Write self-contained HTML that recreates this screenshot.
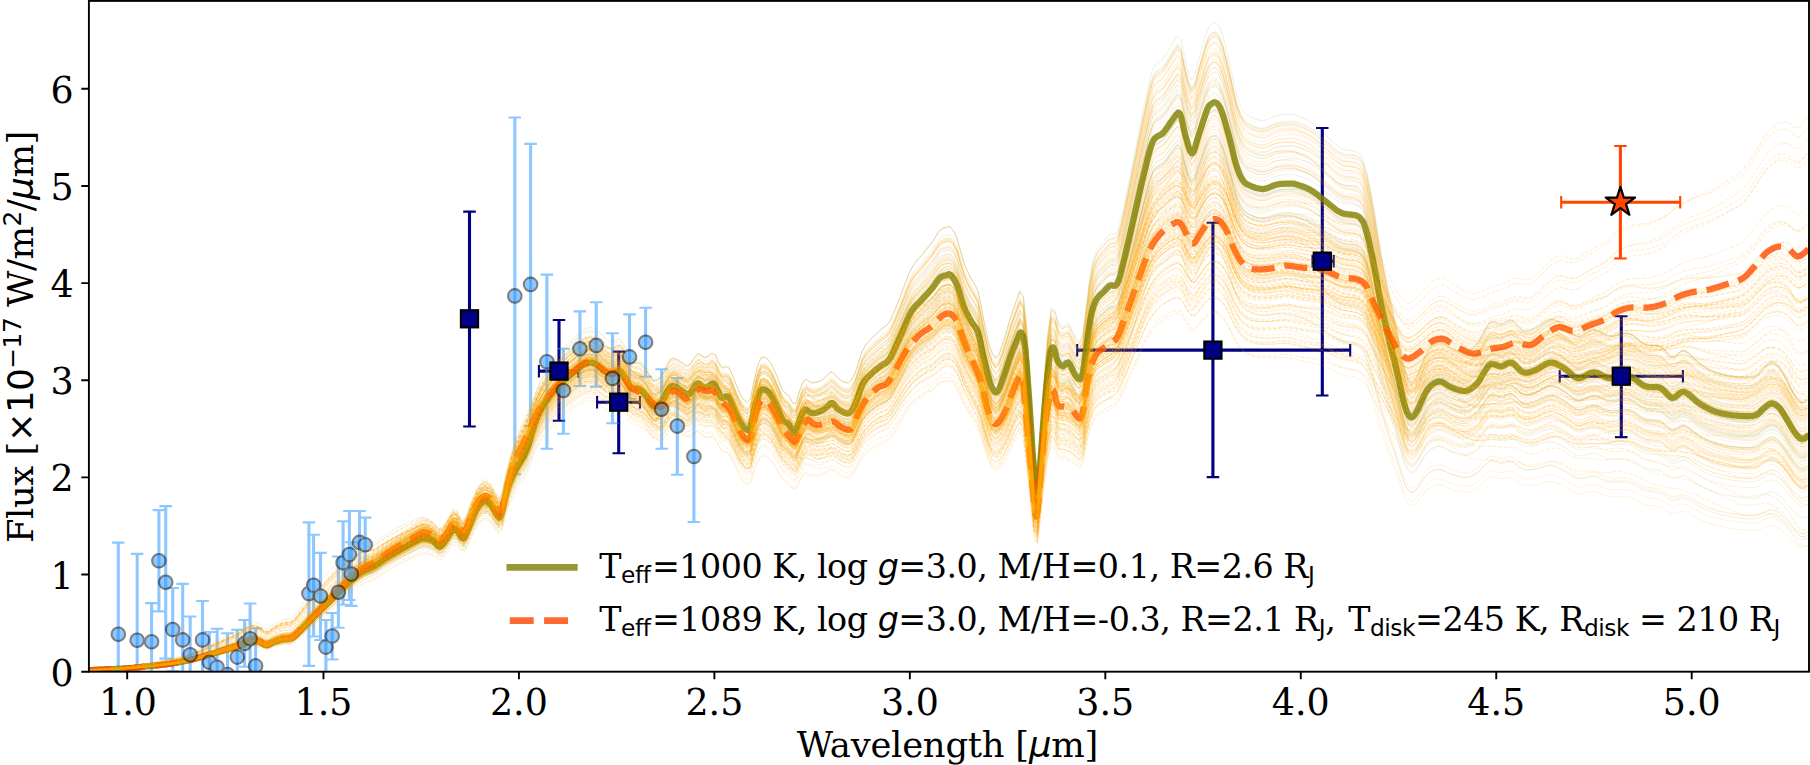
<!DOCTYPE html><html><head><meta charset="utf-8"><title>Spectrum</title><style>html,body{margin:0;padding:0;background:#fff}svg{display:block}</style></head><body><svg width="1810" height="765" viewBox="0 0 1810 765"><rect width="1810" height="765" fill="#fff"/><defs><clipPath id="ax"><rect x="88.9" y="0.9" width="1720.1" height="670.8000000000001"/></clipPath></defs><g clip-path="url(#ax)"><g id="navy-err"><path d="M469.5 211.6V426.5" stroke="#000080" stroke-width="3.1" fill="none"/><path d="M463.2 211.6H475.8M463.2 426.5H475.8" stroke="#000080" stroke-width="2.08" fill="none"/><path d="M559.0 320.0V420.7" stroke="#000080" stroke-width="3.1" fill="none"/><path d="M552.8 320.0H565.2M552.8 420.7H565.2" stroke="#000080" stroke-width="2.08" fill="none"/><path d="M538.9 371.1H578.2" stroke="#000080" stroke-width="3.1" fill="none"/><path d="M538.9 364.9V377.4M578.2 364.9V377.4" stroke="#000080" stroke-width="2.08" fill="none"/><path d="M618.7 351.6V453.3" stroke="#000080" stroke-width="3.1" fill="none"/><path d="M612.5 351.6H625.0M612.5 453.3H625.0" stroke="#000080" stroke-width="2.08" fill="none"/><path d="M597.1 402.2H640.0" stroke="#000080" stroke-width="3.1" fill="none"/><path d="M597.1 395.9V408.4M640.0 395.9V408.4" stroke="#000080" stroke-width="2.08" fill="none"/><path d="M1212.9 222.8V477.1" stroke="#000080" stroke-width="3.1" fill="none"/><path d="M1206.7 222.8H1219.2M1206.7 477.1H1219.2" stroke="#000080" stroke-width="2.08" fill="none"/><path d="M1077.2 350.1H1350.2" stroke="#000080" stroke-width="3.1" fill="none"/><path d="M1077.2 343.9V356.4M1350.2 343.9V356.4" stroke="#000080" stroke-width="2.08" fill="none"/><path d="M1322.3 128.0V395.5" stroke="#000080" stroke-width="3.1" fill="none"/><path d="M1316.0 128.0H1328.5M1316.0 395.5H1328.5" stroke="#000080" stroke-width="2.08" fill="none"/><path d="M1312.5 261.2H1333.7" stroke="#000080" stroke-width="3.1" fill="none"/><path d="M1312.5 254.9V267.4M1333.7 254.9V267.4" stroke="#000080" stroke-width="2.08" fill="none"/><path d="M1621.3 316.2V437.1" stroke="#000080" stroke-width="3.1" fill="none"/><path d="M1615.0 316.2H1627.5M1615.0 437.1H1627.5" stroke="#000080" stroke-width="2.08" fill="none"/><path d="M1559.7 376.2H1682.9" stroke="#000080" stroke-width="3.1" fill="none"/><path d="M1559.7 369.9V382.4M1682.9 369.9V382.4" stroke="#000080" stroke-width="2.08" fill="none"/></g><g id="blue-err" opacity="0.5"><path d="M118.3 542.6V726.0" stroke="#1e90ff" stroke-width="3.1" fill="none"/><path d="M112.0 542.6H124.5M112.0 726.0H124.5" stroke="#1e90ff" stroke-width="2.08" fill="none"/><path d="M137.2 553.9V726.7" stroke="#1e90ff" stroke-width="3.1" fill="none"/><path d="M130.9 553.9H143.4M130.9 726.7H143.4" stroke="#1e90ff" stroke-width="2.08" fill="none"/><path d="M151.6 603.1V680.5" stroke="#1e90ff" stroke-width="3.1" fill="none"/><path d="M145.3 603.1H157.8M145.3 680.5H157.8" stroke="#1e90ff" stroke-width="2.08" fill="none"/><path d="M158.9 510.1V611.4" stroke="#1e90ff" stroke-width="3.1" fill="none"/><path d="M152.7 510.1H165.2M152.7 611.4H165.2" stroke="#1e90ff" stroke-width="2.08" fill="none"/><path d="M165.7 506.1V658.6" stroke="#1e90ff" stroke-width="3.1" fill="none"/><path d="M159.4 506.1H171.9M159.4 658.6H171.9" stroke="#1e90ff" stroke-width="2.08" fill="none"/><path d="M172.7 588.0V671.0" stroke="#1e90ff" stroke-width="3.1" fill="none"/><path d="M166.4 588.0H178.9M166.4 671.0H178.9" stroke="#1e90ff" stroke-width="2.08" fill="none"/><path d="M182.7 583.9V696.0" stroke="#1e90ff" stroke-width="3.1" fill="none"/><path d="M176.4 583.9H188.9M176.4 696.0H188.9" stroke="#1e90ff" stroke-width="2.08" fill="none"/><path d="M190.2 616.5V693.0" stroke="#1e90ff" stroke-width="3.1" fill="none"/><path d="M183.9 616.5H196.4M183.9 693.0H196.4" stroke="#1e90ff" stroke-width="2.08" fill="none"/><path d="M202.5 601.0V678.8" stroke="#1e90ff" stroke-width="3.1" fill="none"/><path d="M196.2 601.0H208.8M196.2 678.8H208.8" stroke="#1e90ff" stroke-width="2.08" fill="none"/><path d="M209.4 632.0V692.0" stroke="#1e90ff" stroke-width="3.1" fill="none"/><path d="M203.2 632.0H215.7M203.2 692.0H215.7" stroke="#1e90ff" stroke-width="2.08" fill="none"/><path d="M217.1 628.8V705.0" stroke="#1e90ff" stroke-width="3.1" fill="none"/><path d="M210.8 628.8H223.3M210.8 705.0H223.3" stroke="#1e90ff" stroke-width="2.08" fill="none"/><path d="M227.5 633.3V710.0" stroke="#1e90ff" stroke-width="3.1" fill="none"/><path d="M221.2 633.3H233.8M221.2 710.0H233.8" stroke="#1e90ff" stroke-width="2.08" fill="none"/><path d="M237.3 629.7V684.5" stroke="#1e90ff" stroke-width="3.1" fill="none"/><path d="M231.1 629.7H243.6M231.1 684.5H243.6" stroke="#1e90ff" stroke-width="2.08" fill="none"/><path d="M244.6 620.0V666.8" stroke="#1e90ff" stroke-width="3.1" fill="none"/><path d="M238.3 620.0H250.8M238.3 666.8H250.8" stroke="#1e90ff" stroke-width="2.08" fill="none"/><path d="M250.1 603.5V674.0" stroke="#1e90ff" stroke-width="3.1" fill="none"/><path d="M243.8 603.5H256.4M243.8 674.0H256.4" stroke="#1e90ff" stroke-width="2.08" fill="none"/><path d="M255.6 628.4V703.0" stroke="#1e90ff" stroke-width="3.1" fill="none"/><path d="M249.3 628.4H261.9M249.3 703.0H261.9" stroke="#1e90ff" stroke-width="2.08" fill="none"/><path d="M308.9 522.4V665.9" stroke="#1e90ff" stroke-width="3.1" fill="none"/><path d="M302.6 522.4H315.1M302.6 665.9H315.1" stroke="#1e90ff" stroke-width="2.08" fill="none"/><path d="M313.6 534.8V636.5" stroke="#1e90ff" stroke-width="3.1" fill="none"/><path d="M307.4 534.8H319.9M307.4 636.5H319.9" stroke="#1e90ff" stroke-width="2.08" fill="none"/><path d="M320.5 552.9V640.0" stroke="#1e90ff" stroke-width="3.1" fill="none"/><path d="M314.2 552.9H326.8M314.2 640.0H326.8" stroke="#1e90ff" stroke-width="2.08" fill="none"/><path d="M325.9 620.0V674.0" stroke="#1e90ff" stroke-width="3.1" fill="none"/><path d="M319.6 620.0H332.1M319.6 674.0H332.1" stroke="#1e90ff" stroke-width="2.08" fill="none"/><path d="M332.2 613.0V659.5" stroke="#1e90ff" stroke-width="3.1" fill="none"/><path d="M325.9 613.0H338.4M325.9 659.5H338.4" stroke="#1e90ff" stroke-width="2.08" fill="none"/><path d="M338.4 556.5V627.8" stroke="#1e90ff" stroke-width="3.1" fill="none"/><path d="M332.1 556.5H344.6M332.1 627.8H344.6" stroke="#1e90ff" stroke-width="2.08" fill="none"/><path d="M343.1 521.2V604.7" stroke="#1e90ff" stroke-width="3.1" fill="none"/><path d="M336.9 521.2H349.4M336.9 604.7H349.4" stroke="#1e90ff" stroke-width="2.08" fill="none"/><path d="M349.4 511.0V600.0" stroke="#1e90ff" stroke-width="3.1" fill="none"/><path d="M343.1 511.0H355.6M343.1 600.0H355.6" stroke="#1e90ff" stroke-width="2.08" fill="none"/><path d="M351.3 542.3V605.9" stroke="#1e90ff" stroke-width="3.1" fill="none"/><path d="M345.1 542.3H357.6M345.1 605.9H357.6" stroke="#1e90ff" stroke-width="2.08" fill="none"/><path d="M359.5 511.0V573.8" stroke="#1e90ff" stroke-width="3.1" fill="none"/><path d="M353.2 511.0H365.8M353.2 573.8H365.8" stroke="#1e90ff" stroke-width="2.08" fill="none"/><path d="M365.2 517.6V571.8" stroke="#1e90ff" stroke-width="3.1" fill="none"/><path d="M358.9 517.6H371.4M358.9 571.8H371.4" stroke="#1e90ff" stroke-width="2.08" fill="none"/><path d="M514.8 117.5V474.3" stroke="#1e90ff" stroke-width="3.1" fill="none"/><path d="M508.5 117.5H521.0M508.5 474.3H521.0" stroke="#1e90ff" stroke-width="2.08" fill="none"/><path d="M530.6 143.9V426.0" stroke="#1e90ff" stroke-width="3.1" fill="none"/><path d="M524.4 143.9H536.9M524.4 426.0H536.9" stroke="#1e90ff" stroke-width="2.08" fill="none"/><path d="M546.9 274.6V448.7" stroke="#1e90ff" stroke-width="3.1" fill="none"/><path d="M540.6 274.6H553.1M540.6 448.7H553.1" stroke="#1e90ff" stroke-width="2.08" fill="none"/><path d="M563.4 348.8V433.8" stroke="#1e90ff" stroke-width="3.1" fill="none"/><path d="M557.1 348.8H569.6M557.1 433.8H569.6" stroke="#1e90ff" stroke-width="2.08" fill="none"/><path d="M579.9 311.4V386.0" stroke="#1e90ff" stroke-width="3.1" fill="none"/><path d="M573.6 311.4H586.1M573.6 386.0H586.1" stroke="#1e90ff" stroke-width="2.08" fill="none"/><path d="M596.2 302.3V386.6" stroke="#1e90ff" stroke-width="3.1" fill="none"/><path d="M590.0 302.3H602.5M590.0 386.6H602.5" stroke="#1e90ff" stroke-width="2.08" fill="none"/><path d="M612.5 333.3V423.2" stroke="#1e90ff" stroke-width="3.1" fill="none"/><path d="M606.2 333.3H618.8M606.2 423.2H618.8" stroke="#1e90ff" stroke-width="2.08" fill="none"/><path d="M629.5 314.4V398.7" stroke="#1e90ff" stroke-width="3.1" fill="none"/><path d="M623.2 314.4H635.8M623.2 398.7H635.8" stroke="#1e90ff" stroke-width="2.08" fill="none"/><path d="M645.6 307.8V376.8" stroke="#1e90ff" stroke-width="3.1" fill="none"/><path d="M639.4 307.8H651.9M639.4 376.8H651.9" stroke="#1e90ff" stroke-width="2.08" fill="none"/><path d="M661.6 369.3V448.7" stroke="#1e90ff" stroke-width="3.1" fill="none"/><path d="M655.4 369.3H667.9M655.4 448.7H667.9" stroke="#1e90ff" stroke-width="2.08" fill="none"/><path d="M677.3 378.1V474.8" stroke="#1e90ff" stroke-width="3.1" fill="none"/><path d="M671.0 378.1H683.5M671.0 474.8H683.5" stroke="#1e90ff" stroke-width="2.08" fill="none"/><path d="M693.9 391.0V522.0" stroke="#1e90ff" stroke-width="3.1" fill="none"/><path d="M687.6 391.0H700.1M687.6 522.0H700.1" stroke="#1e90ff" stroke-width="2.08" fill="none"/></g><defs><path id="o0" d="M88.9 670.3l3.5-.2 3.5-.3 3.5-.1 3.5-.2 3.5-.2 3.5-.1 3.5-.2 3.5-.1 3.5-.2 3.5-.2 3.5-.2 3.5-.2 3.5-.3 3.5-.4 3.5-.4 3.5-.4 3.5-.3 3.5-.4 3.5-.3 3.5-.4 3.5-.4 3.5-.5 3.5-.4 3.5-.5 3.5-.6 3.5-.6 3.5-.6 3.5-.8 3.5-.8 3.5-.8 3.5-.9 3.5-.9 3.5-1 3.5-1 3.5-1.1 3.5-1.1 3.5-1.1 3.5-1 3.5-1 3.5-1 3.5-1 3.5-1.1 3.5-1.3 3.5-1.6 3.5-1.6 3.5-1.2 3.5-.3 3.5 .5 3.5 1.1 3.5 1.9 3.5 .7 3.5-1.5 3.5-1.6 3.5-1.1 3.5-1 3.5-.6 3.5-.1 3.5-.9 3.5-2.5 3.5-3.5 3.5-3.4 3.5-3.5 3.5-3.5 3.5-3.5 3.5-3.5 3.5-3.5 3.5-3.5 3.5-3.5 3.5-3.5 3.5-3.5 3.5-3.5 3.5-3.6 3.5-3.6 3.5-3.2 3.5-3.1 3.5-3 3.5-2.8 3.5-2.6 3.5-1.9 3.5-1.3 3.5-1.3 3.5-2 3.5-2.5 3.5-2.6 3.5-2.4 3.5-2.2 3.5-2.1 3.5-2 3.5-2 3.5-2 3.5-2 3.5-1.9 3.5-1.9 3.5-1.8 3.5-1.6 3.5-.2 3.5 .6 3.5 1.1 3.5 3 3.5 3.3 3.5-1.6 3.5-4.6 3.5-5.6 3.5-5 3.5 .3 3.5 4.8 3.5 3.5 3.5-5.8 3.5-9 3.5-8.2 3.5-7.2 3.5-4.8 3.5-2.4 3.5 1.1 3.5 3.7 3.5 5.8 3.5 5.3 3.5-4.3 3.5-15.6 3.5-12.2 3.5-8 3.5-7.1 3.5-6 3.5-5.7 3.5-7.3 3.5-10.3 3.5-11.7 3.5-10.5 3.5-7.8 3.5-6.1 3.5-5.1 3.5-4.5 3.5-4.3 3.5-4 3.5-3.5 3.5-3.1 3.5-2.9 3.5-2.9 3.5-3 3.5-2.9 3.5-2.5 3.5-1.8 3.5-.9 3.5 .3 3.5 1.5 3.5 3.4 3.5 3.6 3.5 2.7 3.5 2 3.5 .2 3.5-1.4 3.5 .9 3.5 5.4 3.5 6.8 3.5 4.7 3.5 1.7 3.5 1 3.5 2.6 3.5 4.6 3.5 5.5 3.5 5.7 3.5 1.1 3.5-1.6 3.5-3.1 3.5-6 3.5-4.8 3.5-.9 3.5 2.1 3.5 2.7 3.5 2.7 3.5 2.5 3.5-1.3 3.5-4.5 3.5-2.7 3.5 2.4 3.5 2.5 3.5-.6 3.5-1.7 3.5 2.4 3.5 7.6 3.5 4.9 3.5-.7 3.5 2.3 3.5 7.5 3.5 7.9 3.5 7.3 3.5 5.4 3.5 3.3 3.5-2.3 3.5-13.4 3.5-12.1 3.5-7.1 3.5-.6 3.5 1.9 3.5 4.1 3.5 6 3.5 7.1 3.5 7.4 3.5 3.5 3.5 2.4 3.5 5.4 3.5 .8 3.5-9.6 3.5-7.7 3.5-2.1 3.5 2.4 3.5 .7 3.5-.5 3.5-1 3.5-1.7 3.5-2.4 3.5-2.9 3.5 1.6 3.5 3.6 3.5 2.2 3.5 1.5 3.5 .4 3.5-2.5 3.5-5.9 3.5-8.6 3.5-8.4 3.5-4.8 3.5-3.2 3.5-2.9 3.5-2.6 3.5-2.4 3.5-2.2 3.5-1.8 3.5-3.8 3.5-6.1 3.5-7 3.5-7 3.5-7.3 3.5-7.3 3.5-6.2 3.5-4.3 3.5-3.1 3.5-3 3.5-3.4 3.5-3.3 3.5-3.5 3.5-4.3 3.5-4.1 3.5-1.9 3.5-.5 3.5-.5 3.5 3.4 3.5 6 3.5 10 3.5 9.9 3.5 6.8 3.5 5.8 3.5 4.7 3.5 5.6 3.5 13.6 3.5 14.3 3.5 12.7 3.5 8.9 3.5 4.5 3.5-2.6 3.5-7.7 3.5-8.8 3.5-9.5 3.5-8.6 3.5-7.5 3.5-7.5 3.5 4.7 3.5 26.8 3.5 43.8 3.5 48 3.5 19.9 3.5-34.6 3.5-41.5 3.5-32.3 3.5-19.6 3.5 2.3 3.5 9.6 3.5 3.3 3.5-1.3 3.5-.8 3.5 5.9 3.5 5.5 3.5 3 3.5-6 3.5-22.4 3.5-21.5 3.5-14 3.5-6.5 3.5-3.5 3.5-2.8 3.5-3.3 3.5-1.9 3.5 .4 3.5-3 3.5-9.7 3.5-12.3 3.5-13.1 3.5-13.5 3.5-13.3 3.5-13.5 3.5-13.3 3.5-12.5 3.5-12.3 3.5-8.9 3.5-3.7 3.5-1.5 3.5-2.1 3.5-3.9 3.5-4.4 3.5-4.2 3.5-3.7 3.5 2.6 3.5 13.3 3.5 11.8 3.5 7.4 3.5-4 3.5-10.2 3.5-9.3 3.5-9.2 3.5-6.9 3.5-2.3 3.5-.4 3.5 3.6 3.5 7.4 3.5 10.5 3.5 11.5 3.5 12.8 3.5 11.3 3.5 7.9 3.5 5 3.5 2.7 3.5 1.6 3.5 1.3 3.5 1.1 3.5 .6 3.5 0 3.5-.8 3.5-1.1 3.5-1.1 3.5-.5 3.5-.2 3.5 0 3.5 .1 3.5 0 3.5 1 3.5 1 3.5 1.2 3.5 1.3 3.5 1.6 3.5 2.1 3.5 2.4 3.5 2.6 3.5 2.5 3.5 2.5 3.5 2.6 3.5 2.6 3.5 2.2 3.5 1.6 3.5 .9 3.5 .5 3.5 .4 3.5 .6 3.5 1.6 3.5 3.9 3.5 8.8 3.5 12.6 3.5 14.3 3.5 16.7 3.5 16.6 3.5 14.3 3.5 13.2 3.5 12.3 3.5 11.9 3.5 13 3.5 14 3.5 12.1 3.5 7.3 3.5 2.2 3.5-2.9 3.5-5.5 3.5-6.7 3.5-6.1 3.5-4.1 3.5-2.6 3.5-1.6 3.5-.5 3.5 1.1 3.5 2.1 3.5 1.8 3.5 1.2 3.5 1.1 3.5 .9 3.5 .5 3.5-.4 3.5-1.6 3.5-2.3 3.5-3.1 3.5-5 3.5-4.7 3.5-4 3.5-1.3 3.5 .9 3.5 1.3 3.5-.1 3.5-1.6 3.5-1 3.5 1.1 3.5 3 3.5 3.1 3.5 1.8 3.5 .3 3.5-.6 3.5-.9 3.5-1.3 3.5-1.6 3.5-1.7 3.5-1.1 3.5-.2 3.5 .8 3.5 1.6 3.5 1.9 3.5 2 3.5 2.7 3.5 2.8 3.5 1.9 3.5 .5 3.5-.9 3.5-1.5 3.5-1.3 3.5-.6 3.5 .8 3.5 1.6 3.5 1.6 3.5 1.3 3.5 .5 3.5-.2 3.5-.5 3.5-.4 3.5-.3 3.5 .3 3.5 1.3 3.5 2.1 3.5 2.4 3.5 2.2 3.5 1.3 3.5 .5 3.5 .2 3.5 .3 3.5 .8 3.5 2.3 3.5 3.2 3.5 2.6 3.5 .3 3.5-2 3.5-1.9 3.5 0 3.5 1.8 3.5 2.5 3.5 2.8 3.5 2.4 3.5 2 3.5 1.8 3.5 1.6 3.5 1.4 3.5 1.1 3.5 .9 3.5 .8 3.5 .7 3.5 .6 3.5 .5 3.5 .4 3.5 .3 3.5 .3 3.5 .1 3.5 0 3.5-.3 3.5-1.3 3.5-2.8 3.5-2.3 3.5-2 3.5-.7 3.5 1.4 3.5 2.5 3.5 4 3.5 4.9 3.5 5 3.5 4.7 3.5 4 3.5 2.8 3.5 .4 3.5-1.9"/><path id="o1" d="M88.9 670.3l3.5-.3 3.5-.2 3.5-.2 3.5-.2 3.5-.1 3.5-.2 3.5-.1 3.5-.2 3.5-.2 3.5-.1 3.5-.2 3.5-.3 3.5-.3 3.5-.4 3.5-.4 3.5-.4 3.5-.4 3.5-.3 3.5-.4 3.5-.4 3.5-.4 3.5-.5 3.5-.4 3.5-.5 3.5-.6 3.5-.6 3.5-.7 3.5-.7 3.5-.8 3.5-.9 3.5-.9 3.5-1 3.5-1 3.5-1.1 3.5-1.1 3.5-1.1 3.5-1 3.5-1.1 3.5-1 3.5-1.1 3.5-1 3.5-1.1 3.5-1.3 3.5-1.6 3.5-1.7 3.5-1.3 3.5-.3 3.5 .5 3.5 1.1 3.5 2 3.5 .8 3.5-1.6 3.5-1.7 3.5-1.1 3.5-1 3.5-.6 3.5-.1 3.5-.9 3.5-2.6 3.5-3.5 3.5-3.5 3.5-3.5 3.5-3.6 3.5-3.5 3.5-3.5 3.5-3.5 3.5-3.5 3.5-3.6 3.5-3.5 3.5-3.5 3.5-3.4 3.5-3.7 3.5-3.5 3.5-3.2 3.5-3 3.5-3 3.5-2.7 3.5-2.5 3.5-1.9 3.5-1.3 3.5-1.2 3.5-1.9 3.5-2.5 3.5-2.6 3.5-2.4 3.5-2.2 3.5-2 3.5-2.1 3.5-2 3.5-1.9 3.5-1.9 3.5-1.9 3.5-1.9 3.5-1.8 3.5-1.6 3.5-.1 3.5 .6 3.5 1.2 3.5 2.9 3.5 3.5 3.5-1.6 3.5-4.6 3.5-5.6 3.5-5 3.5 .4 3.5 4.8 3.5 3.5 3.5-5.8 3.5-9 3.5-8.2 3.5-7.2 3.5-4.8 3.5-2.4 3.5 1.1 3.5 3.7 3.5 5.8 3.5 5.3 3.5-4.3 3.5-15.6 3.5-12.2 3.5-8 3.5-7.1 3.5-6 3.5-5.7 3.5-7.3 3.5-10.3 3.5-11.7 3.5-10.5 3.5-7.8 3.5-6.1 3.5-5.1 3.5-4.5 3.5-4.3 3.5-4 3.5-3.5 3.5-3.1 3.5-2.9 3.5-2.9 3.5-3 3.5-2.9 3.5-2.5 3.5-1.8 3.5-.9 3.5 .3 3.5 1.5 3.5 2.8 3.5 3 3.5 2.2 3.5 1.4 3.5-.3 3.5-2 3.5 .3 3.5 4.9 3.5 6.3 3.5 4.2 3.5 1.3 3.5 .4 3.5 2.1 3.5 4.2 3.5 5.1 3.5 5.4 3.5 .6 3.5-2.2 3.5-3.8 3.5-6.7 3.5-5.6 3.5-1.5 3.5 1.7 3.5 2.2 3.5 2.3 3.5 2 3.5-1.9 3.5-5.3 3.5-3.5 3.5 2 3.5 2.1 3.5-1.2 3.5-2.4 3.5 1.9 3.5 7.6 3.5 4.6 3.5-1.2 3.5 1.8 3.5 7.6 3.5 8 3.5 7.4 3.5 5.4 3.5 3 3.5-3 3.5-15.1 3.5-13.2 3.5-7.9 3.5-.8 3.5 2 3.5 4.4 3.5 6.6 3.5 7.7 3.5 8 3.5 3.8 3.5 2.6 3.5 5.8 3.5 .9 3.5-10.7 3.5-8.6 3.5-2.3 3.5 2.6 3.5 .7 3.5-.6 3.5-1.2 3.5-2 3.5-2.7 3.5-3.3 3.5 1.8 3.5 3.9 3.5 2.3 3.5 1.6 3.5 .3 3.5-2.8 3.5-6.5 3.5-9.6 3.5-9.4 3.5-5.4 3.5-3.6 3.5-3.3 3.5-2.9 3.5-2.7 3.5-2.5 3.5-2.1 3.5-4.3 3.5-6.9 3.5-7.8 3.5-7.8 3.5-8.2 3.5-8.2 3.5-7 3.5-4.8 3.5-3.5 3.5-3.5 3.5-3.8 3.5-3.8 3.5-4 3.5-4.8 3.5-4.6 3.5-2.3 3.5-.6 3.5-.7 3.5 3.7 3.5 6.6 3.5 11 3.5 11 3.5 7.5 3.5 6.3 3.5 5.2 3.5 6.2 3.5 15.1 3.5 15.8 3.5 14.1 3.5 9.9 3.5 4.9 3.5-3 3.5-8.6 3.5-9.9 3.5-10.6 3.5-9.6 3.5-8.5 3.5-8.4 3.5 5.2 3.5 29.9 3.5 48.8 3.5 53.5 3.5 22.2 3.5-38.6 3.5-46.4 3.5-36 3.5-22 3.5 2.5 3.5 10.7 3.5 3.7 3.5-1.6 3.5-.9 3.5 6.5 3.5 6.1 3.5 3.4 3.5-6.7 3.5-25.1 3.5-24.1 3.5-15.7 3.5-7.4 3.5-4 3.5-3.2 3.5-3.6 3.5-2.2 3.5 .4 3.5-3.4 3.5-11 3.5-13.8 3.5-14.7 3.5-15.1 3.5-15.1 3.5-15.1 3.5-14.9 3.5-14.2 3.5-13.9 3.5-9.9 3.5-4.3 3.5-1.8 3.5-2.4 3.5-4.4 3.5-5.1 3.5-4.8 3.5-4.3 3.5 2.8 3.5 14.8 3.5 13.1 3.5 8.2 3.5-4.6 3.5-11.7 3.5-10.6 3.5-10.6 3.5-7.9 3.5-2.9 3.5-.6 3.5 3.9 3.5 8.2 3.5 11.6 3.5 12.7 3.5 14.3 3.5 12.5 3.5 8.7 3.5 5.5 3.5 2.9 3.5 1.6 3.5 1.3 3.5 1 3.5 .5 3.5-.3 3.5-1.1 3.5-1.4 3.5-1.4 3.5-.8 3.5-.4 3.5-.3 3.5-.1 3.5-.2 3.5 .9 3.5 1 3.5 1.1 3.5 1.3 3.5 1.6 3.5 2.1 3.5 2.5 3.5 2.7 3.5 2.7 3.5 2.6 3.5 2.8 3.5 2.7 3.5 2.3 3.5 1.6 3.5 .8 3.5 .4 3.5 .2 3.5 .5 3.5 1.6 3.5 4.3 3.5 9.8 3.5 14.3 3.5 16.3 3.5 18.9 3.5 19 3.5 16.3 3.5 15 3.5 14 3.5 13.5 3.5 14.9 3.5 16 3.5 13.8 3.5 8.3 3.5 2.4 3.5-3.4 3.5-6.5 3.5-7.8 3.5-7.2 3.5-4.9 3.5-3.1 3.5-2 3.5-.7 3.5 1.2 3.5 2.3 3.5 1.9 3.5 1.2 3.5 1.2 3.5 1 3.5 .4 3.5-.6 3.5-1.9 3.5-2.9 3.5-3.7 3.5-5.9 3.5-5.6 3.5-4.8 3.5-1.6 3.5 .9 3.5 1.3 3.5-.2 3.5-2.1 3.5-1.4 3.5 1.1 3.5 3.4 3.5 3.4 3.5 2 3.5 .2 3.5-.9 3.5-1.3 3.5-1.6 3.5-2.2 3.5-2.1 3.5-1.6 3.5-.4 3.5 .8 3.5 1.7 3.5 2.1 3.5 2.2 3.5 3 3.5 3.1 3.5 2.2 3.5 .4 3.5-1.3 3.5-1.9 3.5-1.8 3.5-.8 3.5 .8 3.5 1.6 3.5 1.9 3.5 1.3 3.5 .3 3.5-.4 3.5-.6 3.5-.8 3.5-.4 3.5 .2 3.5 1.3 3.5 2.3 3.5 2.8 3.5 2.5 3.5 1.3 3.5 .5 3.5 .1 3.5 .1 3.5 .8 3.5 2.6 3.5 3.7 3.5 2.9 3.5 .2 3.5-2.6 3.5-2.4 3.5-.1 3.5 2 3.5 2.9 3.5 3.1 3.5 2.8 3.5 2.2 3.5 2 3.5 1.8 3.5 1.5 3.5 1.3 3.5 1 3.5 .8 3.5 .7 3.5 .5 3.5 .5 3.5 .3 3.5 .3 3.5 .1 3.5 0 3.5-.1 3.5-.6 3.5-1.7 3.5-3.6 3.5-2.9 3.5-2.6 3.5-1 3.5 1.5 3.5 3 3.5 4.7 3.5 5.8 3.5 6 3.5 5.6 3.5 4.8 3.5 3.2 3.5 .4 3.5-2.4"/><path id="o2" d="M88.9 670.2l3.5-.3 3.5-.2 3.5-.3 3.5-.1 3.5-.2 3.5-.2 3.5-.1 3.5-.2 3.5-.2 3.5-.2 3.5-.2 3.5-.3 3.5-.3 3.5-.4 3.5-.4 3.5-.5 3.5-.4 3.5-.4 3.5-.3 3.5-.5 3.5-.4 3.5-.5 3.5-.5 3.5-.6 3.5-.5 3.5-.7 3.5-.7 3.5-.8 3.5-.9 3.5-1 3.5-.9 3.5-1.1 3.5-1 3.5-1.2 3.5-1.2 3.5-1.1 3.5-1.2 3.5-1.1 3.5-1.1 3.5-1.1 3.5-1.2 3.5-1.2 3.5-1.4 3.5-1.7 3.5-1.8 3.5-1.3 3.5-.4 3.5 .6 3.5 1.1 3.5 2.2 3.5 .8 3.5-1.7 3.5-1.8 3.5-1.2 3.5-1 3.5-.7 3.5-.2 3.5-.9 3.5-2.7 3.5-3.6 3.5-3.7 3.5-3.6 3.5-3.7 3.5-3.6 3.5-3.6 3.5-3.6 3.5-3.5 3.5-3.5 3.5-3.6 3.5-3.4 3.5-3.5 3.5-3.6 3.5-3.5 3.5-3.1 3.5-2.9 3.5-2.8 3.5-2.6 3.5-2.4 3.5-1.7 3.5-1 3.5-1 3.5-1.9 3.5-2.4 3.5-2.5 3.5-2.4 3.5-2.1 3.5-2 3.5-2 3.5-1.9 3.5-1.9 3.5-1.8 3.5-1.9 3.5-1.7 3.5-1.8 3.5-1.5 3.5 0 3.5 .7 3.5 1.3 3.5 3.1 3.5 3.5 3.5-1.5 3.5-4.5 3.5-5.5 3.5-4.9 3.5 .5 3.5 4.9 3.5 3.5 3.5-5.8 3.5-9 3.5-8.2 3.5-7.2 3.5-4.8 3.5-2.4 3.5 1.1 3.5 3.7 3.5 5.8 3.5 5.3 3.5-4.3 3.5-15.6 3.5-12.2 3.5-8 3.5-7.1 3.5-6 3.5-5.7 3.5-7.3 3.5-10.3 3.5-11.7 3.5-10.5 3.5-7.8 3.5-6.1 3.5-5.1 3.5-4.5 3.5-4.3 3.5-4 3.5-3.5 3.5-3.1 3.5-2.9 3.5-2.9 3.5-3 3.5-2.9 3.5-2.5 3.5-1.8 3.5-.9 3.5 .3 3.5 1.5 3.5 3.7 3.5 3.8 3.5 3.1 3.5 2.2 3.5 .5 3.5-1.1 3.5 1.2 3.5 5.7 3.5 7 3.5 4.9 3.5 2.1 3.5 1.2 3.5 2.9 3.5 4.7 3.5 5.7 3.5 5.9 3.5 1.4 3.5-1.3 3.5-2.8 3.5-5.6 3.5-4.4 3.5-.6 3.5 2.4 3.5 2.9 3.5 2.9 3.5 2.7 3.5-1 3.5-4 3.5-2.4 3.5 2.7 3.5 2.7 3.5-.3 3.5-1.3 3.5 2.6 3.5 7.6 3.5 5 3.5-.4 3.5 2.5 3.5 7.5 3.5 7.8 3.5 7.3 3.5 5.4 3.5 3.4 3.5-1.9 3.5-12.6 3.5-11.4 3.5-6.7 3.5-.6 3.5 1.8 3.5 4 3.5 5.8 3.5 6.7 3.5 7.1 3.5 3.4 3.5 2.3 3.5 5.1 3.5 .9 3.5-9.1 3.5-7.3 3.5-2 3.5 2.3 3.5 .8 3.5-.5 3.5-.9 3.5-1.6 3.5-2.2 3.5-2.7 3.5 1.6 3.5 3.4 3.5 2.1 3.5 1.5 3.5 .4 3.5-2.3 3.5-5.5 3.5-8.1 3.5-8 3.5-4.4 3.5-3 3.5-2.8 3.5-2.3 3.5-2.2 3.5-2 3.5-1.7 3.5-3.6 3.5-5.7 3.5-6.5 3.5-6.6 3.5-6.8 3.5-6.8 3.5-5.8 3.5-4 3.5-2.8 3.5-2.8 3.5-3.1 3.5-3 3.5-3.2 3.5-3.9 3.5-3.8 3.5-1.7 3.5-.4 3.5-.4 3.5 3.3 3.5 5.7 3.5 9.5 3.5 9.5 3.5 6.5 3.5 5.5 3.5 4.5 3.5 5.4 3.5 12.9 3.5 13.5 3.5 12 3.5 8.4 3.5 4.3 3.5-2.4 3.5-7.1 3.5-8.1 3.5-8.8 3.5-7.9 3.5-6.9 3.5-6.9 3.5 4.5 3.5 25.1 3.5 41.1 3.5 44.8 3.5 18.7 3.5-32.2 3.5-38.5 3.5-29.9 3.5-18.2 3.5 2.3 3.5 9 3.5 3.3 3.5-1.1 3.5-.6 3.5 5.6 3.5 5.2 3.5 3 3.5-5.4 3.5-20.6 3.5-19.7 3.5-12.8 3.5-5.9 3.5-3 3.5-2.4 3.5-2.8 3.5-1.6 3.5 .6 3.5-2.6 3.5-8.8 3.5-11.1 3.5-11.8 3.5-12.1 3.5-12.1 3.5-12.1 3.5-12 3.5-11.3 3.5-11 3.5-7.9 3.5-3.2 3.5-1.1 3.5-1.7 3.5-3.4 3.5-3.8 3.5-3.7 3.5-3.2 3.5 2.6 3.5 12.3 3.5 10.9 3.5 6.9 3.5-3.4 3.5-9.1 3.5-8.3 3.5-8.2 3.5-6.2 3.5-2 3.5-.1 3.5 3.3 3.5 6.9 3.5 9.6 3.5 10.5 3.5 11.8 3.5 10.2 3.5 7.2 3.5 4.7 3.5 2.4 3.5 1.5 3.5 1.2 3.5 1 3.5 .6 3.5-.1 3.5-.7 3.5-1 3.5-.9 3.5-.5 3.5-.2 3.5-.1 3.5 .1 3.5-.1 3.5 .9 3.5 .9 3.5 1 3.5 1.1 3.5 1.4 3.5 1.8 3.5 2.1 3.5 2.3 3.5 2.2 3.5 2.2 3.5 2.3 3.5 2.2 3.5 2 3.5 1.4 3.5 .7 3.5 .4 3.5 .2 3.5 .5 3.5 1.4 3.5 3.5 3.5 7.9 3.5 11.4 3.5 13 3.5 15.1 3.5 15.1 3.5 13 3.5 12 3.5 11.1 3.5 10.8 3.5 11.9 3.5 12.7 3.5 11 3.5 6.6 3.5 2 3.5-2.6 3.5-5.1 3.5-6.1 3.5-5.6 3.5-3.7 3.5-2.4 3.5-1.5 3.5-.5 3.5 1 3.5 1.9 3.5 1.6 3.5 1.1 3.5 1.1 3.5 .8 3.5 .4 3.5-.4 3.5-1.4 3.5-2.1 3.5-2.8 3.5-4.5 3.5-4.4 3.5-3.6 3.5-1.1 3.5 .8 3.5 1.3 3.5 0 3.5-1.5 3.5-.8 3.5 1 3.5 2.8 3.5 2.9 3.5 1.7 3.5 .4 3.5-.5 3.5-.8 3.5-1.1 3.5-1.4 3.5-1.4 3.5-1 3.5-.1 3.5 .8 3.5 1.5 3.5 1.8 3.5 2 3.5 2.5 3.5 2.5 3.5 1.9 3.5 .5 3.5-.8 3.5-1.2 3.5-1.2 3.5-.3 3.5 .7 3.5 1.5 3.5 1.6 3.5 1.2 3.5 .5 3.5-.1 3.5-.3 3.5-.3 3.5-.1 3.5 .3 3.5 1.3 3.5 1.9 3.5 2.3 3.5 2.1 3.5 1.2 3.5 .5 3.5 .3 3.5 .3 3.5 .9 3.5 2 3.5 3 3.5 2.4 3.5 .4 3.5-1.8 3.5-1.6 3.5 .1 3.5 1.7 3.5 2.4 3.5 2.5 3.5 2.3 3.5 1.8 3.5 1.7 3.5 1.5 3.5 1.3 3.5 1.1 3.5 .9 3.5 .8 3.5 .7 3.5 .6 3.5 .5 3.5 .5 3.5 .3 3.5 .3 3.5 .2 3.5 .1 3.5-.2 3.5-1.1 3.5-2.4 3.5-2 3.5-1.7 3.5-.5 3.5 1.3 3.5 2.4 3.5 3.6 3.5 4.3 3.5 4.6 3.5 4.2 3.5 3.6 3.5 2.5 3.5 .4 3.5-1.5"/><path id="o3" d="M88.9 670.3l3.5-.3 3.5-.2 3.5-.2 3.5-.2 3.5-.1 3.5-.2 3.5-.2 3.5-.1 3.5-.2 3.5-.2 3.5-.2 3.5-.2 3.5-.4 3.5-.3 3.5-.4 3.5-.4 3.5-.4 3.5-.4 3.5-.3 3.5-.4 3.5-.5 3.5-.4 3.5-.5 3.5-.5 3.5-.6 3.5-.6 3.5-.6 3.5-.8 3.5-.8 3.5-.9 3.5-.9 3.5-1 3.5-1 3.5-1.1 3.5-1.1 3.5-1.1 3.5-1.1 3.5-1.1 3.5-1 3.5-1 3.5-1.1 3.5-1.1 3.5-1.3 3.5-1.7 3.5-1.6 3.5-1.3 3.5-.3 3.5 .5 3.5 1.1 3.5 2 3.5 .8 3.5-1.6 3.5-1.7 3.5-1.1 3.5-1 3.5-.6 3.5-.2 3.5-.9 3.5-2.5 3.5-3.6 3.5-3.5 3.5-3.5 3.5-3.6 3.5-3.5 3.5-3.6 3.5-3.5 3.5-3.5 3.5-3.5 3.5-3.5 3.5-3.5 3.5-3.5 3.5-3.6 3.5-3.5 3.5-3.2 3.5-3 3.5-3 3.5-2.7 3.5-2.5 3.5-1.9 3.5-1.2 3.5-1.2 3.5-1.9 3.5-2.5 3.5-2.6 3.5-2.4 3.5-2.2 3.5-2 3.5-2 3.5-2 3.5-2 3.5-1.9 3.5-1.8 3.5-1.9 3.5-1.8 3.5-1.6 3.5-.1 3.5 .6 3.5 1.2 3.5 3 3.5 3.4 3.5-1.6 3.5-4.6 3.5-5.5 3.5-5 3.5 .4 3.5 4.8 3.5 3.5 3.5-5.8 3.5-9 3.5-8.2 3.5-7.2 3.5-4.8 3.5-2.4 3.5 1.1 3.5 3.7 3.5 5.8 3.5 5.3 3.5-4.3 3.5-15.6 3.5-12.2 3.5-8 3.5-7.1 3.5-6 3.5-5.7 3.5-7.3 3.5-10.3 3.5-11.7 3.5-10.5 3.5-7.8 3.5-6.1 3.5-5.1 3.5-4.5 3.5-4.3 3.5-4 3.5-3.5 3.5-3.1 3.5-2.9 3.5-2.9 3.5-3 3.5-2.9 3.5-2.5 3.5-1.8 3.5-.9 3.5 .3 3.5 1.5 3.5 2.5 3.5 2.7 3.5 1.9 3.5 1.1 3.5-.7 3.5-2.3 3.5 0 3.5 4.6 3.5 6.1 3.5 4 3.5 1 3.5 .1 3.5 1.9 3.5 3.9 3.5 4.9 3.5 5.2 3.5 .3 3.5-2.5 3.5-4.1 3.5-7.2 3.5-6 3.5-1.8 3.5 1.4 3.5 2 3.5 2.1 3.5 1.7 3.5-2.2 3.5-5.8 3.5-3.9 3.5 1.8 3.5 1.9 3.5-1.6 3.5-2.8 3.5 1.8 3.5 7.5 3.5 4.5 3.5-1.6 3.5 1.7 3.5 7.6 3.5 8 3.5 7.5 3.5 5.3 3.5 3 3.5-3.4 3.5-16 3.5-14 3.5-8.2 3.5-.9 3.5 2.1 3.5 4.6 3.5 6.8 3.5 8 3.5 8.3 3.5 4 3.5 2.7 3.5 6 3.5 .9 3.5-11.2 3.5-9 3.5-2.6 3.5 2.7 3.5 .8 3.5-.7 3.5-1.3 3.5-2.2 3.5-2.8 3.5-3.5 3.5 1.8 3.5 4 3.5 2.4 3.5 1.6 3.5 .4 3.5-3 3.5-7 3.5-10.1 3.5-10 3.5-5.6 3.5-3.9 3.5-3.5 3.5-3.2 3.5-2.9 3.5-2.7 3.5-2.2 3.5-4.7 3.5-7.2 3.5-8.4 3.5-8.3 3.5-8.7 3.5-8.8 3.5-7.4 3.5-5.2 3.5-3.8 3.5-3.8 3.5-4.1 3.5-4.2 3.5-4.3 3.5-5.2 3.5-5.1 3.5-2.5 3.5-.9 3.5-.8 3.5 3.7 3.5 6.8 3.5 11.6 3.5 11.5 3.5 7.7 3.5 6.6 3.5 5.4 3.5 6.3 3.5 15.9 3.5 16.7 3.5 14.8 3.5 10.3 3.5 5.1 3.5-3.3 3.5-9.4 3.5-10.7 3.5-11.5 3.5-10.5 3.5-9.3 3.5-9.2 3.5 5.4 3.5 31.6 3.5 52.2 3.5 57.1 3.5 23.7 3.5-41.6 3.5-50 3.5-39 3.5-23.8 3.5 2.4 3.5 11.2 3.5 3.7 3.5-2 3.5-1.2 3.5 6.7 3.5 6.4 3.5 3.4 3.5-7.6 3.5-27.5 3.5-26.5 3.5-17.4 3.5-8.3 3.5-4.7 3.5-3.8 3.5-4.4 3.5-2.7 3.5 .1 3.5-4.1 3.5-12.4 3.5-15.5 3.5-16.4 3.5-17 3.5-16.9 3.5-17.1 3.5-16.8 3.5-16 3.5-15.7 3.5-11.3 3.5-5.2 3.5-2.3 3.5-3 3.5-5.3 3.5-6 3.5-5.6 3.5-5.1 3.5 2.8 3.5 16.1 3.5 14.2 3.5 8.8 3.5-5.4 3.5-13.1 3.5-12.1 3.5-11.9 3.5-9 3.5-3.4 3.5-.8 3.5 4.2 3.5 9 3.5 12.8 3.5 14.1 3.5 15.9 3.5 13.9 3.5 9.7 3.5 6.1 3.5 3.2 3.5 1.9 3.5 1.5 3.5 1.2 3.5 .7 3.5-.2 3.5-1.1 3.5-1.5 3.5-1.3 3.5-.7 3.5-.3 3.5-.1 3.5 .1 3.5 0 3.5 1.2 3.5 1.4 3.5 1.4 3.5 1.7 3.5 2.1 3.5 2.6 3.5 3.1 3.5 3.2 3.5 3.3 3.5 3.1 3.5 3.4 3.5 3.3 3.5 2.9 3.5 2 3.5 1.2 3.5 .7 3.5 .5 3.5 .8 3.5 2.2 3.5 5 3.5 11 3.5 15.9 3.5 18 3.5 21 3.5 21 3.5 18 3.5 16.6 3.5 15.5 3.5 14.9 3.5 16.4 3.5 17.6 3.5 15.2 3.5 9.1 3.5 2.8 3.5-3.6 3.5-7 3.5-8.3 3.5-7.7 3.5-5.2 3.5-3.3 3.5-2 3.5-.7 3.5 1.3 3.5 2.6 3.5 2.2 3.5 1.4 3.5 1.4 3.5 1.1 3.5 .5 3.5-.6 3.5-2 3.5-3 3.5-4 3.5-6.3 3.5-6.1 3.5-5.2 3.5-1.7 3.5 1 3.5 1.5 3.5-.3 3.5-2.3 3.5-1.4 3.5 1.1 3.5 3.6 3.5 3.7 3.5 2.1 3.5 .2 3.5-1 3.5-1.4 3.5-1.8 3.5-2.4 3.5-2.3 3.5-1.7 3.5-.5 3.5 .8 3.5 1.8 3.5 2.2 3.5 2.4 3.5 3.1 3.5 3.3 3.5 2.3 3.5 .4 3.5-1.4 3.5-2.2 3.5-2 3.5-.9 3.5 .7 3.5 1.8 3.5 1.9 3.5 1.4 3.5 .3 3.5-.5 3.5-.8 3.5-.8 3.5-.6 3.5 .1 3.5 1.4 3.5 2.5 3.5 2.9 3.5 2.6 3.5 1.4 3.5 .5 3.5 0 3.5 .1 3.5 .8 3.5 2.7 3.5 3.9 3.5 3.2 3.5 .2 3.5-3 3.5-2.7 3.5-.2 3.5 2.1 3.5 3.1 3.5 3.4 3.5 2.9 3.5 2.4 3.5 2.1 3.5 1.9 3.5 1.6 3.5 1.3 3.5 1 3.5 .9 3.5 .6 3.5 .6 3.5 .4 3.5 .3 3.5 .2 3.5 .1 3.5 0 3.5-.3 3.5-.6 3.5-2 3.5-4 3.5-3.3 3.5-2.9 3.5-1.2 3.5 1.6 3.5 3.2 3.5 5.1 3.5 6.3 3.5 6.6 3.5 6.1 3.5 5.1 3.5 3.6 3.5 .3 3.5-2.7"/><path id="o4" d="M88.9 670.1l3.5-.3 3.5-.3 3.5-.2 3.5-.2 3.5-.2 3.5-.1 3.5-.2 3.5-.2 3.5-.2 3.5-.2 3.5-.2 3.5-.3 3.5-.4 3.5-.4 3.5-.4 3.5-.5 3.5-.4 3.5-.4 3.5-.4 3.5-.5 3.5-.5 3.5-.5 3.5-.5 3.5-.6 3.5-.6 3.5-.7 3.5-.8 3.5-.8 3.5-1 3.5-1 3.5-1 3.5-1.1 3.5-1.1 3.5-1.2 3.5-1.3 3.5-1.2 3.5-1.3 3.5-1.2 3.5-1.1 3.5-1.2 3.5-1.2 3.5-1.3 3.5-1.5 3.5-1.8 3.5-1.9 3.5-1.4 3.5-.3 3.5 .5 3.5 1.3 3.5 2.3 3.5 .8 3.5-1.8 3.5-1.9 3.5-1.3 3.5-1.1 3.5-.7 3.5-.2 3.5-1 3.5-2.7 3.5-3.8 3.5-3.8 3.5-3.7 3.5-3.8 3.5-3.7 3.5-3.6 3.5-3.6 3.5-3.6 3.5-3.6 3.5-3.5 3.5-3.5 3.5-3.4 3.5-3.5 3.5-3.5 3.5-3 3.5-2.8 3.5-2.7 3.5-2.6 3.5-2.2 3.5-1.5 3.5-.9 3.5-.8 3.5-1.7 3.5-2.4 3.5-2.5 3.5-2.4 3.5-2 3.5-2 3.5-1.9 3.5-1.9 3.5-1.8 3.5-1.8 3.5-1.7 3.5-1.7 3.5-1.7 3.5-1.4 3.5 0 3.5 .9 3.5 1.3 3.5 3.2 3.5 3.6 3.5-1.4 3.5-4.5 3.5-5.4 3.5-4.8 3.5 .6 3.5 5 3.5 3.5 3.5-5.8 3.5-9 3.5-8.2 3.5-7.2 3.5-4.8 3.5-2.4 3.5 1.1 3.5 3.7 3.5 5.8 3.5 5.3 3.5-4.3 3.5-15.6 3.5-12.2 3.5-8 3.5-7.1 3.5-6 3.5-5.7 3.5-7.3 3.5-10.3 3.5-11.7 3.5-10.5 3.5-7.8 3.5-6.1 3.5-5.1 3.5-4.5 3.5-4.3 3.5-4 3.5-3.5 3.5-3.1 3.5-2.9 3.5-2.9 3.5-3 3.5-2.9 3.5-2.5 3.5-1.8 3.5-.9 3.5 .3 3.5 1.5 3.5 2.9 3.5 3.1 3.5 2.3 3.5 1.5 3.5-.2 3.5-1.9 3.5 .4 3.5 5 3.5 6.4 3.5 4.3 3.5 1.4 3.5 .4 3.5 2.3 3.5 4.2 3.5 5.2 3.5 5.4 3.5 .7 3.5-2 3.5-3.7 3.5-6.6 3.5-5.4 3.5-1.4 3.5 1.7 3.5 2.3 3.5 2.4 3.5 2.1 3.5-1.8 3.5-5.2 3.5-3.3 3.5 2.1 3.5 2.1 3.5-1.1 3.5-2.3 3.5 2.1 3.5 7.5 3.5 4.7 3.5-1.1 3.5 1.9 3.5 7.6 3.5 8 3.5 7.4 3.5 5.3 3.5 3.1 3.5-2.9 3.5-14.7 3.5-13.1 3.5-7.7 3.5-.8 3.5 2 3.5 4.4 3.5 6.4 3.5 7.6 3.5 7.9 3.5 3.8 3.5 2.5 3.5 5.7 3.5 .9 3.5-10.5 3.5-8.4 3.5-2.3 3.5 2.6 3.5 .7 3.5-.6 3.5-1.2 3.5-1.9 3.5-2.6 3.5-3.3 3.5 1.8 3.5 3.8 3.5 2.3 3.5 1.6 3.5 .4 3.5-2.8 3.5-6.4 3.5-9.4 3.5-9.3 3.5-5.2 3.5-3.6 3.5-3.2 3.5-2.9 3.5-2.6 3.5-2.4 3.5-2.1 3.5-4.2 3.5-6.7 3.5-7.7 3.5-7.7 3.5-8 3.5-8 3.5-6.9 3.5-4.7 3.5-3.4 3.5-3.4 3.5-3.7 3.5-3.7 3.5-4 3.5-4.7 3.5-4.5 3.5-2.2 3.5-.6 3.5-.7 3.5 3.6 3.5 6.5 3.5 10.9 3.5 10.8 3.5 7.3 3.5 6.3 3.5 5.1 3.5 6 3.5 14.9 3.5 15.5 3.5 13.9 3.5 9.6 3.5 4.9 3.5-2.9 3.5-8.5 3.5-9.7 3.5-10.4 3.5-9.4 3.5-8.3 3.5-8.2 3.5 5.1 3.5 29.2 3.5 48 3.5 52.5 3.5 21.8 3.5-37.9 3.5-45.5 3.5-35.4 3.5-21.5 3.5 2.4 3.5 10.5 3.5 3.6 3.5-1.5 3.5-.8 3.5 6.3 3.5 6 3.5 3.3 3.5-6.5 3.5-24.7 3.5-23.6 3.5-15.4 3.5-7.2 3.5-3.9 3.5-3.2 3.5-3.5 3.5-2.1 3.5 .3 3.5-3.3 3.5-10.8 3.5-13.5 3.5-14.4 3.5-14.9 3.5-14.7 3.5-14.9 3.5-14.6 3.5-13.9 3.5-13.6 3.5-9.7 3.5-4.2 3.5-1.7 3.5-2.4 3.5-4.3 3.5-5 3.5-4.7 3.5-4.2 3.5 2.8 3.5 14.5 3.5 12.9 3.5 8 3.5-4.5 3.5-11.4 3.5-10.4 3.5-10.3 3.5-7.8 3.5-2.7 3.5-.6 3.5 3.8 3.5 8.1 3.5 11.4 3.5 12.5 3.5 14.1 3.5 12.3 3.5 8.5 3.5 5.4 3.5 2.8 3.5 1.6 3.5 1.4 3.5 1 3.5 .5 3.5-.2 3.5-1.1 3.5-1.4 3.5-1.3 3.5-.7 3.5-.4 3.5-.2 3.5-.1 3.5-.1 3.5 .9 3.5 1 3.5 1.1 3.5 1.3 3.5 1.6 3.5 2.1 3.5 2.5 3.5 2.7 3.5 2.6 3.5 2.6 3.5 2.8 3.5 2.7 3.5 2.3 3.5 1.6 3.5 .8 3.5 .4 3.5 .2 3.5 .6 3.5 1.6 3.5 4.3 3.5 9.6 3.5 13.9 3.5 16 3.5 18.5 3.5 18.6 3.5 15.9 3.5 14.7 3.5 13.7 3.5 13.2 3.5 14.6 3.5 15.6 3.5 13.5 3.5 8.1 3.5 2.4 3.5-3.3 3.5-6.4 3.5-7.6 3.5-6.9 3.5-4.8 3.5-3 3.5-1.9 3.5-.7 3.5 1.2 3.5 2.2 3.5 1.9 3.5 1.3 3.5 1.2 3.5 .9 3.5 .4 3.5-.6 3.5-1.8 3.5-2.8 3.5-3.6 3.5-5.7 3.5-5.5 3.5-4.6 3.5-1.6 3.5 .9 3.5 1.4 3.5-.2 3.5-2 3.5-1.3 3.5 1.1 3.5 3.2 3.5 3.4 3.5 2 3.5 .2 3.5-.9 3.5-1.2 3.5-1.5 3.5-2.1 3.5-2 3.5-1.5 3.5-.4 3.5 .8 3.5 1.7 3.5 2.1 3.5 2.1 3.5 3 3.5 3 3.5 2.1 3.5 .5 3.5-1.3 3.5-1.8 3.5-1.7 3.5-.7 3.5 .7 3.5 1.6 3.5 1.8 3.5 1.3 3.5 .4 3.5-.3 3.5-.7 3.5-.6 3.5-.5 3.5 .3 3.5 1.3 3.5 2.3 3.5 2.7 3.5 2.4 3.5 1.3 3.5 .5 3.5 .1 3.5 .2 3.5 .8 3.5 2.5 3.5 3.6 3.5 2.9 3.5 .2 3.5-2.5 3.5-2.3 3.5-.1 3.5 1.9 3.5 2.9 3.5 3 3.5 2.8 3.5 2.1 3.5 2 3.5 1.8 3.5 1.5 3.5 1.2 3.5 1 3.5 .8 3.5 .7 3.5 .5 3.5 .5 3.5 .3 3.5 .3 3.5 .2 3.5 0 3.5-.1 3.5-.5 3.5-1.7 3.5-3.4 3.5-2.9 3.5-2.5 3.5-.9 3.5 1.5 3.5 2.9 3.5 4.6 3.5 5.6 3.5 5.9 3.5 5.4 3.5 4.6 3.5 3.2 3.5 .4 3.5-2.3"/><path id="o5" d="M88.9 670.4l3.5-.2 3.5-.2 3.5-.2 3.5-.2 3.5-.1 3.5-.2 3.5-.1 3.5-.1 3.5-.2 3.5-.2 3.5-.2 3.5-.2 3.5-.3 3.5-.3 3.5-.4 3.5-.4 3.5-.3 3.5-.3 3.5-.4 3.5-.3 3.5-.4 3.5-.4 3.5-.5 3.5-.4 3.5-.5 3.5-.6 3.5-.6 3.5-.7 3.5-.8 3.5-.8 3.5-.8 3.5-.9 3.5-.9 3.5-1 3.5-1 3.5-1 3.5-1 3.5-.9 3.5-1 3.5-.9 3.5-1 3.5-1 3.5-1.2 3.5-1.5 3.5-1.5 3.5-1.2 3.5-.2 3.5 .4 3.5 1 3.5 1.9 3.5 .6 3.5-1.4 3.5-1.5 3.5-1.1 3.5-.9 3.5-.5 3.5-.2 3.5-.8 3.5-2.4 3.5-3.4 3.5-3.3 3.5-3.4 3.5-3.4 3.5-3.5 3.5-3.4 3.5-3.4 3.5-3.5 3.5-3.5 3.5-3.5 3.5-3.5 3.5-3.5 3.5-3.7 3.5-3.6 3.5-3.3 3.5-3.1 3.5-3.1 3.5-3 3.5-2.6 3.5-2.1 3.5-1.5 3.5-1.5 3.5-2 3.5-2.6 3.5-2.6 3.5-2.5 3.5-2.2 3.5-2.1 3.5-2.1 3.5-2.1 3.5-2 3.5-2 3.5-2 3.5-1.9 3.5-2 3.5-1.7 3.5-.2 3.5 .5 3.5 1.1 3.5 2.8 3.5 3.3 3.5-1.7 3.5-4.7 3.5-5.7 3.5-5.1 3.5 .3 3.5 4.7 3.5 3.5 3.5-5.8 3.5-9 3.5-8.2 3.5-7.2 3.5-4.8 3.5-2.4 3.5 1.1 3.5 3.7 3.5 5.8 3.5 5.3 3.5-4.3 3.5-15.6 3.5-12.2 3.5-8 3.5-7.1 3.5-6 3.5-5.7 3.5-7.3 3.5-10.3 3.5-11.7 3.5-10.5 3.5-7.8 3.5-6.1 3.5-5.1 3.5-4.5 3.5-4.3 3.5-4 3.5-3.5 3.5-3.1 3.5-2.9 3.5-2.9 3.5-3 3.5-2.9 3.5-2.5 3.5-1.8 3.5-.9 3.5 .3 3.5 1.5 3.5 3.3 3.5 3.5 3.5 2.6 3.5 1.9 3.5 .1 3.5-1.5 3.5 .8 3.5 5.3 3.5 6.7 3.5 4.6 3.5 1.7 3.5 .8 3.5 2.6 3.5 4.5 3.5 5.4 3.5 5.7 3.5 1 3.5-1.7 3.5-3.3 3.5-6.1 3.5-4.9 3.5-1 3.5 2 3.5 2.6 3.5 2.7 3.5 2.3 3.5-1.4 3.5-4.6 3.5-2.9 3.5 2.4 3.5 2.4 3.5-.7 3.5-1.8 3.5 2.3 3.5 7.6 3.5 4.8 3.5-.7 3.5 2.1 3.5 7.6 3.5 7.9 3.5 7.3 3.5 5.4 3.5 3.3 3.5-2.5 3.5-13.7 3.5-12.3 3.5-7.2 3.5-.7 3.5 1.9 3.5 4.2 3.5 6.1 3.5 7.2 3.5 7.5 3.5 3.6 3.5 2.4 3.5 5.5 3.5 .8 3.5-9.8 3.5-7.9 3.5-2.1 3.5 2.4 3.5 .8 3.5-.6 3.5-1 3.5-1.8 3.5-2.4 3.5-3 3.5 1.6 3.5 3.7 3.5 2.2 3.5 1.5 3.5 .4 3.5-2.6 3.5-6 3.5-8.8 3.5-8.6 3.5-4.9 3.5-3.3 3.5-3 3.5-2.6 3.5-2.5 3.5-2.2 3.5-1.9 3.5-4 3.5-6.2 3.5-7.2 3.5-7.2 3.5-7.4 3.5-7.6 3.5-6.4 3.5-4.3 3.5-3.2 3.5-3.2 3.5-3.5 3.5-3.4 3.5-3.7 3.5-4.4 3.5-4.2 3.5-2.1 3.5-.6 3.5-.6 3.5 3.4 3.5 6.1 3.5 10.1 3.5 10.1 3.5 6.9 3.5 5.8 3.5 4.8 3.5 5.6 3.5 13.9 3.5 14.6 3.5 12.9 3.5 9 3.5 4.5 3.5-2.7 3.5-8 3.5-9.1 3.5-9.9 3.5-8.9 3.5-7.9 3.5-7.8 3.5 4.7 3.5 27.5 3.5 45 3.5 49.3 3.5 20.5 3.5-35.8 3.5-42.8 3.5-33.4 3.5-20.4 3.5 2.2 3.5 9.7 3.5 3.4 3.5-1.6 3.5-.9 3.5 5.9 3.5 5.6 3.5 3 3.5-6.3 3.5-23.4 3.5-22.5 3.5-14.7 3.5-7 3.5-3.8 3.5-3.1 3.5-3.6 3.5-2.1 3.5 .2 3.5-3.3 3.5-10.4 3.5-13 3.5-13.8 3.5-14.3 3.5-14.1 3.5-14.3 3.5-14.1 3.5-13.3 3.5-13.1 3.5-9.5 3.5-4.1 3.5-1.8 3.5-2.3 3.5-4.3 3.5-4.8 3.5-4.6 3.5-4.1 3.5 2.6 3.5 13.8 3.5 12.3 3.5 7.6 3.5-4.3 3.5-10.8 3.5-9.9 3.5-9.8 3.5-7.4 3.5-2.5 3.5-.5 3.5 3.7 3.5 7.9 3.5 10.9 3.5 12.1 3.5 13.5 3.5 11.9 3.5 8.3 3.5 5.3 3.5 2.9 3.5 1.7 3.5 1.4 3.5 1.2 3.5 .7 3.5 0 3.5-.7 3.5-1.1 3.5-1 3.5-.4 3.5-.1 3.5 .1 3.5 .2 3.5 .2 3.5 1.1 3.5 1.3 3.5 1.3 3.5 1.6 3.5 1.8 3.5 2.3 3.5 2.7 3.5 2.8 3.5 2.8 3.5 2.8 3.5 2.9 3.5 2.9 3.5 2.5 3.5 1.8 3.5 1.1 3.5 .7 3.5 .6 3.5 .8 3.5 1.8 3.5 4.3 3.5 9.2 3.5 13.3 3.5 15.1 3.5 17.5 3.5 17.5 3.5 15 3.5 13.8 3.5 12.9 3.5 12.4 3.5 13.6 3.5 14.6 3.5 12.7 3.5 7.6 3.5 2.4 3.5-2.9 3.5-5.7 3.5-6.8 3.5-6.3 3.5-4.2 3.5-2.6 3.5-1.6 3.5-.5 3.5 1.2 3.5 2.3 3.5 1.8 3.5 1.3 3.5 1.2 3.5 1 3.5 .6 3.5-.4 3.5-1.6 3.5-2.4 3.5-3.2 3.5-5 3.5-4.9 3.5-4.1 3.5-1.3 3.5 .9 3.5 1.4 3.5-.1 3.5-1.6 3.5-1.1 3.5 1.2 3.5 3.1 3.5 3.2 3.5 1.8 3.5 .4 3.5-.7 3.5-.9 3.5-1.3 3.5-1.8 3.5-1.7 3.5-1.2 3.5-.2 3.5 .8 3.5 1.6 3.5 2 3.5 2.1 3.5 2.7 3.5 2.9 3.5 2 3.5 .5 3.5-1 3.5-1.6 3.5-1.4 3.5-.5 3.5 .7 3.5 1.6 3.5 1.7 3.5 1.3 3.5 .4 3.5-.2 3.5-.5 3.5-.5 3.5-.2 3.5 .3 3.5 1.2 3.5 2.2 3.5 2.5 3.5 2.2 3.5 1.3 3.5 .5 3.5 .2 3.5 .3 3.5 .8 3.5 2.3 3.5 3.3 3.5 2.6 3.5 .3 3.5-2.1 3.5-2 3.5 0 3.5 1.9 3.5 2.6 3.5 2.8 3.5 2.5 3.5 2 3.5 1.8 3.5 1.7 3.5 1.4 3.5 1.1 3.5 1 3.5 .8 3.5 .7 3.5 .5 3.5 .5 3.5 .4 3.5 .3 3.5 .3 3.5 .1 3.5 0 3.5-.4 3.5-1.4 3.5-3 3.5-2.3 3.5-2.2 3.5-.7 3.5 1.4 3.5 2.6 3.5 4.1 3.5 5.1 3.5 5.2 3.5 4.9 3.5 4.1 3.5 2.8 3.5 .4 3.5-1.9"/><path id="o6" d="M88.9 670.1l3.5-.3 3.5-.2 3.5-.3 3.5-.1 3.5-.2 3.5-.2 3.5-.2 3.5-.1 3.5-.2 3.5-.2 3.5-.3 3.5-.3 3.5-.3 3.5-.4 3.5-.5 3.5-.4 3.5-.4 3.5-.4 3.5-.4 3.5-.5 3.5-.5 3.5-.5 3.5-.5 3.5-.6 3.5-.6 3.5-.7 3.5-.7 3.5-.9 3.5-.9 3.5-1 3.5-1 3.5-1.1 3.5-1.1 3.5-1.2 3.5-1.2 3.5-1.2 3.5-1.3 3.5-1.1 3.5-1.2 3.5-1.1 3.5-1.2 3.5-1.3 3.5-1.4 3.5-1.8 3.5-1.9 3.5-1.4 3.5-.4 3.5 .6 3.5 1.2 3.5 2.3 3.5 .8 3.5-1.7 3.5-1.9 3.5-1.3 3.5-1.1 3.5-.7 3.5-.1 3.5-1 3.5-2.7 3.5-3.8 3.5-3.7 3.5-3.8 3.5-3.7 3.5-3.7 3.5-3.6 3.5-3.6 3.5-3.6 3.5-3.5 3.5-3.6 3.5-3.4 3.5-3.5 3.5-3.5 3.5-3.5 3.5-3.1 3.5-2.8 3.5-2.7 3.5-2.6 3.5-2.2 3.5-1.6 3.5-.9 3.5-.8 3.5-1.8 3.5-2.4 3.5-2.5 3.5-2.4 3.5-2.1 3.5-1.9 3.5-1.9 3.5-1.9 3.5-1.9 3.5-1.8 3.5-1.7 3.5-1.8 3.5-1.7 3.5-1.4 3.5 0 3.5 .9 3.5 1.3 3.5 3.1 3.5 3.6 3.5-1.4 3.5-4.5 3.5-5.4 3.5-4.8 3.5 .5 3.5 5 3.5 3.5 3.5-5.8 3.5-9 3.5-8.2 3.5-7.2 3.5-4.8 3.5-2.4 3.5 1.1 3.5 3.7 3.5 5.8 3.5 5.3 3.5-4.3 3.5-15.6 3.5-12.2 3.5-8 3.5-7.1 3.5-6 3.5-5.7 3.5-7.3 3.5-10.3 3.5-11.7 3.5-10.5 3.5-7.8 3.5-6.1 3.5-5.1 3.5-4.5 3.5-4.3 3.5-4 3.5-3.5 3.5-3.1 3.5-2.9 3.5-2.9 3.5-3 3.5-2.9 3.5-2.5 3.5-1.8 3.5-.9 3.5 .3 3.5 1.5 3.5 3.2 3.5 3.3 3.5 2.6 3.5 1.7 3.5 0 3.5-1.6 3.5 .7 3.5 5.2 3.5 6.6 3.5 4.5 3.5 1.6 3.5 .7 3.5 2.5 3.5 4.4 3.5 5.3 3.5 5.6 3.5 .9 3.5-1.8 3.5-3.4 3.5-6.2 3.5-5.1 3.5-1.2 3.5 2 3.5 2.5 3.5 2.6 3.5 2.2 3.5-1.5 3.5-4.8 3.5-3 3.5 2.3 3.5 2.3 3.5-.8 3.5-2 3.5 2.2 3.5 7.6 3.5 4.8 3.5-.9 3.5 2.1 3.5 7.6 3.5 7.9 3.5 7.4 3.5 5.3 3.5 3.2 3.5-2.5 3.5-14.1 3.5-12.5 3.5-7.4 3.5-.7 3.5 1.9 3.5 4.3 3.5 6.2 3.5 7.3 3.5 7.6 3.5 3.7 3.5 2.4 3.5 5.5 3.5 .9 3.5-10 3.5-8.1 3.5-2.2 3.5 2.5 3.5 .8 3.5-.6 3.5-1.1 3.5-1.8 3.5-2.5 3.5-3 3.5 1.6 3.5 3.8 3.5 2.2 3.5 1.5 3.5 .4 3.5-2.6 3.5-6.2 3.5-8.9 3.5-8.9 3.5-4.9 3.5-3.4 3.5-3.1 3.5-2.7 3.5-2.5 3.5-2.3 3.5-1.9 3.5-4.1 3.5-6.3 3.5-7.3 3.5-7.4 3.5-7.6 3.5-7.7 3.5-6.5 3.5-4.4 3.5-3.3 3.5-3.2 3.5-3.5 3.5-3.5 3.5-3.8 3.5-4.4 3.5-4.3 3.5-2.1 3.5-.6 3.5-.6 3.5 3.5 3.5 6.2 3.5 10.4 3.5 10.4 3.5 7 3.5 6 3.5 4.9 3.5 5.8 3.5 14.2 3.5 14.9 3.5 13.2 3.5 9.2 3.5 4.7 3.5-2.8 3.5-8 3.5-9.3 3.5-9.9 3.5-9 3.5-7.9 3.5-7.9 3.5 4.9 3.5 27.9 3.5 45.8 3.5 50.2 3.5 20.8 3.5-36.2 3.5-43.4 3.5-33.8 3.5-20.6 3.5 2.4 3.5 9.9 3.5 3.5 3.5-1.5 3.5-.7 3.5 6 3.5 5.8 3.5 3.1 3.5-6.3 3.5-23.5 3.5-22.6 3.5-14.7 3.5-6.9 3.5-3.7 3.5-3 3.5-3.4 3.5-2.1 3.5 .4 3.5-3.2 3.5-10.3 3.5-12.9 3.5-13.8 3.5-14.2 3.5-14 3.5-14.2 3.5-14 3.5-13.3 3.5-12.9 3.5-9.4 3.5-4 3.5-1.6 3.5-2.2 3.5-4.2 3.5-4.7 3.5-4.4 3.5-4.1 3.5 2.7 3.5 14 3.5 12.3 3.5 7.7 3.5-4.3 3.5-10.8 3.5-9.8 3.5-9.8 3.5-7.4 3.5-2.5 3.5-.5 3.5 3.7 3.5 7.8 3.5 10.9 3.5 12.1 3.5 13.4 3.5 11.8 3.5 8.3 3.5 5.2 3.5 2.8 3.5 1.6 3.5 1.3 3.5 1.1 3.5 .6 3.5-.1 3.5-.9 3.5-1.3 3.5-1.1 3.5-.6 3.5-.2 3.5-.1 3.5 0 3.5 0 3.5 .9 3.5 1.1 3.5 1.2 3.5 1.3 3.5 1.7 3.5 2.1 3.5 2.5 3.5 2.6 3.5 2.6 3.5 2.6 3.5 2.7 3.5 2.7 3.5 2.3 3.5 1.6 3.5 .9 3.5 .5 3.5 .4 3.5 .5 3.5 1.7 3.5 4.2 3.5 9.1 3.5 13.3 3.5 15.2 3.5 17.6 3.5 17.6 3.5 15.1 3.5 13.9 3.5 13 3.5 12.5 3.5 13.8 3.5 14.8 3.5 12.8 3.5 7.7 3.5 2.3 3.5-3.1 3.5-5.9 3.5-7.1 3.5-6.5 3.5-4.3 3.5-2.9 3.5-1.7 3.5-.5 3.5 1.1 3.5 2.2 3.5 1.8 3.5 1.2 3.5 1.2 3.5 1 3.5 .4 3.5-.5 3.5-1.7 3.5-2.5 3.5-3.3 3.5-5.3 3.5-5.1 3.5-4.3 3.5-1.4 3.5 .9 3.5 1.3 3.5-.1 3.5-1.8 3.5-1.1 3.5 1.1 3.5 3.1 3.5 3.3 3.5 1.8 3.5 .3 3.5-.7 3.5-1.1 3.5-1.4 3.5-1.8 3.5-1.8 3.5-1.4 3.5-.2 3.5 .8 3.5 1.6 3.5 2 3.5 2.1 3.5 2.8 3.5 2.9 3.5 2 3.5 .5 3.5-1.1 3.5-1.6 3.5-1.5 3.5-.6 3.5 .7 3.5 1.6 3.5 1.8 3.5 1.2 3.5 .5 3.5-.3 3.5-.5 3.5-.6 3.5-.3 3.5 .3 3.5 1.3 3.5 2.1 3.5 2.6 3.5 2.3 3.5 1.3 3.5 .5 3.5 .2 3.5 .2 3.5 .8 3.5 2.3 3.5 3.4 3.5 2.8 3.5 .3 3.5-2.3 3.5-2.1 3.5 0 3.5 1.9 3.5 2.6 3.5 2.9 3.5 2.6 3.5 2 3.5 1.9 3.5 1.7 3.5 1.4 3.5 1.2 3.5 1 3.5 .8 3.5 .7 3.5 .5 3.5 .5 3.5 .4 3.5 .3 3.5 .2 3.5 .1 3.5 0 3.5-.5 3.5-1.4 3.5-3.1 3.5-2.6 3.5-2.2 3.5-.8 3.5 1.4 3.5 2.7 3.5 4.3 3.5 5.2 3.5 5.4 3.5 5.1 3.5 4.2 3.5 3 3.5 .4 3.5-2.1"/><path id="o7" d="M88.9 670.4l3.5-.3 3.5-.2 3.5-.2 3.5-.2 3.5-.1 3.5-.1 3.5-.2 3.5-.1 3.5-.2 3.5-.2 3.5-.2 3.5-.2 3.5-.3 3.5-.4 3.5-.3 3.5-.4 3.5-.4 3.5-.3 3.5-.4 3.5-.3 3.5-.4 3.5-.5 3.5-.4 3.5-.5 3.5-.5 3.5-.6 3.5-.6 3.5-.7 3.5-.8 3.5-.8 3.5-.9 3.5-.9 3.5-1 3.5-1 3.5-1 3.5-1.1 3.5-1 3.5-1 3.5-1 3.5-.9 3.5-1 3.5-1.1 3.5-1.2 3.5-1.6 3.5-1.5 3.5-1.2 3.5-.3 3.5 .5 3.5 1 3.5 1.9 3.5 .7 3.5-1.4 3.5-1.7 3.5-1 3.5-.9 3.5-.6 3.5-.2 3.5-.8 3.5-2.5 3.5-3.4 3.5-3.4 3.5-3.5 3.5-3.4 3.5-3.5 3.5-3.5 3.5-3.4 3.5-3.5 3.5-3.5 3.5-3.5 3.5-3.5 3.5-3.5 3.5-3.7 3.5-3.6 3.5-3.2 3.5-3.1 3.5-3 3.5-2.9 3.5-2.6 3.5-2.1 3.5-1.4 3.5-1.4 3.5-2 3.5-2.4 3.5-2.7 3.5-2.4 3.5-2.2 3.5-2.1 3.5-2.1 3.5-2 3.5-2 3.5-2 3.5-1.9 3.5-2 3.5-1.9 3.5-1.6 3.5-.2 3.5 .6 3.5 1 3.5 2.9 3.5 3.4 3.5-1.7 3.5-4.7 3.5-5.6 3.5-5.1 3.5 .3 3.5 4.8 3.5 3.5 3.5-5.8 3.5-9 3.5-8.2 3.5-7.2 3.5-4.8 3.5-2.4 3.5 1.1 3.5 3.7 3.5 5.8 3.5 5.3 3.5-4.3 3.5-15.6 3.5-12.2 3.5-8 3.5-7.1 3.5-6 3.5-5.7 3.5-7.3 3.5-10.3 3.5-11.7 3.5-10.5 3.5-7.8 3.5-6.1 3.5-5.1 3.5-4.5 3.5-4.3 3.5-4 3.5-3.5 3.5-3.1 3.5-2.9 3.5-2.9 3.5-3 3.5-2.9 3.5-2.5 3.5-1.8 3.5-.9 3.5 .3 3.5 1.5 3.5 3.2 3.5 3.5 3.5 2.6 3.5 1.8 3.5 .1 3.5-1.5 3.5 .7 3.5 5.3 3.5 6.7 3.5 4.5 3.5 1.7 3.5 .8 3.5 2.5 3.5 4.5 3.5 5.4 3.5 5.6 3.5 1 3.5-1.7 3.5-3.3 3.5-6.2 3.5-5 3.5-1 3.5 2 3.5 2.5 3.5 2.7 3.5 2.3 3.5-1.4 3.5-4.7 3.5-2.9 3.5 2.3 3.5 2.5 3.5-.8 3.5-1.9 3.5 2.3 3.5 7.6 3.5 4.8 3.5-.8 3.5 2.2 3.5 7.5 3.5 7.9 3.5 7.4 3.5 5.4 3.5 3.2 3.5-2.5 3.5-13.8 3.5-12.4 3.5-7.2 3.5-.7 3.5 1.9 3.5 4.2 3.5 6.1 3.5 7.3 3.5 7.5 3.5 3.6 3.5 2.4 3.5 5.5 3.5 .9 3.5-9.9 3.5-7.9 3.5-2.2 3.5 2.5 3.5 .7 3.5-.5 3.5-1.1 3.5-1.8 3.5-2.4 3.5-3 3.5 1.6 3.5 3.7 3.5 2.2 3.5 1.5 3.5 .5 3.5-2.6 3.5-6.1 3.5-8.8 3.5-8.7 3.5-4.9 3.5-3.3 3.5-3 3.5-2.6 3.5-2.5 3.5-2.2 3.5-1.9 3.5-4 3.5-6.2 3.5-7.2 3.5-7.2 3.5-7.4 3.5-7.6 3.5-6.4 3.5-4.3 3.5-3.2 3.5-3.2 3.5-3.4 3.5-3.4 3.5-3.6 3.5-4.4 3.5-4.2 3.5-1.9 3.5-.6 3.5-.5 3.5 3.5 3.5 6.1 3.5 10.3 3.5 10.3 3.5 6.9 3.5 6 3.5 4.8 3.5 5.8 3.5 14 3.5 14.6 3.5 13.1 3.5 9.1 3.5 4.6 3.5-2.6 3.5-7.9 3.5-9 3.5-9.7 3.5-8.7 3.5-7.7 3.5-7.6 3.5 4.8 3.5 27.5 3.5 44.9 3.5 49.1 3.5 20.5 3.5-35.4 3.5-42.4 3.5-33 3.5-20 3.5 2.4 3.5 9.8 3.5 3.5 3.5-1.3 3.5-.7 3.5 6 3.5 5.7 3.5 3.1 3.5-6 3.5-22.8 3.5-21.9 3.5-14.2 3.5-6.6 3.5-3.5 3.5-2.8 3.5-3.2 3.5-1.9 3.5 .5 3.5-3 3.5-9.9 3.5-12.4 3.5-13.2 3.5-13.6 3.5-13.6 3.5-13.6 3.5-13.4 3.5-12.7 3.5-12.4 3.5-8.9 3.5-3.7 3.5-1.5 3.5-2 3.5-3.9 3.5-4.5 3.5-4.2 3.5-3.7 3.5 2.7 3.5 13.5 3.5 12 3.5 7.6 3.5-4.1 3.5-10.3 3.5-9.5 3.5-9.4 3.5-7 3.5-2.4 3.5-.4 3.5 3.6 3.5 7.6 3.5 10.5 3.5 11.6 3.5 13.1 3.5 11.3 3.5 8 3.5 5 3.5 2.7 3.5 1.5 3.5 1.3 3.5 .9 3.5 .6 3.5-.2 3.5-.9 3.5-1.2 3.5-1.2 3.5-.6 3.5-.3 3.5-.2 3.5 0 3.5-.2 3.5 .9 3.5 .9 3.5 1 3.5 1.3 3.5 1.5 3.5 1.9 3.5 2.3 3.5 2.5 3.5 2.4 3.5 2.4 3.5 2.5 3.5 2.5 3.5 2.1 3.5 1.5 3.5 .8 3.5 .3 3.5 .3 3.5 .4 3.5 1.6 3.5 3.9 3.5 8.8 3.5 12.8 3.5 14.6 3.5 17 3.5 17 3.5 14.6 3.5 13.5 3.5 12.6 3.5 12.1 3.5 13.4 3.5 14.3 3.5 12.4 3.5 7.4 3.5 2.2 3.5-3 3.5-5.8 3.5-6.9 3.5-6.4 3.5-4.3 3.5-2.8 3.5-1.7 3.5-.6 3.5 1.1 3.5 2.1 3.5 1.7 3.5 1.2 3.5 1.1 3.5 .9 3.5 .4 3.5-.5 3.5-1.6 3.5-2.5 3.5-3.3 3.5-5.2 3.5-5 3.5-4.2 3.5-1.4 3.5 .9 3.5 1.3 3.5-.1 3.5-1.8 3.5-1.1 3.5 1.1 3.5 3 3.5 3.2 3.5 1.9 3.5 .2 3.5-.7 3.5-1 3.5-1.4 3.5-1.8 3.5-1.7 3.5-1.3 3.5-.3 3.5 .8 3.5 1.6 3.5 2 3.5 2.1 3.5 2.7 3.5 2.8 3.5 2.1 3.5 .4 3.5-1 3.5-1.6 3.5-1.4 3.5-.6 3.5 .7 3.5 1.6 3.5 1.7 3.5 1.3 3.5 .4 3.5-.2 3.5-.5 3.5-.5 3.5-.3 3.5 .2 3.5 1.3 3.5 2.2 3.5 2.5 3.5 2.2 3.5 1.3 3.5 .6 3.5 .1 3.5 .3 3.5 .8 3.5 2.3 3.5 3.3 3.5 2.7 3.5 .3 3.5-2.2 3.5-2 3.5 0 3.5 1.8 3.5 2.7 3.5 2.8 3.5 2.5 3.5 2 3.5 1.9 3.5 1.6 3.5 1.4 3.5 1.2 3.5 1 3.5 .8 3.5 .7 3.5 .5 3.5 .5 3.5 .4 3.5 .3 3.5 .2 3.5 .2 3.5-.1 3.5-.4 3.5-1.4 3.5-3 3.5-2.4 3.5-2.2 3.5-.7 3.5 1.4 3.5 2.6 3.5 4.2 3.5 5.1 3.5 5.3 3.5 4.9 3.5 4.1 3.5 3 3.5 .3 3.5-1.9"/><path id="o8" d="M88.9 670.4l3.5-.3 3.5-.2 3.5-.2 3.5-.1 3.5-.2 3.5-.1 3.5-.2 3.5-.1 3.5-.2 3.5-.2 3.5-.2 3.5-.2 3.5-.3 3.5-.4 3.5-.3 3.5-.4 3.5-.3 3.5-.4 3.5-.3 3.5-.4 3.5-.4 3.5-.4 3.5-.5 3.5-.5 3.5-.5 3.5-.5 3.5-.7 3.5-.7 3.5-.8 3.5-.8 3.5-.9 3.5-.9 3.5-.9 3.5-1 3.5-1 3.5-1.1 3.5-1 3.5-1 3.5-1 3.5-.9 3.5-1 3.5-1.1 3.5-1.2 3.5-1.5 3.5-1.6 3.5-1.2 3.5-.3 3.5 .5 3.5 1 3.5 1.9 3.5 .7 3.5-1.4 3.5-1.6 3.5-1.1 3.5-.9 3.5-.6 3.5-.1 3.5-.9 3.5-2.5 3.5-3.3 3.5-3.5 3.5-3.4 3.5-3.5 3.5-3.4 3.5-3.5 3.5-3.4 3.5-3.5 3.5-3.5 3.5-3.5 3.5-3.5 3.5-3.5 3.5-3.7 3.5-3.6 3.5-3.2 3.5-3.1 3.5-3.1 3.5-2.9 3.5-2.6 3.5-2 3.5-1.4 3.5-1.4 3.5-2 3.5-2.5 3.5-2.7 3.5-2.4 3.5-2.2 3.5-2.1 3.5-2.1 3.5-2 3.5-2 3.5-2 3.5-2 3.5-1.9 3.5-1.9 3.5-1.6 3.5-.3 3.5 .6 3.5 1.1 3.5 2.9 3.5 3.3 3.5-1.6 3.5-4.7 3.5-5.7 3.5-5 3.5 .3 3.5 4.7 3.5 3.5 3.5-5.8 3.5-9 3.5-8.2 3.5-7.2 3.5-4.8 3.5-2.4 3.5 1.1 3.5 3.7 3.5 5.8 3.5 5.3 3.5-4.3 3.5-15.6 3.5-12.2 3.5-8 3.5-7.1 3.5-6 3.5-5.7 3.5-7.3 3.5-10.3 3.5-11.7 3.5-10.5 3.5-7.8 3.5-6.1 3.5-5.1 3.5-4.5 3.5-4.3 3.5-4 3.5-3.5 3.5-3.1 3.5-2.9 3.5-2.9 3.5-3 3.5-2.9 3.5-2.5 3.5-1.8 3.5-.9 3.5 .3 3.5 1.5 3.5 2.6 3.5 2.8 3.5 1.9 3.5 1.2 3.5-.6 3.5-2.2 3.5 .1 3.5 4.7 3.5 6.1 3.5 4.1 3.5 1 3.5 .2 3.5 2 3.5 3.9 3.5 5 3.5 5.2 3.5 .5 3.5-2.5 3.5-4 3.5-7.1 3.5-5.8 3.5-1.8 3.5 1.5 3.5 2 3.5 2.2 3.5 1.8 3.5-2.2 3.5-5.6 3.5-3.8 3.5 1.9 3.5 1.9 3.5-1.5 3.5-2.7 3.5 1.8 3.5 7.6 3.5 4.5 3.5-1.5 3.5 1.7 3.5 7.6 3.5 8.1 3.5 7.4 3.5 5.3 3.5 3 3.5-3.3 3.5-15.7 3.5-13.8 3.5-8.1 3.5-.8 3.5 2 3.5 4.5 3.5 6.8 3.5 7.9 3.5 8.3 3.5 3.9 3.5 2.6 3.5 6 3.5 .9 3.5-11.1 3.5-8.9 3.5-2.5 3.5 2.7 3.5 .7 3.5-.6 3.5-1.3 3.5-2.1 3.5-2.8 3.5-3.4 3.5 1.7 3.5 4.1 3.5 2.3 3.5 1.6 3.5 .4 3.5-2.9 3.5-6.9 3.5-9.9 3.5-9.8 3.5-5.6 3.5-3.8 3.5-3.5 3.5-3 3.5-2.9 3.5-2.6 3.5-2.2 3.5-4.5 3.5-7.2 3.5-8.1 3.5-8.2 3.5-8.5 3.5-8.6 3.5-7.3 3.5-5 3.5-3.7 3.5-3.7 3.5-4 3.5-4 3.5-4.2 3.5-5.1 3.5-4.9 3.5-2.4 3.5-.7 3.5-.8 3.5 3.8 3.5 6.8 3.5 11.4 3.5 11.4 3.5 7.7 3.5 6.6 3.5 5.4 3.5 6.3 3.5 15.7 3.5 16.5 3.5 14.6 3.5 10.2 3.5 5.1 3.5-3.1 3.5-9.1 3.5-10.3 3.5-11.2 3.5-10 3.5-9 3.5-8.8 3.5 5.3 3.5 31.1 3.5 51 3.5 55.8 3.5 23.2 3.5-40.4 3.5-48.5 3.5-37.8 3.5-23 3.5 2.5 3.5 11.1 3.5 3.8 3.5-1.8 3.5-.9 3.5 6.7 3.5 6.3 3.5 3.4 3.5-7.1 3.5-26.4 3.5-25.3 3.5-16.6 3.5-7.8 3.5-4.3 3.5-3.4 3.5-4 3.5-2.3 3.5 .3 3.5-3.7 3.5-11.7 3.5-14.6 3.5-15.5 3.5-16 3.5-16 3.5-16 3.5-15.9 3.5-15 3.5-14.7 3.5-10.6 3.5-4.6 3.5-2 3.5-2.7 3.5-4.8 3.5-5.4 3.5-5.2 3.5-4.6 3.5 2.9 3.5 15.5 3.5 13.7 3.5 8.5 3.5-5 3.5-12.4 3.5-11.3 3.5-11.2 3.5-8.5 3.5-3.1 3.5-.7 3.5 3.9 3.5 8.6 3.5 12.2 3.5 13.4 3.5 15.1 3.5 13.2 3.5 9.2 3.5 5.7 3.5 3 3.5 1.6 3.5 1.4 3.5 1 3.5 .6 3.5-.3 3.5-1.2 3.5-1.6 3.5-1.4 3.5-.9 3.5-.4 3.5-.3 3.5-.1 3.5-.2 3.5 .9 3.5 1.1 3.5 1.1 3.5 1.4 3.5 1.7 3.5 2.3 3.5 2.7 3.5 2.8 3.5 2.8 3.5 2.8 3.5 3 3.5 2.9 3.5 2.5 3.5 1.7 3.5 .9 3.5 .4 3.5 .2 3.5 .5 3.5 1.8 3.5 4.6 3.5 10.4 3.5 15.1 3.5 17.2 3.5 20.1 3.5 20 3.5 17.2 3.5 15.9 3.5 14.8 3.5 14.3 3.5 15.8 3.5 16.9 3.5 14.6 3.5 8.8 3.5 2.5 3.5-3.6 3.5-6.9 3.5-8.2 3.5-7.6 3.5-5.1 3.5-3.4 3.5-2.1 3.5-.7 3.5 1.2 3.5 2.4 3.5 2 3.5 1.4 3.5 1.2 3.5 1 3.5 .5 3.5-.7 3.5-2.1 3.5-3 3.5-4 3.5-6.2 3.5-6 3.5-5.1 3.5-1.7 3.5 .9 3.5 1.4 3.5-.3 3.5-2.2 3.5-1.5 3.5 1.1 3.5 3.5 3.5 3.6 3.5 2 3.5 .2 3.5-1 3.5-1.4 3.5-1.8 3.5-2.3 3.5-2.3 3.5-1.7 3.5-.5 3.5 .8 3.5 1.7 3.5 2.2 3.5 2.3 3.5 3.1 3.5 3.2 3.5 2.3 3.5 .4 3.5-1.4 3.5-2.2 3.5-1.9 3.5-.9 3.5 .8 3.5 1.7 3.5 1.9 3.5 1.3 3.5 .4 3.5-.5 3.5-.8 3.5-.8 3.5-.5 3.5 .1 3.5 1.4 3.5 2.4 3.5 2.9 3.5 2.5 3.5 1.4 3.5 .5 3.5 0 3.5 .1 3.5 .8 3.5 2.7 3.5 3.9 3.5 3.1 3.5 .1 3.5-2.8 3.5-2.6 3.5-.2 3.5 2.1 3.5 3 3.5 3.3 3.5 2.9 3.5 2.3 3.5 2.1 3.5 1.9 3.5 1.6 3.5 1.2 3.5 1.1 3.5 .8 3.5 .7 3.5 .5 3.5 .4 3.5 .3 3.5 .3 3.5 .1 3.5 0 3.5-.2 3.5-.7 3.5-1.9 3.5-3.9 3.5-3.2 3.5-2.8 3.5-1.1 3.5 1.5 3.5 3.2 3.5 5 3.5 6.2 3.5 6.4 3.5 6 3.5 5 3.5 3.5 3.5 .3 3.5-2.6"/><path id="o9" d="M88.9 670.1l3.5-.3 3.5-.3 3.5-.2 3.5-.2 3.5-.2 3.5-.2 3.5-.2 3.5-.1 3.5-.2 3.5-.2 3.5-.3 3.5-.3 3.5-.4 3.5-.4 3.5-.5 3.5-.4 3.5-.4 3.5-.5 3.5-.4 3.5-.4 3.5-.5 3.5-.6 3.5-.5 3.5-.6 3.5-.6 3.5-.7 3.5-.8 3.5-.9 3.5-.9 3.5-1.1 3.5-1 3.5-1.1 3.5-1.2 3.5-1.2 3.5-1.3 3.5-1.3 3.5-1.2 3.5-1.3 3.5-1.1 3.5-1.2 3.5-1.3 3.5-1.3 3.5-1.5 3.5-1.8 3.5-2 3.5-1.4 3.5-.4 3.5 .6 3.5 1.3 3.5 2.3 3.5 .9 3.5-1.8 3.5-2 3.5-1.3 3.5-1.1 3.5-.7 3.5-.2 3.5-1 3.5-2.8 3.5-3.8 3.5-3.9 3.5-3.7 3.5-3.8 3.5-3.8 3.5-3.6 3.5-3.7 3.5-3.6 3.5-3.5 3.5-3.5 3.5-3.5 3.5-3.5 3.5-3.5 3.5-3.4 3.5-3 3.5-2.8 3.5-2.7 3.5-2.4 3.5-2.2 3.5-1.5 3.5-.8 3.5-.7 3.5-1.7 3.5-2.4 3.5-2.5 3.5-2.3 3.5-2.1 3.5-1.9 3.5-1.9 3.5-1.8 3.5-1.9 3.5-1.7 3.5-1.7 3.5-1.7 3.5-1.7 3.5-1.4 3.5 .1 3.5 .9 3.5 1.4 3.5 3.2 3.5 3.6 3.5-1.3 3.5-4.5 3.5-5.4 3.5-4.7 3.5 .6 3.5 5 3.5 3.5 3.5-5.8 3.5-9 3.5-8.2 3.5-7.2 3.5-4.8 3.5-2.4 3.5 1.1 3.5 3.7 3.5 5.8 3.5 5.3 3.5-4.3 3.5-15.6 3.5-12.2 3.5-8 3.5-7.1 3.5-6 3.5-5.7 3.5-7.3 3.5-10.3 3.5-11.7 3.5-10.5 3.5-7.8 3.5-6.1 3.5-5.1 3.5-4.5 3.5-4.3 3.5-4 3.5-3.5 3.5-3.1 3.5-2.9 3.5-2.9 3.5-3 3.5-2.9 3.5-2.5 3.5-1.8 3.5-.9 3.5 .3 3.5 1.5 3.5 2.9 3.5 3 3.5 2.3 3.5 1.4 3.5-.3 3.5-1.9 3.5 .3 3.5 4.9 3.5 6.4 3.5 4.3 3.5 1.3 3.5 .4 3.5 2.2 3.5 4.2 3.5 5.1 3.5 5.4 3.5 .7 3.5-2.1 3.5-3.7 3.5-6.8 3.5-5.4 3.5-1.5 3.5 1.7 3.5 2.2 3.5 2.4 3.5 2 3.5-1.8 3.5-5.3 3.5-3.4 3.5 2.1 3.5 2.1 3.5-1.2 3.5-2.3 3.5 2 3.5 7.5 3.5 4.7 3.5-1.2 3.5 1.9 3.5 7.5 3.5 8 3.5 7.4 3.5 5.4 3.5 3.1 3.5-3 3.5-14.9 3.5-13.2 3.5-7.8 3.5-.8 3.5 2 3.5 4.4 3.5 6.5 3.5 7.7 3.5 7.9 3.5 3.8 3.5 2.5 3.5 5.8 3.5 .9 3.5-10.6 3.5-8.5 3.5-2.3 3.5 2.5 3.5 .8 3.5-.6 3.5-1.2 3.5-2 3.5-2.6 3.5-3.3 3.5 1.7 3.5 3.9 3.5 2.3 3.5 1.6 3.5 .3 3.5-2.7 3.5-6.6 3.5-9.5 3.5-9.3 3.5-5.3 3.5-3.6 3.5-3.3 3.5-2.9 3.5-2.7 3.5-2.5 3.5-2.1 3.5-4.3 3.5-6.8 3.5-7.8 3.5-7.8 3.5-8.1 3.5-8.2 3.5-6.9 3.5-4.8 3.5-3.5 3.5-3.5 3.5-3.8 3.5-3.8 3.5-4 3.5-4.8 3.5-4.7 3.5-2.3 3.5-.7 3.5-.7 3.5 3.6 3.5 6.5 3.5 10.9 3.5 10.9 3.5 7.4 3.5 6.2 3.5 5.1 3.5 6.1 3.5 15 3.5 15.7 3.5 13.9 3.5 9.8 3.5 4.8 3.5-3 3.5-8.7 3.5-9.9 3.5-10.7 3.5-9.6 3.5-8.6 3.5-8.5 3.5 5.1 3.5 29.6 3.5 48.8 3.5 53.4 3.5 22.2 3.5-38.8 3.5-46.5 3.5-36.2 3.5-22.1 3.5 2.4 3.5 10.5 3.5 3.6 3.5-1.7 3.5-1 3.5 6.4 3.5 6 3.5 3.2 3.5-6.8 3.5-25.5 3.5-24.3 3.5-16 3.5-7.6 3.5-4.2 3.5-3.4 3.5-3.8 3.5-2.4 3.5 .3 3.5-3.7 3.5-11.3 3.5-14.1 3.5-15 3.5-15.5 3.5-15.4 3.5-15.6 3.5-15.3 3.5-14.5 3.5-14.3 3.5-10.3 3.5-4.5 3.5-2 3.5-2.6 3.5-4.7 3.5-5.3 3.5-5 3.5-4.5 3.5 2.7 3.5 15 3.5 13.2 3.5 8.2 3.5-4.8 3.5-11.9 3.5-10.9 3.5-10.8 3.5-8.1 3.5-2.9 3.5-.7 3.5 3.9 3.5 8.4 3.5 11.8 3.5 13 3.5 14.6 3.5 12.8 3.5 9 3.5 5.6 3.5 3 3.5 1.7 3.5 1.4 3.5 1.2 3.5 .6 3.5-.1 3.5-1 3.5-1.4 3.5-1.2 3.5-.6 3.5-.3 3.5 0 3.5 0 3.5 0 3.5 1.1 3.5 1.2 3.5 1.3 3.5 1.5 3.5 1.9 3.5 2.4 3.5 2.7 3.5 3 3.5 2.9 3.5 2.8 3.5 3.1 3.5 2.9 3.5 2.6 3.5 1.9 3.5 1 3.5 .6 3.5 .4 3.5 .7 3.5 1.9 3.5 4.6 3.5 10 3.5 14.5 3.5 16.5 3.5 19.2 3.5 19.2 3.5 16.5 3.5 15.1 3.5 14.2 3.5 13.7 3.5 15 3.5 16 3.5 14 3.5 8.3 3.5 2.6 3.5-3.3 3.5-6.5 3.5-7.6 3.5-7.1 3.5-4.7 3.5-3 3.5-1.9 3.5-.6 3.5 1.2 3.5 2.4 3.5 2 3.5 1.3 3.5 1.3 3.5 1 3.5 .5 3.5-.6 3.5-1.8 3.5-2.7 3.5-3.7 3.5-5.7 3.5-5.6 3.5-4.7 3.5-1.5 3.5 .9 3.5 1.4 3.5-.2 3.5-2 3.5-1.3 3.5 1.2 3.5 3.3 3.5 3.5 3.5 2 3.5 .2 3.5-.8 3.5-1.3 3.5-1.6 3.5-2 3.5-2.1 3.5-1.5 3.5-.4 3.5 .8 3.5 1.7 3.5 2.2 3.5 2.2 3.5 2.9 3.5 3.1 3.5 2.1 3.5 .5 3.5-1.3 3.5-1.9 3.5-1.7 3.5-.7 3.5 .7 3.5 1.7 3.5 1.8 3.5 1.3 3.5 .4 3.5-.3 3.5-.7 3.5-.7 3.5-.4 3.5 .2 3.5 1.3 3.5 2.3 3.5 2.8 3.5 2.4 3.5 1.4 3.5 .4 3.5 .1 3.5 .2 3.5 .8 3.5 2.5 3.5 3.6 3.5 3 3.5 .2 3.5-2.5 3.5-2.4 3.5-.1 3.5 1.9 3.5 2.9 3.5 3.1 3.5 2.8 3.5 2.2 3.5 2 3.5 1.8 3.5 1.4 3.5 1.3 3.5 1 3.5 .8 3.5 .7 3.5 .5 3.5 .5 3.5 .3 3.5 .3 3.5 .1 3.5 .1 3.5-.2 3.5-.5 3.5-1.7 3.5-3.5 3.5-2.9 3.5-2.6 3.5-.9 3.5 1.5 3.5 2.9 3.5 4.7 3.5 5.7 3.5 5.9 3.5 5.6 3.5 4.6 3.5 3.3 3.5 .3 3.5-2.3"/><path id="o10" d="M88.9 670.4l3.5-.3 3.5-.2 3.5-.2 3.5-.1 3.5-.2 3.5-.1 3.5-.2 3.5-.1 3.5-.2 3.5-.1 3.5-.2 3.5-.3 3.5-.3 3.5-.3 3.5-.4 3.5-.4 3.5-.3 3.5-.4 3.5-.3 3.5-.4 3.5-.4 3.5-.4 3.5-.5 3.5-.4 3.5-.5 3.5-.6 3.5-.7 3.5-.7 3.5-.7 3.5-.9 3.5-.8 3.5-.9 3.5-1 3.5-1 3.5-1 3.5-1 3.5-1 3.5-1 3.5-1 3.5-1 3.5-1 3.5-1 3.5-1.2 3.5-1.6 3.5-1.5 3.5-1.2 3.5-.3 3.5 .5 3.5 1 3.5 1.9 3.5 .7 3.5-1.4 3.5-1.6 3.5-1.1 3.5-.9 3.5-.6 3.5-.1 3.5-.9 3.5-2.5 3.5-3.3 3.5-3.5 3.5-3.4 3.5-3.4 3.5-3.5 3.5-3.4 3.5-3.5 3.5-3.5 3.5-3.5 3.5-3.5 3.5-3.5 3.5-3.5 3.5-3.6 3.5-3.6 3.5-3.3 3.5-3.1 3.5-3.1 3.5-2.8 3.5-2.7 3.5-2 3.5-1.5 3.5-1.4 3.5-2 3.5-2.5 3.5-2.6 3.5-2.4 3.5-2.3 3.5-2.1 3.5-2 3.5-2.1 3.5-2 3.5-2 3.5-1.9 3.5-1.9 3.5-1.9 3.5-1.7 3.5-.2 3.5 .6 3.5 1 3.5 2.9 3.5 3.3 3.5-1.6 3.5-4.7 3.5-5.7 3.5-5 3.5 .3 3.5 4.7 3.5 3.5 3.5-5.8 3.5-9 3.5-8.2 3.5-7.2 3.5-4.8 3.5-2.4 3.5 1.1 3.5 3.7 3.5 5.8 3.5 5.3 3.5-4.3 3.5-15.6 3.5-12.2 3.5-8 3.5-7.1 3.5-6 3.5-5.7 3.5-7.3 3.5-10.3 3.5-11.7 3.5-10.5 3.5-7.8 3.5-6.1 3.5-5.1 3.5-4.5 3.5-4.3 3.5-4 3.5-3.5 3.5-3.1 3.5-2.9 3.5-2.9 3.5-3 3.5-2.9 3.5-2.5 3.5-1.8 3.5-.9 3.5 .3 3.5 1.5 3.5 3.2 3.5 3.4 3.5 2.5 3.5 1.8 3.5 0 3.5-1.6 3.5 .7 3.5 5.2 3.5 6.6 3.5 4.6 3.5 1.6 3.5 .7 3.5 2.5 3.5 4.4 3.5 5.4 3.5 5.6 3.5 .9 3.5-1.8 3.5-3.3 3.5-6.3 3.5-5.1 3.5-1.1 3.5 2 3.5 2.5 3.5 2.6 3.5 2.3 3.5-1.5 3.5-4.8 3.5-3 3.5 2.3 3.5 2.4 3.5-.8 3.5-2 3.5 2.2 3.5 7.6 3.5 4.8 3.5-.8 3.5 2.1 3.5 7.5 3.5 7.9 3.5 7.4 3.5 5.4 3.5 3.2 3.5-2.5 3.5-14.1 3.5-12.4 3.5-7.4 3.5-.7 3.5 1.9 3.5 4.3 3.5 6.2 3.5 7.3 3.5 7.6 3.5 3.6 3.5 2.4 3.5 5.6 3.5 .8 3.5-10 3.5-8 3.5-2.2 3.5 2.5 3.5 .8 3.5-.6 3.5-1.1 3.5-1.8 3.5-2.5 3.5-3 3.5 1.7 3.5 3.7 3.5 2.2 3.5 1.5 3.5 .4 3.5-2.6 3.5-6.1 3.5-8.9 3.5-8.8 3.5-5 3.5-3.3 3.5-3.1 3.5-2.7 3.5-2.5 3.5-2.3 3.5-1.9 3.5-4 3.5-6.3 3.5-7.3 3.5-7.3 3.5-7.5 3.5-7.7 3.5-6.5 3.5-4.4 3.5-3.2 3.5-3.2 3.5-3.5 3.5-3.5 3.5-3.7 3.5-4.4 3.5-4.3 3.5-2 3.5-.6 3.5-.5 3.5 3.5 3.5 6.2 3.5 10.3 3.5 10.4 3.5 7 3.5 6 3.5 4.9 3.5 5.8 3.5 14.1 3.5 14.8 3.5 13.2 3.5 9.2 3.5 4.7 3.5-2.7 3.5-8 3.5-9.2 3.5-9.8 3.5-8.9 3.5-7.9 3.5-7.8 3.5 4.9 3.5 27.8 3.5 45.6 3.5 49.8 3.5 20.7 3.5-35.9 3.5-43.1 3.5-33.5 3.5-20.4 3.5 2.4 3.5 9.9 3.5 3.5 3.5-1.4 3.5-.7 3.5 6 3.5 5.8 3.5 3.1 3.5-6.2 3.5-23.3 3.5-22.2 3.5-14.6 3.5-6.8 3.5-3.6 3.5-2.9 3.5-3.3 3.5-2 3.5 .5 3.5-3.2 3.5-10.1 3.5-12.8 3.5-13.5 3.5-13.9 3.5-13.9 3.5-14 3.5-13.7 3.5-13.1 3.5-12.7 3.5-9.2 3.5-3.9 3.5-1.5 3.5-2.1 3.5-4.1 3.5-4.6 3.5-4.3 3.5-4 3.5 2.8 3.5 13.7 3.5 12.3 3.5 7.6 3.5-4.1 3.5-10.7 3.5-9.7 3.5-9.6 3.5-7.2 3.5-2.5 3.5-.5 3.5 3.7 3.5 7.7 3.5 10.8 3.5 11.8 3.5 13.3 3.5 11.7 3.5 8.1 3.5 5.1 3.5 2.7 3.5 1.6 3.5 1.3 3.5 1 3.5 .6 3.5-.2 3.5-.9 3.5-1.2 3.5-1.2 3.5-.6 3.5-.3 3.5-.1 3.5 0 3.5-.1 3.5 .9 3.5 1 3.5 1.1 3.5 1.2 3.5 1.6 3.5 2.1 3.5 2.4 3.5 2.5 3.5 2.5 3.5 2.5 3.5 2.7 3.5 2.6 3.5 2.2 3.5 1.5 3.5 .9 3.5 .4 3.5 .2 3.5 .6 3.5 1.6 3.5 4 3.5 9 3.5 13.2 3.5 14.9 3.5 17.4 3.5 17.4 3.5 14.9 3.5 13.8 3.5 12.8 3.5 12.4 3.5 13.7 3.5 14.6 3.5 12.6 3.5 7.6 3.5 2.3 3.5-3 3.5-6 3.5-7 3.5-6.5 3.5-4.4 3.5-2.8 3.5-1.7 3.5-.6 3.5 1.1 3.5 2.2 3.5 1.7 3.5 1.3 3.5 1.1 3.5 .9 3.5 .5 3.5-.5 3.5-1.7 3.5-2.5 3.5-3.4 3.5-5.2 3.5-5.1 3.5-4.3 3.5-1.4 3.5 .9 3.5 1.3 3.5-.1 3.5-1.8 3.5-1.2 3.5 1.1 3.5 3.1 3.5 3.3 3.5 1.8 3.5 .3 3.5-.7 3.5-1.1 3.5-1.4 3.5-1.8 3.5-1.8 3.5-1.3 3.5-.3 3.5 .8 3.5 1.6 3.5 2 3.5 2.1 3.5 2.8 3.5 2.8 3.5 2.1 3.5 .5 3.5-1.1 3.5-1.7 3.5-1.4 3.5-.7 3.5 .8 3.5 1.6 3.5 1.7 3.5 1.3 3.5 .4 3.5-.2 3.5-.6 3.5-.5 3.5-.3 3.5 .2 3.5 1.3 3.5 2.2 3.5 2.6 3.5 2.2 3.5 1.3 3.5 .6 3.5 .1 3.5 .2 3.5 .9 3.5 2.3 3.5 3.4 3.5 2.7 3.5 .3 3.5-2.3 3.5-2 3.5 0 3.5 1.8 3.5 2.7 3.5 2.8 3.5 2.6 3.5 2.1 3.5 1.8 3.5 1.7 3.5 1.4 3.5 1.2 3.5 1 3.5 .8 3.5 .7 3.5 .5 3.5 .5 3.5 .4 3.5 .3 3.5 .2 3.5 .1 3.5 0 3.5-.4 3.5-1.5 3.5-3.1 3.5-2.5 3.5-2.2 3.5-.8 3.5 1.4 3.5 2.7 3.5 4.3 3.5 5.1 3.5 5.4 3.5 5.1 3.5 4.2 3.5 2.9 3.5 .4 3.5-2"/><path id="o11" d="M88.9 670.4l3.5-.2 3.5-.3 3.5-.1 3.5-.2 3.5-.1 3.5-.2 3.5-.1 3.5-.2 3.5-.1 3.5-.2 3.5-.2 3.5-.2 3.5-.3 3.5-.4 3.5-.3 3.5-.4 3.5-.3 3.5-.4 3.5-.3 3.5-.4 3.5-.4 3.5-.4 3.5-.4 3.5-.5 3.5-.5 3.5-.5 3.5-.7 3.5-.7 3.5-.7 3.5-.8 3.5-.9 3.5-.9 3.5-.9 3.5-1 3.5-1 3.5-1 3.5-1 3.5-1 3.5-.9 3.5-1 3.5-.9 3.5-1.1 3.5-1.2 3.5-1.5 3.5-1.5 3.5-1.1 3.5-.3 3.5 .4 3.5 1 3.5 1.9 3.5 .7 3.5-1.4 3.5-1.6 3.5-1.1 3.5-.8 3.5-.6 3.5-.2 3.5-.8 3.5-2.4 3.5-3.4 3.5-3.4 3.5-3.4 3.5-3.4 3.5-3.4 3.5-3.5 3.5-3.4 3.5-3.5 3.5-3.5 3.5-3.5 3.5-3.5 3.5-3.5 3.5-3.6 3.5-3.7 3.5-3.3 3.5-3.1 3.5-3.1 3.5-2.9 3.5-2.7 3.5-2 3.5-1.5 3.5-1.5 3.5-2 3.5-2.5 3.5-2.7 3.5-2.4 3.5-2.2 3.5-2.2 3.5-2 3.5-2.1 3.5-2 3.5-2 3.5-2 3.5-1.9 3.5-2 3.5-1.6 3.5-.3 3.5 .6 3.5 1 3.5 2.8 3.5 3.3 3.5-1.6 3.5-4.7 3.5-5.7 3.5-5.1 3.5 .3 3.5 4.7 3.5 3.5 3.5-5.8 3.5-9 3.5-8.2 3.5-7.2 3.5-4.8 3.5-2.4 3.5 1.1 3.5 3.7 3.5 5.8 3.5 5.3 3.5-4.3 3.5-15.6 3.5-12.2 3.5-8 3.5-7.1 3.5-6 3.5-5.7 3.5-7.3 3.5-10.3 3.5-11.7 3.5-10.5 3.5-7.8 3.5-6.1 3.5-5.1 3.5-4.5 3.5-4.3 3.5-4 3.5-3.5 3.5-3.1 3.5-2.9 3.5-2.9 3.5-3 3.5-2.9 3.5-2.5 3.5-1.8 3.5-.9 3.5 .3 3.5 1.5 3.5 3.6 3.5 3.7 3.5 2.9 3.5 2.2 3.5 .4 3.5-1.2 3.5 1.1 3.5 5.5 3.5 6.9 3.5 4.9 3.5 1.9 3.5 1.1 3.5 2.8 3.5 4.7 3.5 5.6 3.5 5.8 3.5 1.3 3.5-1.4 3.5-2.9 3.5-5.8 3.5-4.5 3.5-.8 3.5 2.3 3.5 2.8 3.5 2.9 3.5 2.6 3.5-1.1 3.5-4.2 3.5-2.6 3.5 2.6 3.5 2.7 3.5-.4 3.5-1.5 3.5 2.5 3.5 7.6 3.5 4.9 3.5-.4 3.5 2.4 3.5 7.5 3.5 7.8 3.5 7.4 3.5 5.4 3.5 3.3 3.5-2.1 3.5-12.9 3.5-11.7 3.5-6.8 3.5-.6 3.5 1.8 3.5 4 3.5 5.9 3.5 6.9 3.5 7.2 3.5 3.5 3.5 2.3 3.5 5.2 3.5 .9 3.5-9.3 3.5-7.5 3.5-2 3.5 2.4 3.5 .7 3.5-.5 3.5-.9 3.5-1.7 3.5-2.2 3.5-2.9 3.5 1.7 3.5 3.5 3.5 2.1 3.5 1.5 3.5 .4 3.5-2.4 3.5-5.7 3.5-8.2 3.5-8.2 3.5-4.6 3.5-3.1 3.5-2.8 3.5-2.4 3.5-2.3 3.5-2 3.5-1.8 3.5-3.6 3.5-5.9 3.5-6.7 3.5-6.8 3.5-6.9 3.5-7.1 3.5-5.9 3.5-4.1 3.5-2.9 3.5-2.9 3.5-3.2 3.5-3.1 3.5-3.4 3.5-4 3.5-3.9 3.5-1.8 3.5-.4 3.5-.5 3.5 3.3 3.5 5.9 3.5 9.7 3.5 9.6 3.5 6.6 3.5 5.6 3.5 4.7 3.5 5.4 3.5 13.2 3.5 13.8 3.5 12.3 3.5 8.6 3.5 4.3 3.5-2.4 3.5-7.4 3.5-8.4 3.5-9 3.5-8.2 3.5-7.2 3.5-7.1 3.5 4.6 3.5 25.8 3.5 42.1 3.5 46 3.5 19.2 3.5-33.1 3.5-39.7 3.5-30.8 3.5-18.7 3.5 2.3 3.5 9.2 3.5 3.3 3.5-1.2 3.5-.6 3.5 5.7 3.5 5.3 3.5 3 3.5-5.6 3.5-21.3 3.5-20.4 3.5-13.3 3.5-6.1 3.5-3.2 3.5-2.6 3.5-2.9 3.5-1.7 3.5 .5 3.5-2.8 3.5-9.1 3.5-11.6 3.5-12.3 3.5-12.6 3.5-12.6 3.5-12.7 3.5-12.4 3.5-11.8 3.5-11.5 3.5-8.2 3.5-3.5 3.5-1.2 3.5-1.9 3.5-3.5 3.5-4.1 3.5-3.8 3.5-3.5 3.5 2.6 3.5 12.7 3.5 11.3 3.5 7.1 3.5-3.6 3.5-9.6 3.5-8.7 3.5-8.6 3.5-6.4 3.5-2.1 3.5-.3 3.5 3.5 3.5 7.1 3.5 9.9 3.5 10.9 3.5 12.2 3.5 10.6 3.5 7.5 3.5 4.7 3.5 2.6 3.5 1.5 3.5 1.3 3.5 1 3.5 .6 3.5-.1 3.5-.7 3.5-1.1 3.5-.9 3.5-.5 3.5-.2 3.5-.1 3.5 .1 3.5 0 3.5 .9 3.5 .9 3.5 1.1 3.5 1.2 3.5 1.5 3.5 1.9 3.5 2.2 3.5 2.4 3.5 2.3 3.5 2.3 3.5 2.4 3.5 2.4 3.5 2 3.5 1.5 3.5 .8 3.5 .4 3.5 .3 3.5 .5 3.5 1.6 3.5 3.6 3.5 8.2 3.5 11.9 3.5 13.5 3.5 15.7 3.5 15.7 3.5 13.5 3.5 12.4 3.5 11.6 3.5 11.2 3.5 12.4 3.5 13.1 3.5 11.5 3.5 6.8 3.5 2.1 3.5-2.7 3.5-5.3 3.5-6.3 3.5-5.8 3.5-3.8 3.5-2.5 3.5-1.5 3.5-.5 3.5 1 3.5 2 3.5 1.6 3.5 1.2 3.5 1.1 3.5 .8 3.5 .5 3.5-.4 3.5-1.5 3.5-2.2 3.5-2.9 3.5-4.7 3.5-4.5 3.5-3.8 3.5-1.2 3.5 .9 3.5 1.3 3.5-.1 3.5-1.5 3.5-.9 3.5 1.1 3.5 2.9 3.5 2.9 3.5 1.8 3.5 .3 3.5-.5 3.5-.8 3.5-1.2 3.5-1.5 3.5-1.5 3.5-1.1 3.5-.1 3.5 .8 3.5 1.5 3.5 1.9 3.5 2 3.5 2.5 3.5 2.7 3.5 1.9 3.5 .5 3.5-.9 3.5-1.3 3.5-1.2 3.5-.5 3.5 .8 3.5 1.5 3.5 1.7 3.5 1.2 3.5 .5 3.5-.2 3.5-.3 3.5-.4 3.5-.2 3.5 .4 3.5 1.2 3.5 2 3.5 2.4 3.5 2.1 3.5 1.2 3.5 .6 3.5 .2 3.5 .3 3.5 .8 3.5 2.2 3.5 3 3.5 2.5 3.5 .4 3.5-1.9 3.5-1.7 3.5 .1 3.5 1.7 3.5 2.4 3.5 2.6 3.5 2.4 3.5 1.9 3.5 1.7 3.5 1.5 3.5 1.4 3.5 1.1 3.5 .9 3.5 .8 3.5 .7 3.5 .6 3.5 .5 3.5 .4 3.5 .4 3.5 .2 3.5 .2 3.5 .1 3.5-.3 3.5-1.2 3.5-2.5 3.5-2.1 3.5-1.8 3.5-.6 3.5 1.3 3.5 2.4 3.5 3.8 3.5 4.6 3.5 4.7 3.5 4.4 3.5 3.7 3.5 2.7 3.5 .4 3.5-1.7"/><path id="o12" d="M88.9 670.5l3.5-.3 3.5-.2 3.5-.1 3.5-.2 3.5-.1 3.5-.2 3.5-.1 3.5-.1 3.5-.2 3.5-.1 3.5-.2 3.5-.3 3.5-.2 3.5-.4 3.5-.3 3.5-.3 3.5-.4 3.5-.3 3.5-.3 3.5-.3 3.5-.4 3.5-.4 3.5-.4 3.5-.5 3.5-.5 3.5-.5 3.5-.6 3.5-.6 3.5-.8 3.5-.7 3.5-.8 3.5-.9 3.5-.8 3.5-1 3.5-.9 3.5-1 3.5-1 3.5-.9 3.5-.9 3.5-.9 3.5-.9 3.5-1 3.5-1.1 3.5-1.4 3.5-1.5 3.5-1.1 3.5-.3 3.5 .5 3.5 .9 3.5 1.8 3.5 .7 3.5-1.4 3.5-1.5 3.5-1 3.5-.8 3.5-.6 3.5-.1 3.5-.8 3.5-2.4 3.5-3.2 3.5-3.3 3.5-3.3 3.5-3.4 3.5-3.4 3.5-3.4 3.5-3.4 3.5-3.4 3.5-3.5 3.5-3.5 3.5-3.5 3.5-3.5 3.5-3.7 3.5-3.7 3.5-3.3 3.5-3.2 3.5-3.2 3.5-3 3.5-2.8 3.5-2.2 3.5-1.6 3.5-1.6 3.5-2.1 3.5-2.5 3.5-2.7 3.5-2.5 3.5-2.2 3.5-2.2 3.5-2.1 3.5-2.1 3.5-2.1 3.5-2 3.5-2 3.5-2 3.5-2 3.5-1.7 3.5-.3 3.5 .4 3.5 1 3.5 2.8 3.5 3.2 3.5-1.7 3.5-4.8 3.5-5.7 3.5-5.2 3.5 .2 3.5 4.7 3.5 3.5 3.5-5.8 3.5-9 3.5-8.2 3.5-7.2 3.5-4.8 3.5-2.4 3.5 1.1 3.5 3.7 3.5 5.8 3.5 5.3 3.5-4.3 3.5-15.6 3.5-12.2 3.5-8 3.5-7.1 3.5-6 3.5-5.7 3.5-7.3 3.5-10.3 3.5-11.7 3.5-10.5 3.5-7.8 3.5-6.1 3.5-5.1 3.5-4.5 3.5-4.3 3.5-4 3.5-3.5 3.5-3.1 3.5-2.9 3.5-2.9 3.5-3 3.5-2.9 3.5-2.5 3.5-1.8 3.5-.9 3.5 .3 3.5 1.5 3.5 2.7 3.5 2.9 3.5 2.1 3.5 1.3 3.5-.4 3.5-2.1 3.5 .2 3.5 4.8 3.5 6.2 3.5 4.2 3.5 1.1 3.5 .3 3.5 2.1 3.5 4.1 3.5 5 3.5 5.3 3.5 .6 3.5-2.3 3.5-3.9 3.5-6.9 3.5-5.7 3.5-1.6 3.5 1.5 3.5 2.2 3.5 2.2 3.5 2 3.5-2.1 3.5-5.4 3.5-3.7 3.5 2 3.5 2 3.5-1.3 3.5-2.6 3.5 1.9 3.5 7.6 3.5 4.6 3.5-1.4 3.5 1.8 3.5 7.6 3.5 8 3.5 7.5 3.5 5.3 3.5 3 3.5-3.1 3.5-15.4 3.5-13.5 3.5-7.9 3.5-.9 3.5 2 3.5 4.5 3.5 6.6 3.5 7.8 3.5 8.2 3.5 3.8 3.5 2.6 3.5 5.9 3.5 .9 3.5-10.9 3.5-8.7 3.5-2.4 3.5 2.6 3.5 .8 3.5-.7 3.5-1.2 3.5-2 3.5-2.8 3.5-3.3 3.5 1.7 3.5 4 3.5 2.3 3.5 1.6 3.5 .4 3.5-2.9 3.5-6.7 3.5-9.7 3.5-9.6 3.5-5.5 3.5-3.7 3.5-3.4 3.5-2.9 3.5-2.8 3.5-2.6 3.5-2.1 3.5-4.4 3.5-7 3.5-8 3.5-8 3.5-8.3 3.5-8.4 3.5-7.1 3.5-4.9 3.5-3.6 3.5-3.6 3.5-3.9 3.5-3.9 3.5-4.1 3.5-4.9 3.5-4.8 3.5-2.3 3.5-.7 3.5-.8 3.5 3.8 3.5 6.6 3.5 11.2 3.5 11.2 3.5 7.6 3.5 6.4 3.5 5.3 3.5 6.2 3.5 15.4 3.5 16.1 3.5 14.3 3.5 10 3.5 5 3.5-3.1 3.5-8.8 3.5-10.1 3.5-10.9 3.5-9.8 3.5-8.8 3.5-8.6 3.5 5.3 3.5 30.4 3.5 49.8 3.5 54.6 3.5 22.7 3.5-39.5 3.5-47.4 3.5-37 3.5-22.5 3.5 2.5 3.5 10.8 3.5 3.8 3.5-1.7 3.5-.9 3.5 6.5 3.5 6.2 3.5 3.4 3.5-6.9 3.5-25.8 3.5-24.8 3.5-16.2 3.5-7.6 3.5-4.1 3.5-3.4 3.5-3.8 3.5-2.3 3.5 .3 3.5-3.6 3.5-11.4 3.5-14.3 3.5-15.1 3.5-15.6 3.5-15.6 3.5-15.7 3.5-15.4 3.5-14.7 3.5-14.3 3.5-10.4 3.5-4.5 3.5-1.8 3.5-2.6 3.5-4.7 3.5-5.3 3.5-5 3.5-4.5 3.5 2.8 3.5 15.2 3.5 13.4 3.5 8.3 3.5-4.8 3.5-12.1 3.5-11 3.5-10.9 3.5-8.2 3.5-3 3.5-.7 3.5 3.9 3.5 8.5 3.5 11.9 3.5 13.1 3.5 14.8 3.5 12.9 3.5 8.9 3.5 5.7 3.5 2.9 3.5 1.6 3.5 1.4 3.5 1 3.5 .6 3.5-.3 3.5-1.1 3.5-1.5 3.5-1.3 3.5-.9 3.5-.3 3.5-.2 3.5-.2 3.5-.1 3.5 .9 3.5 1.1 3.5 1.2 3.5 1.3 3.5 1.8 3.5 2.2 3.5 2.6 3.5 2.9 3.5 2.7 3.5 2.8 3.5 2.9 3.5 2.9 3.5 2.4 3.5 1.7 3.5 .9 3.5 .4 3.5 .3 3.5 .6 3.5 1.7 3.5 4.5 3.5 10.1 3.5 14.8 3.5 16.7 3.5 19.6 3.5 19.5 3.5 16.8 3.5 15.4 3.5 14.5 3.5 13.9 3.5 15.3 3.5 16.5 3.5 14.2 3.5 8.5 3.5 2.6 3.5-3.5 3.5-6.7 3.5-8 3.5-7.4 3.5-4.9 3.5-3.3 3.5-2 3.5-.7 3.5 1.2 3.5 2.4 3.5 2 3.5 1.3 3.5 1.2 3.5 1 3.5 .5 3.5-.7 3.5-1.9 3.5-2.9 3.5-3.9 3.5-6 3.5-5.8 3.5-4.9 3.5-1.7 3.5 1 3.5 1.4 3.5-.3 3.5-2.2 3.5-1.4 3.5 1.1 3.5 3.5 3.5 3.5 3.5 2 3.5 .2 3.5-1 3.5-1.3 3.5-1.7 3.5-2.2 3.5-2.2 3.5-1.6 3.5-.5 3.5 .8 3.5 1.7 3.5 2.2 3.5 2.2 3.5 3.1 3.5 3.1 3.5 2.2 3.5 .5 3.5-1.4 3.5-2 3.5-1.8 3.5-.9 3.5 .8 3.5 1.7 3.5 1.8 3.5 1.3 3.5 .4 3.5-.4 3.5-.8 3.5-.7 3.5-.5 3.5 .2 3.5 1.3 3.5 2.4 3.5 2.8 3.5 2.5 3.5 1.4 3.5 .5 3.5 0 3.5 .1 3.5 .9 3.5 2.5 3.5 3.8 3.5 3 3.5 .2 3.5-2.7 3.5-2.5 3.5-.1 3.5 2 3.5 2.9 3.5 3.3 3.5 2.8 3.5 2.3 3.5 2 3.5 1.9 3.5 1.5 3.5 1.2 3.5 1 3.5 .9 3.5 .6 3.5 .6 3.5 .4 3.5 .3 3.5 .3 3.5 .1 3.5 0 3.5-.1 3.5-.6 3.5-1.8 3.5-3.8 3.5-3 3.5-2.7 3.5-1.1 3.5 1.6 3.5 3 3.5 4.9 3.5 5.9 3.5 6.2 3.5 5.8 3.5 4.9 3.5 3.3 3.5 .4 3.5-2.5"/><path id="o13" d="M88.9 670.5l3.5-.2 3.5-.2 3.5-.2 3.5-.2 3.5-.1 3.5-.1 3.5-.2 3.5-.1 3.5-.1 3.5-.2 3.5-.2 3.5-.2 3.5-.3 3.5-.3 3.5-.4 3.5-.3 3.5-.3 3.5-.3 3.5-.3 3.5-.4 3.5-.3 3.5-.4 3.5-.5 3.5-.4 3.5-.5 3.5-.5 3.5-.6 3.5-.6 3.5-.8 3.5-.7 3.5-.8 3.5-.8 3.5-.9 3.5-.9 3.5-1 3.5-.9 3.5-1 3.5-.9 3.5-.9 3.5-.9 3.5-.9 3.5-1 3.5-1.1 3.5-1.4 3.5-1.4 3.5-1.1 3.5-.3 3.5 .5 3.5 .9 3.5 1.8 3.5 .6 3.5-1.3 3.5-1.5 3.5-1 3.5-.8 3.5-.6 3.5-.1 3.5-.8 3.5-2.3 3.5-3.3 3.5-3.2 3.5-3.3 3.5-3.4 3.5-3.4 3.5-3.3 3.5-3.4 3.5-3.5 3.5-3.4 3.5-3.5 3.5-3.6 3.5-3.5 3.5-3.7 3.5-3.6 3.5-3.4 3.5-3.2 3.5-3.2 3.5-3 3.5-2.8 3.5-2.2 3.5-1.7 3.5-1.6 3.5-2.1 3.5-2.6 3.5-2.6 3.5-2.5 3.5-2.3 3.5-2.2 3.5-2.1 3.5-2.1 3.5-2.1 3.5-2 3.5-2.1 3.5-2 3.5-1.9 3.5-1.8 3.5-.3 3.5 .5 3.5 .9 3.5 2.8 3.5 3.2 3.5-1.8 3.5-4.7 3.5-5.8 3.5-5.1 3.5 .2 3.5 4.6 3.5 3.5 3.5-5.8 3.5-9 3.5-8.2 3.5-7.2 3.5-4.8 3.5-2.4 3.5 1.1 3.5 3.7 3.5 5.8 3.5 5.3 3.5-4.3 3.5-15.6 3.5-12.2 3.5-8 3.5-7.1 3.5-6 3.5-5.7 3.5-7.3 3.5-10.3 3.5-11.7 3.5-10.5 3.5-7.8 3.5-6.1 3.5-5.1 3.5-4.5 3.5-4.3 3.5-4 3.5-3.5 3.5-3.1 3.5-2.9 3.5-2.9 3.5-3 3.5-2.9 3.5-2.5 3.5-1.8 3.5-.9 3.5 .3 3.5 1.5 3.5 2.6 3.5 2.7 3.5 2 3.5 1.2 3.5-.6 3.5-2.2 3.5 .1 3.5 4.6 3.5 6.2 3.5 4 3.5 1 3.5 .2 3.5 2 3.5 3.9 3.5 5 3.5 5.2 3.5 .4 3.5-2.4 3.5-4 3.5-7.1 3.5-5.9 3.5-1.7 3.5 1.4 3.5 2.1 3.5 2.1 3.5 1.9 3.5-2.2 3.5-5.7 3.5-3.8 3.5 1.9 3.5 1.9 3.5-1.5 3.5-2.7 3.5 1.8 3.5 7.6 3.5 4.5 3.5-1.5 3.5 1.7 3.5 7.6 3.5 8 3.5 7.5 3.5 5.3 3.5 3 3.5-3.3 3.5-15.8 3.5-13.8 3.5-8.1 3.5-.8 3.5 2 3.5 4.5 3.5 6.8 3.5 7.9 3.5 8.3 3.5 3.9 3.5 2.6 3.5 6 3.5 .9 3.5-11 3.5-8.9 3.5-2.5 3.5 2.6 3.5 .8 3.5-.7 3.5-1.3 3.5-2.1 3.5-2.8 3.5-3.4 3.5 1.8 3.5 4 3.5 2.3 3.5 1.7 3.5 .3 3.5-2.9 3.5-6.9 3.5-9.9 3.5-9.8 3.5-5.6 3.5-3.8 3.5-3.5 3.5-3 3.5-2.9 3.5-2.6 3.5-2.2 3.5-4.6 3.5-7.1 3.5-8.2 3.5-8.2 3.5-8.5 3.5-8.6 3.5-7.3 3.5-5 3.5-3.7 3.5-3.7 3.5-4 3.5-4 3.5-4.2 3.5-5 3.5-4.9 3.5-2.4 3.5-.8 3.5-.7 3.5 3.8 3.5 6.8 3.5 11.4 3.5 11.5 3.5 7.7 3.5 6.6 3.5 5.3 3.5 6.4 3.5 15.7 3.5 16.5 3.5 14.7 3.5 10.2 3.5 5 3.5-3.1 3.5-9 3.5-10.4 3.5-11.1 3.5-10 3.5-9 3.5-8.8 3.5 5.4 3.5 31.1 3.5 51 3.5 55.8 3.5 23.2 3.5-40.4 3.5-48.5 3.5-37.8 3.5-22.9 3.5 2.5 3.5 11.1 3.5 3.8 3.5-1.7 3.5-1 3.5 6.7 3.5 6.4 3.5 3.5 3.5-7.1 3.5-26.4 3.5-25.3 3.5-16.5 3.5-7.8 3.5-4.2 3.5-3.5 3.5-3.9 3.5-2.3 3.5 .3 3.5-3.6 3.5-11.7 3.5-14.5 3.5-15.5 3.5-16 3.5-15.9 3.5-16 3.5-15.7 3.5-15 3.5-14.7 3.5-10.6 3.5-4.5 3.5-2 3.5-2.6 3.5-4.8 3.5-5.4 3.5-5.1 3.5-4.7 3.5 3 3.5 15.5 3.5 13.7 3.5 8.5 3.5-5 3.5-12.4 3.5-11.3 3.5-11.2 3.5-8.4 3.5-3.1 3.5-.7 3.5 3.9 3.5 8.6 3.5 12.2 3.5 13.4 3.5 15 3.5 13.2 3.5 9.1 3.5 5.7 3.5 3 3.5 1.6 3.5 1.3 3.5 1.1 3.5 .5 3.5-.4 3.5-1.2 3.5-1.5 3.5-1.5 3.5-.9 3.5-.5 3.5-.2 3.5-.2 3.5-.2 3.5 .9 3.5 1 3.5 1.1 3.5 1.4 3.5 1.7 3.5 2.2 3.5 2.6 3.5 2.9 3.5 2.7 3.5 2.8 3.5 2.9 3.5 2.9 3.5 2.4 3.5 1.7 3.5 .9 3.5 .3 3.5 .2 3.5 .5 3.5 1.8 3.5 4.5 3.5 10.4 3.5 15 3.5 17.2 3.5 20.1 3.5 20 3.5 17.2 3.5 15.8 3.5 14.8 3.5 14.3 3.5 15.7 3.5 16.9 3.5 14.6 3.5 8.8 3.5 2.5 3.5-3.6 3.5-6.9 3.5-8.3 3.5-7.6 3.5-5.1 3.5-3.4 3.5-2.1 3.5-.8 3.5 1.2 3.5 2.5 3.5 1.9 3.5 1.4 3.5 1.2 3.5 1 3.5 .4 3.5-.6 3.5-2.1 3.5-3 3.5-4 3.5-6.2 3.5-6.1 3.5-5.1 3.5-1.7 3.5 .9 3.5 1.4 3.5-.3 3.5-2.3 3.5-1.5 3.5 1.1 3.5 3.5 3.5 3.6 3.5 2.1 3.5 .1 3.5-1 3.5-1.4 3.5-1.8 3.5-2.3 3.5-2.3 3.5-1.7 3.5-.5 3.5 .8 3.5 1.7 3.5 2.2 3.5 2.3 3.5 3.1 3.5 3.2 3.5 2.3 3.5 .4 3.5-1.5 3.5-2.1 3.5-1.9 3.5-.9 3.5 .7 3.5 1.8 3.5 1.8 3.5 1.4 3.5 .3 3.5-.5 3.5-.8 3.5-.8 3.5-.5 3.5 .1 3.5 1.4 3.5 2.4 3.5 2.9 3.5 2.6 3.5 1.4 3.5 .4 3.5 .1 3.5 .1 3.5 .8 3.5 2.6 3.5 3.9 3.5 3.1 3.5 .2 3.5-2.8 3.5-2.7 3.5-.2 3.5 2.1 3.5 3 3.5 3.3 3.5 3 3.5 2.3 3.5 2.1 3.5 1.9 3.5 1.5 3.5 1.3 3.5 1 3.5 .9 3.5 .6 3.5 .6 3.5 .4 3.5 .3 3.5 .2 3.5 .1 3.5 0 3.5-.2 3.5-.6 3.5-2 3.5-3.9 3.5-3.2 3.5-2.8 3.5-1.1 3.5 1.5 3.5 3.2 3.5 5 3.5 6.2 3.5 6.4 3.5 6 3.5 5.1 3.5 3.5 3.5 .3 3.5-2.7"/><path id="o14" d="M88.9 670.4l3.5-.3 3.5-.2 3.5-.2 3.5-.1 3.5-.2 3.5-.1 3.5-.2 3.5-.1 3.5-.2 3.5-.1 3.5-.2 3.5-.3 3.5-.3 3.5-.3 3.5-.4 3.5-.3 3.5-.4 3.5-.3 3.5-.4 3.5-.3 3.5-.4 3.5-.5 3.5-.4 3.5-.5 3.5-.5 3.5-.6 3.5-.6 3.5-.7 3.5-.8 3.5-.8 3.5-.8 3.5-.9 3.5-1 3.5-1 3.5-1 3.5-1 3.5-1 3.5-1 3.5-1 3.5-.9 3.5-1 3.5-1.1 3.5-1.2 3.5-1.5 3.5-1.6 3.5-1.1 3.5-.3 3.5 .5 3.5 1 3.5 1.9 3.5 .7 3.5-1.5 3.5-1.6 3.5-1 3.5-.9 3.5-.6 3.5-.2 3.5-.8 3.5-2.5 3.5-3.3 3.5-3.4 3.5-3.4 3.5-3.5 3.5-3.5 3.5-3.4 3.5-3.5 3.5-3.4 3.5-3.5 3.5-3.5 3.5-3.5 3.5-3.5 3.5-3.7 3.5-3.6 3.5-3.3 3.5-3.1 3.5-3 3.5-2.9 3.5-2.7 3.5-2 3.5-1.5 3.5-1.4 3.5-2 3.5-2.5 3.5-2.7 3.5-2.4 3.5-2.2 3.5-2.1 3.5-2.1 3.5-2.1 3.5-2 3.5-2 3.5-1.9 3.5-2 3.5-1.8 3.5-1.7 3.5-.3 3.5 .6 3.5 1.1 3.5 2.8 3.5 3.4 3.5-1.7 3.5-4.7 3.5-5.6 3.5-5.1 3.5 .3 3.5 4.7 3.5 3.5 3.5-5.8 3.5-9 3.5-8.2 3.5-7.2 3.5-4.8 3.5-2.4 3.5 1.1 3.5 3.7 3.5 5.8 3.5 5.3 3.5-4.3 3.5-15.6 3.5-12.2 3.5-8 3.5-7.1 3.5-6 3.5-5.7 3.5-7.3 3.5-10.3 3.5-11.7 3.5-10.5 3.5-7.8 3.5-6.1 3.5-5.1 3.5-4.5 3.5-4.3 3.5-4 3.5-3.5 3.5-3.1 3.5-2.9 3.5-2.9 3.5-3 3.5-2.9 3.5-2.5 3.5-1.8 3.5-.9 3.5 .3 3.5 1.5 3.5 3 3.5 3.1 3.5 2.4 3.5 1.5 3.5-.1 3.5-1.8 3.5 .5 3.5 5 3.5 6.4 3.5 4.4 3.5 1.4 3.5 .5 3.5 2.4 3.5 4.2 3.5 5.2 3.5 5.5 3.5 .8 3.5-2.1 3.5-3.5 3.5-6.6 3.5-5.3 3.5-1.3 3.5 1.8 3.5 2.3 3.5 2.4 3.5 2.2 3.5-1.8 3.5-5 3.5-3.3 3.5 2.1 3.5 2.3 3.5-1.1 3.5-2.2 3.5 2.1 3.5 7.6 3.5 4.7 3.5-1.1 3.5 2 3.5 7.5 3.5 8 3.5 7.4 3.5 5.3 3.5 3.2 3.5-2.8 3.5-14.6 3.5-13 3.5-7.6 3.5-.7 3.5 1.9 3.5 4.3 3.5 6.4 3.5 7.6 3.5 7.8 3.5 3.7 3.5 2.5 3.5 5.7 3.5 .9 3.5-10.4 3.5-8.3 3.5-2.3 3.5 2.6 3.5 .7 3.5-.6 3.5-1.1 3.5-1.9 3.5-2.6 3.5-3.2 3.5 1.7 3.5 3.8 3.5 2.3 3.5 1.5 3.5 .4 3.5-2.7 3.5-6.4 3.5-9.2 3.5-9.2 3.5-5.2 3.5-3.5 3.5-3.2 3.5-2.8 3.5-2.6 3.5-2.4 3.5-2 3.5-4.2 3.5-6.6 3.5-7.6 3.5-7.6 3.5-7.9 3.5-8 3.5-6.7 3.5-4.6 3.5-3.4 3.5-3.4 3.5-3.7 3.5-3.6 3.5-3.9 3.5-4.6 3.5-4.5 3.5-2.1 3.5-.7 3.5-.6 3.5 3.6 3.5 6.4 3.5 10.8 3.5 10.7 3.5 7.2 3.5 6.2 3.5 5.1 3.5 6 3.5 14.7 3.5 15.4 3.5 13.7 3.5 9.5 3.5 4.8 3.5-2.8 3.5-8.4 3.5-9.5 3.5-10.3 3.5-9.3 3.5-8.2 3.5-8.1 3.5 5 3.5 28.9 3.5 47.4 3.5 51.9 3.5 21.6 3.5-37.5 3.5-44.9 3.5-35 3.5-21.2 3.5 2.4 3.5 10.4 3.5 3.6 3.5-1.5 3.5-.9 3.5 6.3 3.5 6 3.5 3.2 3.5-6.4 3.5-24.4 3.5-23.2 3.5-15.3 3.5-7.1 3.5-3.8 3.5-3.1 3.5-3.5 3.5-2.1 3.5 .4 3.5-3.2 3.5-10.7 3.5-13.3 3.5-14.2 3.5-14.6 3.5-14.6 3.5-14.6 3.5-14.4 3.5-13.7 3.5-13.4 3.5-9.6 3.5-4.1 3.5-1.7 3.5-2.3 3.5-4.3 3.5-4.9 3.5-4.6 3.5-4.1 3.5 2.8 3.5 14.3 3.5 12.7 3.5 8 3.5-4.4 3.5-11.3 3.5-10.2 3.5-10.2 3.5-7.6 3.5-2.7 3.5-.5 3.5 3.7 3.5 8 3.5 11.3 3.5 12.3 3.5 13.9 3.5 12.2 3.5 8.4 3.5 5.4 3.5 2.8 3.5 1.5 3.5 1.3 3.5 1.1 3.5 .5 3.5-.2 3.5-1 3.5-1.4 3.5-1.3 3.5-.7 3.5-.3 3.5-.2 3.5-.1 3.5-.1 3.5 .9 3.5 .9 3.5 1.1 3.5 1.3 3.5 1.6 3.5 2.1 3.5 2.5 3.5 2.6 3.5 2.6 3.5 2.6 3.5 2.7 3.5 2.7 3.5 2.3 3.5 1.6 3.5 .8 3.5 .4 3.5 .2 3.5 .6 3.5 1.6 3.5 4.2 3.5 9.5 3.5 13.7 3.5 15.7 3.5 18.3 3.5 18.3 3.5 15.7 3.5 14.4 3.5 13.5 3.5 13.1 3.5 14.3 3.5 15.4 3.5 13.3 3.5 8 3.5 2.4 3.5-3.3 3.5-6.3 3.5-7.4 3.5-6.9 3.5-4.6 3.5-3 3.5-1.9 3.5-.6 3.5 1.1 3.5 2.2 3.5 1.9 3.5 1.2 3.5 1.2 3.5 1 3.5 .4 3.5-.6 3.5-1.8 3.5-2.7 3.5-3.5 3.5-5.6 3.5-5.5 3.5-4.5 3.5-1.5 3.5 .9 3.5 1.3 3.5-.2 3.5-2 3.5-1.2 3.5 1.1 3.5 3.2 3.5 3.4 3.5 1.9 3.5 .2 3.5-.8 3.5-1.2 3.5-1.5 3.5-2 3.5-2 3.5-1.4 3.5-.4 3.5 .8 3.5 1.7 3.5 2 3.5 2.2 3.5 2.9 3.5 3 3.5 2.1 3.5 .4 3.5-1.2 3.5-1.8 3.5-1.6 3.5-.7 3.5 .7 3.5 1.7 3.5 1.7 3.5 1.3 3.5 .4 3.5-.3 3.5-.6 3.5-.7 3.5-.3 3.5 .2 3.5 1.3 3.5 2.3 3.5 2.6 3.5 2.4 3.5 1.3 3.5 .5 3.5 .2 3.5 .1 3.5 .8 3.5 2.5 3.5 3.5 3.5 2.9 3.5 .2 3.5-2.4 3.5-2.3 3.5 0 3.5 1.9 3.5 2.8 3.5 3 3.5 2.7 3.5 2.1 3.5 2 3.5 1.7 3.5 1.5 3.5 1.2 3.5 1 3.5 .8 3.5 .7 3.5 .5 3.5 .5 3.5 .4 3.5 .2 3.5 .2 3.5 .1 3.5-.1 3.5-.5 3.5-1.6 3.5-3.4 3.5-2.7 3.5-2.5 3.5-.9 3.5 1.5 3.5 2.9 3.5 4.5 3.5 5.5 3.5 5.7 3.5 5.4 3.5 4.5 3.5 3.1 3.5 .4 3.5-2.3"/><path id="o15" d="M88.9 670.3l3.5-.2 3.5-.3 3.5-.2 3.5-.1 3.5-.2 3.5-.1 3.5-.2 3.5-.1 3.5-.2 3.5-.2 3.5-.2 3.5-.3 3.5-.3 3.5-.3 3.5-.4 3.5-.4 3.5-.4 3.5-.3 3.5-.4 3.5-.4 3.5-.4 3.5-.4 3.5-.5 3.5-.5 3.5-.5 3.5-.6 3.5-.7 3.5-.7 3.5-.8 3.5-.9 3.5-.9 3.5-.9 3.5-1 3.5-1.1 3.5-1 3.5-1.1 3.5-1.1 3.5-1 3.5-1 3.5-1 3.5-1.1 3.5-1.1 3.5-1.3 3.5-1.5 3.5-1.7 3.5-1.2 3.5-.3 3.5 .5 3.5 1 3.5 2 3.5 .8 3.5-1.6 3.5-1.6 3.5-1.1 3.5-1 3.5-.6 3.5-.1 3.5-.9 3.5-2.5 3.5-3.5 3.5-3.5 3.5-3.5 3.5-3.5 3.5-3.5 3.5-3.5 3.5-3.5 3.5-3.5 3.5-3.5 3.5-3.5 3.5-3.5 3.5-3.5 3.5-3.7 3.5-3.5 3.5-3.2 3.5-3.1 3.5-3 3.5-2.8 3.5-2.5 3.5-1.9 3.5-1.4 3.5-1.2 3.5-2 3.5-2.4 3.5-2.7 3.5-2.4 3.5-2.2 3.5-2 3.5-2.1 3.5-2 3.5-2 3.5-1.9 3.5-1.9 3.5-1.9 3.5-1.8 3.5-1.6 3.5-.2 3.5 .6 3.5 1.2 3.5 2.9 3.5 3.4 3.5-1.6 3.5-4.7 3.5-5.5 3.5-5.1 3.5 .4 3.5 4.8 3.5 3.5 3.5-5.8 3.5-9 3.5-8.2 3.5-7.2 3.5-4.8 3.5-2.4 3.5 1.1 3.5 3.7 3.5 5.8 3.5 5.3 3.5-4.3 3.5-15.6 3.5-12.2 3.5-8 3.5-7.1 3.5-6 3.5-5.7 3.5-7.3 3.5-10.3 3.5-11.7 3.5-10.5 3.5-7.8 3.5-6.1 3.5-5.1 3.5-4.5 3.5-4.3 3.5-4 3.5-3.5 3.5-3.1 3.5-2.9 3.5-2.9 3.5-3 3.5-2.9 3.5-2.5 3.5-1.8 3.5-.9 3.5 .3 3.5 1.5 3.5 2.8 3.5 2.9 3.5 2.2 3.5 1.3 3.5-.3 3.5-2 3.5 .3 3.5 4.8 3.5 6.3 3.5 4.2 3.5 1.2 3.5 .4 3.5 2.1 3.5 4.1 3.5 5.1 3.5 5.4 3.5 .5 3.5-2.2 3.5-3.8 3.5-6.8 3.5-5.6 3.5-1.6 3.5 1.7 3.5 2.1 3.5 2.3 3.5 2 3.5-2 3.5-5.3 3.5-3.5 3.5 2 3.5 2 3.5-1.2 3.5-2.5 3.5 2 3.5 7.5 3.5 4.6 3.5-1.2 3.5 1.8 3.5 7.6 3.5 8 3.5 7.4 3.5 5.3 3.5 3.1 3.5-3.1 3.5-15.2 3.5-13.3 3.5-7.9 3.5-.8 3.5 2 3.5 4.4 3.5 6.6 3.5 7.8 3.5 8 3.5 3.8 3.5 2.6 3.5 5.8 3.5 .9 3.5-10.7 3.5-8.6 3.5-2.4 3.5 2.6 3.5 .8 3.5-.7 3.5-1.2 3.5-2 3.5-2.6 3.5-3.4 3.5 1.8 3.5 3.9 3.5 2.3 3.5 1.6 3.5 .4 3.5-2.8 3.5-6.6 3.5-9.6 3.5-9.5 3.5-5.3 3.5-3.7 3.5-3.3 3.5-2.9 3.5-2.7 3.5-2.5 3.5-2.1 3.5-4.3 3.5-6.9 3.5-7.8 3.5-7.9 3.5-8.1 3.5-8.3 3.5-7 3.5-4.8 3.5-3.4 3.5-3.5 3.5-3.8 3.5-3.7 3.5-4 3.5-4.8 3.5-4.6 3.5-2.2 3.5-.6 3.5-.6 3.5 3.7 3.5 6.7 3.5 11.2 3.5 11.1 3.5 7.5 3.5 6.5 3.5 5.3 3.5 6.2 3.5 15.2 3.5 16 3.5 14.2 3.5 9.9 3.5 5 3.5-2.9 3.5-8.5 3.5-9.8 3.5-10.5 3.5-9.4 3.5-8.4 3.5-8.3 3.5 5.4 3.5 29.8 3.5 48.8 3.5 53.4 3.5 22.3 3.5-38.5 3.5-45.9 3.5-35.8 3.5-21.6 3.5 2.6 3.5 10.7 3.5 3.8 3.5-1.4 3.5-.7 3.5 6.6 3.5 6.2 3.5 3.5 3.5-6.5 3.5-24.7 3.5-23.6 3.5-15.3 3.5-7.1 3.5-3.7 3.5-2.9 3.5-3.4 3.5-2 3.5 .6 3.5-3.1 3.5-10.6 3.5-13.4 3.5-14.2 3.5-14.7 3.5-14.5 3.5-14.6 3.5-14.4 3.5-13.7 3.5-13.4 3.5-9.5 3.5-4 3.5-1.4 3.5-2.2 3.5-4.2 3.5-4.7 3.5-4.5 3.5-4.1 3.5 3 3.5 14.6 3.5 12.9 3.5 8 3.5-4.4 3.5-11.3 3.5-10.2 3.5-10.3 3.5-7.7 3.5-2.7 3.5-.5 3.5 3.7 3.5 8 3.5 11.3 3.5 12.3 3.5 14 3.5 12.1 3.5 8.4 3.5 5.3 3.5 2.7 3.5 1.4 3.5 1.2 3.5 .8 3.5 .4 3.5-.4 3.5-1.3 3.5-1.5 3.5-1.5 3.5-1 3.5-.6 3.5-.5 3.5-.3 3.5-.4 3.5 .6 3.5 .7 3.5 .9 3.5 1 3.5 1.3 3.5 1.9 3.5 2.2 3.5 2.4 3.5 2.3 3.5 2.3 3.5 2.5 3.5 2.4 3.5 2.1 3.5 1.3 3.5 .5 3.5 .1 3.5-.1 3.5 .3 3.5 1.4 3.5 4 3.5 9.4 3.5 13.9 3.5 15.9 3.5 18.7 3.5 18.6 3.5 16 3.5 14.7 3.5 13.8 3.5 13.3 3.5 14.7 3.5 15.7 3.5 13.7 3.5 8.1 3.5 2.3 3.5-3.5 3.5-6.6 3.5-7.9 3.5-7.3 3.5-5 3.5-3.3 3.5-2 3.5-.9 3.5 1.1 3.5 2.2 3.5 1.8 3.5 1.2 3.5 1.1 3.5 .9 3.5 .3 3.5-.7 3.5-2 3.5-2.9 3.5-3.8 3.5-6 3.5-5.8 3.5-4.9 3.5-1.6 3.5 .8 3.5 1.3 3.5-.3 3.5-2.2 3.5-1.4 3.5 1.1 3.5 3.3 3.5 3.4 3.5 1.9 3.5 .2 3.5-.9 3.5-1.4 3.5-1.7 3.5-2.2 3.5-2.1 3.5-1.6 3.5-.5 3.5 .8 3.5 1.6 3.5 2.2 3.5 2.2 3.5 2.9 3.5 3.1 3.5 2.2 3.5 .4 3.5-1.3 3.5-2 3.5-1.8 3.5-.8 3.5 .7 3.5 1.7 3.5 1.8 3.5 1.3 3.5 .4 3.5-.4 3.5-.7 3.5-.8 3.5-.4 3.5 .1 3.5 1.4 3.5 2.3 3.5 2.8 3.5 2.5 3.5 1.3 3.5 .5 3.5 .1 3.5 .1 3.5 .8 3.5 2.5 3.5 3.8 3.5 3 3.5 .2 3.5-2.7 3.5-2.5 3.5-.1 3.5 2 3.5 2.9 3.5 3.2 3.5 2.8 3.5 2.2 3.5 2.1 3.5 1.8 3.5 1.5 3.5 1.2 3.5 1 3.5 .9 3.5 .6 3.5 .6 3.5 .4 3.5 .4 3.5 .2 3.5 .2 3.5 0 3.5-.2 3.5-.5 3.5-1.8 3.5-3.7 3.5-2.9 3.5-2.7 3.5-1 3.5 1.5 3.5 3 3.5 4.8 3.5 5.9 3.5 6.1 3.5 5.7 3.5 4.7 3.5 3.3 3.5 .4 3.5-2.5"/><path id="o16" d="M88.9 670.1l3.5-.2 3.5-.3 3.5-.2 3.5-.2 3.5-.2 3.5-.1 3.5-.2 3.5-.1 3.5-.2 3.5-.2 3.5-.3 3.5-.3 3.5-.3 3.5-.4 3.5-.4 3.5-.5 3.5-.4 3.5-.4 3.5-.4 3.5-.4 3.5-.4 3.5-.5 3.5-.6 3.5-.5 3.5-.6 3.5-.7 3.5-.7 3.5-.8 3.5-.9 3.5-1 3.5-1 3.5-1 3.5-1.1 3.5-1.2 3.5-1.2 3.5-1.2 3.5-1.2 3.5-1.1 3.5-1.1 3.5-1.2 3.5-1.1 3.5-1.2 3.5-1.4 3.5-1.8 3.5-1.8 3.5-1.4 3.5-.3 3.5 .5 3.5 1.2 3.5 2.2 3.5 .8 3.5-1.7 3.5-1.8 3.5-1.2 3.5-1.1 3.5-.7 3.5-.1 3.5-1 3.5-2.7 3.5-3.7 3.5-3.7 3.5-3.6 3.5-3.7 3.5-3.7 3.5-3.6 3.5-3.6 3.5-3.5 3.5-3.6 3.5-3.5 3.5-3.5 3.5-3.4 3.5-3.6 3.5-3.5 3.5-3.1 3.5-2.8 3.5-2.8 3.5-2.6 3.5-2.3 3.5-1.7 3.5-1 3.5-.9 3.5-1.8 3.5-2.4 3.5-2.6 3.5-2.3 3.5-2.2 3.5-1.9 3.5-2 3.5-1.9 3.5-1.9 3.5-1.8 3.5-1.8 3.5-1.8 3.5-1.7 3.5-1.5 3.5 0 3.5 .8 3.5 1.3 3.5 3.1 3.5 3.6 3.5-1.5 3.5-4.5 3.5-5.5 3.5-4.9 3.5 .6 3.5 4.9 3.5 3.5 3.5-5.8 3.5-9 3.5-8.2 3.5-7.2 3.5-4.8 3.5-2.4 3.5 1.1 3.5 3.7 3.5 5.8 3.5 5.3 3.5-4.3 3.5-15.6 3.5-12.2 3.5-8 3.5-7.1 3.5-6 3.5-5.7 3.5-7.3 3.5-10.3 3.5-11.7 3.5-10.5 3.5-7.8 3.5-6.1 3.5-5.1 3.5-4.5 3.5-4.3 3.5-4 3.5-3.5 3.5-3.1 3.5-2.9 3.5-2.9 3.5-3 3.5-2.9 3.5-2.5 3.5-1.8 3.5-.9 3.5 .3 3.5 1.5 3.5 2.5 3.5 2.6 3.5 1.9 3.5 1 3.5-.7 3.5-2.3 3.5-.1 3.5 4.6 3.5 6.1 3.5 3.9 3.5 .9 3.5 .1 3.5 1.8 3.5 3.9 3.5 4.9 3.5 5.2 3.5 .3 3.5-2.6 3.5-4.1 3.5-7.3 3.5-6 3.5-1.9 3.5 1.4 3.5 1.9 3.5 2.1 3.5 1.7 3.5-2.3 3.5-5.8 3.5-4 3.5 1.8 3.5 1.8 3.5-1.6 3.5-2.8 3.5 1.7 3.5 7.5 3.5 4.5 3.5-1.6 3.5 1.6 3.5 7.6 3.5 8.1 3.5 7.5 3.5 5.3 3.5 2.9 3.5-3.5 3.5-16.1 3.5-14 3.5-8.3 3.5-.9 3.5 2.1 3.5 4.6 3.5 6.9 3.5 8 3.5 8.4 3.5 4 3.5 2.7 3.5 6 3.5 .9 3.5-11.2 3.5-9.1 3.5-2.6 3.5 2.7 3.5 .8 3.5-.8 3.5-1.3 3.5-2.1 3.5-2.9 3.5-3.5 3.5 1.8 3.5 4.1 3.5 2.3 3.5 1.7 3.5 .4 3.5-3.1 3.5-7 3.5-10.1 3.5-10.1 3.5-5.7 3.5-3.9 3.5-3.5 3.5-3.2 3.5-2.9 3.5-2.7 3.5-2.3 3.5-4.7 3.5-7.3 3.5-8.3 3.5-8.4 3.5-8.7 3.5-8.9 3.5-7.5 3.5-5.1 3.5-3.8 3.5-3.9 3.5-4.1 3.5-4.1 3.5-4.4 3.5-5.2 3.5-5.1 3.5-2.5 3.5-.8 3.5-.9 3.5 3.9 3.5 6.8 3.5 11.7 3.5 11.6 3.5 7.8 3.5 6.7 3.5 5.4 3.5 6.4 3.5 16 3.5 16.8 3.5 15 3.5 10.3 3.5 5.2 3.5-3.3 3.5-9.4 3.5-10.7 3.5-11.5 3.5-10.4 3.5-9.3 3.5-9.1 3.5 5.4 3.5 31.8 3.5 52.3 3.5 57.3 3.5 23.9 3.5-41.7 3.5-50 3.5-39 3.5-23.8 3.5 2.5 3.5 11.2 3.5 3.9 3.5-1.9 3.5-1.1 3.5 6.7 3.5 6.5 3.5 3.4 3.5-7.4 3.5-27.4 3.5-26.4 3.5-17.2 3.5-8.3 3.5-4.5 3.5-3.8 3.5-4.2 3.5-2.6 3.5 .2 3.5-4 3.5-12.2 3.5-15.4 3.5-16.2 3.5-16.8 3.5-16.7 3.5-16.9 3.5-16.6 3.5-15.8 3.5-15.5 3.5-11.2 3.5-4.9 3.5-2.2 3.5-3 3.5-5.1 3.5-5.8 3.5-5.6 3.5-5 3.5 2.9 3.5 16.1 3.5 14.2 3.5 8.7 3.5-5.3 3.5-13 3.5-11.9 3.5-11.8 3.5-9 3.5-3.2 3.5-.8 3.5 4 3.5 9 3.5 12.7 3.5 14 3.5 15.7 3.5 13.8 3.5 9.5 3.5 6.1 3.5 3.1 3.5 1.7 3.5 1.5 3.5 1.1 3.5 .6 3.5-.2 3.5-1.2 3.5-1.6 3.5-1.4 3.5-.8 3.5-.4 3.5-.2 3.5 0 3.5-.1 3.5 1 3.5 1.2 3.5 1.4 3.5 1.5 3.5 1.9 3.5 2.5 3.5 2.9 3.5 3.1 3.5 3.1 3.5 3 3.5 3.2 3.5 3.2 3.5 2.7 3.5 1.9 3.5 1.1 3.5 .5 3.5 .4 3.5 .6 3.5 2 3.5 4.9 3.5 10.9 3.5 15.8 3.5 17.9 3.5 20.9 3.5 20.9 3.5 18 3.5 16.5 3.5 15.4 3.5 14.9 3.5 16.4 3.5 17.5 3.5 15.2 3.5 9.1 3.5 2.7 3.5-3.6 3.5-7.1 3.5-8.5 3.5-7.8 3.5-5.2 3.5-3.4 3.5-2.2 3.5-.7 3.5 1.3 3.5 2.6 3.5 2 3.5 1.5 3.5 1.3 3.5 1.1 3.5 .5 3.5-.7 3.5-2.1 3.5-3.1 3.5-4.1 3.5-6.4 3.5-6.1 3.5-5.3 3.5-1.7 3.5 1 3.5 1.4 3.5-.3 3.5-2.3 3.5-1.6 3.5 1.2 3.5 3.6 3.5 3.7 3.5 2.1 3.5 .1 3.5-1 3.5-1.4 3.5-1.9 3.5-2.4 3.5-2.4 3.5-1.8 3.5-.5 3.5 .8 3.5 1.8 3.5 2.2 3.5 2.4 3.5 3.2 3.5 3.3 3.5 2.2 3.5 .5 3.5-1.5 3.5-2.2 3.5-2 3.5-1 3.5 .7 3.5 1.8 3.5 1.9 3.5 1.4 3.5 .3 3.5-.5 3.5-.9 3.5-.8 3.5-.6 3.5 .1 3.5 1.4 3.5 2.5 3.5 3 3.5 2.6 3.5 1.4 3.5 .4 3.5 0 3.5 .1 3.5 .8 3.5 2.7 3.5 4 3.5 3.2 3.5 .2 3.5-3 3.5-2.8 3.5-.2 3.5 2.2 3.5 3.1 3.5 3.4 3.5 3 3.5 2.3 3.5 2.2 3.5 1.9 3.5 1.6 3.5 1.3 3.5 1 3.5 .8 3.5 .7 3.5 .5 3.5 .5 3.5 .3 3.5 .2 3.5 .1 3.5-.1 3.5-.2 3.5-.7 3.5-2 3.5-4.1 3.5-3.3 3.5-3 3.5-1.1 3.5 1.5 3.5 3.3 3.5 5.1 3.5 6.4 3.5 6.7 3.5 6.1 3.5 5.2 3.5 3.6 3.5 .3 3.5-2.7"/><path id="o17" d="M88.9 670.4l3.5-.2 3.5-.2 3.5-.2 3.5-.2 3.5-.1 3.5-.2 3.5-.1 3.5-.1 3.5-.2 3.5-.2 3.5-.2 3.5-.2 3.5-.3 3.5-.3 3.5-.4 3.5-.3 3.5-.4 3.5-.3 3.5-.4 3.5-.3 3.5-.4 3.5-.4 3.5-.5 3.5-.4 3.5-.5 3.5-.6 3.5-.6 3.5-.7 3.5-.7 3.5-.8 3.5-.9 3.5-.9 3.5-.9 3.5-.9 3.5-1 3.5-1.1 3.5-.9 3.5-1 3.5-1 3.5-.9 3.5-1 3.5-1 3.5-1.2 3.5-1.5 3.5-1.5 3.5-1.1 3.5-.3 3.5 .4 3.5 1 3.5 1.9 3.5 .7 3.5-1.4 3.5-1.6 3.5-1 3.5-.9 3.5-.6 3.5-.1 3.5-.9 3.5-2.4 3.5-3.3 3.5-3.4 3.5-3.3 3.5-3.5 3.5-3.4 3.5-3.4 3.5-3.5 3.5-3.5 3.5-3.4 3.5-3.5 3.5-3.5 3.5-3.6 3.5-3.6 3.5-3.6 3.5-3.3 3.5-3.2 3.5-3.1 3.5-2.9 3.5-2.7 3.5-2.1 3.5-1.5 3.5-1.5 3.5-2 3.5-2.5 3.5-2.7 3.5-2.4 3.5-2.3 3.5-2.1 3.5-2.1 3.5-2 3.5-2.1 3.5-2 3.5-2 3.5-1.9 3.5-1.9 3.5-1.7 3.5-.3 3.5 .6 3.5 1 3.5 2.8 3.5 3.3 3.5-1.7 3.5-4.7 3.5-5.7 3.5-5.1 3.5 .3 3.5 4.7 3.5 3.5 3.5-5.8 3.5-9 3.5-8.2 3.5-7.2 3.5-4.8 3.5-2.4 3.5 1.1 3.5 3.7 3.5 5.8 3.5 5.3 3.5-4.3 3.5-15.6 3.5-12.2 3.5-8 3.5-7.1 3.5-6 3.5-5.7 3.5-7.3 3.5-10.3 3.5-11.7 3.5-10.5 3.5-7.8 3.5-6.1 3.5-5.1 3.5-4.5 3.5-4.3 3.5-4 3.5-3.5 3.5-3.1 3.5-2.9 3.5-2.9 3.5-3 3.5-2.9 3.5-2.5 3.5-1.8 3.5-.9 3.5 .3 3.5 1.5 3.5 2.7 3.5 2.9 3.5 2.1 3.5 1.3 3.5-.4 3.5-2.1 3.5 .2 3.5 4.8 3.5 6.3 3.5 4.1 3.5 1.2 3.5 .3 3.5 2 3.5 4.1 3.5 5.1 3.5 5.3 3.5 .5 3.5-2.3 3.5-3.9 3.5-6.9 3.5-5.6 3.5-1.7 3.5 1.6 3.5 2.1 3.5 2.3 3.5 1.9 3.5-2 3.5-5.4 3.5-3.7 3.5 2 3.5 2 3.5-1.3 3.5-2.6 3.5 1.9 3.5 7.6 3.5 4.6 3.5-1.4 3.5 1.8 3.5 7.6 3.5 8 3.5 7.4 3.5 5.4 3.5 3 3.5-3.1 3.5-15.4 3.5-13.5 3.5-7.9 3.5-.9 3.5 2 3.5 4.5 3.5 6.6 3.5 7.8 3.5 8.1 3.5 3.9 3.5 2.6 3.5 5.9 3.5 .9 3.5-10.9 3.5-8.7 3.5-2.4 3.5 2.6 3.5 .7 3.5-.6 3.5-1.2 3.5-2.1 3.5-2.7 3.5-3.4 3.5 1.8 3.5 3.9 3.5 2.3 3.5 1.6 3.5 .4 3.5-2.9 3.5-6.7 3.5-9.7 3.5-9.6 3.5-5.5 3.5-3.7 3.5-3.4 3.5-3 3.5-2.8 3.5-2.6 3.5-2.1 3.5-4.5 3.5-7 3.5-8 3.5-8 3.5-8.3 3.5-8.5 3.5-7.2 3.5-4.9 3.5-3.6 3.5-3.7 3.5-3.9 3.5-4 3.5-4.1 3.5-5 3.5-4.9 3.5-2.4 3.5-.8 3.5-.7 3.5 3.6 3.5 6.6 3.5 11.2 3.5 11.1 3.5 7.5 3.5 6.4 3.5 5.2 3.5 6.2 3.5 15.3 3.5 16.1 3.5 14.3 3.5 10 3.5 4.9 3.5-3.2 3.5-8.9 3.5-10.3 3.5-11.1 3.5-10 3.5-8.9 3.5-8.8 3.5 5.1 3.5 30.5 3.5 50.2 3.5 55.1 3.5 22.8 3.5-40.1 3.5-48 3.5-37.5 3.5-22.9 3.5 2.4 3.5 10.8 3.5 3.6 3.5-1.8 3.5-1.1 3.5 6.4 3.5 6.2 3.5 3.3 3.5-7.2 3.5-26.5 3.5-25.3 3.5-16.7 3.5-8 3.5-4.4 3.5-3.6 3.5-4.2 3.5-2.5 3.5 .1 3.5-3.9 3.5-11.8 3.5-14.8 3.5-15.8 3.5-16.2 3.5-16.1 3.5-16.3 3.5-16.1 3.5-15.3 3.5-14.9 3.5-10.9 3.5-4.8 3.5-2.2 3.5-2.8 3.5-5 3.5-5.7 3.5-5.3 3.5-4.9 3.5 2.8 3.5 15.5 3.5 13.7 3.5 8.4 3.5-5 3.5-12.6 3.5-11.4 3.5-11.4 3.5-8.5 3.5-3.2 3.5-.7 3.5 4 3.5 8.7 3.5 12.4 3.5 13.5 3.5 15.3 3.5 13.3 3.5 9.3 3.5 5.9 3.5 3.1 3.5 1.8 3.5 1.5 3.5 1.2 3.5 .7 3.5-.1 3.5-1 3.5-1.4 3.5-1.3 3.5-.6 3.5-.2 3.5 0 3.5 .1 3.5 0 3.5 1.2 3.5 1.3 3.5 1.4 3.5 1.7 3.5 2 3.5 2.5 3.5 3 3.5 3.1 3.5 3.1 3.5 3.1 3.5 3.2 3.5 3.2 3.5 2.7 3.5 2 3.5 1.2 3.5 .7 3.5 .5 3.5 .8 3.5 2.1 3.5 4.8 3.5 10.5 3.5 15.2 3.5 17.2 3.5 20.1 3.5 20 3.5 17.2 3.5 15.8 3.5 14.8 3.5 14.2 3.5 15.7 3.5 16.7 3.5 14.5 3.5 8.8 3.5 2.6 3.5-3.3 3.5-6.7 3.5-7.9 3.5-7.4 3.5-4.8 3.5-3.2 3.5-1.9 3.5-.6 3.5 1.3 3.5 2.5 3.5 2 3.5 1.5 3.5 1.3 3.5 1.1 3.5 .5 3.5-.6 3.5-1.9 3.5-2.8 3.5-3.8 3.5-6 3.5-5.8 3.5-4.8 3.5-1.6 3.5 1 3.5 1.4 3.5-.2 3.5-2.1 3.5-1.4 3.5 1.2 3.5 3.5 3.5 3.5 3.5 2.1 3.5 .2 3.5-.9 3.5-1.3 3.5-1.7 3.5-2.2 3.5-2.1 3.5-1.6 3.5-.5 3.5 .9 3.5 1.7 3.5 2.2 3.5 2.3 3.5 3 3.5 3.2 3.5 2.2 3.5 .4 3.5-1.3 3.5-2 3.5-1.8 3.5-.9 3.5 .8 3.5 1.7 3.5 1.9 3.5 1.3 3.5 .4 3.5-.5 3.5-.7 3.5-.7 3.5-.5 3.5 .2 3.5 1.3 3.5 2.4 3.5 2.8 3.5 2.5 3.5 1.4 3.5 .5 3.5 0 3.5 .1 3.5 .9 3.5 2.5 3.5 3.8 3.5 3.1 3.5 .1 3.5-2.7 3.5-2.5 3.5-.1 3.5 2 3.5 3 3.5 3.2 3.5 2.8 3.5 2.3 3.5 2 3.5 1.9 3.5 1.5 3.5 1.2 3.5 1.1 3.5 .8 3.5 .7 3.5 .5 3.5 .4 3.5 .4 3.5 .2 3.5 .2 3.5 0 3.5-.2 3.5-.6 3.5-1.8 3.5-3.8 3.5-3 3.5-2.7 3.5-1 3.5 1.5 3.5 3 3.5 4.9 3.5 5.9 3.5 6.2 3.5 5.8 3.5 4.9 3.5 3.4 3.5 .3 3.5-2.5"/><path id="o18" d="M88.9 670.3l3.5-.2 3.5-.2 3.5-.2 3.5-.2 3.5-.1 3.5-.2 3.5-.1 3.5-.2 3.5-.1 3.5-.2 3.5-.2 3.5-.3 3.5-.3 3.5-.3 3.5-.4 3.5-.4 3.5-.3 3.5-.4 3.5-.3 3.5-.4 3.5-.4 3.5-.4 3.5-.5 3.5-.5 3.5-.5 3.5-.6 3.5-.6 3.5-.7 3.5-.8 3.5-.9 3.5-.8 3.5-.9 3.5-1 3.5-1 3.5-1.1 3.5-1 3.5-1.1 3.5-1 3.5-1 3.5-.9 3.5-1 3.5-1.1 3.5-1.3 3.5-1.5 3.5-1.6 3.5-1.2 3.5-.3 3.5 .5 3.5 1 3.5 2 3.5 .7 3.5-1.5 3.5-1.6 3.5-1.1 3.5-.9 3.5-.6 3.5-.2 3.5-.8 3.5-2.5 3.5-3.4 3.5-3.5 3.5-3.4 3.5-3.5 3.5-3.5 3.5-3.5 3.5-3.4 3.5-3.5 3.5-3.5 3.5-3.5 3.5-3.5 3.5-3.5 3.5-3.7 3.5-3.5 3.5-3.3 3.5-3.1 3.5-3 3.5-2.9 3.5-2.6 3.5-2 3.5-1.3 3.5-1.4 3.5-2 3.5-2.5 3.5-2.6 3.5-2.4 3.5-2.2 3.5-2.1 3.5-2.1 3.5-2 3.5-2 3.5-2 3.5-1.9 3.5-1.9 3.5-1.9 3.5-1.6 3.5-.2 3.5 .6 3.5 1.1 3.5 2.8 3.5 3.4 3.5-1.6 3.5-4.7 3.5-5.6 3.5-5.1 3.5 .3 3.5 4.8 3.5 3.5 3.5-5.8 3.5-9 3.5-8.2 3.5-7.2 3.5-4.8 3.5-2.4 3.5 1.1 3.5 3.7 3.5 5.8 3.5 5.3 3.5-4.3 3.5-15.6 3.5-12.2 3.5-8 3.5-7.1 3.5-6 3.5-5.7 3.5-7.3 3.5-10.3 3.5-11.7 3.5-10.5 3.5-7.8 3.5-6.1 3.5-5.1 3.5-4.5 3.5-4.3 3.5-4 3.5-3.5 3.5-3.1 3.5-2.9 3.5-2.9 3.5-3 3.5-2.9 3.5-2.5 3.5-1.8 3.5-.9 3.5 .3 3.5 1.5 3.5 2.5 3.5 2.7 3.5 1.9 3.5 1.1 3.5-.6 3.5-2.3 3.5 0 3.5 4.6 3.5 6.1 3.5 4 3.5 1 3.5 .1 3.5 1.9 3.5 3.9 3.5 4.9 3.5 5.2 3.5 .4 3.5-2.5 3.5-4.1 3.5-7.2 3.5-5.9 3.5-1.9 3.5 1.4 3.5 2 3.5 2.1 3.5 1.8 3.5-2.3 3.5-5.7 3.5-3.9 3.5 1.9 3.5 1.8 3.5-1.5 3.5-2.8 3.5 1.7 3.5 7.6 3.5 4.5 3.5-1.6 3.5 1.7 3.5 7.6 3.5 8 3.5 7.5 3.5 5.3 3.5 3 3.5-3.4 3.5-16 3.5-13.9 3.5-8.2 3.5-.9 3.5 2.1 3.5 4.6 3.5 6.8 3.5 8 3.5 8.3 3.5 4 3.5 2.6 3.5 6.1 3.5 .9 3.5-11.2 3.5-9 3.5-2.5 3.5 2.7 3.5 .7 3.5-.7 3.5-1.3 3.5-2.1 3.5-2.8 3.5-3.5 3.5 1.8 3.5 4.1 3.5 2.3 3.5 1.7 3.5 .4 3.5-3 3.5-6.9 3.5-10.1 3.5-9.9 3.5-5.6 3.5-3.9 3.5-3.5 3.5-3 3.5-2.9 3.5-2.7 3.5-2.2 3.5-4.6 3.5-7.1 3.5-8.3 3.5-8.2 3.5-8.6 3.5-8.7 3.5-7.3 3.5-5.1 3.5-3.7 3.5-3.6 3.5-4.1 3.5-3.9 3.5-4.3 3.5-5 3.5-4.9 3.5-2.4 3.5-.7 3.5-.7 3.5 3.9 3.5 6.9 3.5 11.7 3.5 11.5 3.5 7.9 3.5 6.7 3.5 5.4 3.5 6.5 3.5 15.9 3.5 16.7 3.5 14.8 3.5 10.3 3.5 5.2 3.5-3 3.5-9 3.5-10.3 3.5-11.1 3.5-10 3.5-8.9 3.5-8.7 3.5 5.5 3.5 31.3 3.5 51.2 3.5 56.1 3.5 23.3 3.5-40.4 3.5-48.4 3.5-37.7 3.5-22.9 3.5 2.7 3.5 11.2 3.5 4 3.5-1.6 3.5-.8 3.5 6.8 3.5 6.5 3.5 3.6 3.5-6.9 3.5-26.1 3.5-25 3.5-16.3 3.5-7.6 3.5-4 3.5-3.2 3.5-3.7 3.5-2.2 3.5 .6 3.5-3.5 3.5-11.3 3.5-14.3 3.5-15.1 3.5-15.6 3.5-15.5 3.5-15.7 3.5-15.3 3.5-14.6 3.5-14.3 3.5-10.3 3.5-4.3 3.5-1.7 3.5-2.4 3.5-4.5 3.5-5.2 3.5-4.9 3.5-4.4 3.5 3 3.5 15.4 3.5 13.6 3.5 8.4 3.5-4.7 3.5-12.2 3.5-11 3.5-11 3.5-8.3 3.5-3 3.5-.7 3.5 3.9 3.5 8.5 3.5 11.9 3.5 13.1 3.5 14.7 3.5 12.9 3.5 8.9 3.5 5.6 3.5 2.8 3.5 1.5 3.5 1.2 3.5 .9 3.5 .3 3.5-.4 3.5-1.4 3.5-1.7 3.5-1.6 3.5-1 3.5-.7 3.5-.5 3.5-.3 3.5-.5 3.5 .7 3.5 .8 3.5 .9 3.5 1.1 3.5 1.4 3.5 2 3.5 2.3 3.5 2.6 3.5 2.5 3.5 2.5 3.5 2.6 3.5 2.6 3.5 2.2 3.5 1.4 3.5 .6 3.5 .1 3.5 0 3.5 .2 3.5 1.5 3.5 4.3 3.5 10.1 3.5 14.8 3.5 17 3.5 19.8 3.5 19.9 3.5 17 3.5 15.7 3.5 14.7 3.5 14.2 3.5 15.6 3.5 16.8 3.5 14.6 3.5 8.6 3.5 2.5 3.5-3.7 3.5-7.1 3.5-8.4 3.5-7.8 3.5-5.3 3.5-3.5 3.5-2.2 3.5-.9 3.5 1.1 3.5 2.3 3.5 1.9 3.5 1.3 3.5 1.2 3.5 .9 3.5 .3 3.5-.7 3.5-2.2 3.5-3.1 3.5-4.1 3.5-6.4 3.5-6.2 3.5-5.2 3.5-1.8 3.5 .8 3.5 1.4 3.5-.4 3.5-2.3 3.5-1.6 3.5 1.1 3.5 3.4 3.5 3.6 3.5 2.1 3.5 .1 3.5-1.1 3.5-1.5 3.5-1.8 3.5-2.4 3.5-2.4 3.5-1.8 3.5-.5 3.5 .7 3.5 1.8 3.5 2.2 3.5 2.3 3.5 3.1 3.5 3.2 3.5 2.3 3.5 .4 3.5-1.5 3.5-2.2 3.5-2 3.5-.9 3.5 .7 3.5 1.7 3.5 1.9 3.5 1.4 3.5 .3 3.5-.5 3.5-.8 3.5-.9 3.5-.6 3.5 .2 3.5 1.4 3.5 2.4 3.5 2.9 3.5 2.6 3.5 1.4 3.5 .4 3.5 .1 3.5 0 3.5 .9 3.5 2.6 3.5 4 3.5 3.1 3.5 .2 3.5-2.9 3.5-2.7 3.5-.2 3.5 2.1 3.5 3.1 3.5 3.3 3.5 3 3.5 2.3 3.5 2.2 3.5 1.8 3.5 1.6 3.5 1.3 3.5 1 3.5 .8 3.5 .7 3.5 .6 3.5 .4 3.5 .3 3.5 .2 3.5 .1 3.5 0 3.5-.3 3.5-.6 3.5-2 3.5-4 3.5-3.3 3.5-2.9 3.5-1.1 3.5 1.6 3.5 3.2 3.5 5.1 3.5 6.2 3.5 6.6 3.5 6.1 3.5 5.1 3.5 3.6 3.5 .3 3.5-2.7"/><path id="o19" d="M88.9 669.7l3.5-.3 3.5-.3 3.5-.3 3.5-.3 3.5-.2 3.5-.2 3.5-.2 3.5-.2 3.5-.2 3.5-.3 3.5-.3 3.5-.4 3.5-.4 3.5-.5 3.5-.6 3.5-.5 3.5-.5 3.5-.5 3.5-.6 3.5-.5 3.5-.6 3.5-.6 3.5-.7 3.5-.7 3.5-.7 3.5-.9 3.5-.9 3.5-1.1 3.5-1.1 3.5-1.3 3.5-1.2 3.5-1.4 3.5-1.4 3.5-1.4 3.5-1.6 3.5-1.5 3.5-1.5 3.5-1.5 3.5-1.4 3.5-1.4 3.5-1.5 3.5-1.6 3.5-1.8 3.5-2.2 3.5-2.3 3.5-1.8 3.5-.4 3.5 .7 3.5 1.5 3.5 2.8 3.5 1 3.5-2.1 3.5-2.4 3.5-1.5 3.5-1.4 3.5-.9 3.5-.2 3.5-1.2 3.5-3 3.5-4.4 3.5-4.3 3.5-4.1 3.5-4.2 3.5-4 3.5-3.9 3.5-3.8 3.5-3.7 3.5-3.7 3.5-3.5 3.5-3.5 3.5-3.3 3.5-3.4 3.5-3.3 3.5-2.7 3.5-2.4 3.5-2.3 3.5-2 3.5-1.6 3.5-.9 3.5-.1 3.5 0 3.5-1.4 3.5-2.3 3.5-2.4 3.5-2.2 3.5-1.9 3.5-1.7 3.5-1.7 3.5-1.6 3.5-1.6 3.5-1.5 3.5-1.5 3.5-1.5 3.5-1.4 3.5-1.1 3.5 .4 3.5 1.2 3.5 1.8 3.5 3.5 3.5 4.1 3.5-1.1 3.5-4.2 3.5-5.1 3.5-4.5 3.5 1 3.5 5.3 3.5 3.5 3.5-5.8 3.5-9 3.5-8.2 3.5-7.2 3.5-4.8 3.5-2.4 3.5 1.1 3.5 3.7 3.5 5.8 3.5 5.3 3.5-4.3 3.5-15.6 3.5-12.2 3.5-8 3.5-7.1 3.5-6 3.5-5.7 3.5-7.3 3.5-10.3 3.5-11.7 3.5-10.5 3.5-7.8 3.5-6.1 3.5-5.1 3.5-4.5 3.5-4.3 3.5-4 3.5-3.5 3.5-3.1 3.5-2.9 3.5-2.9 3.5-3 3.5-2.9 3.5-2.5 3.5-1.8 3.5-.9 3.5 .3 3.5 1.5 3.5 3.4 3.5 3.6 3.5 2.8 3.5 1.9 3.5 .3 3.5-1.4 3.5 .9 3.5 5.4 3.5 6.8 3.5 4.7 3.5 1.8 3.5 .9 3.5 2.7 3.5 4.6 3.5 5.5 3.5 5.7 3.5 1.2 3.5-1.6 3.5-3.1 3.5-6 3.5-4.8 3.5-.9 3.5 2.2 3.5 2.7 3.5 2.7 3.5 2.5 3.5-1.3 3.5-4.4 3.5-2.8 3.5 2.5 3.5 2.5 3.5-.6 3.5-1.7 3.5 2.4 3.5 7.6 3.5 4.9 3.5-.6 3.5 2.2 3.5 7.6 3.5 7.9 3.5 7.3 3.5 5.4 3.5 3.3 3.5-2.3 3.5-13.4 3.5-12 3.5-7.1 3.5-.6 3.5 1.9 3.5 4 3.5 6.1 3.5 7.1 3.5 7.3 3.5 3.5 3.5 2.4 3.5 5.4 3.5 .8 3.5-9.6 3.5-7.7 3.5-2.1 3.5 2.4 3.5 .8 3.5-.5 3.5-1.1 3.5-1.7 3.5-2.3 3.5-3 3.5 1.7 3.5 3.6 3.5 2.1 3.5 1.5 3.5 .4 3.5-2.5 3.5-5.8 3.5-8.6 3.5-8.5 3.5-4.7 3.5-3.2 3.5-3 3.5-2.5 3.5-2.5 3.5-2.1 3.5-1.8 3.5-3.9 3.5-6.1 3.5-7 3.5-7 3.5-7.3 3.5-7.3 3.5-6.3 3.5-4.2 3.5-3.1 3.5-3.1 3.5-3.4 3.5-3.3 3.5-3.6 3.5-4.3 3.5-4.1 3.5-2 3.5-.6 3.5-.5 3.5 3.3 3.5 5.9 3.5 10 3.5 9.9 3.5 6.7 3.5 5.7 3.5 4.7 3.5 5.5 3.5 13.6 3.5 14.2 3.5 12.7 3.5 8.8 3.5 4.4 3.5-2.7 3.5-7.8 3.5-8.9 3.5-9.6 3.5-8.7 3.5-7.7 3.5-7.6 3.5 4.6 3.5 26.8 3.5 44 3.5 48.2 3.5 20 3.5-34.9 3.5-41.9 3.5-32.6 3.5-19.9 3.5 2.1 3.5 9.6 3.5 3.2 3.5-1.5 3.5-.8 3.5 5.7 3.5 5.5 3.5 2.9 3.5-6.2 3.5-22.8 3.5-21.9 3.5-14.4 3.5-6.8 3.5-3.7 3.5-3.1 3.5-3.4 3.5-2.1 3.5 .2 3.5-3.2 3.5-10.1 3.5-12.7 3.5-13.5 3.5-13.9 3.5-13.8 3.5-14 3.5-13.7 3.5-13 3.5-12.8 3.5-9.2 3.5-4 3.5-1.7 3.5-2.3 3.5-4.1 3.5-4.7 3.5-4.5 3.5-4 3.5 2.6 3.5 13.5 3.5 12 3.5 7.5 3.5-4.2 3.5-10.6 3.5-9.6 3.5-9.5 3.5-7.1 3.5-2.5 3.5-.4 3.5 3.7 3.5 7.7 3.5 10.7 3.5 11.8 3.5 13.2 3.5 11.7 3.5 8.1 3.5 5.2 3.5 2.8 3.5 1.7 3.5 1.5 3.5 1.2 3.5 .7 3.5 .1 3.5-.7 3.5-1 3.5-.9 3.5-.4 3.5-.1 3.5 .2 3.5 .2 3.5 .2 3.5 1.2 3.5 1.3 3.5 1.3 3.5 1.6 3.5 1.8 3.5 2.3 3.5 2.7 3.5 2.8 3.5 2.8 3.5 2.7 3.5 2.9 3.5 2.8 3.5 2.5 3.5 1.8 3.5 1.1 3.5 .8 3.5 .5 3.5 .9 3.5 1.8 3.5 4.2 3.5 9 3.5 13 3.5 14.7 3.5 17 3.5 16.9 3.5 14.6 3.5 13.4 3.5 12.6 3.5 12.1 3.5 13.3 3.5 14.1 3.5 12.3 3.5 7.4 3.5 2.3 3.5-2.7 3.5-5.5 3.5-6.6 3.5-6 3.5-4 3.5-2.6 3.5-1.5 3.5-.4 3.5 1.2 3.5 2.2 3.5 1.8 3.5 1.3 3.5 1.2 3.5 1 3.5 .5 3.5-.4 3.5-1.5 3.5-2.2 3.5-3.1 3.5-4.9 3.5-4.7 3.5-3.9 3.5-1.2 3.5 .9 3.5 1.4 3.5 0 3.5-1.6 3.5-1 3.5 1.2 3.5 3 3.5 3.1 3.5 1.9 3.5 .3 3.5-.6 3.5-.9 3.5-1.2 3.5-1.6 3.5-1.6 3.5-1.2 3.5-.2 3.5 .9 3.5 1.6 3.5 1.9 3.5 2.1 3.5 2.7 3.5 2.7 3.5 2 3.5 .5 3.5-.9 3.5-1.5 3.5-1.3 3.5-.5 3.5 .8 3.5 1.5 3.5 1.7 3.5 1.2 3.5 .5 3.5-.2 3.5-.4 3.5-.4 3.5-.3 3.5 .4 3.5 1.2 3.5 2.1 3.5 2.5 3.5 2.1 3.5 1.3 3.5 .6 3.5 .2 3.5 .2 3.5 .9 3.5 2.2 3.5 3.2 3.5 2.6 3.5 .3 3.5-2 3.5-1.9 3.5 0 3.5 1.8 3.5 2.6 3.5 2.7 3.5 2.4 3.5 2 3.5 1.8 3.5 1.6 3.5 1.3 3.5 1.2 3.5 .9 3.5 .8 3.5 .7 3.5 .6 3.5 .5 3.5 .4 3.5 .3 3.5 .3 3.5 .1 3.5 0 3.5-.3 3.5-1.3 3.5-2.8 3.5-2.2 3.5-2 3.5-.7 3.5 1.4 3.5 2.5 3.5 4 3.5 4.8 3.5 5 3.5 4.7 3.5 3.9 3.5 2.8 3.5 .4 3.5-1.8"/><path id="o20" d="M88.9 670.1l3.5-.3 3.5-.3 3.5-.2 3.5-.2 3.5-.2 3.5-.1 3.5-.2 3.5-.2 3.5-.2 3.5-.2 3.5-.2 3.5-.3 3.5-.4 3.5-.4 3.5-.5 3.5-.4 3.5-.5 3.5-.4 3.5-.4 3.5-.4 3.5-.5 3.5-.5 3.5-.6 3.5-.6 3.5-.6 3.5-.7 3.5-.8 3.5-.8 3.5-1 3.5-1 3.5-1 3.5-1.1 3.5-1.1 3.5-1.3 3.5-1.2 3.5-1.3 3.5-1.2 3.5-1.2 3.5-1.2 3.5-1.2 3.5-1.2 3.5-1.3 3.5-1.4 3.5-1.9 3.5-1.9 3.5-1.4 3.5-.4 3.5 .6 3.5 1.2 3.5 2.4 3.5 .8 3.5-1.8 3.5-1.9 3.5-1.3 3.5-1.1 3.5-.7 3.5-.2 3.5-1 3.5-2.7 3.5-3.8 3.5-3.8 3.5-3.8 3.5-3.8 3.5-3.7 3.5-3.6 3.5-3.7 3.5-3.5 3.5-3.6 3.5-3.5 3.5-3.5 3.5-3.4 3.5-3.6 3.5-3.4 3.5-3 3.5-2.9 3.5-2.6 3.5-2.5 3.5-2.2 3.5-1.5 3.5-.9 3.5-.8 3.5-1.7 3.5-2.4 3.5-2.5 3.5-2.3 3.5-2.1 3.5-1.9 3.5-1.9 3.5-1.9 3.5-1.8 3.5-1.8 3.5-1.7 3.5-1.8 3.5-1.6 3.5-1.5 3.5 .1 3.5 .9 3.5 1.3 3.5 3.2 3.5 3.7 3.5-1.4 3.5-4.5 3.5-5.4 3.5-4.8 3.5 .6 3.5 5 3.5 3.5 3.5-5.8 3.5-9 3.5-8.2 3.5-7.2 3.5-4.8 3.5-2.4 3.5 1.1 3.5 3.7 3.5 5.8 3.5 5.3 3.5-4.3 3.5-15.6 3.5-12.2 3.5-8 3.5-7.1 3.5-6 3.5-5.7 3.5-7.3 3.5-10.3 3.5-11.7 3.5-10.5 3.5-7.8 3.5-6.1 3.5-5.1 3.5-4.5 3.5-4.3 3.5-4 3.5-3.5 3.5-3.1 3.5-2.9 3.5-2.9 3.5-3 3.5-2.9 3.5-2.5 3.5-1.8 3.5-.9 3.5 .3 3.5 1.5 3.5 2.4 3.5 2.5 3.5 1.8 3.5 .9 3.5-.8 3.5-2.5 3.5-.1 3.5 4.5 3.5 6 3.5 3.8 3.5 .8 3.5 0 3.5 1.8 3.5 3.8 3.5 4.8 3.5 5.1 3.5 .2 3.5-2.6 3.5-4.3 3.5-7.4 3.5-6.2 3.5-2 3.5 1.3 3.5 1.9 3.5 2 3.5 1.6 3.5-2.4 3.5-5.9 3.5-4.1 3.5 1.7 3.5 1.7 3.5-1.7 3.5-3 3.5 1.6 3.5 7.6 3.5 4.4 3.5-1.7 3.5 1.5 3.5 7.7 3.5 8 3.5 7.5 3.5 5.3 3.5 2.9 3.5-3.6 3.5-16.4 3.5-14.2 3.5-8.4 3.5-.9 3.5 2 3.5 4.7 3.5 6.9 3.5 8.2 3.5 8.5 3.5 4.1 3.5 2.6 3.5 6.2 3.5 .9 3.5-11.4 3.5-9.3 3.5-2.6 3.5 2.8 3.5 .7 3.5-.7 3.5-1.4 3.5-2.1 3.5-3 3.5-3.6 3.5 1.8 3.5 4.2 3.5 2.4 3.5 1.6 3.5 .4 3.5-3.1 3.5-7.1 3.5-10.3 3.5-10.2 3.5-5.8 3.5-3.9 3.5-3.7 3.5-3.2 3.5-3 3.5-2.7 3.5-2.3 3.5-4.8 3.5-7.4 3.5-8.5 3.5-8.5 3.5-8.8 3.5-9 3.5-7.6 3.5-5.3 3.5-3.8 3.5-3.9 3.5-4.2 3.5-4.2 3.5-4.4 3.5-5.2 3.5-5.2 3.5-2.5 3.5-.8 3.5-.8 3.5 3.9 3.5 7 3.5 11.9 3.5 11.8 3.5 7.9 3.5 6.8 3.5 5.6 3.5 6.6 3.5 16.2 3.5 17.1 3.5 15.2 3.5 10.6 3.5 5.2 3.5-3.3 3.5-9.4 3.5-10.8 3.5-11.5 3.5-10.5 3.5-9.4 3.5-9.2 3.5 5.6 3.5 32.3 3.5 53 3.5 58 3.5 24.1 3.5-42.1 3.5-50.4 3.5-39.4 3.5-23.9 3.5 2.6 3.5 11.5 3.5 3.9 3.5-1.8 3.5-1.1 3.5 7 3.5 6.6 3.5 3.5 3.5-7.4 3.5-27.5 3.5-26.4 3.5-17.3 3.5-8.2 3.5-4.4 3.5-3.6 3.5-4.2 3.5-2.5 3.5 .3 3.5-3.8 3.5-12.2 3.5-15.3 3.5-16.2 3.5-16.7 3.5-16.7 3.5-16.7 3.5-16.6 3.5-15.7 3.5-15.3 3.5-11.1 3.5-4.9 3.5-2.1 3.5-2.8 3.5-5 3.5-5.8 3.5-5.4 3.5-4.9 3.5 3 3.5 16.1 3.5 14.3 3.5 8.8 3.5-5.3 3.5-13 3.5-11.9 3.5-11.8 3.5-8.9 3.5-3.3 3.5-.8 3.5 4.1 3.5 8.9 3.5 12.7 3.5 13.9 3.5 15.7 3.5 13.7 3.5 9.5 3.5 6 3.5 3 3.5 1.7 3.5 1.3 3.5 1.1 3.5 .4 3.5-.3 3.5-1.3 3.5-1.7 3.5-1.6 3.5-1 3.5-.5 3.5-.3 3.5-.2 3.5-.3 3.5 .9 3.5 1 3.5 1.2 3.5 1.4 3.5 1.7 3.5 2.4 3.5 2.7 3.5 2.9 3.5 2.9 3.5 2.9 3.5 3 3.5 3 3.5 2.5 3.5 1.8 3.5 .8 3.5 .4 3.5 .2 3.5 .5 3.5 1.8 3.5 4.7 3.5 10.9 3.5 15.8 3.5 18 3.5 21 3.5 21 3.5 18 3.5 16.6 3.5 15.6 3.5 15 3.5 16.5 3.5 17.7 3.5 15.3 3.5 9.2 3.5 2.6 3.5-3.8 3.5-7.3 3.5-8.7 3.5-8 3.5-5.4 3.5-3.6 3.5-2.2 3.5-.8 3.5 1.2 3.5 2.5 3.5 2.1 3.5 1.4 3.5 1.3 3.5 1 3.5 .4 3.5-.8 3.5-2.1 3.5-3.3 3.5-4.2 3.5-6.6 3.5-6.3 3.5-5.4 3.5-1.9 3.5 1 3.5 1.4 3.5-.4 3.5-2.4 3.5-1.6 3.5 1.1 3.5 3.6 3.5 3.7 3.5 2.1 3.5 .1 3.5-1 3.5-1.6 3.5-1.9 3.5-2.5 3.5-2.5 3.5-1.9 3.5-.6 3.5 .8 3.5 1.8 3.5 2.3 3.5 2.3 3.5 3.3 3.5 3.3 3.5 2.3 3.5 .4 3.5-1.5 3.5-2.3 3.5-2.1 3.5-1 3.5 .7 3.5 1.8 3.5 1.9 3.5 1.4 3.5 .3 3.5-.6 3.5-.9 3.5-.9 3.5-.6 3.5 .1 3.5 1.4 3.5 2.5 3.5 3 3.5 2.7 3.5 1.4 3.5 .5 3.5 0 3.5 0 3.5 .8 3.5 2.8 3.5 4 3.5 3.3 3.5 .1 3.5-3 3.5-2.9 3.5-.2 3.5 2.1 3.5 3.2 3.5 3.5 3.5 3 3.5 2.5 3.5 2.2 3.5 1.9 3.5 1.6 3.5 1.3 3.5 1 3.5 .9 3.5 .7 3.5 .5 3.5 .4 3.5 .3 3.5 .2 3.5 .1 3.5-.1 3.5-.3 3.5-.7 3.5-2.1 3.5-4.2 3.5-3.5 3.5-3 3.5-1.2 3.5 1.5 3.5 3.4 3.5 5.3 3.5 6.5 3.5 6.8 3.5 6.4 3.5 5.3 3.5 3.7 3.5 .3 3.5-2.9"/><path id="o21" d="M88.9 670.3l3.5-.3 3.5-.2 3.5-.2 3.5-.2 3.5-.2 3.5-.1 3.5-.2 3.5-.1 3.5-.2 3.5-.2 3.5-.2 3.5-.3 3.5-.3 3.5-.4 3.5-.4 3.5-.4 3.5-.3 3.5-.4 3.5-.4 3.5-.4 3.5-.4 3.5-.5 3.5-.5 3.5-.5 3.5-.5 3.5-.6 3.5-.7 3.5-.8 3.5-.8 3.5-.9 3.5-1 3.5-.9 3.5-1 3.5-1.1 3.5-1.1 3.5-1.1 3.5-1.2 3.5-1 3.5-1.1 3.5-1 3.5-1.1 3.5-1.1 3.5-1.3 3.5-1.7 3.5-1.7 3.5-1.2 3.5-.4 3.5 .5 3.5 1.2 3.5 2 3.5 .8 3.5-1.6 3.5-1.7 3.5-1.2 3.5-1 3.5-.6 3.5-.1 3.5-1 3.5-2.5 3.5-3.6 3.5-3.5 3.5-3.6 3.5-3.5 3.5-3.6 3.5-3.5 3.5-3.5 3.5-3.6 3.5-3.5 3.5-3.5 3.5-3.5 3.5-3.5 3.5-3.6 3.5-3.5 3.5-3.2 3.5-3 3.5-2.9 3.5-2.7 3.5-2.5 3.5-1.9 3.5-1.2 3.5-1.1 3.5-1.9 3.5-2.5 3.5-2.6 3.5-2.4 3.5-2.2 3.5-2 3.5-2 3.5-2 3.5-1.9 3.5-1.9 3.5-1.9 3.5-1.8 3.5-1.9 3.5-1.5 3.5-.2 3.5 .7 3.5 1.2 3.5 3 3.5 3.4 3.5-1.5 3.5-4.6 3.5-5.6 3.5-4.9 3.5 .4 3.5 4.8 3.5 3.5 3.5-5.8 3.5-9 3.5-8.2 3.5-7.2 3.5-4.8 3.5-2.4 3.5 1.1 3.5 3.7 3.5 5.8 3.5 5.3 3.5-4.3 3.5-15.6 3.5-12.2 3.5-8 3.5-7.1 3.5-6 3.5-5.7 3.5-7.3 3.5-10.3 3.5-11.7 3.5-10.5 3.5-7.8 3.5-6.1 3.5-5.1 3.5-4.5 3.5-4.3 3.5-4 3.5-3.5 3.5-3.1 3.5-2.9 3.5-2.9 3.5-3 3.5-2.9 3.5-2.5 3.5-1.8 3.5-.9 3.5 .3 3.5 1.5 3.5 3 3.5 3.2 3.5 2.4 3.5 1.5 3.5-.1 3.5-1.8 3.5 .5 3.5 5.1 3.5 6.5 3.5 4.3 3.5 1.5 3.5 .5 3.5 2.4 3.5 4.2 3.5 5.3 3.5 5.5 3.5 .8 3.5-2 3.5-3.6 3.5-6.5 3.5-5.3 3.5-1.3 3.5 1.8 3.5 2.4 3.5 2.4 3.5 2.2 3.5-1.7 3.5-5.1 3.5-3.2 3.5 2.2 3.5 2.2 3.5-1 3.5-2.2 3.5 2.1 3.5 7.6 3.5 4.7 3.5-1.1 3.5 2 3.5 7.6 3.5 7.9 3.5 7.4 3.5 5.4 3.5 3.1 3.5-2.7 3.5-14.6 3.5-12.8 3.5-7.6 3.5-.8 3.5 2 3.5 4.3 3.5 6.4 3.5 7.5 3.5 7.8 3.5 3.7 3.5 2.5 3.5 5.6 3.5 .9 3.5-10.3 3.5-8.3 3.5-2.3 3.5 2.6 3.5 .7 3.5-.6 3.5-1.1 3.5-1.9 3.5-2.6 3.5-3.2 3.5 1.7 3.5 3.8 3.5 2.3 3.5 1.5 3.5 .4 3.5-2.7 3.5-6.3 3.5-9.3 3.5-9.1 3.5-5.1 3.5-3.5 3.5-3.2 3.5-2.8 3.5-2.7 3.5-2.3 3.5-2 3.5-4.2 3.5-6.6 3.5-7.5 3.5-7.7 3.5-7.8 3.5-8 3.5-6.7 3.5-4.6 3.5-3.4 3.5-3.4 3.5-3.7 3.5-3.6 3.5-3.9 3.5-4.6 3.5-4.5 3.5-2.2 3.5-.6 3.5-.7 3.5 3.6 3.5 6.3 3.5 10.7 3.5 10.7 3.5 7.2 3.5 6.1 3.5 5 3.5 6 3.5 14.6 3.5 15.3 3.5 13.7 3.5 9.4 3.5 4.8 3.5-2.9 3.5-8.4 3.5-9.6 3.5-10.3 3.5-9.3 3.5-8.3 3.5-8.1 3.5 5 3.5 28.8 3.5 47.4 3.5 51.8 3.5 21.5 3.5-37.5 3.5-45 3.5-35 3.5-21.4 3.5 2.4 3.5 10.3 3.5 3.5 3.5-1.6 3.5-.8 3.5 6.2 3.5 5.9 3.5 3.2 3.5-6.6 3.5-24.5 3.5-23.4 3.5-15.4 3.5-7.2 3.5-3.9 3.5-3.2 3.5-3.7 3.5-2.1 3.5 .3 3.5-3.4 3.5-10.8 3.5-13.5 3.5-14.4 3.5-14.8 3.5-14.8 3.5-14.8 3.5-14.6 3.5-13.9 3.5-13.6 3.5-9.8 3.5-4.3 3.5-1.7 3.5-2.5 3.5-4.4 3.5-5 3.5-4.7 3.5-4.3 3.5 2.8 3.5 14.4 3.5 12.8 3.5 7.9 3.5-4.5 3.5-11.3 3.5-10.4 3.5-10.3 3.5-7.7 3.5-2.8 3.5-.5 3.5 3.8 3.5 8.1 3.5 11.3 3.5 12.5 3.5 14.1 3.5 12.3 3.5 8.5 3.5 5.5 3.5 2.9 3.5 1.6 3.5 1.4 3.5 1.1 3.5 .6 3.5-.2 3.5-.9 3.5-1.3 3.5-1.2 3.5-.7 3.5-.2 3.5-.1 3.5 0 3.5 0 3.5 1 3.5 1.1 3.5 1.2 3.5 1.4 3.5 1.8 3.5 2.2 3.5 2.6 3.5 2.8 3.5 2.7 3.5 2.7 3.5 2.9 3.5 2.8 3.5 2.4 3.5 1.7 3.5 1 3.5 .5 3.5 .3 3.5 .7 3.5 1.7 3.5 4.3 3.5 9.6 3.5 14 3.5 15.8 3.5 18.4 3.5 18.4 3.5 15.8 3.5 14.5 3.5 13.6 3.5 13.1 3.5 14.4 3.5 15.5 3.5 13.3 3.5 8.1 3.5 2.4 3.5-3.2 3.5-6.2 3.5-7.4 3.5-6.8 3.5-4.6 3.5-2.9 3.5-1.8 3.5-.6 3.5 1.2 3.5 2.2 3.5 1.9 3.5 1.3 3.5 1.2 3.5 1 3.5 .5 3.5-.5 3.5-1.8 3.5-2.7 3.5-3.5 3.5-5.5 3.5-5.4 3.5-4.5 3.5-1.4 3.5 .9 3.5 1.3 3.5-.1 3.5-1.9 3.5-1.3 3.5 1.2 3.5 3.2 3.5 3.4 3.5 1.9 3.5 .2 3.5-.7 3.5-1.2 3.5-1.5 3.5-2 3.5-1.9 3.5-1.5 3.5-.3 3.5 .8 3.5 1.7 3.5 2.1 3.5 2.1 3.5 2.9 3.5 3 3.5 2.1 3.5 .4 3.5-1.1 3.5-1.8 3.5-1.6 3.5-.7 3.5 .7 3.5 1.7 3.5 1.7 3.5 1.3 3.5 .4 3.5-.3 3.5-.6 3.5-.6 3.5-.4 3.5 .3 3.5 1.3 3.5 2.2 3.5 2.7 3.5 2.3 3.5 1.4 3.5 .5 3.5 .1 3.5 .2 3.5 .8 3.5 2.4 3.5 3.5 3.5 2.9 3.5 .2 3.5-2.4 3.5-2.2 3.5-.1 3.5 1.9 3.5 2.8 3.5 3 3.5 2.7 3.5 2.1 3.5 2 3.5 1.7 3.5 1.5 3.5 1.2 3.5 .9 3.5 .9 3.5 .6 3.5 .6 3.5 .5 3.5 .3 3.5 .3 3.5 .2 3.5 .1 3.5-.1 3.5-.5 3.5-1.6 3.5-3.4 3.5-2.7 3.5-2.4 3.5-.8 3.5 1.4 3.5 2.8 3.5 4.5 3.5 5.5 3.5 5.7 3.5 5.3 3.5 4.5 3.5 3.1 3.5 .4 3.5-2.2"/><path id="o22" d="M88.9 669.7l3.5-.4 3.5-.3 3.5-.3 3.5-.3 3.5-.2 3.5-.2 3.5-.2 3.5-.2 3.5-.3 3.5-.2 3.5-.3 3.5-.4 3.5-.5 3.5-.5 3.5-.6 3.5-.5 3.5-.5 3.5-.6 3.5-.5 3.5-.5 3.5-.6 3.5-.7 3.5-.7 3.5-.7 3.5-.8 3.5-.8 3.5-1 3.5-1.1 3.5-1.2 3.5-1.2 3.5-1.3 3.5-1.4 3.5-1.4 3.5-1.6 3.5-1.5 3.5-1.6 3.5-1.5 3.5-1.6 3.5-1.4 3.5-1.5 3.5-1.5 3.5-1.6 3.5-1.9 3.5-2.3 3.5-2.4 3.5-1.7 3.5-.5 3.5 .7 3.5 1.6 3.5 2.9 3.5 1 3.5-2.2 3.5-2.4 3.5-1.6 3.5-1.4 3.5-.9 3.5-.2 3.5-1.2 3.5-3.1 3.5-4.5 3.5-4.3 3.5-4.2 3.5-4.2 3.5-4.1 3.5-3.9 3.5-3.9 3.5-3.7 3.5-3.7 3.5-3.5 3.5-3.5 3.5-3.3 3.5-3.4 3.5-3.2 3.5-2.7 3.5-2.4 3.5-2.2 3.5-1.9 3.5-1.6 3.5-.7 3.5 0 3.5 0 3.5-1.3 3.5-2.3 3.5-2.3 3.5-2.2 3.5-1.8 3.5-1.7 3.5-1.7 3.5-1.6 3.5-1.6 3.5-1.5 3.5-1.4 3.5-1.4 3.5-1.4 3.5-1 3.5 .4 3.5 1.3 3.5 1.8 3.5 3.6 3.5 4.1 3.5-1.1 3.5-4.1 3.5-5.1 3.5-4.4 3.5 1 3.5 5.4 3.5 3.5 3.5-5.8 3.5-9 3.5-8.2 3.5-7.2 3.5-4.8 3.5-2.4 3.5 1.1 3.5 3.7 3.5 5.8 3.5 5.3 3.5-4.3 3.5-15.6 3.5-12.2 3.5-8 3.5-7.1 3.5-6 3.5-5.7 3.5-7.3 3.5-10.3 3.5-11.7 3.5-10.5 3.5-7.8 3.5-6.1 3.5-5.1 3.5-4.5 3.5-4.3 3.5-4 3.5-3.5 3.5-3.1 3.5-2.9 3.5-2.9 3.5-3 3.5-2.9 3.5-2.5 3.5-1.8 3.5-.9 3.5 .3 3.5 1.5 3.5 4 3.5 4.2 3.5 3.4 3.5 2.6 3.5 .9 3.5-.7 3.5 1.5 3.5 6 3.5 7.3 3.5 5.2 3.5 2.3 3.5 1.6 3.5 3.2 3.5 5 3.5 5.9 3.5 6.2 3.5 1.6 3.5-.9 3.5-2.4 3.5-5.1 3.5-3.9 3.5-.3 3.5 2.7 3.5 3.1 3.5 3.3 3.5 2.9 3.5-.6 3.5-3.5 3.5-1.9 3.5 2.9 3.5 3 3.5 .1 3.5-.9 3.5 2.8 3.5 7.7 3.5 5.1 3.5 0 3.5 2.7 3.5 7.5 3.5 7.8 3.5 7.2 3.5 5.5 3.5 3.5 3.5-1.5 3.5-11.5 3.5-10.7 3.5-6.3 3.5-.5 3.5 1.8 3.5 3.7 3.5 5.5 3.5 6.4 3.5 6.7 3.5 3.2 3.5 2.2 3.5 4.9 3.5 .8 3.5-8.5 3.5-6.8 3.5-1.8 3.5 2.3 3.5 .7 3.5-.4 3.5-.8 3.5-1.4 3.5-2.1 3.5-2.5 3.5 1.6 3.5 3.3 3.5 1.9 3.5 1.5 3.5 .4 3.5-2.1 3.5-5.2 3.5-7.5 3.5-7.4 3.5-4.1 3.5-2.7 3.5-2.5 3.5-2.2 3.5-2 3.5-1.8 3.5-1.5 3.5-3.3 3.5-5.3 3.5-6.1 3.5-6.1 3.5-6.2 3.5-6.4 3.5-5.4 3.5-3.6 3.5-2.6 3.5-2.6 3.5-2.8 3.5-2.9 3.5-2.9 3.5-3.7 3.5-3.5 3.5-1.6 3.5-.3 3.5-.4 3.5 3.1 3.5 5.3 3.5 8.8 3.5 8.8 3.5 6 3.5 5.1 3.5 4.2 3.5 4.9 3.5 12 3.5 12.5 3.5 11.2 3.5 7.8 3.5 3.9 3.5-2.2 3.5-6.7 3.5-7.7 3.5-8.2 3.5-7.4 3.5-6.6 3.5-6.5 3.5 4.1 3.5 23.4 3.5 38.3 3.5 41.9 3.5 17.4 3.5-30.2 3.5-36.1 3.5-28.2 3.5-17 3.5 2 3.5 8.3 3.5 3 3.5-1.2 3.5-.6 3.5 5.1 3.5 4.8 3.5 2.6 3.5-5.1 3.5-19.6 3.5-18.7 3.5-12.2 3.5-5.7 3.5-3 3.5-2.4 3.5-2.8 3.5-1.7 3.5 .4 3.5-2.6 3.5-8.5 3.5-10.7 3.5-11.3 3.5-11.7 3.5-11.6 3.5-11.7 3.5-11.5 3.5-10.9 3.5-10.7 3.5-7.6 3.5-3.2 3.5-1.3 3.5-1.7 3.5-3.4 3.5-3.7 3.5-3.6 3.5-3.2 3.5 2.3 3.5 11.7 3.5 10.4 3.5 6.6 3.5-3.3 3.5-8.7 3.5-7.8 3.5-7.8 3.5-5.8 3.5-1.8 3.5-.1 3.5 3.3 3.5 6.7 3.5 9.2 3.5 10.2 3.5 11.3 3.5 10 3.5 7 3.5 4.5 3.5 2.6 3.5 1.6 3.5 1.4 3.5 1.1 3.5 .8 3.5 .2 3.5-.4 3.5-.7 3.5-.6 3.5-.2 3.5 .2 3.5 .2 3.5 .4 3.5 .3 3.5 1.1 3.5 1.2 3.5 1.3 3.5 1.4 3.5 1.7 3.5 2 3.5 2.3 3.5 2.5 3.5 2.4 3.5 2.4 3.5 2.5 3.5 2.5 3.5 2.2 3.5 1.6 3.5 1.1 3.5 .7 3.5 .6 3.5 .8 3.5 1.7 3.5 3.6 3.5 7.5 3.5 10.9 3.5 12.2 3.5 14.2 3.5 14.2 3.5 12.1 3.5 11.2 3.5 10.4 3.5 10.1 3.5 11.1 3.5 11.7 3.5 10.2 3.5 6.2 3.5 2 3.5-2.2 3.5-4.5 3.5-5.3 3.5-4.8 3.5-3.3 3.5-2 3.5-1.1 3.5-.3 3.5 1.1 3.5 1.9 3.5 1.6 3.5 1.1 3.5 1.1 3.5 .9 3.5 .6 3.5-.3 3.5-1.1 3.5-1.7 3.5-2.4 3.5-3.9 3.5-3.7 3.5-3.1 3.5-.9 3.5 .9 3.5 1.2 3.5 .2 3.5-1.1 3.5-.6 3.5 1.1 3.5 2.6 3.5 2.8 3.5 1.6 3.5 .5 3.5-.3 3.5-.5 3.5-.9 3.5-1.1 3.5-1.1 3.5-.7 3.5 0 3.5 .9 3.5 1.4 3.5 1.8 3.5 1.8 3.5 2.3 3.5 2.4 3.5 1.8 3.5 .6 3.5-.6 3.5-1 3.5-.8 3.5-.2 3.5 .8 3.5 1.4 3.5 1.5 3.5 1.2 3.5 .5 3.5 .1 3.5-.2 3.5-.1 3.5 0 3.5 .4 3.5 1.2 3.5 1.8 3.5 2.1 3.5 1.9 3.5 1.2 3.5 .6 3.5 .3 3.5 .4 3.5 .8 3.5 2 3.5 2.6 3.5 2.2 3.5 .4 3.5-1.3 3.5-1.3 3.5 .2 3.5 1.6 3.5 2.1 3.5 2.3 3.5 2 3.5 1.7 3.5 1.5 3.5 1.4 3.5 1.3 3.5 1 3.5 .9 3.5 .8 3.5 .7 3.5 .6 3.5 .5 3.5 .5 3.5 .4 3.5 .4 3.5 .3 3.5 .1 3.5 0 3.5-.9 3.5-1.9 3.5-1.5 3.5-1.4 3.5-.3 3.5 1.2 3.5 2.1 3.5 3.1 3.5 3.8 3.5 4 3.5 3.6 3.5 3.1 3.5 2.3 3.5 .4 3.5-1.2"/><path id="o23" d="M88.9 670.2l3.5-.2 3.5-.3 3.5-.2 3.5-.2 3.5-.1 3.5-.2 3.5-.1 3.5-.2 3.5-.2 3.5-.2 3.5-.2 3.5-.3 3.5-.3 3.5-.4 3.5-.4 3.5-.4 3.5-.4 3.5-.4 3.5-.3 3.5-.5 3.5-.4 3.5-.5 3.5-.5 3.5-.5 3.5-.6 3.5-.6 3.5-.7 3.5-.8 3.5-.8 3.5-1 3.5-.9 3.5-1 3.5-1 3.5-1.2 3.5-1.1 3.5-1.1 3.5-1.2 3.5-1.1 3.5-1 3.5-1.1 3.5-1.1 3.5-1.2 3.5-1.3 3.5-1.7 3.5-1.8 3.5-1.2 3.5-.4 3.5 .5 3.5 1.2 3.5 2.1 3.5 .8 3.5-1.6 3.5-1.8 3.5-1.2 3.5-1 3.5-.7 3.5-.1 3.5-.9 3.5-2.6 3.5-3.6 3.5-3.6 3.5-3.6 3.5-3.6 3.5-3.6 3.5-3.6 3.5-3.5 3.5-3.6 3.5-3.5 3.5-3.5 3.5-3.5 3.5-3.5 3.5-3.5 3.5-3.6 3.5-3.1 3.5-3 3.5-2.8 3.5-2.7 3.5-2.4 3.5-1.8 3.5-1.2 3.5-1.1 3.5-1.8 3.5-2.5 3.5-2.5 3.5-2.4 3.5-2.2 3.5-2 3.5-2 3.5-1.9 3.5-2 3.5-1.8 3.5-1.9 3.5-1.8 3.5-1.8 3.5-1.5 3.5-.1 3.5 .7 3.5 1.2 3.5 3.1 3.5 3.4 3.5-1.5 3.5-4.6 3.5-5.5 3.5-4.9 3.5 .4 3.5 4.9 3.5 3.5 3.5-5.8 3.5-9 3.5-8.2 3.5-7.2 3.5-4.8 3.5-2.4 3.5 1.1 3.5 3.7 3.5 5.8 3.5 5.3 3.5-4.3 3.5-15.6 3.5-12.2 3.5-8 3.5-7.1 3.5-6 3.5-5.7 3.5-7.3 3.5-10.3 3.5-11.7 3.5-10.5 3.5-7.8 3.5-6.1 3.5-5.1 3.5-4.5 3.5-4.3 3.5-4 3.5-3.5 3.5-3.1 3.5-2.9 3.5-2.9 3.5-3 3.5-2.9 3.5-2.5 3.5-1.8 3.5-.9 3.5 .3 3.5 1.5 3.5 2.8 3.5 3.1 3.5 2.2 3.5 1.4 3.5-.3 3.5-2 3.5 .4 3.5 4.9 3.5 6.3 3.5 4.3 3.5 1.2 3.5 .4 3.5 2.2 3.5 4.2 3.5 5.1 3.5 5.4 3.5 .6 3.5-2.1 3.5-3.8 3.5-6.7 3.5-5.5 3.5-1.5 3.5 1.7 3.5 2.2 3.5 2.3 3.5 2.1 3.5-2 3.5-5.2 3.5-3.5 3.5 2.1 3.5 2.1 3.5-1.2 3.5-2.4 3.5 2 3.5 7.5 3.5 4.7 3.5-1.2 3.5 1.8 3.5 7.6 3.5 8 3.5 7.4 3.5 5.3 3.5 3.1 3.5-3 3.5-15 3.5-13.2 3.5-7.8 3.5-.8 3.5 2 3.5 4.4 3.5 6.5 3.5 7.7 3.5 8 3.5 3.8 3.5 2.5 3.5 5.8 3.5 .9 3.5-10.6 3.5-8.6 3.5-2.3 3.5 2.5 3.5 .8 3.5-.7 3.5-1.2 3.5-1.9 3.5-2.7 3.5-3.3 3.5 1.7 3.5 3.9 3.5 2.3 3.5 1.6 3.5 .4 3.5-2.8 3.5-6.6 3.5-9.5 3.5-9.5 3.5-5.3 3.5-3.6 3.5-3.3 3.5-3 3.5-2.7 3.5-2.5 3.5-2.1 3.5-4.4 3.5-6.8 3.5-7.8 3.5-7.9 3.5-8.1 3.5-8.3 3.5-7 3.5-4.9 3.5-3.5 3.5-3.6 3.5-3.8 3.5-3.9 3.5-4.1 3.5-4.8 3.5-4.8 3.5-2.3 3.5-.8 3.5-.7 3.5 3.6 3.5 6.4 3.5 11 3.5 10.9 3.5 7.3 3.5 6.3 3.5 5.1 3.5 6 3.5 15 3.5 15.8 3.5 14 3.5 9.8 3.5 4.8 3.5-3.1 3.5-8.8 3.5-10.1 3.5-10.8 3.5-9.9 3.5-8.7 3.5-8.7 3.5 5.1 3.5 29.9 3.5 49.2 3.5 53.9 3.5 22.4 3.5-39.3 3.5-47.1 3.5-36.7 3.5-22.5 3.5 2.3 3.5 10.6 3.5 3.5 3.5-1.8 3.5-1.1 3.5 6.3 3.5 6 3.5 3.2 3.5-7.1 3.5-25.9 3.5-24.9 3.5-16.4 3.5-7.8 3.5-4.4 3.5-3.6 3.5-4 3.5-2.6 3.5 .1 3.5-3.8 3.5-11.6 3.5-14.6 3.5-15.5 3.5-15.9 3.5-15.9 3.5-16 3.5-15.8 3.5-15 3.5-14.7 3.5-10.7 3.5-4.8 3.5-2.1 3.5-2.8 3.5-5 3.5-5.5 3.5-5.3 3.5-4.8 3.5 2.8 3.5 15.2 3.5 13.4 3.5 8.3 3.5-4.9 3.5-12.3 3.5-11.2 3.5-11.2 3.5-8.3 3.5-3.1 3.5-.6 3.5 3.9 3.5 8.6 3.5 12.1 3.5 13.4 3.5 15 3.5 13.1 3.5 9.2 3.5 5.8 3.5 3.1 3.5 1.8 3.5 1.6 3.5 1.2 3.5 .7 3.5-.1 3.5-.9 3.5-1.3 3.5-1.1 3.5-.6 3.5-.1 3.5 0 3.5 .2 3.5 .1 3.5 1.3 3.5 1.3 3.5 1.5 3.5 1.7 3.5 2 3.5 2.6 3.5 3 3.5 3.1 3.5 3.1 3.5 3.1 3.5 3.2 3.5 3.2 3.5 2.8 3.5 2 3.5 1.2 3.5 .8 3.5 .6 3.5 .9 3.5 2 3.5 4.8 3.5 10.3 3.5 15 3.5 16.8 3.5 19.7 3.5 19.6 3.5 16.8 3.5 15.4 3.5 14.5 3.5 14 3.5 15.3 3.5 16.3 3.5 14.2 3.5 8.5 3.5 2.7 3.5-3.3 3.5-6.4 3.5-7.7 3.5-7.1 3.5-4.7 3.5-3 3.5-1.8 3.5-.6 3.5 1.3 3.5 2.5 3.5 2 3.5 1.4 3.5 1.4 3.5 1 3.5 .6 3.5-.5 3.5-1.9 3.5-2.7 3.5-3.6 3.5-5.8 3.5-5.6 3.5-4.7 3.5-1.5 3.5 1 3.5 1.5 3.5-.2 3.5-2 3.5-1.3 3.5 1.2 3.5 3.4 3.5 3.5 3.5 2 3.5 .2 3.5-.8 3.5-1.2 3.5-1.6 3.5-2.1 3.5-2 3.5-1.6 3.5-.3 3.5 .8 3.5 1.7 3.5 2.1 3.5 2.3 3.5 3 3.5 3.1 3.5 2.1 3.5 .5 3.5-1.3 3.5-1.9 3.5-1.7 3.5-.8 3.5 .8 3.5 1.7 3.5 1.8 3.5 1.3 3.5 .4 3.5-.4 3.5-.6 3.5-.7 3.5-.5 3.5 .2 3.5 1.4 3.5 2.3 3.5 2.7 3.5 2.5 3.5 1.4 3.5 .4 3.5 .1 3.5 .2 3.5 .8 3.5 2.5 3.5 3.7 3.5 3 3.5 .2 3.5-2.6 3.5-2.4 3.5-.1 3.5 2 3.5 2.8 3.5 3.2 3.5 2.7 3.5 2.2 3.5 2.1 3.5 1.7 3.5 1.5 3.5 1.3 3.5 1 3.5 .8 3.5 .7 3.5 .5 3.5 .5 3.5 .3 3.5 .3 3.5 .1 3.5 .1 3.5-.2 3.5-.5 3.5-1.8 3.5-3.5 3.5-2.9 3.5-2.6 3.5-1 3.5 1.5 3.5 3 3.5 4.7 3.5 5.7 3.5 6 3.5 5.6 3.5 4.7 3.5 3.3 3.5 .3 3.5-2.4"/><path id="o24" d="M88.9 670.2l3.5-.2 3.5-.2 3.5-.2 3.5-.2 3.5-.2 3.5-.1 3.5-.2 3.5-.2 3.5-.1 3.5-.2 3.5-.2 3.5-.3 3.5-.3 3.5-.4 3.5-.4 3.5-.4 3.5-.4 3.5-.4 3.5-.3 3.5-.4 3.5-.5 3.5-.4 3.5-.5 3.5-.5 3.5-.6 3.5-.6 3.5-.7 3.5-.8 3.5-.8 3.5-.9 3.5-1 3.5-.9 3.5-1.1 3.5-1 3.5-1.2 3.5-1.1 3.5-1.1 3.5-1.1 3.5-1 3.5-1.1 3.5-1.1 3.5-1.1 3.5-1.3 3.5-1.7 3.5-1.7 3.5-1.3 3.5-.3 3.5 .5 3.5 1.1 3.5 2.1 3.5 .8 3.5-1.6 3.5-1.8 3.5-1.1 3.5-1 3.5-.6 3.5-.2 3.5-.9 3.5-2.6 3.5-3.5 3.5-3.6 3.5-3.6 3.5-3.6 3.5-3.5 3.5-3.6 3.5-3.5 3.5-3.5 3.5-3.5 3.5-3.5 3.5-3.5 3.5-3.5 3.5-3.6 3.5-3.5 3.5-3.2 3.5-3 3.5-2.9 3.5-2.7 3.5-2.5 3.5-1.8 3.5-1.2 3.5-1.2 3.5-1.8 3.5-2.5 3.5-2.6 3.5-2.4 3.5-2.1 3.5-2.1 3.5-2 3.5-1.9 3.5-2 3.5-1.9 3.5-1.8 3.5-1.9 3.5-1.8 3.5-1.5 3.5-.2 3.5 .7 3.5 1.2 3.5 3 3.5 3.5 3.5-1.6 3.5-4.6 3.5-5.5 3.5-5 3.5 .4 3.5 4.9 3.5 3.5 3.5-5.8 3.5-9 3.5-8.2 3.5-7.2 3.5-4.8 3.5-2.4 3.5 1.1 3.5 3.7 3.5 5.8 3.5 5.3 3.5-4.3 3.5-15.6 3.5-12.2 3.5-8 3.5-7.1 3.5-6 3.5-5.7 3.5-7.3 3.5-10.3 3.5-11.7 3.5-10.5 3.5-7.8 3.5-6.1 3.5-5.1 3.5-4.5 3.5-4.3 3.5-4 3.5-3.5 3.5-3.1 3.5-2.9 3.5-2.9 3.5-3 3.5-2.9 3.5-2.5 3.5-1.8 3.5-.9 3.5 .3 3.5 1.5 3.5 2.6 3.5 2.7 3.5 2 3.5 1.1 3.5-.6 3.5-2.2 3.5 .1 3.5 4.7 3.5 6.1 3.5 4 3.5 1 3.5 .2 3.5 2 3.5 3.9 3.5 5 3.5 5.2 3.5 .4 3.5-2.4 3.5-4.1 3.5-7.1 3.5-5.8 3.5-1.8 3.5 1.4 3.5 2.1 3.5 2.1 3.5 1.8 3.5-2.2 3.5-5.6 3.5-3.8 3.5 1.8 3.5 1.9 3.5-1.5 3.5-2.7 3.5 1.8 3.5 7.5 3.5 4.6 3.5-1.5 3.5 1.7 3.5 7.6 3.5 8 3.5 7.5 3.5 5.3 3.5 3 3.5-3.4 3.5-15.8 3.5-13.7 3.5-8.2 3.5-.9 3.5 2.1 3.5 4.5 3.5 6.8 3.5 7.9 3.5 8.3 3.5 3.9 3.5 2.7 3.5 6 3.5 .9 3.5-11.1 3.5-8.9 3.5-2.5 3.5 2.6 3.5 .8 3.5-.7 3.5-1.3 3.5-2.1 3.5-2.8 3.5-3.5 3.5 1.8 3.5 4 3.5 2.4 3.5 1.6 3.5 .4 3.5-3 3.5-6.8 3.5-10 3.5-9.9 3.5-5.6 3.5-3.8 3.5-3.5 3.5-3 3.5-2.9 3.5-2.7 3.5-2.2 3.5-4.5 3.5-7.2 3.5-8.2 3.5-8.3 3.5-8.5 3.5-8.6 3.5-7.4 3.5-5 3.5-3.8 3.5-3.7 3.5-4 3.5-4.1 3.5-4.2 3.5-5.1 3.5-5 3.5-2.4 3.5-.8 3.5-.8 3.5 3.8 3.5 6.7 3.5 11.5 3.5 11.4 3.5 7.7 3.5 6.6 3.5 5.3 3.5 6.4 3.5 15.7 3.5 16.5 3.5 14.7 3.5 10.1 3.5 5.1 3.5-3.2 3.5-9.1 3.5-10.5 3.5-11.2 3.5-10.3 3.5-9 3.5-9 3.5 5.3 3.5 31.3 3.5 51.3 3.5 56.2 3.5 23.3 3.5-40.8 3.5-49 3.5-38.1 3.5-23.3 3.5 2.4 3.5 11.1 3.5 3.8 3.5-1.8 3.5-1.1 3.5 6.7 3.5 6.3 3.5 3.4 3.5-7.2 3.5-26.9 3.5-25.7 3.5-16.8 3.5-8.1 3.5-4.4 3.5-3.6 3.5-4.1 3.5-2.5 3.5 .2 3.5-3.8 3.5-12 3.5-14.9 3.5-15.9 3.5-16.3 3.5-16.3 3.5-16.5 3.5-16.1 3.5-15.4 3.5-15.1 3.5-10.9 3.5-4.8 3.5-2.1 3.5-2.8 3.5-5 3.5-5.7 3.5-5.3 3.5-4.9 3.5 2.9 3.5 15.7 3.5 13.9 3.5 8.6 3.5-5.1 3.5-12.7 3.5-11.6 3.5-11.5 3.5-8.7 3.5-3.1 3.5-.8 3.5 4.1 3.5 8.7 3.5 12.4 3.5 13.7 3.5 15.4 3.5 13.4 3.5 9.4 3.5 5.9 3.5 3.1 3.5 1.7 3.5 1.4 3.5 1.1 3.5 .6 3.5-.2 3.5-1.2 3.5-1.5 3.5-1.4 3.5-.8 3.5-.3 3.5-.2 3.5 0 3.5-.1 3.5 1 3.5 1.2 3.5 1.3 3.5 1.5 3.5 1.9 3.5 2.4 3.5 2.8 3.5 3 3.5 3 3.5 3 3.5 3.1 3.5 3.1 3.5 2.6 3.5 1.9 3.5 1 3.5 .5 3.5 .4 3.5 .6 3.5 2 3.5 4.7 3.5 10.6 3.5 15.4 3.5 17.5 3.5 20.4 3.5 20.4 3.5 17.5 3.5 16.1 3.5 15 3.5 14.5 3.5 16 3.5 17.1 3.5 14.8 3.5 8.9 3.5 2.7 3.5-3.6 3.5-6.9 3.5-8.3 3.5-7.6 3.5-5.1 3.5-3.3 3.5-2.1 3.5-.7 3.5 1.3 3.5 2.5 3.5 2 3.5 1.4 3.5 1.3 3.5 1.1 3.5 .4 3.5-.6 3.5-2 3.5-3 3.5-4 3.5-6.2 3.5-6 3.5-5.1 3.5-1.7 3.5 .9 3.5 1.5 3.5-.3 3.5-2.3 3.5-1.4 3.5 1.1 3.5 3.5 3.5 3.7 3.5 2 3.5 .2 3.5-1 3.5-1.4 3.5-1.8 3.5-2.3 3.5-2.3 3.5-1.7 3.5-.5 3.5 .8 3.5 1.8 3.5 2.2 3.5 2.3 3.5 3.1 3.5 3.3 3.5 2.2 3.5 .4 3.5-1.4 3.5-2.1 3.5-2 3.5-.8 3.5 .7 3.5 1.7 3.5 1.9 3.5 1.3 3.5 .4 3.5-.5 3.5-.8 3.5-.8 3.5-.5 3.5 .1 3.5 1.4 3.5 2.4 3.5 2.9 3.5 2.6 3.5 1.4 3.5 .4 3.5 .1 3.5 .1 3.5 .8 3.5 2.6 3.5 3.9 3.5 3.2 3.5 .1 3.5-2.8 3.5-2.7 3.5-.2 3.5 2.1 3.5 3.1 3.5 3.3 3.5 2.9 3.5 2.3 3.5 2.2 3.5 1.8 3.5 1.6 3.5 1.3 3.5 1 3.5 .8 3.5 .7 3.5 .5 3.5 .4 3.5 .4 3.5 .2 3.5 .1 3.5 0 3.5-.2 3.5-.7 3.5-1.9 3.5-3.9 3.5-3.2 3.5-2.9 3.5-1.1 3.5 1.5 3.5 3.2 3.5 5 3.5 6.2 3.5 6.5 3.5 6 3.5 5 3.5 3.5 3.5 .4 3.5-2.7"/><path id="o25" d="M88.9 670.4l3.5-.2 3.5-.2 3.5-.2 3.5-.1 3.5-.2 3.5-.1 3.5-.1 3.5-.2 3.5-.1 3.5-.2 3.5-.2 3.5-.2 3.5-.3 3.5-.3 3.5-.4 3.5-.3 3.5-.4 3.5-.3 3.5-.3 3.5-.4 3.5-.4 3.5-.4 3.5-.4 3.5-.4 3.5-.5 3.5-.6 3.5-.6 3.5-.7 3.5-.7 3.5-.8 3.5-.8 3.5-.9 3.5-.9 3.5-.9 3.5-1 3.5-1 3.5-1 3.5-.9 3.5-.9 3.5-.9 3.5-1 3.5-1 3.5-1.2 3.5-1.4 3.5-1.5 3.5-1.1 3.5-.3 3.5 .5 3.5 .9 3.5 1.8 3.5 .7 3.5-1.4 3.5-1.5 3.5-1 3.5-.9 3.5-.5 3.5-.2 3.5-.8 3.5-2.4 3.5-3.3 3.5-3.3 3.5-3.3 3.5-3.4 3.5-3.4 3.5-3.5 3.5-3.4 3.5-3.4 3.5-3.5 3.5-3.5 3.5-3.5 3.5-3.5 3.5-3.7 3.5-3.6 3.5-3.4 3.5-3.1 3.5-3.2 3.5-2.9 3.5-2.8 3.5-2.1 3.5-1.6 3.5-1.5 3.5-2.1 3.5-2.5 3.5-2.7 3.5-2.5 3.5-2.2 3.5-2.1 3.5-2.1 3.5-2.1 3.5-2.1 3.5-2 3.5-2 3.5-2 3.5-1.9 3.5-1.7 3.5-.3 3.5 .5 3.5 1 3.5 2.8 3.5 3.3 3.5-1.7 3.5-4.8 3.5-5.7 3.5-5.1 3.5 .2 3.5 4.7 3.5 3.5 3.5-5.8 3.5-9 3.5-8.2 3.5-7.2 3.5-4.8 3.5-2.4 3.5 1.1 3.5 3.7 3.5 5.8 3.5 5.3 3.5-4.3 3.5-15.6 3.5-12.2 3.5-8 3.5-7.1 3.5-6 3.5-5.7 3.5-7.3 3.5-10.3 3.5-11.7 3.5-10.5 3.5-7.8 3.5-6.1 3.5-5.1 3.5-4.5 3.5-4.3 3.5-4 3.5-3.5 3.5-3.1 3.5-2.9 3.5-2.9 3.5-3 3.5-2.9 3.5-2.5 3.5-1.8 3.5-.9 3.5 .3 3.5 1.5 3.5 3.2 3.5 3.5 3.5 2.6 3.5 1.8 3.5 0 3.5-1.5 3.5 .8 3.5 5.2 3.5 6.7 3.5 4.5 3.5 1.7 3.5 .8 3.5 2.5 3.5 4.4 3.5 5.4 3.5 5.7 3.5 .9 3.5-1.7 3.5-3.3 3.5-6.2 3.5-5 3.5-1.1 3.5 2.1 3.5 2.5 3.5 2.6 3.5 2.4 3.5-1.5 3.5-4.7 3.5-2.9 3.5 2.3 3.5 2.4 3.5-.8 3.5-1.9 3.5 2.3 3.5 7.6 3.5 4.8 3.5-.8 3.5 2.2 3.5 7.5 3.5 7.9 3.5 7.4 3.5 5.4 3.5 3.2 3.5-2.5 3.5-13.9 3.5-12.4 3.5-7.2 3.5-.7 3.5 1.9 3.5 4.2 3.5 6.1 3.5 7.3 3.5 7.5 3.5 3.6 3.5 2.5 3.5 5.4 3.5 .9 3.5-9.9 3.5-7.9 3.5-2.2 3.5 2.4 3.5 .8 3.5-.6 3.5-1 3.5-1.8 3.5-2.5 3.5-3 3.5 1.6 3.5 3.7 3.5 2.2 3.5 1.5 3.5 .4 3.5-2.5 3.5-6.1 3.5-8.9 3.5-8.7 3.5-4.9 3.5-3.4 3.5-3 3.5-2.7 3.5-2.5 3.5-2.3 3.5-1.9 3.5-4 3.5-6.3 3.5-7.2 3.5-7.3 3.5-7.5 3.5-7.7 3.5-6.5 3.5-4.4 3.5-3.2 3.5-3.3 3.5-3.5 3.5-3.5 3.5-3.7 3.5-4.5 3.5-4.3 3.5-2.1 3.5-.6 3.5-.6 3.5 3.4 3.5 6.1 3.5 10.2 3.5 10.2 3.5 6.9 3.5 5.9 3.5 4.7 3.5 5.7 3.5 14 3.5 14.7 3.5 13.1 3.5 9.1 3.5 4.5 3.5-2.8 3.5-8.1 3.5-9.3 3.5-10 3.5-9 3.5-8.1 3.5-7.9 3.5 4.7 3.5 27.8 3.5 45.5 3.5 49.9 3.5 20.7 3.5-36.2 3.5-43.5 3.5-33.9 3.5-20.6 3.5 2.2 3.5 9.8 3.5 3.3 3.5-1.6 3.5-1 3.5 6 3.5 5.6 3.5 3 3.5-6.5 3.5-23.8 3.5-22.8 3.5-15 3.5-7.2 3.5-3.9 3.5-3.2 3.5-3.7 3.5-2.2 3.5 .2 3.5-3.5 3.5-10.6 3.5-13.3 3.5-14.1 3.5-14.5 3.5-14.5 3.5-14.6 3.5-14.4 3.5-13.7 3.5-13.3 3.5-9.7 3.5-4.3 3.5-1.8 3.5-2.5 3.5-4.4 3.5-5 3.5-4.7 3.5-4.3 3.5 2.6 3.5 14.1 3.5 12.4 3.5 7.8 3.5-4.5 3.5-11.1 3.5-10.1 3.5-10 3.5-7.5 3.5-2.7 3.5-.4 3.5 3.7 3.5 8 3.5 11.1 3.5 12.3 3.5 13.8 3.5 12.1 3.5 8.5 3.5 5.4 3.5 2.9 3.5 1.8 3.5 1.5 3.5 1.2 3.5 .7 3.5 .1 3.5-.8 3.5-1.1 3.5-.9 3.5-.5 3.5 0 3.5 .1 3.5 .3 3.5 .2 3.5 1.2 3.5 1.3 3.5 1.4 3.5 1.6 3.5 1.9 3.5 2.4 3.5 2.8 3.5 2.9 3.5 2.9 3.5 2.9 3.5 3 3.5 3 3.5 2.6 3.5 1.9 3.5 1.1 3.5 .8 3.5 .6 3.5 .8 3.5 2 3.5 4.4 3.5 9.4 3.5 13.6 3.5 15.4 3.5 17.8 3.5 17.8 3.5 15.2 3.5 14.1 3.5 13.1 3.5 12.7 3.5 13.9 3.5 14.8 3.5 12.9 3.5 7.8 3.5 2.4 3.5-2.9 3.5-5.8 3.5-6.9 3.5-6.3 3.5-4.2 3.5-2.7 3.5-1.6 3.5-.4 3.5 1.2 3.5 2.3 3.5 1.8 3.5 1.4 3.5 1.2 3.5 1.1 3.5 .5 3.5-.4 3.5-1.6 3.5-2.4 3.5-3.2 3.5-5.1 3.5-5 3.5-4.2 3.5-1.3 3.5 1 3.5 1.4 3.5-.1 3.5-1.7 3.5-1 3.5 1.1 3.5 3.2 3.5 3.2 3.5 1.9 3.5 .3 3.5-.6 3.5-1 3.5-1.3 3.5-1.8 3.5-1.7 3.5-1.3 3.5-.2 3.5 .8 3.5 1.6 3.5 2.1 3.5 2 3.5 2.8 3.5 2.9 3.5 2 3.5 .5 3.5-1 3.5-1.6 3.5-1.4 3.5-.6 3.5 .7 3.5 1.6 3.5 1.8 3.5 1.2 3.5 .5 3.5-.3 3.5-.5 3.5-.5 3.5-.3 3.5 .3 3.5 1.3 3.5 2.2 3.5 2.5 3.5 2.3 3.5 1.3 3.5 .5 3.5 .2 3.5 .2 3.5 .8 3.5 2.3 3.5 3.4 3.5 2.7 3.5 .3 3.5-2.2 3.5-2.1 3.5 0 3.5 1.9 3.5 2.6 3.5 2.9 3.5 2.5 3.5 2 3.5 1.9 3.5 1.6 3.5 1.4 3.5 1.2 3.5 1 3.5 .8 3.5 .7 3.5 .5 3.5 .5 3.5 .4 3.5 .3 3.5 .2 3.5 .2 3.5-.1 3.5-.4 3.5-1.4 3.5-3 3.5-2.5 3.5-2.1 3.5-.8 3.5 1.4 3.5 2.7 3.5 4.2 3.5 5.1 3.5 5.3 3.5 4.9 3.5 4.2 3.5 2.9 3.5 .4 3.5-2"/><path id="o26" d="M88.9 670.4l3.5-.3 3.5-.2 3.5-.2 3.5-.1 3.5-.2 3.5-.1 3.5-.2 3.5-.1 3.5-.2 3.5-.1 3.5-.2 3.5-.3 3.5-.3 3.5-.3 3.5-.4 3.5-.4 3.5-.3 3.5-.3 3.5-.4 3.5-.4 3.5-.4 3.5-.4 3.5-.4 3.5-.5 3.5-.5 3.5-.6 3.5-.6 3.5-.7 3.5-.8 3.5-.8 3.5-.9 3.5-.9 3.5-.9 3.5-1 3.5-1 3.5-1.1 3.5-1 3.5-1 3.5-.9 3.5-1 3.5-1 3.5-1.1 3.5-1.2 3.5-1.5 3.5-1.5 3.5-1.2 3.5-.3 3.5 .5 3.5 1 3.5 1.9 3.5 .7 3.5-1.5 3.5-1.6 3.5-1 3.5-.9 3.5-.6 3.5-.2 3.5-.8 3.5-2.5 3.5-3.3 3.5-3.4 3.5-3.5 3.5-3.4 3.5-3.5 3.5-3.4 3.5-3.5 3.5-3.5 3.5-3.5 3.5-3.4 3.5-3.6 3.5-3.5 3.5-3.6 3.5-3.6 3.5-3.3 3.5-3.1 3.5-3 3.5-2.9 3.5-2.7 3.5-2 3.5-1.5 3.5-1.4 3.5-2 3.5-2.5 3.5-2.6 3.5-2.5 3.5-2.2 3.5-2.1 3.5-2.1 3.5-2 3.5-2 3.5-2 3.5-2 3.5-1.9 3.5-1.9 3.5-1.7 3.5-.2 3.5 .6 3.5 1.1 3.5 2.8 3.5 3.3 3.5-1.6 3.5-4.7 3.5-5.7 3.5-5 3.5 .3 3.5 4.7 3.5 3.5 3.5-5.8 3.5-9 3.5-8.2 3.5-7.2 3.5-4.8 3.5-2.4 3.5 1.1 3.5 3.7 3.5 5.8 3.5 5.3 3.5-4.3 3.5-15.6 3.5-12.2 3.5-8 3.5-7.1 3.5-6 3.5-5.7 3.5-7.3 3.5-10.3 3.5-11.7 3.5-10.5 3.5-7.8 3.5-6.1 3.5-5.1 3.5-4.5 3.5-4.3 3.5-4 3.5-3.5 3.5-3.1 3.5-2.9 3.5-2.9 3.5-3 3.5-2.9 3.5-2.5 3.5-1.8 3.5-.9 3.5 .3 3.5 1.5 3.5 2.7 3.5 2.9 3.5 2.1 3.5 1.3 3.5-.5 3.5-2 3.5 .2 3.5 4.8 3.5 6.2 3.5 4.2 3.5 1.1 3.5 .3 3.5 2.1 3.5 4 3.5 5.1 3.5 5.3 3.5 .5 3.5-2.3 3.5-3.8 3.5-7 3.5-5.6 3.5-1.7 3.5 1.6 3.5 2.1 3.5 2.3 3.5 1.9 3.5-2 3.5-5.5 3.5-3.6 3.5 1.9 3.5 2.1 3.5-1.4 3.5-2.5 3.5 1.9 3.5 7.5 3.5 4.6 3.5-1.3 3.5 1.7 3.5 7.6 3.5 8 3.5 7.5 3.5 5.3 3.5 3 3.5-3.1 3.5-15.4 3.5-13.5 3.5-7.9 3.5-.9 3.5 2 3.5 4.5 3.5 6.6 3.5 7.9 3.5 8.1 3.5 3.8 3.5 2.6 3.5 5.9 3.5 .9 3.5-10.8 3.5-8.8 3.5-2.4 3.5 2.6 3.5 .8 3.5-.7 3.5-1.2 3.5-2 3.5-2.8 3.5-3.3 3.5 1.7 3.5 4 3.5 2.3 3.5 1.6 3.5 .4 3.5-2.9 3.5-6.7 3.5-9.8 3.5-9.6 3.5-5.4 3.5-3.7 3.5-3.4 3.5-3 3.5-2.8 3.5-2.6 3.5-2.1 3.5-4.5 3.5-6.9 3.5-8 3.5-8.1 3.5-8.3 3.5-8.4 3.5-7.2 3.5-4.9 3.5-3.6 3.5-3.6 3.5-4 3.5-3.9 3.5-4.1 3.5-5 3.5-4.8 3.5-2.3 3.5-.8 3.5-.7 3.5 3.7 3.5 6.6 3.5 11.2 3.5 11.2 3.5 7.5 3.5 6.4 3.5 5.2 3.5 6.2 3.5 15.4 3.5 16.1 3.5 14.4 3.5 9.9 3.5 5 3.5-3.1 3.5-8.9 3.5-10.2 3.5-11 3.5-9.9 3.5-8.8 3.5-8.8 3.5 5.2 3.5 30.5 3.5 50.1 3.5 54.8 3.5 22.8 3.5-39.8 3.5-47.7 3.5-37.3 3.5-22.7 3.5 2.5 3.5 10.8 3.5 3.7 3.5-1.8 3.5-1 3.5 6.5 3.5 6.2 3.5 3.3 3.5-7 3.5-26.1 3.5-25.1 3.5-16.4 3.5-7.8 3.5-4.3 3.5-3.4 3.5-4 3.5-2.4 3.5 .2 3.5-3.7 3.5-11.6 3.5-14.6 3.5-15.4 3.5-15.9 3.5-15.8 3.5-16 3.5-15.8 3.5-14.9 3.5-14.7 3.5-10.5 3.5-4.7 3.5-2 3.5-2.7 3.5-4.8 3.5-5.5 3.5-5.2 3.5-4.7 3.5 2.9 3.5 15.3 3.5 13.5 3.5 8.4 3.5-4.9 3.5-12.3 3.5-11.2 3.5-11.2 3.5-8.4 3.5-3 3.5-.7 3.5 4 3.5 8.5 3.5 12.1 3.5 13.4 3.5 14.9 3.5 13.2 3.5 9.1 3.5 5.8 3.5 3 3.5 1.7 3.5 1.4 3.5 1.1 3.5 .6 3.5-.2 3.5-1 3.5-1.5 3.5-1.3 3.5-.7 3.5-.3 3.5-.1 3.5-.1 3.5 0 3.5 1 3.5 1.2 3.5 1.3 3.5 1.5 3.5 1.8 3.5 2.4 3.5 2.8 3.5 3 3.5 2.9 3.5 2.9 3.5 3.1 3.5 3 3.5 2.6 3.5 1.8 3.5 1 3.5 .6 3.5 .4 3.5 .6 3.5 1.9 3.5 4.7 3.5 10.3 3.5 14.9 3.5 17 3.5 19.8 3.5 19.8 3.5 16.9 3.5 15.7 3.5 14.6 3.5 14.1 3.5 15.5 3.5 16.5 3.5 14.4 3.5 8.7 3.5 2.5 3.5-3.4 3.5-6.7 3.5-7.9 3.5-7.4 3.5-4.9 3.5-3.2 3.5-2 3.5-.6 3.5 1.2 3.5 2.4 3.5 2 3.5 1.4 3.5 1.3 3.5 1 3.5 .5 3.5-.6 3.5-1.9 3.5-2.9 3.5-3.8 3.5-6 3.5-5.8 3.5-4.9 3.5-1.7 3.5 1 3.5 1.4 3.5-.2 3.5-2.2 3.5-1.3 3.5 1.1 3.5 3.4 3.5 3.6 3.5 2 3.5 .2 3.5-.9 3.5-1.3 3.5-1.7 3.5-2.2 3.5-2.2 3.5-1.6 3.5-.5 3.5 .8 3.5 1.8 3.5 2.1 3.5 2.3 3.5 3 3.5 3.2 3.5 2.2 3.5 .4 3.5-1.3 3.5-2 3.5-1.9 3.5-.8 3.5 .8 3.5 1.7 3.5 1.8 3.5 1.3 3.5 .4 3.5-.4 3.5-.8 3.5-.7 3.5-.5 3.5 .2 3.5 1.4 3.5 2.3 3.5 2.8 3.5 2.5 3.5 1.4 3.5 .5 3.5 0 3.5 .2 3.5 .8 3.5 2.6 3.5 3.7 3.5 3.1 3.5 .2 3.5-2.7 3.5-2.6 3.5-.1 3.5 2 3.5 3 3.5 3.2 3.5 2.8 3.5 2.3 3.5 2.1 3.5 1.8 3.5 1.5 3.5 1.3 3.5 1 3.5 .8 3.5 .7 3.5 .5 3.5 .5 3.5 .3 3.5 .2 3.5 .2 3.5 0 3.5-.2 3.5-.6 3.5-1.8 3.5-3.7 3.5-3.1 3.5-2.7 3.5-1 3.5 1.5 3.5 3 3.5 4.9 3.5 6 3.5 6.2 3.5 5.8 3.5 4.8 3.5 3.4 3.5 .3 3.5-2.5"/><path id="o27" d="M88.9 670.3l3.5-.3 3.5-.2 3.5-.2 3.5-.2 3.5-.1 3.5-.2 3.5-.1 3.5-.2 3.5-.2 3.5-.1 3.5-.3 3.5-.2 3.5-.3 3.5-.4 3.5-.4 3.5-.4 3.5-.4 3.5-.3 3.5-.4 3.5-.4 3.5-.4 3.5-.5 3.5-.4 3.5-.6 3.5-.5 3.5-.6 3.5-.7 3.5-.7 3.5-.9 3.5-.8 3.5-1 3.5-.9 3.5-1 3.5-1.1 3.5-1.1 3.5-1.1 3.5-1.1 3.5-1 3.5-1.1 3.5-1 3.5-1.1 3.5-1.1 3.5-1.3 3.5-1.6 3.5-1.7 3.5-1.2 3.5-.3 3.5 .5 3.5 1.1 3.5 2 3.5 .7 3.5-1.5 3.5-1.7 3.5-1.1 3.5-1 3.5-.6 3.5-.2 3.5-.9 3.5-2.5 3.5-3.5 3.5-3.6 3.5-3.5 3.5-3.5 3.5-3.6 3.5-3.5 3.5-3.5 3.5-3.5 3.5-3.5 3.5-3.5 3.5-3.5 3.5-3.5 3.5-3.6 3.5-3.6 3.5-3.2 3.5-3 3.5-2.9 3.5-2.8 3.5-2.5 3.5-1.9 3.5-1.2 3.5-1.3 3.5-1.9 3.5-2.4 3.5-2.6 3.5-2.5 3.5-2.1 3.5-2.1 3.5-2 3.5-2 3.5-1.9 3.5-2 3.5-1.8 3.5-1.9 3.5-1.8 3.5-1.6 3.5-.2 3.5 .7 3.5 1.2 3.5 2.9 3.5 3.4 3.5-1.5 3.5-4.7 3.5-5.5 3.5-5 3.5 .4 3.5 4.8 3.5 3.5 3.5-5.8 3.5-9 3.5-8.2 3.5-7.2 3.5-4.8 3.5-2.4 3.5 1.1 3.5 3.7 3.5 5.8 3.5 5.3 3.5-4.3 3.5-15.6 3.5-12.2 3.5-8 3.5-7.1 3.5-6 3.5-5.7 3.5-7.3 3.5-10.3 3.5-11.7 3.5-10.5 3.5-7.8 3.5-6.1 3.5-5.1 3.5-4.5 3.5-4.3 3.5-4 3.5-3.5 3.5-3.1 3.5-2.9 3.5-2.9 3.5-3 3.5-2.9 3.5-2.5 3.5-1.8 3.5-.9 3.5 .3 3.5 1.5 3.5 3.3 3.5 3.5 3.5 2.7 3.5 1.8 3.5 .2 3.5-1.5 3.5 .8 3.5 5.3 3.5 6.7 3.5 4.7 3.5 1.7 3.5 .8 3.5 2.6 3.5 4.5 3.5 5.4 3.5 5.7 3.5 1 3.5-1.6 3.5-3.2 3.5-6.2 3.5-4.9 3.5-1 3.5 2.1 3.5 2.6 3.5 2.7 3.5 2.4 3.5-1.4 3.5-4.6 3.5-2.9 3.5 2.4 3.5 2.5 3.5-.7 3.5-1.8 3.5 2.3 3.5 7.6 3.5 4.8 3.5-.7 3.5 2.2 3.5 7.5 3.5 7.9 3.5 7.4 3.5 5.3 3.5 3.3 3.5-2.4 3.5-13.7 3.5-12.2 3.5-7.2 3.5-.7 3.5 1.9 3.5 4.2 3.5 6.1 3.5 7.2 3.5 7.4 3.5 3.6 3.5 2.4 3.5 5.4 3.5 .9 3.5-9.8 3.5-7.8 3.5-2.2 3.5 2.5 3.5 .7 3.5-.5 3.5-1.1 3.5-1.8 3.5-2.4 3.5-3 3.5 1.7 3.5 3.6 3.5 2.2 3.5 1.5 3.5 .4 3.5-2.5 3.5-6 3.5-8.8 3.5-8.6 3.5-4.8 3.5-3.3 3.5-3 3.5-2.7 3.5-2.4 3.5-2.2 3.5-1.9 3.5-4 3.5-6.2 3.5-7.1 3.5-7.2 3.5-7.4 3.5-7.5 3.5-6.4 3.5-4.4 3.5-3.2 3.5-3.1 3.5-3.5 3.5-3.4 3.5-3.7 3.5-4.4 3.5-4.2 3.5-2.1 3.5-.5 3.5-.7 3.5 3.4 3.5 6 3.5 10.2 3.5 10.1 3.5 6.8 3.5 5.8 3.5 4.7 3.5 5.6 3.5 13.9 3.5 14.5 3.5 12.9 3.5 9 3.5 4.4 3.5-2.7 3.5-8 3.5-9.1 3.5-9.8 3.5-8.9 3.5-7.9 3.5-7.8 3.5 4.7 3.5 27.4 3.5 44.9 3.5 49.1 3.5 20.5 3.5-35.7 3.5-42.8 3.5-33.3 3.5-20.4 3.5 2.2 3.5 9.7 3.5 3.3 3.5-1.6 3.5-.9 3.5 5.9 3.5 5.5 3.5 3 3.5-6.3 3.5-23.4 3.5-22.4 3.5-14.8 3.5-7 3.5-3.8 3.5-3.1 3.5-3.6 3.5-2.1 3.5 .2 3.5-3.3 3.5-10.4 3.5-13.1 3.5-13.8 3.5-14.3 3.5-14.1 3.5-14.3 3.5-14.1 3.5-13.4 3.5-13.1 3.5-9.5 3.5-4.1 3.5-1.8 3.5-2.4 3.5-4.3 3.5-4.8 3.5-4.6 3.5-4.1 3.5 2.5 3.5 13.9 3.5 12.2 3.5 7.6 3.5-4.3 3.5-10.8 3.5-9.9 3.5-9.8 3.5-7.4 3.5-2.5 3.5-.5 3.5 3.8 3.5 7.8 3.5 11 3.5 12 3.5 13.6 3.5 11.9 3.5 8.3 3.5 5.3 3.5 2.9 3.5 1.7 3.5 1.5 3.5 1.1 3.5 .8 3.5 0 3.5-.7 3.5-1.1 3.5-.9 3.5-.4 3.5-.1 3.5 .1 3.5 .3 3.5 .2 3.5 1.1 3.5 1.3 3.5 1.4 3.5 1.6 3.5 1.9 3.5 2.3 3.5 2.7 3.5 2.9 3.5 2.8 3.5 2.8 3.5 2.9 3.5 2.9 3.5 2.6 3.5 1.8 3.5 1.2 3.5 .7 3.5 .6 3.5 .8 3.5 1.9 3.5 4.3 3.5 9.2 3.5 13.3 3.5 15.1 3.5 17.5 3.5 17.4 3.5 15 3.5 13.8 3.5 12.8 3.5 12.5 3.5 13.6 3.5 14.5 3.5 12.7 3.5 7.6 3.5 2.3 3.5-2.8 3.5-5.7 3.5-6.7 3.5-6.3 3.5-4.1 3.5-2.6 3.5-1.6 3.5-.4 3.5 1.2 3.5 2.2 3.5 1.9 3.5 1.3 3.5 1.2 3.5 1 3.5 .6 3.5-.4 3.5-1.6 3.5-2.4 3.5-3.1 3.5-5 3.5-4.9 3.5-4.1 3.5-1.2 3.5 .9 3.5 1.4 3.5-.1 3.5-1.6 3.5-1 3.5 1.1 3.5 3.1 3.5 3.2 3.5 1.9 3.5 .3 3.5-.6 3.5-1 3.5-1.3 3.5-1.7 3.5-1.7 3.5-1.2 3.5-.2 3.5 .8 3.5 1.7 3.5 2 3.5 2 3.5 2.8 3.5 2.8 3.5 2 3.5 .5 3.5-1 3.5-1.5 3.5-1.4 3.5-.6 3.5 .8 3.5 1.6 3.5 1.7 3.5 1.2 3.5 .5 3.5-.2 3.5-.5 3.5-.5 3.5-.2 3.5 .3 3.5 1.2 3.5 2.2 3.5 2.5 3.5 2.2 3.5 1.3 3.5 .5 3.5 .2 3.5 .2 3.5 .9 3.5 2.2 3.5 3.3 3.5 2.7 3.5 .3 3.5-2.1 3.5-2 3.5 0 3.5 1.8 3.5 2.6 3.5 2.8 3.5 2.5 3.5 2 3.5 1.8 3.5 1.7 3.5 1.4 3.5 1.1 3.5 1 3.5 .8 3.5 .7 3.5 .6 3.5 .4 3.5 .4 3.5 .4 3.5 .2 3.5 .1 3.5 0 3.5-.4 3.5-1.3 3.5-3 3.5-2.3 3.5-2.1 3.5-.7 3.5 1.3 3.5 2.7 3.5 4 3.5 5 3.5 5.2 3.5 4.9 3.5 4 3.5 2.9 3.5 .4 3.5-1.9"/><path id="o28" d="M88.9 670.4l3.5-.3 3.5-.2 3.5-.1 3.5-.2 3.5-.2 3.5-.1 3.5-.1 3.5-.2 3.5-.1 3.5-.2 3.5-.2 3.5-.2 3.5-.3 3.5-.4 3.5-.3 3.5-.4 3.5-.4 3.5-.3 3.5-.3 3.5-.4 3.5-.4 3.5-.4 3.5-.4 3.5-.5 3.5-.5 3.5-.6 3.5-.6 3.5-.7 3.5-.8 3.5-.8 3.5-.8 3.5-.9 3.5-.9 3.5-1 3.5-1 3.5-1.1 3.5-1 3.5-1 3.5-.9 3.5-1 3.5-.9 3.5-1.1 3.5-1.2 3.5-1.5 3.5-1.5 3.5-1.2 3.5-.3 3.5 .5 3.5 1 3.5 1.9 3.5 .7 3.5-1.5 3.5-1.5 3.5-1.1 3.5-.9 3.5-.6 3.5-.1 3.5-.9 3.5-2.4 3.5-3.3 3.5-3.4 3.5-3.4 3.5-3.5 3.5-3.4 3.5-3.5 3.5-3.4 3.5-3.5 3.5-3.5 3.5-3.5 3.5-3.5 3.5-3.5 3.5-3.6 3.5-3.7 3.5-3.2 3.5-3.2 3.5-3 3.5-2.9 3.5-2.7 3.5-2.1 3.5-1.5 3.5-1.4 3.5-2 3.5-2.5 3.5-2.7 3.5-2.4 3.5-2.2 3.5-2.2 3.5-2 3.5-2.1 3.5-2 3.5-2 3.5-2 3.5-1.9 3.5-1.9 3.5-1.7 3.5-.2 3.5 .5 3.5 1.1 3.5 2.8 3.5 3.3 3.5-1.6 3.5-4.8 3.5-5.6 3.5-5.1 3.5 .3 3.5 4.7 3.5 3.5 3.5-5.8 3.5-9 3.5-8.2 3.5-7.2 3.5-4.8 3.5-2.4 3.5 1.1 3.5 3.7 3.5 5.8 3.5 5.3 3.5-4.3 3.5-15.6 3.5-12.2 3.5-8 3.5-7.1 3.5-6 3.5-5.7 3.5-7.3 3.5-10.3 3.5-11.7 3.5-10.5 3.5-7.8 3.5-6.1 3.5-5.1 3.5-4.5 3.5-4.3 3.5-4 3.5-3.5 3.5-3.1 3.5-2.9 3.5-2.9 3.5-3 3.5-2.9 3.5-2.5 3.5-1.8 3.5-.9 3.5 .3 3.5 1.5 3.5 3.1 3.5 3.2 3.5 2.5 3.5 1.6 3.5-.1 3.5-1.7 3.5 .6 3.5 5.1 3.5 6.6 3.5 4.4 3.5 1.5 3.5 .6 3.5 2.4 3.5 4.3 3.5 5.3 3.5 5.5 3.5 .9 3.5-1.9 3.5-3.5 3.5-6.4 3.5-5.2 3.5-1.3 3.5 1.9 3.5 2.4 3.5 2.5 3.5 2.2 3.5-1.6 3.5-4.9 3.5-3.2 3.5 2.2 3.5 2.3 3.5-.9 3.5-2.1 3.5 2.1 3.5 7.6 3.5 4.8 3.5-1 3.5 2 3.5 7.6 3.5 7.9 3.5 7.4 3.5 5.4 3.5 3.1 3.5-2.6 3.5-14.4 3.5-12.7 3.5-7.5 3.5-.7 3.5 1.9 3.5 4.3 3.5 6.3 3.5 7.4 3.5 7.7 3.5 3.7 3.5 2.5 3.5 5.6 3.5 .9 3.5-10.2 3.5-8.2 3.5-2.2 3.5 2.5 3.5 .8 3.5-.6 3.5-1.1 3.5-1.9 3.5-2.5 3.5-3.1 3.5 1.7 3.5 3.8 3.5 2.2 3.5 1.6 3.5 .4 3.5-2.7 3.5-6.2 3.5-9.1 3.5-9 3.5-5 3.5-3.4 3.5-3.2 3.5-2.7 3.5-2.6 3.5-2.3 3.5-1.9 3.5-4.1 3.5-6.4 3.5-7.4 3.5-7.4 3.5-7.7 3.5-7.8 3.5-6.5 3.5-4.5 3.5-3.2 3.5-3.3 3.5-3.5 3.5-3.5 3.5-3.7 3.5-4.4 3.5-4.3 3.5-2 3.5-.5 3.5-.5 3.5 3.6 3.5 6.4 3.5 10.7 3.5 10.6 3.5 7.2 3.5 6.2 3.5 5.1 3.5 5.9 3.5 14.5 3.5 15.1 3.5 13.5 3.5 9.5 3.5 4.8 3.5-2.7 3.5-7.9 3.5-9.2 3.5-9.8 3.5-8.8 3.5-7.8 3.5-7.7 3.5 5.1 3.5 28.3 3.5 46 3.5 50.3 3.5 21 3.5-36.1 3.5-43.1 3.5-33.5 3.5-20.2 3.5 2.5 3.5 10.2 3.5 3.7 3.5-1.2 3.5-.5 3.5 6.2 3.5 6 3.5 3.4 3.5-6 3.5-23 3.5-21.9 3.5-14.2 3.5-6.5 3.5-3.3 3.5-2.6 3.5-3 3.5-1.7 3.5 .7 3.5-2.8 3.5-9.7 3.5-12.3 3.5-13.1 3.5-13.4 3.5-13.4 3.5-13.4 3.5-13.2 3.5-12.6 3.5-12.2 3.5-8.7 3.5-3.5 3.5-1.2 3.5-1.8 3.5-3.7 3.5-4.2 3.5-4.1 3.5-3.6 3.5 2.9 3.5 13.7 3.5 12 3.5 7.7 3.5-4 3.5-10.3 3.5-9.3 3.5-9.4 3.5-6.9 3.5-2.4 3.5-.4 3.5 3.5 3.5 7.5 3.5 10.5 3.5 11.5 3.5 12.9 3.5 11.2 3.5 7.8 3.5 4.9 3.5 2.6 3.5 1.3 3.5 1.1 3.5 .8 3.5 .4 3.5-.4 3.5-1.1 3.5-1.5 3.5-1.4 3.5-.9 3.5-.6 3.5-.4 3.5-.4 3.5-.4 3.5 .6 3.5 .6 3.5 .7 3.5 .9 3.5 1.2 3.5 1.7 3.5 2 3.5 2.1 3.5 2.1 3.5 2.1 3.5 2.2 3.5 2.2 3.5 1.8 3.5 1.2 3.5 .5 3.5 0 3.5-.1 3.5 .1 3.5 1.2 3.5 3.7 3.5 8.7 3.5 12.8 3.5 14.6 3.5 17.2 3.5 17.2 3.5 14.7 3.5 13.6 3.5 12.7 3.5 12.3 3.5 13.6 3.5 14.5 3.5 12.7 3.5 7.5 3.5 2.1 3.5-3.3 3.5-6.1 3.5-7.4 3.5-6.7 3.5-4.6 3.5-3.1 3.5-1.9 3.5-.8 3.5 1 3.5 2.1 3.5 1.6 3.5 1.1 3.5 1.1 3.5 .8 3.5 .3 3.5-.7 3.5-1.8 3.5-2.7 3.5-3.5 3.5-5.5 3.5-5.4 3.5-4.5 3.5-1.5 3.5 .8 3.5 1.3 3.5-.3 3.5-1.9 3.5-1.3 3.5 1 3.5 3.2 3.5 3.2 3.5 1.8 3.5 .2 3.5-.8 3.5-1.2 3.5-1.5 3.5-1.9 3.5-2 3.5-1.4 3.5-.4 3.5 .8 3.5 1.6 3.5 2 3.5 2.1 3.5 2.9 3.5 2.9 3.5 2 3.5 .5 3.5-1.2 3.5-1.8 3.5-1.5 3.5-.7 3.5 .7 3.5 1.6 3.5 1.8 3.5 1.2 3.5 .5 3.5-.4 3.5-.5 3.5-.6 3.5-.4 3.5 .2 3.5 1.3 3.5 2.2 3.5 2.7 3.5 2.3 3.5 1.3 3.5 .5 3.5 .1 3.5 .2 3.5 .8 3.5 2.4 3.5 3.5 3.5 2.8 3.5 .3 3.5-2.4 3.5-2.2 3.5 0 3.5 1.9 3.5 2.7 3.5 3 3.5 2.6 3.5 2.1 3.5 1.9 3.5 1.7 3.5 1.5 3.5 1.2 3.5 .9 3.5 .8 3.5 .7 3.5 .6 3.5 .4 3.5 .4 3.5 .3 3.5 .2 3.5 .1 3.5-.1 3.5-.4 3.5-1.6 3.5-3.2 3.5-2.7 3.5-2.3 3.5-.8 3.5 1.4 3.5 2.8 3.5 4.4 3.5 5.3 3.5 5.6 3.5 5.2 3.5 4.4 3.5 3.1 3.5 .3 3.5-2.1"/><path id="o29" d="M88.9 670.4l3.5-.3 3.5-.2 3.5-.1 3.5-.2 3.5-.2 3.5-.1 3.5-.1 3.5-.2 3.5-.1 3.5-.2 3.5-.2 3.5-.2 3.5-.3 3.5-.4 3.5-.4 3.5-.3 3.5-.4 3.5-.3 3.5-.3 3.5-.4 3.5-.4 3.5-.4 3.5-.5 3.5-.4 3.5-.5 3.5-.6 3.5-.6 3.5-.7 3.5-.8 3.5-.8 3.5-.9 3.5-.8 3.5-1 3.5-.9 3.5-1.1 3.5-1 3.5-1 3.5-1 3.5-.9 3.5-1 3.5-1 3.5-1 3.5-1.2 3.5-1.5 3.5-1.6 3.5-1.1 3.5-.3 3.5 .5 3.5 1 3.5 1.8 3.5 .7 3.5-1.4 3.5-1.6 3.5-1 3.5-.9 3.5-.6 3.5-.1 3.5-.9 3.5-2.4 3.5-3.4 3.5-3.4 3.5-3.4 3.5-3.4 3.5-3.5 3.5-3.4 3.5-3.5 3.5-3.4 3.5-3.5 3.5-3.5 3.5-3.5 3.5-3.5 3.5-3.7 3.5-3.6 3.5-3.3 3.5-3.1 3.5-3.1 3.5-2.9 3.5-2.6 3.5-2.1 3.5-1.5 3.5-1.4 3.5-2 3.5-2.5 3.5-2.7 3.5-2.4 3.5-2.3 3.5-2.1 3.5-2.1 3.5-2 3.5-2 3.5-2 3.5-2 3.5-1.9 3.5-1.9 3.5-1.7 3.5-.3 3.5 .6 3.5 1.1 3.5 2.8 3.5 3.3 3.5-1.6 3.5-4.8 3.5-5.6 3.5-5.1 3.5 .3 3.5 4.7 3.5 3.5 3.5-5.8 3.5-9 3.5-8.2 3.5-7.2 3.5-4.8 3.5-2.4 3.5 1.1 3.5 3.7 3.5 5.8 3.5 5.3 3.5-4.3 3.5-15.6 3.5-12.2 3.5-8 3.5-7.1 3.5-6 3.5-5.7 3.5-7.3 3.5-10.3 3.5-11.7 3.5-10.5 3.5-7.8 3.5-6.1 3.5-5.1 3.5-4.5 3.5-4.3 3.5-4 3.5-3.5 3.5-3.1 3.5-2.9 3.5-2.9 3.5-3 3.5-2.9 3.5-2.5 3.5-1.8 3.5-.9 3.5 .3 3.5 1.5 3.5 3 3.5 3.1 3.5 2.4 3.5 1.5 3.5-.1 3.5-1.9 3.5 .5 3.5 5.1 3.5 6.4 3.5 4.4 3.5 1.4 3.5 .5 3.5 2.3 3.5 4.3 3.5 5.2 3.5 5.5 3.5 .7 3.5-2 3.5-3.5 3.5-6.6 3.5-5.3 3.5-1.4 3.5 1.8 3.5 2.4 3.5 2.4 3.5 2.1 3.5-1.7 3.5-5.1 3.5-3.3 3.5 2.2 3.5 2.2 3.5-1 3.5-2.3 3.5 2.1 3.5 7.6 3.5 4.7 3.5-1.1 3.5 2 3.5 7.6 3.5 7.9 3.5 7.4 3.5 5.4 3.5 3.1 3.5-2.8 3.5-14.6 3.5-12.9 3.5-7.6 3.5-.8 3.5 1.9 3.5 4.4 3.5 6.4 3.5 7.5 3.5 7.8 3.5 3.8 3.5 2.5 3.5 5.6 3.5 .9 3.5-10.3 3.5-8.4 3.5-2.3 3.5 2.6 3.5 .7 3.5-.6 3.5-1.1 3.5-1.9 3.5-2.6 3.5-3.2 3.5 1.7 3.5 3.8 3.5 2.3 3.5 1.6 3.5 .4 3.5-2.8 3.5-6.3 3.5-9.3 3.5-9.2 3.5-5.1 3.5-3.6 3.5-3.2 3.5-2.8 3.5-2.6 3.5-2.4 3.5-2 3.5-4.2 3.5-6.6 3.5-7.6 3.5-7.6 3.5-7.9 3.5-8 3.5-6.7 3.5-4.7 3.5-3.4 3.5-3.3 3.5-3.7 3.5-3.7 3.5-3.8 3.5-4.7 3.5-4.5 3.5-2.1 3.5-.6 3.5-.7 3.5 3.6 3.5 6.4 3.5 10.8 3.5 10.7 3.5 7.3 3.5 6.2 3.5 5 3.5 6 3.5 14.7 3.5 15.4 3.5 13.7 3.5 9.6 3.5 4.7 3.5-2.8 3.5-8.4 3.5-9.5 3.5-10.3 3.5-9.3 3.5-8.3 3.5-8.1 3.5 5.1 3.5 28.9 3.5 47.4 3.5 51.9 3.5 21.6 3.5-37.5 3.5-44.9 3.5-35 3.5-21.3 3.5 2.4 3.5 10.4 3.5 3.6 3.5-1.5 3.5-.9 3.5 6.3 3.5 6 3.5 3.2 3.5-6.5 3.5-24.3 3.5-23.4 3.5-15.2 3.5-7.1 3.5-3.9 3.5-3 3.5-3.6 3.5-2.1 3.5 .4 3.5-3.3 3.5-10.6 3.5-13.4 3.5-14.2 3.5-14.7 3.5-14.5 3.5-14.7 3.5-14.5 3.5-13.7 3.5-13.4 3.5-9.7 3.5-4.1 3.5-1.7 3.5-2.3 3.5-4.3 3.5-4.9 3.5-4.6 3.5-4.2 3.5 2.8 3.5 14.4 3.5 12.7 3.5 8 3.5-4.5 3.5-11.2 3.5-10.3 3.5-10.2 3.5-7.6 3.5-2.7 3.5-.5 3.5 3.7 3.5 8 3.5 11.3 3.5 12.4 3.5 13.9 3.5 12.2 3.5 8.4 3.5 5.4 3.5 2.8 3.5 1.6 3.5 1.3 3.5 1 3.5 .5 3.5-.2 3.5-1 3.5-1.3 3.5-1.3 3.5-.7 3.5-.4 3.5-.1 3.5-.1 3.5-.1 3.5 .9 3.5 1 3.5 1.1 3.5 1.3 3.5 1.6 3.5 2.1 3.5 2.5 3.5 2.7 3.5 2.6 3.5 2.6 3.5 2.7 3.5 2.7 3.5 2.3 3.5 1.6 3.5 .8 3.5 .4 3.5 .3 3.5 .5 3.5 1.7 3.5 4.2 3.5 9.5 3.5 13.8 3.5 15.7 3.5 18.3 3.5 18.3 3.5 15.7 3.5 14.5 3.5 13.5 3.5 13.1 3.5 14.3 3.5 15.4 3.5 13.4 3.5 8 3.5 2.3 3.5-3.2 3.5-6.3 3.5-7.4 3.5-6.9 3.5-4.6 3.5-3 3.5-1.9 3.5-.7 3.5 1.2 3.5 2.2 3.5 1.9 3.5 1.2 3.5 1.2 3.5 1 3.5 .4 3.5-.6 3.5-1.8 3.5-2.7 3.5-3.5 3.5-5.6 3.5-5.4 3.5-4.6 3.5-1.5 3.5 .9 3.5 1.3 3.5-.2 3.5-1.9 3.5-1.3 3.5 1.1 3.5 3.3 3.5 3.3 3.5 1.9 3.5 .3 3.5-.8 3.5-1.2 3.5-1.6 3.5-2 3.5-1.9 3.5-1.5 3.5-.3 3.5 .8 3.5 1.6 3.5 2.1 3.5 2.1 3.5 2.9 3.5 3 3.5 2.1 3.5 .5 3.5-1.2 3.5-1.8 3.5-1.7 3.5-.7 3.5 .8 3.5 1.6 3.5 1.8 3.5 1.3 3.5 .4 3.5-.3 3.5-.7 3.5-.6 3.5-.4 3.5 .2 3.5 1.4 3.5 2.2 3.5 2.7 3.5 2.4 3.5 1.3 3.5 .5 3.5 .1 3.5 .2 3.5 .8 3.5 2.4 3.5 3.6 3.5 2.9 3.5 .2 3.5-2.4 3.5-2.3 3.5-.1 3.5 1.9 3.5 2.8 3.5 3.1 3.5 2.6 3.5 2.2 3.5 1.9 3.5 1.8 3.5 1.5 3.5 1.2 3.5 .9 3.5 .9 3.5 .6 3.5 .6 3.5 .5 3.5 .3 3.5 .3 3.5 .2 3.5 0 3.5-.1 3.5-.5 3.5-1.6 3.5-3.3 3.5-2.8 3.5-2.4 3.5-.9 3.5 1.4 3.5 2.9 3.5 4.5 3.5 5.5 3.5 5.8 3.5 5.4 3.5 4.5 3.5 3.1 3.5 .4 3.5-2.3"/><path id="o30" d="M88.9 670.3l3.5-.3 3.5-.2 3.5-.2 3.5-.2 3.5-.1 3.5-.2 3.5-.1 3.5-.2 3.5-.1 3.5-.2 3.5-.2 3.5-.3 3.5-.3 3.5-.4 3.5-.4 3.5-.4 3.5-.3 3.5-.4 3.5-.4 3.5-.3 3.5-.5 3.5-.4 3.5-.5 3.5-.5 3.5-.5 3.5-.6 3.5-.7 3.5-.8 3.5-.8 3.5-.9 3.5-.9 3.5-.9 3.5-1 3.5-1.1 3.5-1.1 3.5-1.1 3.5-1 3.5-1.1 3.5-1 3.5-1 3.5-1.1 3.5-1.1 3.5-1.3 3.5-1.6 3.5-1.7 3.5-1.2 3.5-.3 3.5 .5 3.5 1.1 3.5 2 3.5 .7 3.5-1.5 3.5-1.7 3.5-1.1 3.5-1 3.5-.6 3.5-.2 3.5-.9 3.5-2.5 3.5-3.5 3.5-3.5 3.5-3.5 3.5-3.6 3.5-3.5 3.5-3.5 3.5-3.5 3.5-3.5 3.5-3.5 3.5-3.5 3.5-3.5 3.5-3.5 3.5-3.6 3.5-3.6 3.5-3.2 3.5-3 3.5-3 3.5-2.7 3.5-2.6 3.5-1.9 3.5-1.2 3.5-1.3 3.5-1.9 3.5-2.5 3.5-2.6 3.5-2.4 3.5-2.2 3.5-2 3.5-2 3.5-2 3.5-2 3.5-1.9 3.5-1.9 3.5-1.9 3.5-1.8 3.5-1.6 3.5-.2 3.5 .7 3.5 1.1 3.5 3 3.5 3.4 3.5-1.6 3.5-4.6 3.5-5.6 3.5-5 3.5 .4 3.5 4.8 3.5 3.5 3.5-5.8 3.5-9 3.5-8.2 3.5-7.2 3.5-4.8 3.5-2.4 3.5 1.1 3.5 3.7 3.5 5.8 3.5 5.3 3.5-4.3 3.5-15.6 3.5-12.2 3.5-8 3.5-7.1 3.5-6 3.5-5.7 3.5-7.3 3.5-10.3 3.5-11.7 3.5-10.5 3.5-7.8 3.5-6.1 3.5-5.1 3.5-4.5 3.5-4.3 3.5-4 3.5-3.5 3.5-3.1 3.5-2.9 3.5-2.9 3.5-3 3.5-2.9 3.5-2.5 3.5-1.8 3.5-.9 3.5 .3 3.5 1.5 3.5 2.7 3.5 2.8 3.5 2.1 3.5 1.2 3.5-.5 3.5-2.1 3.5 .2 3.5 4.7 3.5 6.2 3.5 4.1 3.5 1.1 3.5 .3 3.5 2 3.5 4.1 3.5 5 3.5 5.3 3.5 .5 3.5-2.4 3.5-3.9 3.5-7 3.5-5.7 3.5-1.7 3.5 1.5 3.5 2.1 3.5 2.2 3.5 1.9 3.5-2.1 3.5-5.5 3.5-3.7 3.5 2 3.5 2 3.5-1.4 3.5-2.6 3.5 1.8 3.5 7.6 3.5 4.6 3.5-1.4 3.5 1.7 3.5 7.6 3.5 8 3.5 7.5 3.5 5.3 3.5 3 3.5-3.2 3.5-15.5 3.5-13.6 3.5-8 3.5-.9 3.5 2.1 3.5 4.5 3.5 6.6 3.5 7.9 3.5 8.2 3.5 3.8 3.5 2.6 3.5 6 3.5 .9 3.5-11 3.5-8.7 3.5-2.5 3.5 2.6 3.5 .8 3.5-.7 3.5-1.2 3.5-2 3.5-2.8 3.5-3.4 3.5 1.8 3.5 3.9 3.5 2.4 3.5 1.6 3.5 .4 3.5-2.9 3.5-6.8 3.5-9.8 3.5-9.7 3.5-5.4 3.5-3.8 3.5-3.4 3.5-3 3.5-2.8 3.5-2.6 3.5-2.1 3.5-4.5 3.5-7 3.5-8 3.5-8.1 3.5-8.4 3.5-8.4 3.5-7.2 3.5-5 3.5-3.6 3.5-3.6 3.5-3.9 3.5-3.9 3.5-4.2 3.5-4.9 3.5-4.8 3.5-2.3 3.5-.8 3.5-.7 3.5 3.8 3.5 6.7 3.5 11.3 3.5 11.3 3.5 7.6 3.5 6.5 3.5 5.3 3.5 6.3 3.5 15.5 3.5 16.2 3.5 14.5 3.5 10.1 3.5 5 3.5-3 3.5-8.9 3.5-10.2 3.5-10.9 3.5-9.9 3.5-8.7 3.5-8.7 3.5 5.4 3.5 30.6 3.5 50.1 3.5 55 3.5 22.8 3.5-39.7 3.5-47.7 3.5-37.1 3.5-22.5 3.5 2.5 3.5 10.9 3.5 3.8 3.5-1.6 3.5-.9 3.5 6.6 3.5 6.3 3.5 3.4 3.5-6.9 3.5-25.9 3.5-24.8 3.5-16.2 3.5-7.6 3.5-4.1 3.5-3.3 3.5-3.8 3.5-2.3 3.5 .4 3.5-3.6 3.5-11.3 3.5-14.3 3.5-15.1 3.5-15.6 3.5-15.6 3.5-15.6 3.5-15.4 3.5-14.6 3.5-14.4 3.5-10.3 3.5-4.4 3.5-1.9 3.5-2.5 3.5-4.6 3.5-5.3 3.5-5 3.5-4.5 3.5 2.9 3.5 15.3 3.5 13.4 3.5 8.4 3.5-4.8 3.5-12.1 3.5-11 3.5-11 3.5-8.2 3.5-3 3.5-.7 3.5 3.9 3.5 8.5 3.5 11.9 3.5 13.1 3.5 14.7 3.5 12.9 3.5 8.9 3.5 5.7 3.5 2.9 3.5 1.6 3.5 1.3 3.5 1 3.5 .5 3.5-.3 3.5-1.2 3.5-1.5 3.5-1.5 3.5-.8 3.5-.5 3.5-.3 3.5-.1 3.5-.2 3.5 .8 3.5 1 3.5 1.1 3.5 1.3 3.5 1.7 3.5 2.1 3.5 2.6 3.5 2.7 3.5 2.8 3.5 2.6 3.5 2.9 3.5 2.8 3.5 2.4 3.5 1.6 3.5 .8 3.5 .4 3.5 .1 3.5 .5 3.5 1.7 3.5 4.4 3.5 10.1 3.5 14.8 3.5 16.8 3.5 19.6 3.5 19.6 3.5 16.8 3.5 15.5 3.5 14.5 3.5 14 3.5 15.4 3.5 16.5 3.5 14.3 3.5 8.6 3.5 2.5 3.5-3.6 3.5-6.8 3.5-8 3.5-7.5 3.5-5 3.5-3.3 3.5-2.1 3.5-.8 3.5 1.2 3.5 2.4 3.5 1.9 3.5 1.3 3.5 1.3 3.5 .9 3.5 .5 3.5-.7 3.5-2 3.5-3 3.5-3.9 3.5-6.1 3.5-5.9 3.5-5 3.5-1.7 3.5 .9 3.5 1.4 3.5-.3 3.5-2.2 3.5-1.4 3.5 1.1 3.5 3.4 3.5 3.6 3.5 2 3.5 .1 3.5-.9 3.5-1.4 3.5-1.7 3.5-2.3 3.5-2.2 3.5-1.7 3.5-.5 3.5 .8 3.5 1.7 3.5 2.2 3.5 2.3 3.5 3 3.5 3.2 3.5 2.2 3.5 .4 3.5-1.4 3.5-2 3.5-1.9 3.5-.8 3.5 .7 3.5 1.7 3.5 1.9 3.5 1.3 3.5 .4 3.5-.5 3.5-.8 3.5-.7 3.5-.5 3.5 .1 3.5 1.4 3.5 2.4 3.5 2.8 3.5 2.5 3.5 1.4 3.5 .5 3.5 0 3.5 .1 3.5 .9 3.5 2.6 3.5 3.8 3.5 3 3.5 .2 3.5-2.7 3.5-2.6 3.5-.2 3.5 2.1 3.5 3 3.5 3.2 3.5 2.9 3.5 2.3 3.5 2 3.5 1.9 3.5 1.5 3.5 1.3 3.5 1 3.5 .8 3.5 .7 3.5 .5 3.5 .5 3.5 .3 3.5 .2 3.5 .2 3.5 0 3.5-.2 3.5-.6 3.5-1.9 3.5-3.8 3.5-3.1 3.5-2.7 3.5-1.1 3.5 1.5 3.5 3.1 3.5 4.9 3.5 6.1 3.5 6.3 3.5 5.8 3.5 4.9 3.5 3.5 3.5 .3 3.5-2.6"/><path id="o31" d="M88.9 670.3l3.5-.2 3.5-.3 3.5-.2 3.5-.1 3.5-.2 3.5-.1 3.5-.2 3.5-.1 3.5-.2 3.5-.2 3.5-.2 3.5-.2 3.5-.4 3.5-.3 3.5-.4 3.5-.4 3.5-.3 3.5-.4 3.5-.4 3.5-.3 3.5-.5 3.5-.4 3.5-.5 3.5-.5 3.5-.5 3.5-.6 3.5-.7 3.5-.7 3.5-.8 3.5-.9 3.5-.9 3.5-.9 3.5-1 3.5-1 3.5-1.1 3.5-1.1 3.5-1 3.5-1.1 3.5-1 3.5-1 3.5-1 3.5-1.1 3.5-1.3 3.5-1.6 3.5-1.6 3.5-1.2 3.5-.3 3.5 .5 3.5 1 3.5 2 3.5 .7 3.5-1.5 3.5-1.6 3.5-1.2 3.5-.9 3.5-.6 3.5-.2 3.5-.9 3.5-2.5 3.5-3.4 3.5-3.5 3.5-3.5 3.5-3.5 3.5-3.5 3.5-3.5 3.5-3.5 3.5-3.5 3.5-3.5 3.5-3.5 3.5-3.5 3.5-3.5 3.5-3.6 3.5-3.6 3.5-3.2 3.5-3.1 3.5-3 3.5-2.8 3.5-2.5 3.5-2 3.5-1.3 3.5-1.3 3.5-1.9 3.5-2.5 3.5-2.6 3.5-2.4 3.5-2.2 3.5-2.1 3.5-2 3.5-2 3.5-2 3.5-1.9 3.5-1.9 3.5-1.9 3.5-1.9 3.5-1.6 3.5-.2 3.5 .7 3.5 1.1 3.5 2.9 3.5 3.4 3.5-1.6 3.5-4.6 3.5-5.6 3.5-5 3.5 .3 3.5 4.8 3.5 3.5 3.5-5.8 3.5-9 3.5-8.2 3.5-7.2 3.5-4.8 3.5-2.4 3.5 1.1 3.5 3.7 3.5 5.8 3.5 5.3 3.5-4.3 3.5-15.6 3.5-12.2 3.5-8 3.5-7.1 3.5-6 3.5-5.7 3.5-7.3 3.5-10.3 3.5-11.7 3.5-10.5 3.5-7.8 3.5-6.1 3.5-5.1 3.5-4.5 3.5-4.3 3.5-4 3.5-3.5 3.5-3.1 3.5-2.9 3.5-2.9 3.5-3 3.5-2.9 3.5-2.5 3.5-1.8 3.5-.9 3.5 .3 3.5 1.5 3.5 2.6 3.5 2.7 3.5 2 3.5 1.1 3.5-.6 3.5-2.2 3.5 .1 3.5 4.7 3.5 6.1 3.5 4 3.5 1 3.5 .2 3.5 2 3.5 3.9 3.5 5 3.5 5.2 3.5 .4 3.5-2.5 3.5-4 3.5-7.1 3.5-5.9 3.5-1.7 3.5 1.4 3.5 2 3.5 2.2 3.5 1.8 3.5-2.2 3.5-5.6 3.5-3.9 3.5 1.9 3.5 1.9 3.5-1.5 3.5-2.7 3.5 1.8 3.5 7.5 3.5 4.6 3.5-1.5 3.5 1.6 3.5 7.6 3.5 8.1 3.5 7.4 3.5 5.4 3.5 2.9 3.5-3.3 3.5-15.8 3.5-13.8 3.5-8.1 3.5-.9 3.5 2.1 3.5 4.5 3.5 6.8 3.5 7.9 3.5 8.3 3.5 3.9 3.5 2.7 3.5 5.9 3.5 1 3.5-11.1 3.5-9 3.5-2.5 3.5 2.7 3.5 .8 3.5-.7 3.5-1.3 3.5-2.1 3.5-2.8 3.5-3.4 3.5 1.7 3.5 4.1 3.5 2.3 3.5 1.7 3.5 .3 3.5-2.9 3.5-6.9 3.5-9.9 3.5-9.9 3.5-5.6 3.5-3.8 3.5-3.4 3.5-3.1 3.5-2.9 3.5-2.6 3.5-2.2 3.5-4.5 3.5-7.2 3.5-8.1 3.5-8.3 3.5-8.4 3.5-8.7 3.5-7.3 3.5-5 3.5-3.7 3.5-3.6 3.5-4 3.5-4 3.5-4.2 3.5-5.1 3.5-4.9 3.5-2.3 3.5-.8 3.5-.7 3.5 3.8 3.5 6.9 3.5 11.5 3.5 11.4 3.5 7.8 3.5 6.6 3.5 5.4 3.5 6.4 3.5 15.7 3.5 16.5 3.5 14.7 3.5 10.2 3.5 5.1 3.5-3 3.5-9 3.5-10.4 3.5-11 3.5-10.1 3.5-8.8 3.5-8.8 3.5 5.4 3.5 31.1 3.5 51 3.5 55.8 3.5 23.2 3.5-40.4 3.5-48.3 3.5-37.7 3.5-22.9 3.5 2.6 3.5 11.1 3.5 3.8 3.5-1.6 3.5-.9 3.5 6.7 3.5 6.4 3.5 3.5 3.5-7 3.5-26.2 3.5-25.2 3.5-16.4 3.5-7.7 3.5-4.2 3.5-3.3 3.5-3.8 3.5-2.3 3.5 .4 3.5-3.6 3.5-11.5 3.5-14.4 3.5-15.4 3.5-15.8 3.5-15.7 3.5-15.9 3.5-15.6 3.5-14.8 3.5-14.5 3.5-10.4 3.5-4.5 3.5-1.8 3.5-2.6 3.5-4.7 3.5-5.3 3.5-5 3.5-4.6 3.5 3 3.5 15.4 3.5 13.6 3.5 8.5 3.5-4.9 3.5-12.2 3.5-11.2 3.5-11.1 3.5-8.4 3.5-3.1 3.5-.6 3.5 3.9 3.5 8.5 3.5 12.1 3.5 13.2 3.5 14.9 3.5 13.1 3.5 9 3.5 5.7 3.5 2.9 3.5 1.6 3.5 1.3 3.5 .9 3.5 .5 3.5-.4 3.5-1.2 3.5-1.6 3.5-1.5 3.5-1 3.5-.5 3.5-.3 3.5-.3 3.5-.3 3.5 .9 3.5 .9 3.5 1 3.5 1.3 3.5 1.6 3.5 2.2 3.5 2.5 3.5 2.7 3.5 2.7 3.5 2.7 3.5 2.8 3.5 2.8 3.5 2.3 3.5 1.6 3.5 .8 3.5 .3 3.5 .1 3.5 .4 3.5 1.7 3.5 4.4 3.5 10.3 3.5 14.9 3.5 17.1 3.5 19.9 3.5 20 3.5 17.1 3.5 15.7 3.5 14.7 3.5 14.3 3.5 15.6 3.5 16.8 3.5 14.6 3.5 8.7 3.5 2.5 3.5-3.6 3.5-7 3.5-8.3 3.5-7.6 3.5-5.2 3.5-3.4 3.5-2.2 3.5-.8 3.5 1.2 3.5 2.4 3.5 2 3.5 1.3 3.5 1.2 3.5 .9 3.5 .5 3.5-.8 3.5-2 3.5-3.1 3.5-4 3.5-6.3 3.5-6 3.5-5.2 3.5-1.7 3.5 .9 3.5 1.4 3.5-.4 3.5-2.3 3.5-1.5 3.5 1.1 3.5 3.5 3.5 3.6 3.5 2 3.5 .2 3.5-1 3.5-1.5 3.5-1.8 3.5-2.3 3.5-2.3 3.5-1.8 3.5-.5 3.5 .8 3.5 1.7 3.5 2.2 3.5 2.3 3.5 3.1 3.5 3.3 3.5 2.2 3.5 .4 3.5-1.5 3.5-2.1 3.5-1.9 3.5-.9 3.5 .7 3.5 1.7 3.5 1.9 3.5 1.3 3.5 .4 3.5-.5 3.5-.8 3.5-.8 3.5-.6 3.5 .2 3.5 1.4 3.5 2.4 3.5 2.9 3.5 2.5 3.5 1.4 3.5 .5 3.5 0 3.5 .1 3.5 .8 3.5 2.7 3.5 3.9 3.5 3.1 3.5 .2 3.5-2.9 3.5-2.7 3.5-.1 3.5 2 3.5 3.1 3.5 3.3 3.5 2.9 3.5 2.4 3.5 2.1 3.5 1.9 3.5 1.5 3.5 1.3 3.5 1 3.5 .8 3.5 .7 3.5 .6 3.5 .4 3.5 .3 3.5 .2 3.5 .1 3.5 0 3.5-.2 3.5-.7 3.5-1.9 3.5-3.9 3.5-3.2 3.5-2.9 3.5-1.1 3.5 1.6 3.5 3.1 3.5 5.1 3.5 6.2 3.5 6.4 3.5 6 3.5 5.1 3.5 3.5 3.5 .3 3.5-2.7"/><path id="o32" d="M88.9 670.2l3.5-.3 3.5-.2 3.5-.2 3.5-.2 3.5-.1 3.5-.2 3.5-.2 3.5-.1 3.5-.2 3.5-.2 3.5-.2 3.5-.3 3.5-.3 3.5-.4 3.5-.4 3.5-.4 3.5-.4 3.5-.4 3.5-.4 3.5-.4 3.5-.4 3.5-.5 3.5-.5 3.5-.5 3.5-.6 3.5-.7 3.5-.7 3.5-.8 3.5-.8 3.5-.9 3.5-1 3.5-1 3.5-1 3.5-1.2 3.5-1.1 3.5-1.2 3.5-1.1 3.5-1.1 3.5-1.1 3.5-1.1 3.5-1.1 3.5-1.2 3.5-1.3 3.5-1.7 3.5-1.7 3.5-1.3 3.5-.4 3.5 .5 3.5 1.2 3.5 2.1 3.5 .8 3.5-1.6 3.5-1.8 3.5-1.2 3.5-1 3.5-.7 3.5-.1 3.5-1 3.5-2.6 3.5-3.6 3.5-3.6 3.5-3.6 3.5-3.6 3.5-3.6 3.5-3.6 3.5-3.5 3.5-3.6 3.5-3.5 3.5-3.5 3.5-3.5 3.5-3.4 3.5-3.6 3.5-3.6 3.5-3.1 3.5-2.9 3.5-2.9 3.5-2.7 3.5-2.4 3.5-1.7 3.5-1.2 3.5-1 3.5-1.9 3.5-2.4 3.5-2.6 3.5-2.4 3.5-2.1 3.5-2 3.5-2 3.5-2 3.5-1.9 3.5-1.9 3.5-1.8 3.5-1.8 3.5-1.8 3.5-1.5 3.5-.1 3.5 .7 3.5 1.3 3.5 3 3.5 3.5 3.5-1.5 3.5-4.6 3.5-5.5 3.5-4.9 3.5 .4 3.5 4.9 3.5 3.5 3.5-5.8 3.5-9 3.5-8.2 3.5-7.2 3.5-4.8 3.5-2.4 3.5 1.1 3.5 3.7 3.5 5.8 3.5 5.3 3.5-4.3 3.5-15.6 3.5-12.2 3.5-8 3.5-7.1 3.5-6 3.5-5.7 3.5-7.3 3.5-10.3 3.5-11.7 3.5-10.5 3.5-7.8 3.5-6.1 3.5-5.1 3.5-4.5 3.5-4.3 3.5-4 3.5-3.5 3.5-3.1 3.5-2.9 3.5-2.9 3.5-3 3.5-2.9 3.5-2.5 3.5-1.8 3.5-.9 3.5 .3 3.5 1.5 3.5 4.2 3.5 4.3 3.5 3.5 3.5 2.8 3.5 1 3.5-.6 3.5 1.7 3.5 6 3.5 7.5 3.5 5.3 3.5 2.5 3.5 1.6 3.5 3.3 3.5 5.2 3.5 6 3.5 6.2 3.5 1.8 3.5-.8 3.5-2.2 3.5-4.9 3.5-3.8 3.5-.1 3.5 2.8 3.5 3.3 3.5 3.3 3.5 3.1 3.5-.5 3.5-3.3 3.5-1.8 3.5 3.1 3.5 3.1 3.5 .2 3.5-.7 3.5 2.9 3.5 7.7 3.5 5.1 3.5 .2 3.5 2.8 3.5 7.5 3.5 7.8 3.5 7.2 3.5 5.4 3.5 3.6 3.5-1.3 3.5-11.2 3.5-10.4 3.5-6 3.5-.5 3.5 1.8 3.5 3.6 3.5 5.4 3.5 6.2 3.5 6.5 3.5 3.2 3.5 2.2 3.5 4.7 3.5 .9 3.5-8.3 3.5-6.6 3.5-1.7 3.5 2.2 3.5 .7 3.5-.3 3.5-.8 3.5-1.4 3.5-1.9 3.5-2.4 3.5 1.5 3.5 3.2 3.5 1.9 3.5 1.4 3.5 .5 3.5-2 3.5-5 3.5-7.3 3.5-7.1 3.5-4 3.5-2.7 3.5-2.4 3.5-2 3.5-2 3.5-1.7 3.5-1.4 3.5-3.2 3.5-5.1 3.5-5.8 3.5-5.9 3.5-6.1 3.5-6.1 3.5-5.2 3.5-3.5 3.5-2.4 3.5-2.5 3.5-2.7 3.5-2.7 3.5-2.8 3.5-3.5 3.5-3.3 3.5-1.5 3.5-.3 3.5-.3 3.5 3 3.5 5.2 3.5 8.6 3.5 8.5 3.5 5.8 3.5 5 3.5 4.1 3.5 4.9 3.5 11.6 3.5 12.1 3.5 10.9 3.5 7.6 3.5 3.8 3.5-2.1 3.5-6.4 3.5-7.4 3.5-7.8 3.5-7.2 3.5-6.2 3.5-6.2 3.5 4 3.5 22.6 3.5 36.9 3.5 40.4 3.5 16.8 3.5-29 3.5-34.7 3.5-27 3.5-16.4 3.5 2 3.5 8.1 3.5 2.9 3.5-1 3.5-.6 3.5 5 3.5 4.7 3.5 2.6 3.5-4.9 3.5-18.6 3.5-17.9 3.5-11.6 3.5-5.4 3.5-2.8 3.5-2.2 3.5-2.6 3.5-1.5 3.5 .5 3.5-2.4 3.5-8 3.5-10.2 3.5-10.7 3.5-11.1 3.5-10.9 3.5-11.1 3.5-10.9 3.5-10.3 3.5-10 3.5-7.2 3.5-2.9 3.5-1.1 3.5-1.6 3.5-3 3.5-3.5 3.5-3.3 3.5-3 3.5 2.4 3.5 11.1 3.5 10 3.5 6.4 3.5-3 3.5-8.2 3.5-7.4 3.5-7.3 3.5-5.4 3.5-1.7 3.5 0 3.5 3.2 3.5 6.4 3.5 8.9 3.5 9.7 3.5 10.8 3.5 9.4 3.5 6.7 3.5 4.4 3.5 2.4 3.5 1.6 3.5 1.3 3.5 1.1 3.5 .8 3.5 .2 3.5-.4 3.5-.6 3.5-.6 3.5-.2 3.5 .1 3.5 .3 3.5 .3 3.5 .3 3.5 1 3.5 1.1 3.5 1.2 3.5 1.4 3.5 1.5 3.5 2 3.5 2.2 3.5 2.3 3.5 2.2 3.5 2.3 3.5 2.4 3.5 2.3 3.5 2 3.5 1.5 3.5 1 3.5 .7 3.5 .5 3.5 .7 3.5 1.6 3.5 3.4 3.5 7.2 3.5 10.2 3.5 11.6 3.5 13.5 3.5 13.4 3.5 11.5 3.5 10.6 3.5 9.9 3.5 9.6 3.5 10.4 3.5 11.2 3.5 9.7 3.5 5.8 3.5 1.9 3.5-2.1 3.5-4.2 3.5-5.1 3.5-4.6 3.5-3.1 3.5-1.9 3.5-1 3.5-.3 3.5 1 3.5 1.8 3.5 1.5 3.5 1.1 3.5 1.1 3.5 .8 3.5 .6 3.5-.2 3.5-1.1 3.5-1.6 3.5-2.3 3.5-3.7 3.5-3.5 3.5-2.9 3.5-.8 3.5 .8 3.5 1.3 3.5 .1 3.5-1 3.5-.5 3.5 1.1 3.5 2.5 3.5 2.6 3.5 1.7 3.5 .4 3.5-.2 3.5-.5 3.5-.7 3.5-1 3.5-1 3.5-.7 3.5 .1 3.5 .9 3.5 1.4 3.5 1.7 3.5 1.8 3.5 2.2 3.5 2.3 3.5 1.7 3.5 .6 3.5-.4 3.5-.9 3.5-.8 3.5-.1 3.5 .8 3.5 1.4 3.5 1.4 3.5 1.2 3.5 .6 3.5 .1 3.5-.1 3.5-.1 3.5 0 3.5 .5 3.5 1.1 3.5 1.8 3.5 2 3.5 1.9 3.5 1.1 3.5 .6 3.5 .4 3.5 .4 3.5 .8 3.5 1.9 3.5 2.5 3.5 2.2 3.5 .4 3.5-1.3 3.5-1.1 3.5 .2 3.5 1.6 3.5 2 3.5 2.2 3.5 1.9 3.5 1.7 3.5 1.5 3.5 1.3 3.5 1.2 3.5 1 3.5 .9 3.5 .8 3.5 .7 3.5 .6 3.5 .6 3.5 .4 3.5 .5 3.5 .4 3.5 .3 3.5 .2 3.5 0 3.5-.8 3.5-1.7 3.5-1.4 3.5-1.2 3.5-.2 3.5 1.1 3.5 2 3.5 3 3.5 3.6 3.5 3.7 3.5 3.4 3.5 2.9 3.5 2.1 3.5 .5 3.5-1.1"/><path id="o33" d="M88.9 670.3l3.5-.2 3.5-.2 3.5-.2 3.5-.2 3.5-.1 3.5-.2 3.5-.1 3.5-.2 3.5-.1 3.5-.2 3.5-.2 3.5-.3 3.5-.3 3.5-.3 3.5-.4 3.5-.4 3.5-.3 3.5-.4 3.5-.3 3.5-.4 3.5-.4 3.5-.5 3.5-.4 3.5-.5 3.5-.5 3.5-.6 3.5-.7 3.5-.7 3.5-.8 3.5-.8 3.5-.9 3.5-.9 3.5-1 3.5-1 3.5-1.1 3.5-1 3.5-1.1 3.5-1 3.5-1 3.5-1 3.5-1 3.5-1.1 3.5-1.2 3.5-1.6 3.5-1.6 3.5-1.2 3.5-.3 3.5 .5 3.5 1.1 3.5 1.9 3.5 .7 3.5-1.5 3.5-1.6 3.5-1.1 3.5-.9 3.5-.6 3.5-.2 3.5-.8 3.5-2.5 3.5-3.4 3.5-3.5 3.5-3.4 3.5-3.6 3.5-3.4 3.5-3.5 3.5-3.5 3.5-3.5 3.5-3.5 3.5-3.5 3.5-3.5 3.5-3.5 3.5-3.6 3.5-3.6 3.5-3.2 3.5-3.1 3.5-3 3.5-2.9 3.5-2.6 3.5-1.9 3.5-1.4 3.5-1.4 3.5-1.9 3.5-2.5 3.5-2.6 3.5-2.5 3.5-2.2 3.5-2.1 3.5-2 3.5-2 3.5-2 3.5-2 3.5-1.9 3.5-1.9 3.5-1.9 3.5-1.6 3.5-.2 3.5 .6 3.5 1.1 3.5 2.9 3.5 3.4 3.5-1.7 3.5-4.6 3.5-5.7 3.5-5 3.5 .3 3.5 4.8 3.5 3.5 3.5-5.8 3.5-9 3.5-8.2 3.5-7.2 3.5-4.8 3.5-2.4 3.5 1.1 3.5 3.7 3.5 5.8 3.5 5.3 3.5-4.3 3.5-15.6 3.5-12.2 3.5-8 3.5-7.1 3.5-6 3.5-5.7 3.5-7.3 3.5-10.3 3.5-11.7 3.5-10.5 3.5-7.8 3.5-6.1 3.5-5.1 3.5-4.5 3.5-4.3 3.5-4 3.5-3.5 3.5-3.1 3.5-2.9 3.5-2.9 3.5-3 3.5-2.9 3.5-2.5 3.5-1.8 3.5-.9 3.5 .3 3.5 1.5 3.5 2.4 3.5 2.6 3.5 1.8 3.5 .9 3.5-.7 3.5-2.5 3.5-.1 3.5 4.5 3.5 6.1 3.5 3.8 3.5 .9 3.5 0 3.5 1.8 3.5 3.8 3.5 4.9 3.5 5.1 3.5 .2 3.5-2.6 3.5-4.3 3.5-7.3 3.5-6.1 3.5-2 3.5 1.3 3.5 1.9 3.5 2 3.5 1.7 3.5-2.4 3.5-5.9 3.5-4 3.5 1.7 3.5 1.8 3.5-1.7 3.5-3 3.5 1.7 3.5 7.5 3.5 4.5 3.5-1.7 3.5 1.6 3.5 7.6 3.5 8 3.5 7.5 3.5 5.3 3.5 2.9 3.5-3.5 3.5-16.3 3.5-14.2 3.5-8.4 3.5-.9 3.5 2.1 3.5 4.6 3.5 7 3.5 8.1 3.5 8.5 3.5 4 3.5 2.7 3.5 6.1 3.5 .9 3.5-11.4 3.5-9.2 3.5-2.6 3.5 2.8 3.5 .7 3.5-.7 3.5-1.4 3.5-2.1 3.5-2.9 3.5-3.6 3.5 1.8 3.5 4.1 3.5 2.4 3.5 1.7 3.5 .3 3.5-3 3.5-7.1 3.5-10.3 3.5-10.1 3.5-5.8 3.5-3.9 3.5-3.6 3.5-3.2 3.5-3 3.5-2.7 3.5-2.3 3.5-4.7 3.5-7.4 3.5-8.5 3.5-8.5 3.5-8.8 3.5-8.9 3.5-7.6 3.5-5.2 3.5-3.8 3.5-3.9 3.5-4.2 3.5-4.1 3.5-4.4 3.5-5.3 3.5-5.1 3.5-2.5 3.5-.8 3.5-.8 3.5 3.8 3.5 7 3.5 11.8 3.5 11.7 3.5 8 3.5 6.7 3.5 5.5 3.5 6.6 3.5 16.1 3.5 17 3.5 15.1 3.5 10.5 3.5 5.2 3.5-3.2 3.5-9.4 3.5-10.8 3.5-11.5 3.5-10.5 3.5-9.3 3.5-9.2 3.5 5.5 3.5 32.1 3.5 52.8 3.5 57.8 3.5 24.1 3.5-42 3.5-50.3 3.5-39.3 3.5-23.9 3.5 2.6 3.5 11.4 3.5 3.9 3.5-1.8 3.5-1.1 3.5 6.9 3.5 6.5 3.5 3.6 3.5-7.5 3.5-27.5 3.5-26.3 3.5-17.3 3.5-8.3 3.5-4.4 3.5-3.7 3.5-4.2 3.5-2.5 3.5 .3 3.5-3.9 3.5-12.2 3.5-15.3 3.5-16.3 3.5-16.7 3.5-16.7 3.5-16.8 3.5-16.5 3.5-15.8 3.5-15.4 3.5-11.1 3.5-4.9 3.5-2.1 3.5-2.9 3.5-5.1 3.5-5.7 3.5-5.5 3.5-4.9 3.5 2.9 3.5 16.1 3.5 14.3 3.5 8.7 3.5-5.2 3.5-13 3.5-11.9 3.5-11.8 3.5-9 3.5-3.3 3.5-.8 3.5 4.1 3.5 8.9 3.5 12.7 3.5 14 3.5 15.7 3.5 13.7 3.5 9.5 3.5 6 3.5 3.1 3.5 1.7 3.5 1.4 3.5 1 3.5 .5 3.5-.3 3.5-1.2 3.5-1.7 3.5-1.5 3.5-.9 3.5-.5 3.5-.3 3.5-.1 3.5-.3 3.5 1 3.5 1.1 3.5 1.2 3.5 1.4 3.5 1.8 3.5 2.4 3.5 2.8 3.5 3 3.5 2.9 3.5 3 3.5 3.1 3.5 3 3.5 2.6 3.5 1.8 3.5 .9 3.5 .4 3.5 .3 3.5 .5 3.5 1.9 3.5 4.8 3.5 10.8 3.5 15.8 3.5 18 3.5 21 3.5 21 3.5 18 3.5 16.6 3.5 15.5 3.5 15 3.5 16.4 3.5 17.7 3.5 15.3 3.5 9.1 3.5 2.7 3.5-3.7 3.5-7.3 3.5-8.6 3.5-8 3.5-5.3 3.5-3.5 3.5-2.2 3.5-.8 3.5 1.2 3.5 2.6 3.5 2 3.5 1.4 3.5 1.3 3.5 1.1 3.5 .4 3.5-.7 3.5-2.2 3.5-3.1 3.5-4.2 3.5-6.5 3.5-6.4 3.5-5.3 3.5-1.8 3.5 .9 3.5 1.5 3.5-.4 3.5-2.4 3.5-1.6 3.5 1.1 3.5 3.7 3.5 3.7 3.5 2.1 3.5 .1 3.5-1.1 3.5-1.5 3.5-1.9 3.5-2.5 3.5-2.4 3.5-1.8 3.5-.6 3.5 .8 3.5 1.8 3.5 2.2 3.5 2.4 3.5 3.2 3.5 3.3 3.5 2.3 3.5 .4 3.5-1.5 3.5-2.3 3.5-2 3.5-1 3.5 .7 3.5 1.8 3.5 1.9 3.5 1.4 3.5 .3 3.5-.5 3.5-.9 3.5-.9 3.5-.6 3.5 .1 3.5 1.4 3.5 2.5 3.5 3 3.5 2.6 3.5 1.5 3.5 .4 3.5 0 3.5 0 3.5 .9 3.5 2.7 3.5 4 3.5 3.3 3.5 .1 3.5-3 3.5-2.8 3.5-.3 3.5 2.2 3.5 3.1 3.5 3.5 3.5 3 3.5 2.4 3.5 2.2 3.5 1.9 3.5 1.6 3.5 1.3 3.5 1.1 3.5 .8 3.5 .7 3.5 .5 3.5 .4 3.5 .3 3.5 .2 3.5 .1 3.5-.1 3.5-.2 3.5-.7 3.5-2.1 3.5-4.2 3.5-3.4 3.5-3 3.5-1.2 3.5 1.6 3.5 3.3 3.5 5.2 3.5 6.5 3.5 6.8 3.5 6.3 3.5 5.3 3.5 3.6 3.5 .3 3.5-2.8"/><path id="r0" d="M88.9 670.3l3.5-.3 3.5-.2 3.5-.2 3.5-.2 3.5-.2 3.5-.1 3.5-.2 3.5-.2 3.5-.1 3.5-.2 3.5-.2 3.5-.3 3.5-.4 3.5-.3 3.5-.5 3.5-.4 3.5-.4 3.5-.3 3.5-.4 3.5-.4 3.5-.5 3.5-.5 3.5-.5 3.5-.5 3.5-.5 3.5-.7 3.5-.7 3.5-.9 3.5-.9 3.5-1 3.5-1 3.5-1.1 3.5-1.1 3.5-1.1 3.5-1.2 3.5-1.2 3.5-1.2 3.5-1.2 3.5-1.1 3.5-1.1 3.5-1.2 3.5-1.2 3.5-1.4 3.5-1.7 3.5-1.8 3.5-1.3 3.5-.4 3.5 .5 3.5 1.2 3.5 2.3 3.5 .8 3.5-1.8 3.5-2 3.5-1.3 3.5-1.1 3.5-.7 3.5 0 3.5-.9 3.5-2.6 3.5-3.7 3.5-3.8 3.5-3.7 3.5-3.7 3.5-3.7 3.5-3.6 3.5-3.6 3.5-3.5 3.5-3.6 3.5-3.6 3.5-3.5 3.5-3.6 3.5-3.6 3.5-3.6 3.5-3.2 3.5-3.2 3.5-3 3.5-2.9 3.5-2.6 3.5-2 3.5-1.4 3.5-1.4 3.5-2 3.5-2.4 3.5-2.5 3.5-2.4 3.5-2.2 3.5-2 3.5-2.1 3.5-2 3.5-2 3.5-2 3.5-2 3.5-2.1 3.5-2 3.5-1.8 3.5-.4 3.5 .9 3.5 1.4 3.5 3 3.5 3.4 3.5-1.4 3.5-4.5 3.5-5.8 3.5-5.2 3.5 .5 3.5 5.2 3.5 4 3.5-5.6 3.5-8.9 3.5-8.1 3.5-7.2 3.5-4.7 3.5-2.2 3.5 .9 3.5 3.6 3.5 6 3.5 5.6 3.5-3.2 3.5-14.4 3.5-14.5 3.5-12.2 3.5-9.2 3.5-7.4 3.5-6.9 3.5-7.2 3.5-7.9 3.5-7.9 3.5-7.3 3.5-6.2 3.5-5.5 3.5-4.9 3.5-4.6 3.5-4.3 3.5-3.8 3.5-3.4 3.5-3.1 3.5-2.9 3.5-2.9 3.5-2.9 3.5-2.9 3.5-2.5 3.5-1.6 3.5-.7 3.5 .5 3.5 1.7 3.5 3.3 3.5 3.5 3.5 2.4 3.5 1.3 3.5-.1 3.5-1.5 3.5 .8 3.5 5.5 3.5 6.9 3.5 4.5 3.5 2.2 3.5 1.6 3.5 1.6 3.5 2.7 3.5 3.9 3.5 3.9 3.5 2.8 3.5 1.8 3.5-.9 3.5-5.4 3.5-5.7 3.5-3.2 3.5 1.4 3.5 2.8 3.5 3.5 3.5 .7 3.5-2.8 3.5-2.8 3.5-2.3 3.5 .2 3.5 1.7 3.5 .1 3.5 .2 3.5 2.8 3.5 4.7 3.5 4.3 3.5 3.4 3.5 3.8 3.5 7 3.5 8.3 3.5 7.4 3.5 5.3 3.5 3.2 3.5-2.3 3.5-14.5 3.5-13.4 3.5-7.4 3.5-.6 3.5 1.9 3.5 4.4 3.5 6.4 3.5 6.9 3.5 6.8 3.5 5.1 3.5 4 3.5 3.8 3.5 1.1 3.5-6.8 3.5-7.4 3.5-6 3.5 .9 3.5 2.6 3.5 1.4 3.5-.2 3.5-.7 3.5-.7 3.5-1.1 3.5 .1 3.5 2.8 3.5 2.3 3.5 1.7 3.5 1 3.5-2 3.5-7.4 3.5-7.5 3.5-6.5 3.5-5.3 3.5-3.9 3.5-3.3 3.5-3 3.5-2.2 3.5-.8 3.5-1.8 3.5-4.5 3.5-5.7 3.5-6.2 3.5-6.2 3.5-5.9 3.5-5 3.5-4.4 3.5-3.8 3.5-3.4 3.5-2.8 3.5-2.1 3.5-2 3.5-2.3 3.5-3.2 3.5-3.7 3.5-2.9 3.5-1.4 3.5 .3 3.5 2.3 3.5 5.2 3.5 9 3.5 9.8 3.5 8 3.5 7.7 3.5 7.6 3.5 7.8 3.5 11.1 3.5 14.3 3.5 12.3 3.5 8.1 3.5 3.5 3.5-2 3.5-4.8 3.5-6.3 3.5-8.4 3.5-9.5 3.5-8.1 3.5-6.7 3.5 9.8 3.5 36.1 3.5 35.4 3.5 40.5 3.5 8.7 3.5-38.6 3.5-37.5 3.5-23.7 3.5-14.4 3.5 4.6 3.5 9.8 3.5 .8 3.5 .3 3.5 1.7 3.5 2.4 3.5 4 3.5 3.5 3.5-6.4 3.5-21.8 3.5-16.8 3.5-10.6 3.5-5.7 3.5-2.9 3.5-2.1 3.5-2.1 3.5-2.1 3.5-2.1 3.5-4.6 3.5-8.2 3.5-9.1 3.5-9.1 3.5-9.2 3.5-9.2 3.5-9.4 3.5-9.3 3.5-8.8 3.5-7.6 3.5-6.1 3.5-4.7 3.5-3.9 3.5-3.1 3.5-2.5 3.5-2.1 3.5-1.8 3.5-1 3.5 2 3.5 5.9 3.5 7.1 3.5 5.4 3.5 .1 3.5-5.1 3.5-5.1 3.5-4.9 3.5-3.7 3.5-1.7 3.5-.1 3.5 2 3.5 4 3.5 5.7 3.5 8.1 3.5 8.8 3.5 7.1 3.5 5.8 3.5 4.2 3.5 2.6 3.5 1.6 3.5 1 3.5 .6 3.5 .3 3.5 .1 3.5 0 3.5-.2 3.5-.3 3.5-.3 3.5-.3 3.5-.2 3.5 .5 3.5 .8 3.5 .8 3.5 .9 3.5 .8 3.5 .6 3.5 .6 3.5 .6 3.5 .7 3.5 1 3.5 1.4 3.5 1.7 3.5 1.9 3.5 2 3.5 1.8 3.5 1.4 3.5 1 3.5 .7 3.5 .6 3.5 1.1 3.5 1.6 3.5 2.3 3.5 4.6 3.5 7.9 3.5 8.5 3.5 7.2 3.5 7 3.5 7.2 3.5 7.2 3.5 7 3.5 6.7 3.5 5.7 3.5 4.9 3.5 3.8 3.5 1.5 3.5-.5 3.5-1.5 3.5-1.8 3.5-2.2 3.5-2.6 3.5-2.3 3.5-1.5 3.5-.7 3.5-.1 3.5 .9 3.5 2.1 3.5 2.9 3.5 2.8 3.5 2.5 3.5 2.6 3.5 2.5 3.5 2.2 3.5 1.7 3.5 .9 3.5 .3 3.5 0 3.5-.3 3.5-.4 3.5-.2 3.5 .3 3.5 .4 3.5 .3 3.5-.2 3.5-.5 3.5-.1 3.5 .7 3.5 1.5 3.5 1.8 3.5 1.5 3.5 .8 3.5-.5 3.5-1.4 3.5-1.7 3.5-1.5 3.5-1.2 3.5-1.2 3.5-.7 3.5 .3 3.5 1.5 3.5 2.4 3.5 2.4 3.5 1.9 3.5 1 3.5 .2 3.5-.2 3.5-.2 3.5-.1 3.5 .1 3.5 .3 3.5 .1 3.5 0 3.5-.3 3.5-1 3.5-.9 3.5-.3 3.5 .2 3.5 .5 3.5 .9 3.5 1.1 3.5 1.5 3.5 1.8 3.5 1.8 3.5 1.6 3.5 1.4 3.5 1.2 3.5 1 3.5 .9 3.5 .7 3.5 .4 3.5 .2 3.5 .1 3.5 .2 3.5 .6 3.5 .8 3.5 1.1 3.5 1.3 3.5 1.4 3.5 1.6 3.5 1.8 3.5 1.7 3.5 1.4 3.5 1.4 3.5 1.3 3.5 1.3 3.5 1.3 3.5 1.3 3.5 1.4 3.5 1.4 3.5 1.5 3.5 1.1 3.5 .5 3.5-.3 3.5-1 3.5-1 3.5-1.1 3.5-1.3 3.5-.7 3.5 .2 3.5 1 3.5 1.7 3.5 2.3 3.5 3.2 3.5 4.2 3.5 5.1 3.5 6.6 3.5 5.5 3.5 2.9 3.5 1.1 3.5 .5"/><path id="r1" d="M88.9 670.4l3.5-.2 3.5-.3 3.5-.1 3.5-.2 3.5-.2 3.5-.1 3.5-.1 3.5-.2 3.5-.2 3.5-.1 3.5-.2 3.5-.3 3.5-.3 3.5-.3 3.5-.4 3.5-.4 3.5-.4 3.5-.3 3.5-.4 3.5-.3 3.5-.4 3.5-.5 3.5-.4 3.5-.5 3.5-.5 3.5-.6 3.5-.7 3.5-.8 3.5-.8 3.5-.9 3.5-1 3.5-.9 3.5-1 3.5-1.1 3.5-1.1 3.5-1.1 3.5-1 3.5-1.1 3.5-1 3.5-1.1 3.5-1 3.5-1.1 3.5-1.3 3.5-1.6 3.5-1.6 3.5-1.2 3.5-.3 3.5 .4 3.5 1.1 3.5 2.1 3.5 .7 3.5-1.6 3.5-1.9 3.5-1.1 3.5-1 3.5-.6 3.5-.1 3.5-.8 3.5-2.5 3.5-3.5 3.5-3.6 3.5-3.5 3.5-3.6 3.5-3.6 3.5-3.5 3.5-3.5 3.5-3.5 3.5-3.6 3.5-3.5 3.5-3.6 3.5-3.6 3.5-3.6 3.5-3.7 3.5-3.4 3.5-3.2 3.5-3.2 3.5-3.1 3.5-2.8 3.5-2.3 3.5-1.7 3.5-1.6 3.5-2.1 3.5-2.5 3.5-2.6 3.5-2.4 3.5-2.2 3.5-2.2 3.5-2.1 3.5-2.1 3.5-2.1 3.5-2.1 3.5-2.1 3.5-2.1 3.5-2.2 3.5-1.9 3.5-.5 3.5 .8 3.5 1.2 3.5 2.9 3.5 3.2 3.5-1.5 3.5-4.6 3.5-5.9 3.5-5.4 3.5 .4 3.5 5.1 3.5 4 3.5-5.6 3.5-8.9 3.5-8.1 3.5-7.2 3.5-4.7 3.5-2.3 3.5 .9 3.5 3.7 3.5 5.9 3.5 5.7 3.5-3.2 3.5-14.5 3.5-14.4 3.5-12.2 3.5-9.2 3.5-7.4 3.5-6.9 3.5-7.2 3.5-7.9 3.5-7.9 3.5-7.4 3.5-6.2 3.5-5.4 3.5-5 3.5-4.5 3.5-4.3 3.5-3.9 3.5-3.4 3.5-3 3.5-2.9 3.5-2.9 3.5-2.9 3.5-2.9 3.5-2.5 3.5-1.7 3.5-.6 3.5 .4 3.5 1.8 3.5 3 3.5 3.1 3.5 2.1 3.5 1 3.5-.5 3.5-1.9 3.5 .5 3.5 5.2 3.5 6.6 3.5 4.3 3.5 1.9 3.5 1.3 3.5 1.3 3.5 2.5 3.5 3.6 3.5 3.7 3.5 2.5 3.5 1.5 3.5-1.2 3.5-5.8 3.5-6.1 3.5-3.7 3.5 1.2 3.5 2.5 3.5 3.3 3.5 .4 3.5-3.2 3.5-3.3 3.5-2.6 3.5-.1 3.5 1.4 3.5-.2 3.5-.1 3.5 2.5 3.5 4.6 3.5 4.2 3.5 3.2 3.5 3.7 3.5 7 3.5 8.4 3.5 7.4 3.5 5.3 3.5 3 3.5-2.7 3.5-15.4 3.5-14.1 3.5-7.8 3.5-.8 3.5 2.1 3.5 4.5 3.5 6.7 3.5 7.2 3.5 7.2 3.5 5.3 3.5 4.1 3.5 4.1 3.5 1 3.5-7.1 3.5-7.8 3.5-6.5 3.5 1 3.5 2.7 3.5 1.4 3.5-.3 3.5-.7 3.5-.8 3.5-1.2 3.5 0 3.5 3 3.5 2.4 3.5 1.7 3.5 1 3.5-2.1 3.5-8 3.5-7.9 3.5-6.9 3.5-5.6 3.5-4.2 3.5-3.6 3.5-3.1 3.5-2.4 3.5-1 3.5-1.9 3.5-4.8 3.5-6 3.5-6.6 3.5-6.7 3.5-6.3 3.5-5.4 3.5-4.7 3.5-4.1 3.5-3.6 3.5-3 3.5-2.4 3.5-2.1 3.5-2.5 3.5-3.5 3.5-3.9 3.5-3.2 3.5-1.5 3.5 .2 3.5 2.4 3.5 5.5 3.5 9.5 3.5 10.3 3.5 8.5 3.5 8.1 3.5 8 3.5 8.3 3.5 11.7 3.5 15.1 3.5 13.1 3.5 8.5 3.5 3.7 3.5-2.1 3.5-5.2 3.5-6.7 3.5-9 3.5-10.1 3.5-8.7 3.5-7.1 3.5 10.3 3.5 38.4 3.5 37.6 3.5 43.1 3.5 9.2 3.5-41.1 3.5-40 3.5-25.3 3.5-15.4 3.5 4.9 3.5 10.5 3.5 .7 3.5 .3 3.5 1.8 3.5 2.5 3.5 4.2 3.5 3.6 3.5-6.8 3.5-23.3 3.5-17.9 3.5-11.4 3.5-6.2 3.5-3.1 3.5-2.3 3.5-2.3 3.5-2.3 3.5-2.3 3.5-5 3.5-8.7 3.5-9.8 3.5-9.8 3.5-9.9 3.5-9.9 3.5-10.2 3.5-10 3.5-9.4 3.5-8.1 3.5-6.7 3.5-5.1 3.5-4.2 3.5-3.4 3.5-2.8 3.5-2.3 3.5-2 3.5-1.2 3.5 2.2 3.5 6.2 3.5 7.4 3.5 5.7 3.5 0 3.5-5.6 3.5-5.5 3.5-5.4 3.5-4.1 3.5-1.9 3.5-.2 3.5 2.1 3.5 4.1 3.5 6.1 3.5 8.5 3.5 9.3 3.5 7.5 3.5 6.2 3.5 4.3 3.5 2.7 3.5 1.6 3.5 1 3.5 .6 3.5 .2 3.5 0 3.5-.2 3.5-.3 3.5-.4 3.5-.5 3.5-.4 3.5-.3 3.5 .5 3.5 .7 3.5 .8 3.5 .8 3.5 .7 3.5 .5 3.5 .5 3.5 .6 3.5 .7 3.5 .9 3.5 1.4 3.5 1.7 3.5 2 3.5 1.9 3.5 1.9 3.5 1.4 3.5 .9 3.5 .6 3.5 .6 3.5 1 3.5 1.6 3.5 2.4 3.5 4.8 3.5 8.4 3.5 9.1 3.5 7.7 3.5 7.5 3.5 7.6 3.5 7.7 3.5 7.4 3.5 7.2 3.5 6 3.5 5.2 3.5 4 3.5 1.5 3.5-.7 3.5-1.8 3.5-2 3.5-2.6 3.5-2.9 3.5-2.6 3.5-1.8 3.5-.9 3.5-.2 3.5 .8 3.5 2.1 3.5 3 3.5 2.9 3.5 2.6 3.5 2.7 3.5 2.5 3.5 2.3 3.5 1.7 3.5 .9 3.5 .1 3.5-.1 3.5-.6 3.5-.6 3.5-.3 3.5 .1 3.5 .3 3.5 .1 3.5-.4 3.5-.7 3.5-.4 3.5 .6 3.5 1.5 3.5 1.7 3.5 1.5 3.5 .6 3.5-.7 3.5-1.8 3.5-2.2 3.5-1.8 3.5-1.6 3.5-1.5 3.5-1 3.5 .1 3.5 1.4 3.5 2.4 3.5 2.4 3.5 1.9 3.5 .8 3.5-.1 3.5-.4 3.5-.6 3.5-.3 3.5-.1 3.5-.1 3.5-.1 3.5-.2 3.5-.7 3.5-1.3 3.5-1.3 3.5-.6 3.5-.1 3.5 .2 3.5 .6 3.5 1 3.5 1.4 3.5 1.6 3.5 1.6 3.5 1.5 3.5 1.2 3.5 1 3.5 .8 3.5 .6 3.5 .4 3.5 .1 3.5-.2 3.5-.2 3.5-.1 3.5 .2 3.5 .6 3.5 .8 3.5 1 3.5 1.1 3.5 1.5 3.5 1.6 3.5 1.4 3.5 1.2 3.5 1 3.5 1.1 3.5 1 3.5 1 3.5 1 3.5 1 3.5 1.2 3.5 1.1 3.5 .8 3.5 .1 3.5-.9 3.5-1.5 3.5-1.6 3.5-1.8 3.5-2 3.5-1.3 3.5-.3 3.5 .6 3.5 1.3 3.5 2 3.5 3 3.5 4.1 3.5 5.1 3.5 6.8 3.5 5.5 3.5 2.6 3.5 .6 3.5-.1"/><path id="r2" d="M88.9 670.4l3.5-.3 3.5-.2 3.5-.2 3.5-.1 3.5-.2 3.5-.1 3.5-.2 3.5-.1 3.5-.2 3.5-.2 3.5-.2 3.5-.2 3.5-.3 3.5-.4 3.5-.4 3.5-.3 3.5-.4 3.5-.3 3.5-.4 3.5-.4 3.5-.4 3.5-.4 3.5-.5 3.5-.5 3.5-.5 3.5-.6 3.5-.7 3.5-.7 3.5-.9 3.5-.9 3.5-1 3.5-.9 3.5-1.1 3.5-1 3.5-1.1 3.5-1.1 3.5-1.1 3.5-1.1 3.5-1 3.5-1 3.5-1.1 3.5-1.1 3.5-1.3 3.5-1.6 3.5-1.7 3.5-1.2 3.5-.3 3.5 .5 3.5 1.1 3.5 2.1 3.5 .7 3.5-1.7 3.5-1.8 3.5-1.2 3.5-1 3.5-.6 3.5 0 3.5-.8 3.5-2.6 3.5-3.5 3.5-3.6 3.5-3.6 3.5-3.6 3.5-3.6 3.5-3.5 3.5-3.5 3.5-3.5 3.5-3.5 3.5-3.6 3.5-3.6 3.5-3.5 3.5-3.7 3.5-3.7 3.5-3.3 3.5-3.3 3.5-3.1 3.5-3.1 3.5-2.8 3.5-2.2 3.5-1.7 3.5-1.6 3.5-2.1 3.5-2.5 3.5-2.6 3.5-2.4 3.5-2.2 3.5-2.2 3.5-2.1 3.5-2.1 3.5-2.1 3.5-2 3.5-2.1 3.5-2.2 3.5-2.1 3.5-1.9 3.5-.5 3.5 .8 3.5 1.2 3.5 2.9 3.5 3.3 3.5-1.5 3.5-4.6 3.5-5.9 3.5-5.4 3.5 .4 3.5 5.1 3.5 4 3.5-5.6 3.5-8.9 3.5-8.2 3.5-7.2 3.5-4.6 3.5-2.3 3.5 .9 3.5 3.6 3.5 6 3.5 5.7 3.5-3.2 3.5-14.5 3.5-14.4 3.5-12.2 3.5-9.2 3.5-7.4 3.5-7 3.5-7.1 3.5-7.9 3.5-8 3.5-7.3 3.5-6.2 3.5-5.4 3.5-5 3.5-4.6 3.5-4.2 3.5-3.9 3.5-3.4 3.5-3.1 3.5-2.8 3.5-2.9 3.5-3 3.5-2.8 3.5-2.5 3.5-1.7 3.5-.7 3.5 .5 3.5 1.7 3.5 3.9 3.5 3.9 3.5 2.9 3.5 1.8 3.5 .3 3.5-1 3.5 1.3 3.5 5.9 3.5 7.2 3.5 5 3.5 2.7 3.5 1.9 3.5 2.1 3.5 3.1 3.5 4.2 3.5 4.3 3.5 3.1 3.5 2.2 3.5-.5 3.5-4.7 3.5-5.1 3.5-2.7 3.5 1.9 3.5 3.1 3.5 3.9 3.5 1.1 3.5-2.3 3.5-2.2 3.5-1.7 3.5 .7 3.5 2.1 3.5 .5 3.5 .6 3.5 3.1 3.5 4.9 3.5 4.6 3.5 3.6 3.5 4 3.5 7 3.5 8.1 3.5 7.3 3.5 5.4 3.5 3.3 3.5-1.8 3.5-13 3.5-12.4 3.5-6.8 3.5-.5 3.5 1.9 3.5 4.1 3.5 6 3.5 6.3 3.5 6.4 3.5 4.8 3.5 3.7 3.5 3.6 3.5 1 3.5-6.2 3.5-6.7 3.5-5.6 3.5 1 3.5 2.4 3.5 1.4 3.5-.2 3.5-.5 3.5-.6 3.5-1 3.5 .2 3.5 2.6 3.5 2.2 3.5 1.6 3.5 .9 3.5-1.7 3.5-6.8 3.5-6.8 3.5-5.9 3.5-4.8 3.5-3.6 3.5-2.9 3.5-2.7 3.5-1.9 3.5-.7 3.5-1.6 3.5-4 3.5-5.2 3.5-5.6 3.5-5.7 3.5-5.3 3.5-4.5 3.5-3.9 3.5-3.4 3.5-3.1 3.5-2.4 3.5-1.9 3.5-1.7 3.5-2.1 3.5-2.8 3.5-3.3 3.5-2.6 3.5-1.1 3.5 .3 3.5 2.2 3.5 4.7 3.5 8.3 3.5 9 3.5 7.4 3.5 7.1 3.5 6.9 3.5 7.2 3.5 10.2 3.5 13 3.5 11.3 3.5 7.4 3.5 3.2 3.5-1.7 3.5-4.4 3.5-5.6 3.5-7.6 3.5-8.6 3.5-7.3 3.5-6 3.5 8.9 3.5 32.9 3.5 32.1 3.5 36.9 3.5 7.9 3.5-35 3.5-34 3.5-21.5 3.5-12.9 3.5 4.2 3.5 9 3.5 .7 3.5 .4 3.5 1.5 3.5 2.3 3.5 3.6 3.5 3.2 3.5-5.7 3.5-19.6 3.5-15.2 3.5-9.5 3.5-5.1 3.5-2.6 3.5-1.8 3.5-1.9 3.5-1.8 3.5-1.9 3.5-4 3.5-7.3 3.5-8.2 3.5-8.1 3.5-8.2 3.5-8.3 3.5-8.4 3.5-8.3 3.5-7.8 3.5-6.8 3.5-5.4 3.5-4.2 3.5-3.4 3.5-2.7 3.5-2.2 3.5-1.8 3.5-1.5 3.5-.8 3.5 1.9 3.5 5.4 3.5 6.5 3.5 5 3.5 .2 3.5-4.5 3.5-4.4 3.5-4.3 3.5-3.2 3.5-1.4 3.5 .1 3.5 1.9 3.5 3.8 3.5 5.2 3.5 7.4 3.5 8 3.5 6.4 3.5 5.4 3.5 3.8 3.5 2.5 3.5 1.5 3.5 1.1 3.5 .6 3.5 .4 3.5 .2 3.5 .2 3.5-.1 3.5-.1 3.5-.2 3.5-.1 3.5 0 3.5 .5 3.5 .8 3.5 .9 3.5 .9 3.5 .8 3.5 .7 3.5 .6 3.5 .7 3.5 .8 3.5 1 3.5 1.4 3.5 1.6 3.5 1.9 3.5 1.8 3.5 1.7 3.5 1.4 3.5 1 3.5 .8 3.5 .7 3.5 1 3.5 1.6 3.5 2.2 3.5 4.1 3.5 7.1 3.5 7.7 3.5 6.5 3.5 6.3 3.5 6.5 3.5 6.5 3.5 6.2 3.5 6.1 3.5 5.1 3.5 4.5 3.5 3.4 3.5 1.4 3.5-.3 3.5-1.2 3.5-1.5 3.5-1.8 3.5-2.1 3.5-1.9 3.5-1.2 3.5-.6 3.5 .2 3.5 .8 3.5 2 3.5 2.7 3.5 2.6 3.5 2.3 3.5 2.4 3.5 2.3 3.5 2.1 3.5 1.6 3.5 .9 3.5 .4 3.5 .2 3.5-.2 3.5-.2 3.5 0 3.5 .3 3.5 .6 3.5 .4 3.5 0 3.5-.2 3.5 .1 3.5 .8 3.5 1.5 3.5 1.8 3.5 1.5 3.5 .9 3.5-.2 3.5-1.1 3.5-1.3 3.5-1.1 3.5-.8 3.5-.8 3.5-.4 3.5 .4 3.5 1.6 3.5 2.3 3.5 2.3 3.5 1.9 3.5 1 3.5 .4 3.5 .1 3.5 0 3.5 .2 3.5 .3 3.5 .5 3.5 .4 3.5 .2 3.5 0 3.5-.6 3.5-.5 3.5 0 3.5 .4 3.5 .7 3.5 1 3.5 1.2 3.5 1.6 3.5 1.8 3.5 1.8 3.5 1.7 3.5 1.5 3.5 1.2 3.5 1.2 3.5 1 3.5 .9 3.5 .6 3.5 .5 3.5 .4 3.5 .5 3.5 .8 3.5 1 3.5 1.3 3.5 1.4 3.5 1.5 3.5 1.7 3.5 1.9 3.5 1.7 3.5 1.6 3.5 1.5 3.5 1.4 3.5 1.5 3.5 1.5 3.5 1.4 3.5 1.6 3.5 1.6 3.5 1.6 3.5 1.3 3.5 .8 3.5 .2 3.5-.4 3.5-.5 3.5-.5 3.5-.7 3.5-.1 3.5 .6 3.5 1.3 3.5 1.9 3.5 2.4 3.5 3.1 3.5 4 3.5 4.7 3.5 6 3.5 5.1 3.5 2.9 3.5 1.4 3.5 .9"/><path id="r3" d="M88.9 670.4l3.5-.2 3.5-.2 3.5-.2 3.5-.2 3.5-.1 3.5-.2 3.5-.1 3.5-.2 3.5-.1 3.5-.2 3.5-.2 3.5-.2 3.5-.3 3.5-.4 3.5-.4 3.5-.3 3.5-.4 3.5-.3 3.5-.4 3.5-.3 3.5-.4 3.5-.5 3.5-.4 3.5-.5 3.5-.5 3.5-.6 3.5-.6 3.5-.8 3.5-.8 3.5-.9 3.5-1 3.5-.9 3.5-1 3.5-1.1 3.5-1 3.5-1.1 3.5-1.1 3.5-1 3.5-1 3.5-1 3.5-1.1 3.5-1.1 3.5-1.2 3.5-1.6 3.5-1.6 3.5-1.2 3.5-.3 3.5 .5 3.5 1 3.5 2.1 3.5 .7 3.5-1.6 3.5-1.8 3.5-1.2 3.5-1 3.5-.6 3.5 0 3.5-.8 3.5-2.5 3.5-3.5 3.5-3.5 3.5-3.6 3.5-3.6 3.5-3.5 3.5-3.5 3.5-3.5 3.5-3.5 3.5-3.5 3.5-3.6 3.5-3.6 3.5-3.5 3.5-3.7 3.5-3.7 3.5-3.4 3.5-3.2 3.5-3.3 3.5-3.1 3.5-2.8 3.5-2.3 3.5-1.7 3.5-1.7 3.5-2.2 3.5-2.5 3.5-2.5 3.5-2.5 3.5-2.2 3.5-2.2 3.5-2.1 3.5-2.1 3.5-2.1 3.5-2.1 3.5-2.1 3.5-2.2 3.5-2.2 3.5-1.9 3.5-.5 3.5 .7 3.5 1.2 3.5 2.9 3.5 3.2 3.5-1.5 3.5-4.6 3.5-6 3.5-5.4 3.5 .4 3.5 5.1 3.5 4 3.5-5.6 3.5-9 3.5-8.1 3.5-7.2 3.5-4.6 3.5-2.3 3.5 .9 3.5 3.6 3.5 6 3.5 5.6 3.5-3.2 3.5-14.4 3.5-14.5 3.5-12.1 3.5-9.3 3.5-7.3 3.5-7 3.5-7.2 3.5-7.8 3.5-8 3.5-7.3 3.5-6.2 3.5-5.4 3.5-5 3.5-4.6 3.5-4.2 3.5-3.9 3.5-3.4 3.5-3.1 3.5-2.9 3.5-2.8 3.5-3 3.5-2.9 3.5-2.4 3.5-1.7 3.5-.7 3.5 .5 3.5 1.7 3.5 2.9 3.5 3 3.5 1.9 3.5 .9 3.5-.6 3.5-2 3.5 .3 3.5 5.1 3.5 6.5 3.5 4.2 3.5 1.8 3.5 1.1 3.5 1.3 3.5 2.3 3.5 3.5 3.5 3.6 3.5 2.4 3.5 1.4 3.5-1.3 3.5-6 3.5-6.3 3.5-3.8 3.5 1 3.5 2.5 3.5 3.2 3.5 .3 3.5-3.4 3.5-3.4 3.5-2.8 3.5-.2 3.5 1.3 3.5-.3 3.5-.3 3.5 2.5 3.5 4.4 3.5 4.2 3.5 3.2 3.5 3.6 3.5 7 3.5 8.4 3.5 7.5 3.5 5.3 3.5 2.9 3.5-2.8 3.5-15.8 3.5-14.4 3.5-8.1 3.5-.7 3.5 2.1 3.5 4.6 3.5 6.8 3.5 7.3 3.5 7.3 3.5 5.4 3.5 4.2 3.5 4.1 3.5 1.1 3.5-7.4 3.5-7.9 3.5-6.6 3.5 1 3.5 2.7 3.5 1.4 3.5-.3 3.5-.7 3.5-.9 3.5-1.3 3.5 .1 3.5 3 3.5 2.4 3.5 1.8 3.5 .9 3.5-2.1 3.5-8.1 3.5-8.2 3.5-7 3.5-5.8 3.5-4.3 3.5-3.7 3.5-3.2 3.5-2.5 3.5-1 3.5-2 3.5-4.8 3.5-6.3 3.5-6.7 3.5-6.9 3.5-6.5 3.5-5.5 3.5-4.8 3.5-4.2 3.5-3.7 3.5-3.1 3.5-2.4 3.5-2.2 3.5-2.6 3.5-3.6 3.5-4.1 3.5-3.2 3.5-1.6 3.5 .2 3.5 2.4 3.5 5.6 3.5 9.7 3.5 10.5 3.5 8.7 3.5 8.3 3.5 8.1 3.5 8.5 3.5 11.9 3.5 15.5 3.5 13.4 3.5 8.6 3.5 3.8 3.5-2.2 3.5-5.3 3.5-7 3.5-9.2 3.5-10.3 3.5-8.9 3.5-7.3 3.5 10.5 3.5 39.3 3.5 38.4 3.5 44.2 3.5 9.4 3.5-42.1 3.5-41 3.5-25.9 3.5-15.8 3.5 5 3.5 10.7 3.5 .7 3.5 .3 3.5 1.8 3.5 2.6 3.5 4.2 3.5 3.7 3.5-7 3.5-23.9 3.5-18.4 3.5-11.7 3.5-6.3 3.5-3.3 3.5-2.3 3.5-2.4 3.5-2.4 3.5-2.4 3.5-5.1 3.5-9 3.5-10.1 3.5-10 3.5-10.2 3.5-10.2 3.5-10.5 3.5-10.3 3.5-9.7 3.5-8.3 3.5-6.9 3.5-5.2 3.5-4.4 3.5-3.5 3.5-2.9 3.5-2.5 3.5-2 3.5-1.3 3.5 2.2 3.5 6.3 3.5 7.6 3.5 5.8 3.5-.1 3.5-5.7 3.5-5.8 3.5-5.6 3.5-4.2 3.5-2.1 3.5-.1 3.5 2 3.5 4.2 3.5 6.1 3.5 8.8 3.5 9.5 3.5 7.6 3.5 6.3 3.5 4.4 3.5 2.7 3.5 1.6 3.5 1 3.5 .5 3.5 .1 3.5 0 3.5-.2 3.5-.4 3.5-.5 3.5-.5 3.5-.5 3.5-.3 3.5 .3 3.5 .7 3.5 .8 3.5 .7 3.5 .7 3.5 .5 3.5 .4 3.5 .5 3.5 .7 3.5 .9 3.5 1.3 3.5 1.8 3.5 1.9 3.5 2 3.5 1.8 3.5 1.4 3.5 .9 3.5 .5 3.5 .6 3.5 1 3.5 1.5 3.5 2.4 3.5 4.9 3.5 8.6 3.5 9.3 3.5 7.8 3.5 7.6 3.5 7.8 3.5 7.9 3.5 7.5 3.5 7.3 3.5 6.2 3.5 5.2 3.5 4.1 3.5 1.4 3.5-.7 3.5-2 3.5-2.2 3.5-2.6 3.5-3.1 3.5-2.8 3.5-1.9 3.5-1.1 3.5-.2 3.5 .7 3.5 2.1 3.5 3 3.5 2.9 3.5 2.6 3.5 2.6 3.5 2.6 3.5 2.2 3.5 1.7 3.5 .8 3.5 0 3.5-.2 3.5-.6 3.5-.8 3.5-.4 3.5 0 3.5 .2 3.5 0 3.5-.6 3.5-.8 3.5-.5 3.5 .4 3.5 1.4 3.5 1.7 3.5 1.4 3.5 .5 3.5-.9 3.5-2 3.5-2.3 3.5-2 3.5-1.8 3.5-1.7 3.5-1.2 3.5-.1 3.5 1.4 3.5 2.2 3.5 2.4 3.5 1.8 3.5 .7 3.5-.2 3.5-.7 3.5-.7 3.5-.5 3.5-.3 3.5-.2 3.5-.3 3.5-.4 3.5-.9 3.5-1.5 3.5-1.6 3.5-.8 3.5-.3 3.5 .1 3.5 .4 3.5 .8 3.5 1.3 3.5 1.4 3.5 1.5 3.5 1.4 3.5 1 3.5 .8 3.5 .6 3.5 .4 3.5 .2 3.5-.1 3.5-.4 3.5-.5 3.5-.3 3.5 0 3.5 .3 3.5 .6 3.5 .8 3.5 1 3.5 1.2 3.5 1.4 3.5 1.2 3.5 1 3.5 .8 3.5 .8 3.5 .8 3.5 .7 3.5 .8 3.5 .8 3.5 .9 3.5 .9 3.5 .5 3.5-.3 3.5-1.1 3.5-2 3.5-2 3.5-2.2 3.5-2.4 3.5-1.7 3.5-.6 3.5 .2 3.5 1 3.5 1.7 3.5 2.8 3.5 3.9 3.5 4.9 3.5 6.7 3.5 5.4 3.5 2.2 3.5 .3 3.5-.5"/><path id="r4" d="M88.9 670.2l3.5-.2 3.5-.3 3.5-.2 3.5-.2 3.5-.1 3.5-.2 3.5-.1 3.5-.2 3.5-.2 3.5-.2 3.5-.2 3.5-.3 3.5-.3 3.5-.4 3.5-.5 3.5-.4 3.5-.4 3.5-.3 3.5-.4 3.5-.5 3.5-.4 3.5-.5 3.5-.5 3.5-.5 3.5-.6 3.5-.7 3.5-.7 3.5-.9 3.5-.9 3.5-1 3.5-1.1 3.5-1 3.5-1.2 3.5-1.1 3.5-1.3 3.5-1.2 3.5-1.2 3.5-1.1 3.5-1.2 3.5-1.1 3.5-1.2 3.5-1.2 3.5-1.5 3.5-1.7 3.5-1.8 3.5-1.4 3.5-.3 3.5 .5 3.5 1.2 3.5 2.3 3.5 .8 3.5-1.8 3.5-2.1 3.5-1.3 3.5-1.1 3.5-.6 3.5-.1 3.5-.9 3.5-2.6 3.5-3.8 3.5-3.7 3.5-3.8 3.5-3.8 3.5-3.7 3.5-3.6 3.5-3.6 3.5-3.5 3.5-3.6 3.5-3.6 3.5-3.5 3.5-3.6 3.5-3.6 3.5-3.5 3.5-3.3 3.5-3.1 3.5-3 3.5-2.8 3.5-2.6 3.5-2 3.5-1.4 3.5-1.3 3.5-2 3.5-2.4 3.5-2.5 3.5-2.4 3.5-2.1 3.5-2.1 3.5-2 3.5-2 3.5-2 3.5-2 3.5-2 3.5-2 3.5-2 3.5-1.8 3.5-.3 3.5 .9 3.5 1.4 3.5 3 3.5 3.4 3.5-1.3 3.5-4.5 3.5-5.8 3.5-5.2 3.5 .5 3.5 5.3 3.5 4 3.5-5.6 3.5-9 3.5-8.1 3.5-7.2 3.5-4.6 3.5-2.3 3.5 .9 3.5 3.6 3.5 6 3.5 5.6 3.5-3.2 3.5-14.4 3.5-14.5 3.5-12.2 3.5-9.2 3.5-7.4 3.5-6.9 3.5-7.2 3.5-7.8 3.5-8 3.5-7.3 3.5-6.2 3.5-5.5 3.5-4.9 3.5-4.6 3.5-4.3 3.5-3.8 3.5-3.4 3.5-3.1 3.5-2.9 3.5-2.9 3.5-2.9 3.5-2.9 3.5-2.5 3.5-1.6 3.5-.7 3.5 .5 3.5 1.7 3.5 2.9 3.5 3.1 3.5 2 3.5 .9 3.5-.5 3.5-1.9 3.5 .4 3.5 5.2 3.5 6.5 3.5 4.2 3.5 2 3.5 1.2 3.5 1.2 3.5 2.5 3.5 3.5 3.5 3.7 3.5 2.4 3.5 1.5 3.5-1.3 3.5-5.8 3.5-6.2 3.5-3.8 3.5 1.2 3.5 2.5 3.5 3.2 3.5 .4 3.5-3.4 3.5-3.2 3.5-2.7 3.5-.2 3.5 1.4 3.5-.3 3.5-.2 3.5 2.5 3.5 4.5 3.5 4.3 3.5 3.2 3.5 3.6 3.5 7 3.5 8.4 3.5 7.4 3.5 5.3 3.5 3 3.5-2.7 3.5-15.6 3.5-14.2 3.5-8 3.5-.7 3.5 2 3.5 4.6 3.5 6.8 3.5 7.2 3.5 7.2 3.5 5.3 3.5 4.2 3.5 4.1 3.5 1 3.5-7.2 3.5-7.9 3.5-6.5 3.5 1 3.5 2.7 3.5 1.4 3.5-.3 3.5-.7 3.5-.8 3.5-1.3 3.5 .1 3.5 2.9 3.5 2.4 3.5 1.8 3.5 .9 3.5-2.1 3.5-8 3.5-8 3.5-7 3.5-5.7 3.5-4.2 3.5-3.6 3.5-3.2 3.5-2.4 3.5-1 3.5-2 3.5-4.8 3.5-6.2 3.5-6.6 3.5-6.8 3.5-6.4 3.5-5.4 3.5-4.7 3.5-4.2 3.5-3.7 3.5-3 3.5-2.4 3.5-2.2 3.5-2.5 3.5-3.5 3.5-4.1 3.5-3.1 3.5-1.6 3.5 .2 3.5 2.5 3.5 5.4 3.5 9.6 3.5 10.4 3.5 8.6 3.5 8.2 3.5 8 3.5 8.4 3.5 11.8 3.5 15.2 3.5 13.3 3.5 8.5 3.5 3.7 3.5-2.1 3.5-5.3 3.5-6.8 3.5-9.1 3.5-10.2 3.5-8.8 3.5-7.2 3.5 10.4 3.5 38.8 3.5 37.9 3.5 43.5 3.5 9.3 3.5-41.5 3.5-40.4 3.5-25.6 3.5-15.5 3.5 4.9 3.5 10.5 3.5 .8 3.5 .2 3.5 1.8 3.5 2.5 3.5 4.2 3.5 3.7 3.5-6.9 3.5-23.5 3.5-18.2 3.5-11.5 3.5-6.3 3.5-3.2 3.5-2.3 3.5-2.3 3.5-2.4 3.5-2.4 3.5-5 3.5-8.8 3.5-10 3.5-9.9 3.5-10 3.5-10 3.5-10.3 3.5-10.2 3.5-9.5 3.5-8.3 3.5-6.7 3.5-5.2 3.5-4.3 3.5-3.5 3.5-2.8 3.5-2.4 3.5-2 3.5-1.2 3.5 2.1 3.5 6.3 3.5 7.4 3.5 5.8 3.5-.1 3.5-5.7 3.5-5.6 3.5-5.5 3.5-4.2 3.5-2 3.5-.1 3.5 2 3.5 4.1 3.5 6.1 3.5 8.6 3.5 9.4 3.5 7.5 3.5 6.2 3.5 4.3 3.5 2.7 3.5 1.6 3.5 1 3.5 .5 3.5 .1 3.5 0 3.5-.1 3.5-.4 3.5-.5 3.5-.5 3.5-.5 3.5-.3 3.5 .4 3.5 .6 3.5 .8 3.5 .7 3.5 .7 3.5 .5 3.5 .5 3.5 .5 3.5 .6 3.5 .9 3.5 1.4 3.5 1.7 3.5 1.9 3.5 1.9 3.5 1.8 3.5 1.4 3.5 .9 3.5 .6 3.5 .5 3.5 1 3.5 1.5 3.5 2.4 3.5 4.8 3.5 8.4 3.5 9.2 3.5 7.6 3.5 7.6 3.5 7.7 3.5 7.7 3.5 7.4 3.5 7.2 3.5 6 3.5 5.2 3.5 4 3.5 1.4 3.5-.8 3.5-1.8 3.5-2.2 3.5-2.6 3.5-3 3.5-2.8 3.5-1.9 3.5-1 3.5-.2 3.5 .7 3.5 2 3.5 3 3.5 2.8 3.5 2.6 3.5 2.6 3.5 2.5 3.5 2.2 3.5 1.6 3.5 .8 3.5 0 3.5-.2 3.5-.6 3.5-.7 3.5-.5 3.5 0 3.5 .2 3.5 0 3.5-.5 3.5-.9 3.5-.4 3.5 .4 3.5 1.4 3.5 1.6 3.5 1.4 3.5 .5 3.5-.9 3.5-1.9 3.5-2.3 3.5-2 3.5-1.7 3.5-1.7 3.5-1.1 3.5-.1 3.5 1.3 3.5 2.2 3.5 2.3 3.5 1.8 3.5 .7 3.5-.2 3.5-.7 3.5-.7 3.5-.5 3.5-.3 3.5-.2 3.5-.2 3.5-.5 3.5-.8 3.5-1.5 3.5-1.5 3.5-.8 3.5-.3 3.5 .1 3.5 .4 3.5 .7 3.5 1.2 3.5 1.5 3.5 1.4 3.5 1.4 3.5 1 3.5 .8 3.5 .5 3.5 .4 3.5 .2 3.5-.1 3.5-.4 3.5-.5 3.5-.3 3.5 0 3.5 .3 3.5 .6 3.5 .7 3.5 1 3.5 1.2 3.5 1.3 3.5 1.2 3.5 .9 3.5 .8 3.5 .8 3.5 .7 3.5 .8 3.5 .7 3.5 .8 3.5 .9 3.5 .8 3.5 .4 3.5-.2 3.5-1.1 3.5-1.9 3.5-2 3.5-2.2 3.5-2.3 3.5-1.8 3.5-.6 3.5 .2 3.5 1 3.5 1.7 3.5 2.7 3.5 3.7 3.5 4.8 3.5 6.5 3.5 5.3 3.5 2.2 3.5 .2 3.5-.5"/><path id="r5" d="M88.9 670.4l3.5-.2 3.5-.2 3.5-.2 3.5-.2 3.5-.1 3.5-.1 3.5-.2 3.5-.1 3.5-.2 3.5-.2 3.5-.2 3.5-.2 3.5-.3 3.5-.3 3.5-.4 3.5-.4 3.5-.3 3.5-.4 3.5-.3 3.5-.4 3.5-.4 3.5-.4 3.5-.4 3.5-.5 3.5-.5 3.5-.6 3.5-.6 3.5-.8 3.5-.8 3.5-.9 3.5-.9 3.5-1 3.5-.9 3.5-1.1 3.5-1 3.5-1.1 3.5-1.1 3.5-1 3.5-1 3.5-1 3.5-1 3.5-1.1 3.5-1.2 3.5-1.6 3.5-1.6 3.5-1.1 3.5-.3 3.5 .4 3.5 1.1 3.5 2 3.5 .7 3.5-1.6 3.5-1.8 3.5-1.2 3.5-.9 3.5-.6 3.5 0 3.5-.8 3.5-2.5 3.5-3.5 3.5-3.5 3.5-3.5 3.5-3.6 3.5-3.5 3.5-3.5 3.5-3.5 3.5-3.5 3.5-3.5 3.5-3.5 3.5-3.6 3.5-3.6 3.5-3.7 3.5-3.7 3.5-3.4 3.5-3.3 3.5-3.2 3.5-3.1 3.5-2.9 3.5-2.3 3.5-1.8 3.5-1.7 3.5-2.2 3.5-2.5 3.5-2.6 3.5-2.4 3.5-2.3 3.5-2.1 3.5-2.2 3.5-2.1 3.5-2.1 3.5-2.1 3.5-2.1 3.5-2.2 3.5-2.2 3.5-2 3.5-.5 3.5 .7 3.5 1.2 3.5 2.9 3.5 3.2 3.5-1.6 3.5-4.6 3.5-5.9 3.5-5.5 3.5 .4 3.5 5.1 3.5 3.9 3.5-5.6 3.5-8.9 3.5-8.1 3.5-7.2 3.5-4.6 3.5-2.3 3.5 .9 3.5 3.6 3.5 6 3.5 5.6 3.5-3.2 3.5-14.4 3.5-14.5 3.5-12.2 3.5-9.2 3.5-7.4 3.5-6.9 3.5-7.2 3.5-7.9 3.5-7.9 3.5-7.3 3.5-6.2 3.5-5.5 3.5-4.9 3.5-4.6 3.5-4.3 3.5-3.9 3.5-3.4 3.5-3 3.5-2.9 3.5-2.9 3.5-2.9 3.5-2.9 3.5-2.5 3.5-1.7 3.5-.7 3.5 .5 3.5 1.7 3.5 3 3.5 3.1 3.5 2 3.5 .9 3.5-.5 3.5-1.9 3.5 .4 3.5 5.1 3.5 6.6 3.5 4.2 3.5 1.9 3.5 1.2 3.5 1.3 3.5 2.4 3.5 3.6 3.5 3.6 3.5 2.5 3.5 1.5 3.5-1.3 3.5-5.9 3.5-6.2 3.5-3.7 3.5 1.1 3.5 2.5 3.5 3.3 3.5 .3 3.5-3.3 3.5-3.3 3.5-2.7 3.5-.1 3.5 1.3 3.5-.2 3.5-.2 3.5 2.5 3.5 4.5 3.5 4.2 3.5 3.2 3.5 3.6 3.5 7 3.5 8.4 3.5 7.5 3.5 5.3 3.5 3 3.5-2.8 3.5-15.6 3.5-14.2 3.5-7.9 3.5-.8 3.5 2.1 3.5 4.6 3.5 6.7 3.5 7.2 3.5 7.2 3.5 5.4 3.5 4.2 3.5 4 3.5 1.1 3.5-7.3 3.5-7.9 3.5-6.5 3.5 1 3.5 2.7 3.5 1.4 3.5-.3 3.5-.7 3.5-.8 3.5-1.3 3.5 .1 3.5 2.9 3.5 2.4 3.5 1.8 3.5 .9 3.5-2.1 3.5-8 3.5-8 3.5-7 3.5-5.7 3.5-4.2 3.5-3.6 3.5-3.2 3.5-2.4 3.5-1 3.5-2 3.5-4.8 3.5-6.2 3.5-6.6 3.5-6.8 3.5-6.4 3.5-5.4 3.5-4.7 3.5-4.2 3.5-3.7 3.5-3 3.5-2.4 3.5-2.2 3.5-2.5 3.5-3.6 3.5-4 3.5-3.2 3.5-1.5 3.5 .2 3.5 2.4 3.5 5.5 3.5 9.6 3.5 10.4 3.5 8.5 3.5 8.2 3.5 8.1 3.5 8.3 3.5 11.8 3.5 15.3 3.5 13.2 3.5 8.6 3.5 3.6 3.5-2.1 3.5-5.3 3.5-6.8 3.5-9.1 3.5-10.2 3.5-8.8 3.5-7.2 3.5 10.4 3.5 38.8 3.5 37.9 3.5 43.5 3.5 9.3 3.5-41.5 3.5-40.4 3.5-25.6 3.5-15.5 3.5 4.9 3.5 10.5 3.5 .7 3.5 .3 3.5 1.7 3.5 2.6 3.5 4.2 3.5 3.7 3.5-6.9 3.5-23.6 3.5-18.2 3.5-11.5 3.5-6.2 3.5-3.2 3.5-2.3 3.5-2.4 3.5-2.4 3.5-2.4 3.5-5 3.5-8.9 3.5-9.9 3.5-9.9 3.5-10 3.5-10.1 3.5-10.3 3.5-10.1 3.5-9.6 3.5-8.2 3.5-6.7 3.5-5.2 3.5-4.3 3.5-3.5 3.5-2.9 3.5-2.4 3.5-2 3.5-1.2 3.5 2.1 3.5 6.3 3.5 7.4 3.5 5.7 3.5 0 3.5-5.7 3.5-5.6 3.5-5.6 3.5-4.1 3.5-2 3.5-.2 3.5 2 3.5 4.1 3.5 6.1 3.5 8.6 3.5 9.4 3.5 7.5 3.5 6.2 3.5 4.3 3.5 2.7 3.5 1.6 3.5 1 3.5 .4 3.5 .2 3.5-.1 3.5-.1 3.5-.4 3.5-.5 3.5-.5 3.5-.5 3.5-.4 3.5 .4 3.5 .7 3.5 .7 3.5 .7 3.5 .7 3.5 .5 3.5 .5 3.5 .4 3.5 .7 3.5 .9 3.5 1.3 3.5 1.7 3.5 1.9 3.5 1.9 3.5 1.8 3.5 1.4 3.5 .8 3.5 .6 3.5 .5 3.5 1 3.5 1.5 3.5 2.3 3.5 4.8 3.5 8.5 3.5 9.1 3.5 7.7 3.5 7.4 3.5 7.7 3.5 7.7 3.5 7.4 3.5 7.2 3.5 6 3.5 5.2 3.5 3.9 3.5 1.5 3.5-.8 3.5-1.9 3.5-2.2 3.5-2.6 3.5-3.1 3.5-2.8 3.5-1.9 3.5-1 3.5-.3 3.5 .7 3.5 2 3.5 3 3.5 2.8 3.5 2.6 3.5 2.5 3.5 2.5 3.5 2.2 3.5 1.6 3.5 .7 3.5 0 3.5-.2 3.5-.7 3.5-.7 3.5-.5 3.5 0 3.5 .1 3.5 0 3.5-.5 3.5-.9 3.5-.5 3.5 .4 3.5 1.4 3.5 1.6 3.5 1.3 3.5 .5 3.5-.9 3.5-2 3.5-2.3 3.5-2 3.5-1.8 3.5-1.8 3.5-1.1 3.5-.1 3.5 1.2 3.5 2.2 3.5 2.3 3.5 1.7 3.5 .7 3.5-.3 3.5-.6 3.5-.8 3.5-.6 3.5-.3 3.5-.2 3.5-.3 3.5-.5 3.5-.9 3.5-1.6 3.5-1.5 3.5-.9 3.5-.3 3.5 0 3.5 .4 3.5 .7 3.5 1.2 3.5 1.3 3.5 1.4 3.5 1.3 3.5 1 3.5 .7 3.5 .5 3.5 .3 3.5 .2 3.5-.2 3.5-.4 3.5-.6 3.5-.4 3.5-.1 3.5 .3 3.5 .5 3.5 .7 3.5 .8 3.5 1.2 3.5 1.2 3.5 1.1 3.5 .9 3.5 .7 3.5 .7 3.5 .7 3.5 .6 3.5 .7 3.5 .7 3.5 .8 3.5 .7 3.5 .4 3.5-.3 3.5-1.3 3.5-1.9 3.5-2.1 3.5-2.3 3.5-2.4 3.5-1.8 3.5-.7 3.5 .1 3.5 .8 3.5 1.6 3.5 2.6 3.5 3.6 3.5 4.7 3.5 6.4 3.5 5.2 3.5 2 3.5 .1 3.5-.6"/><path id="r6" d="M88.9 670.4l3.5-.2 3.5-.2 3.5-.2 3.5-.2 3.5-.1 3.5-.2 3.5-.1 3.5-.2 3.5-.1 3.5-.2 3.5-.2 3.5-.3 3.5-.3 3.5-.3 3.5-.4 3.5-.4 3.5-.3 3.5-.3 3.5-.4 3.5-.4 3.5-.4 3.5-.4 3.5-.4 3.5-.5 3.5-.5 3.5-.6 3.5-.7 3.5-.7 3.5-.9 3.5-.9 3.5-.9 3.5-1 3.5-.9 3.5-1.1 3.5-1.1 3.5-1 3.5-1.1 3.5-1 3.5-1.1 3.5-1 3.5-1 3.5-1.1 3.5-1.3 3.5-1.5 3.5-1.6 3.5-1.2 3.5-.4 3.5 .5 3.5 1.1 3.5 2 3.5 .8 3.5-1.7 3.5-1.8 3.5-1.2 3.5-.9 3.5-.6 3.5-.1 3.5-.8 3.5-2.5 3.5-3.4 3.5-3.6 3.5-3.5 3.5-3.6 3.5-3.6 3.5-3.4 3.5-3.6 3.5-3.5 3.5-3.5 3.5-3.5 3.5-3.6 3.5-3.6 3.5-3.7 3.5-3.7 3.5-3.3 3.5-3.3 3.5-3.2 3.5-3.1 3.5-2.9 3.5-2.3 3.5-1.7 3.5-1.7 3.5-2.1 3.5-2.5 3.5-2.6 3.5-2.4 3.5-2.3 3.5-2.1 3.5-2.2 3.5-2.1 3.5-2.1 3.5-2.1 3.5-2.1 3.5-2.2 3.5-2.1 3.5-2 3.5-.5 3.5 .8 3.5 1.2 3.5 2.9 3.5 3.2 3.5-1.6 3.5-4.6 3.5-5.9 3.5-5.4 3.5 .3 3.5 5.2 3.5 3.9 3.5-5.6 3.5-8.9 3.5-8.1 3.5-7.2 3.5-4.6 3.5-2.3 3.5 .9 3.5 3.6 3.5 6 3.5 5.6 3.5-3.2 3.5-14.4 3.5-14.5 3.5-12.2 3.5-9.2 3.5-7.4 3.5-6.9 3.5-7.2 3.5-7.9 3.5-8 3.5-7.3 3.5-6.2 3.5-5.4 3.5-5 3.5-4.5 3.5-4.3 3.5-3.9 3.5-3.4 3.5-3 3.5-2.9 3.5-2.9 3.5-3 3.5-2.8 3.5-2.5 3.5-1.7 3.5-.7 3.5 .5 3.5 1.7 3.5 2.7 3.5 2.8 3.5 1.7 3.5 .7 3.5-.8 3.5-2.2 3.5 .1 3.5 4.9 3.5 6.4 3.5 4 3.5 1.7 3.5 .9 3.5 1 3.5 2.2 3.5 3.4 3.5 3.4 3.5 2.3 3.5 1.2 3.5-1.5 3.5-6.2 3.5-6.6 3.5-4 3.5 .8 3.5 2.4 3.5 3 3.5 .1 3.5-3.6 3.5-3.6 3.5-3 3.5-.5 3.5 1.2 3.5-.6 3.5-.4 3.5 2.3 3.5 4.4 3.5 4.1 3.5 3.1 3.5 3.5 3.5 7 3.5 8.4 3.5 7.5 3.5 5.3 3.5 2.9 3.5-3 3.5-16.4 3.5-14.9 3.5-8.3 3.5-.8 3.5 2.1 3.5 4.8 3.5 7 3.5 7.4 3.5 7.5 3.5 5.6 3.5 4.3 3.5 4.2 3.5 1 3.5-7.5 3.5-8.3 3.5-6.8 3.5 1 3.5 2.8 3.5 1.4 3.5-.3 3.5-.8 3.5-.9 3.5-1.3 3.5 0 3.5 3 3.5 2.5 3.5 1.8 3.5 1 3.5-2.3 3.5-8.4 3.5-8.4 3.5-7.3 3.5-5.9 3.5-4.5 3.5-3.9 3.5-3.3 3.5-2.6 3.5-1 3.5-2.2 3.5-5 3.5-6.5 3.5-7 3.5-7.1 3.5-6.7 3.5-5.7 3.5-5 3.5-4.4 3.5-3.9 3.5-3.2 3.5-2.6 3.5-2.3 3.5-2.7 3.5-3.7 3.5-4.3 3.5-3.4 3.5-1.6 3.5 .1 3.5 2.5 3.5 5.7 3.5 10 3.5 10.9 3.5 8.9 3.5 8.5 3.5 8.4 3.5 8.8 3.5 12.3 3.5 15.9 3.5 13.8 3.5 9 3.5 3.8 3.5-2.3 3.5-5.5 3.5-7.2 3.5-9.6 3.5-10.7 3.5-9.2 3.5-7.7 3.5 10.9 3.5 40.6 3.5 39.8 3.5 45.6 3.5 9.8 3.5-43.6 3.5-42.5 3.5-26.9 3.5-16.3 3.5 5.1 3.5 11 3.5 .8 3.5 .2 3.5 1.8 3.5 2.7 3.5 4.3 3.5 3.8 3.5-7.2 3.5-24.8 3.5-19.1 3.5-12.2 3.5-6.6 3.5-3.4 3.5-2.5 3.5-2.5 3.5-2.5 3.5-2.6 3.5-5.3 3.5-9.4 3.5-10.5 3.5-10.4 3.5-10.6 3.5-10.6 3.5-10.9 3.5-10.8 3.5-10.1 3.5-8.7 3.5-7.1 3.5-5.6 3.5-4.6 3.5-3.7 3.5-3 3.5-2.6 3.5-2.2 3.5-1.3 3.5 2.1 3.5 6.5 3.5 7.8 3.5 6 3.5-.2 3.5-6 3.5-6.1 3.5-5.9 3.5-4.4 3.5-2.2 3.5-.3 3.5 2 3.5 4.3 3.5 6.3 3.5 9 3.5 9.8 3.5 7.9 3.5 6.4 3.5 4.5 3.5 2.8 3.5 1.5 3.5 1 3.5 .4 3.5 .1 3.5-.2 3.5-.2 3.5-.5 3.5-.6 3.5-.6 3.5-.6 3.5-.5 3.5 .3 3.5 .7 3.5 .7 3.5 .6 3.5 .7 3.5 .4 3.5 .4 3.5 .4 3.5 .6 3.5 .9 3.5 1.3 3.5 1.7 3.5 1.9 3.5 1.9 3.5 1.8 3.5 1.4 3.5 .8 3.5 .5 3.5 .5 3.5 .9 3.5 1.5 3.5 2.4 3.5 5 3.5 8.9 3.5 9.5 3.5 8.1 3.5 7.8 3.5 8.1 3.5 8.1 3.5 7.8 3.5 7.5 3.5 6.3 3.5 5.4 3.5 4.1 3.5 1.4 3.5-.9 3.5-2.1 3.5-2.4 3.5-3 3.5-3.3 3.5-3 3.5-2.2 3.5-1.2 3.5-.4 3.5 .7 3.5 2 3.5 3 3.5 3 3.5 2.6 3.5 2.6 3.5 2.5 3.5 2.2 3.5 1.6 3.5 .7 3.5-.1 3.5-.4 3.5-.8 3.5-.9 3.5-.6 3.5-.2 3.5 0 3.5-.1 3.5-.7 3.5-1.1 3.5-.7 3.5 .3 3.5 1.3 3.5 1.5 3.5 1.3 3.5 .4 3.5-1.2 3.5-2.2 3.5-2.7 3.5-2.3 3.5-2.1 3.5-2 3.5-1.4 3.5-.3 3.5 1.2 3.5 2.1 3.5 2.3 3.5 1.6 3.5 .5 3.5-.4 3.5-.9 3.5-1 3.5-.8 3.5-.5 3.5-.5 3.5-.5 3.5-.7 3.5-1.2 3.5-1.9 3.5-1.9 3.5-1.1 3.5-.6 3.5-.1 3.5 .1 3.5 .6 3.5 1 3.5 1.2 3.5 1.3 3.5 1.2 3.5 .8 3.5 .5 3.5 .3 3.5 .1 3.5-.1 3.5-.4 3.5-.8 3.5-.8 3.5-.8 3.5-.3 3.5 0 3.5 .3 3.5 .5 3.5 .6 3.5 1 3.5 1 3.5 .9 3.5 .7 3.5 .5 3.5 .4 3.5 .4 3.5 .4 3.5 .4 3.5 .4 3.5 .6 3.5 .4 3.5 .1 3.5-.7 3.5-1.7 3.5-2.5 3.5-2.6 3.5-2.8 3.5-3 3.5-2.3 3.5-1.2 3.5-.3 3.5 .6 3.5 1.3 3.5 2.4 3.5 3.5 3.5 4.7 3.5 6.5 3.5 5.2 3.5 1.8 3.5-.3 3.5-1.1"/><path id="r7" d="M88.9 670.4l3.5-.2 3.5-.2 3.5-.2 3.5-.2 3.5-.1 3.5-.2 3.5-.1 3.5-.2 3.5-.1 3.5-.2 3.5-.2 3.5-.2 3.5-.3 3.5-.4 3.5-.4 3.5-.3 3.5-.4 3.5-.3 3.5-.4 3.5-.3 3.5-.4 3.5-.5 3.5-.4 3.5-.5 3.5-.5 3.5-.5 3.5-.7 3.5-.8 3.5-.8 3.5-.9 3.5-.9 3.5-1 3.5-1 3.5-1 3.5-1.1 3.5-1 3.5-1.1 3.5-1 3.5-1 3.5-1 3.5-1.1 3.5-1.1 3.5-1.2 3.5-1.6 3.5-1.6 3.5-1.2 3.5-.3 3.5 .5 3.5 1.1 3.5 2 3.5 .7 3.5-1.6 3.5-1.8 3.5-1.2 3.5-.9 3.5-.6 3.5-.1 3.5-.8 3.5-2.4 3.5-3.5 3.5-3.5 3.5-3.6 3.5-3.6 3.5-3.5 3.5-3.5 3.5-3.5 3.5-3.5 3.5-3.5 3.5-3.6 3.5-3.5 3.5-3.6 3.5-3.7 3.5-3.7 3.5-3.4 3.5-3.3 3.5-3.2 3.5-3.1 3.5-2.8 3.5-2.4 3.5-1.7 3.5-1.7 3.5-2.2 3.5-2.5 3.5-2.5 3.5-2.5 3.5-2.2 3.5-2.2 3.5-2.1 3.5-2.2 3.5-2.1 3.5-2.1 3.5-2.1 3.5-2.2 3.5-2.1 3.5-2 3.5-.5 3.5 .7 3.5 1.3 3.5 2.8 3.5 3.2 3.5-1.5 3.5-4.6 3.5-6 3.5-5.4 3.5 .3 3.5 5.1 3.5 4 3.5-5.6 3.5-8.9 3.5-8.1 3.5-7.2 3.5-4.7 3.5-2.3 3.5 .9 3.5 3.7 3.5 5.9 3.5 5.7 3.5-3.2 3.5-14.5 3.5-14.4 3.5-12.2 3.5-9.2 3.5-7.4 3.5-7 3.5-7.1 3.5-7.9 3.5-8 3.5-7.3 3.5-6.2 3.5-5.4 3.5-5 3.5-4.6 3.5-4.2 3.5-3.9 3.5-3.4 3.5-3.1 3.5-2.9 3.5-2.8 3.5-3 3.5-2.9 3.5-2.4 3.5-1.7 3.5-.7 3.5 .5 3.5 1.7 3.5 3.5 3.5 3.5 3.5 2.5 3.5 1.4 3.5 0 3.5-1.4 3.5 .9 3.5 5.6 3.5 7 3.5 4.6 3.5 2.4 3.5 1.6 3.5 1.7 3.5 2.8 3.5 4 3.5 4 3.5 2.8 3.5 1.9 3.5-.8 3.5-5.2 3.5-5.6 3.5-3.1 3.5 1.5 3.5 2.9 3.5 3.6 3.5 .8 3.5-2.8 3.5-2.6 3.5-2.1 3.5 .3 3.5 1.7 3.5 .2 3.5 .3 3.5 2.9 3.5 4.7 3.5 4.4 3.5 3.4 3.5 3.9 3.5 6.9 3.5 8.3 3.5 7.4 3.5 5.3 3.5 3.2 3.5-2.2 3.5-14.2 3.5-13.1 3.5-7.3 3.5-.6 3.5 1.9 3.5 4.3 3.5 6.3 3.5 6.8 3.5 6.7 3.5 5 3.5 3.9 3.5 3.8 3.5 1 3.5-6.6 3.5-7.2 3.5-6 3.5 1 3.5 2.5 3.5 1.4 3.5-.2 3.5-.7 3.5-.7 3.5-1.1 3.5 .1 3.5 2.8 3.5 2.3 3.5 1.7 3.5 .9 3.5-1.9 3.5-7.3 3.5-7.4 3.5-6.3 3.5-5.2 3.5-3.9 3.5-3.2 3.5-2.9 3.5-2.1 3.5-.9 3.5-1.8 3.5-4.3 3.5-5.6 3.5-6 3.5-6.2 3.5-5.8 3.5-4.9 3.5-4.2 3.5-3.8 3.5-3.3 3.5-2.7 3.5-2.1 3.5-1.9 3.5-2.3 3.5-3.2 3.5-3.6 3.5-2.8 3.5-1.3 3.5 .2 3.5 2.3 3.5 5.1 3.5 8.8 3.5 9.6 3.5 7.8 3.5 7.6 3.5 7.4 3.5 7.7 3.5 10.8 3.5 14 3.5 12.1 3.5 7.9 3.5 3.4 3.5-1.9 3.5-4.8 3.5-6.2 3.5-8.2 3.5-9.3 3.5-7.9 3.5-6.5 3.5 9.5 3.5 35.3 3.5 34.6 3.5 39.7 3.5 8.5 3.5-37.7 3.5-36.8 3.5-23.3 3.5-14 3.5 4.5 3.5 9.6 3.5 .7 3.5 .3 3.5 1.7 3.5 2.3 3.5 3.9 3.5 3.4 3.5-6.2 3.5-21.4 3.5-16.4 3.5-10.4 3.5-5.6 3.5-2.9 3.5-2 3.5-2.1 3.5-2.1 3.5-2.1 3.5-4.5 3.5-8 3.5-8.9 3.5-8.9 3.5-9 3.5-9 3.5-9.3 3.5-9.1 3.5-8.6 3.5-7.4 3.5-6 3.5-4.6 3.5-3.8 3.5-3.1 3.5-2.5 3.5-2.1 3.5-1.7 3.5-1 3.5 2 3.5 5.7 3.5 6.9 3.5 5.3 3.5 0 3.5-5 3.5-5 3.5-4.8 3.5-3.6 3.5-1.7 3.5-.1 3.5 2 3.5 3.8 3.5 5.6 3.5 7.9 3.5 8.5 3.5 6.9 3.5 5.7 3.5 4 3.5 2.5 3.5 1.5 3.5 1 3.5 .6 3.5 .2 3.5 .1 3.5-.1 3.5-.2 3.5-.3 3.5-.4 3.5-.3 3.5-.2 3.5 .5 3.5 .7 3.5 .8 3.5 .7 3.5 .7 3.5 .6 3.5 .5 3.5 .6 3.5 .6 3.5 1 3.5 1.3 3.5 1.6 3.5 1.8 3.5 1.8 3.5 1.7 3.5 1.4 3.5 .9 3.5 .6 3.5 .5 3.5 1 3.5 1.5 3.5 2.2 3.5 4.4 3.5 7.6 3.5 8.2 3.5 6.9 3.5 6.8 3.5 6.9 3.5 6.9 3.5 6.7 3.5 6.5 3.5 5.4 3.5 4.7 3.5 3.6 3.5 1.4 3.5-.6 3.5-1.6 3.5-1.8 3.5-2.3 3.5-2.6 3.5-2.3 3.5-1.6 3.5-.8 3.5-.2 3.5 .8 3.5 1.8 3.5 2.8 3.5 2.6 3.5 2.3 3.5 2.4 3.5 2.3 3.5 2 3.5 1.5 3.5 .8 3.5 .1 3.5-.1 3.5-.5 3.5-.5 3.5-.3 3.5 .1 3.5 .2 3.5 .2 3.5-.3 3.5-.7 3.5-.2 3.5 .5 3.5 1.3 3.5 1.6 3.5 1.3 3.5 .6 3.5-.6 3.5-1.6 3.5-1.9 3.5-1.5 3.5-1.4 3.5-1.4 3.5-.8 3.5 .1 3.5 1.3 3.5 2.1 3.5 2.1 3.5 1.7 3.5 .7 3.5 0 3.5-.4 3.5-.5 3.5-.3 3.5-.1 3.5 0 3.5-.1 3.5-.2 3.5-.6 3.5-1.1 3.5-1.2 3.5-.5 3.5-.1 3.5 .2 3.5 .6 3.5 .8 3.5 1.2 3.5 1.4 3.5 1.4 3.5 1.3 3.5 1.1 3.5 .8 3.5 .7 3.5 .5 3.5 .3 3.5 .1 3.5-.1 3.5-.3 3.5-.1 3.5 .2 3.5 .4 3.5 .7 3.5 .9 3.5 .9 3.5 1.3 3.5 1.3 3.5 1.2 3.5 1 3.5 .9 3.5 .8 3.5 .9 3.5 .8 3.5 .8 3.5 .9 3.5 1 3.5 .8 3.5 .7 3.5 0 3.5-.8 3.5-1.4 3.5-1.5 3.5-1.6 3.5-1.7 3.5-1.3 3.5-.3 3.5 .5 3.5 1 3.5 1.7 3.5 2.5 3.5 3.4 3.5 4.4 3.5 5.7 3.5 4.7 3.5 2.1 3.5 .5 3.5-.2"/><path id="r8" d="M88.9 670.3l3.5-.3 3.5-.2 3.5-.2 3.5-.2 3.5-.1 3.5-.2 3.5-.1 3.5-.2 3.5-.2 3.5-.1 3.5-.3 3.5-.2 3.5-.4 3.5-.3 3.5-.4 3.5-.4 3.5-.4 3.5-.4 3.5-.3 3.5-.4 3.5-.5 3.5-.4 3.5-.5 3.5-.5 3.5-.6 3.5-.6 3.5-.7 3.5-.8 3.5-.9 3.5-1 3.5-1 3.5-1 3.5-1.1 3.5-1.1 3.5-1.2 3.5-1.1 3.5-1.2 3.5-1.1 3.5-1.1 3.5-1.1 3.5-1.1 3.5-1.2 3.5-1.3 3.5-1.7 3.5-1.7 3.5-1.3 3.5-.4 3.5 .5 3.5 1.2 3.5 2.2 3.5 .8 3.5-1.8 3.5-1.9 3.5-1.3 3.5-1 3.5-.7 3.5 0 3.5-.9 3.5-2.6 3.5-3.6 3.5-3.7 3.5-3.6 3.5-3.7 3.5-3.7 3.5-3.5 3.5-3.6 3.5-3.5 3.5-3.6 3.5-3.5 3.5-3.6 3.5-3.6 3.5-3.6 3.5-3.6 3.5-3.3 3.5-3.2 3.5-3.1 3.5-2.9 3.5-2.7 3.5-2.1 3.5-1.6 3.5-1.4 3.5-2.1 3.5-2.4 3.5-2.6 3.5-2.4 3.5-2.2 3.5-2 3.5-2.1 3.5-2.1 3.5-2 3.5-2 3.5-2.1 3.5-2.1 3.5-2.1 3.5-1.8 3.5-.4 3.5 .8 3.5 1.4 3.5 2.9 3.5 3.4 3.5-1.5 3.5-4.5 3.5-5.8 3.5-5.3 3.5 .4 3.5 5.2 3.5 4 3.5-5.6 3.5-8.9 3.5-8.2 3.5-7.2 3.5-4.6 3.5-2.3 3.5 .9 3.5 3.6 3.5 6 3.5 5.7 3.5-3.2 3.5-14.5 3.5-14.4 3.5-12.2 3.5-9.2 3.5-7.4 3.5-7 3.5-7.2 3.5-7.8 3.5-8 3.5-7.3 3.5-6.2 3.5-5.4 3.5-5 3.5-4.6 3.5-4.3 3.5-3.8 3.5-3.4 3.5-3.1 3.5-2.9 3.5-2.9 3.5-2.9 3.5-2.9 3.5-2.5 3.5-1.6 3.5-.7 3.5 .5 3.5 1.7 3.5 3.6 3.5 3.8 3.5 2.7 3.5 1.7 3.5 .2 3.5-1.2 3.5 1.1 3.5 5.8 3.5 7.1 3.5 4.8 3.5 2.5 3.5 1.9 3.5 1.9 3.5 3 3.5 4.1 3.5 4.1 3.5 3 3.5 2.1 3.5-.6 3.5-5 3.5-5.3 3.5-2.8 3.5 1.7 3.5 3 3.5 3.7 3.5 1 3.5-2.5 3.5-2.4 3.5-1.8 3.5 .5 3.5 1.9 3.5 .4 3.5 .5 3.5 3 3.5 4.8 3.5 4.5 3.5 3.5 3.5 4 3.5 7 3.5 8.1 3.5 7.4 3.5 5.3 3.5 3.3 3.5-2 3.5-13.5 3.5-12.7 3.5-7 3.5-.6 3.5 1.9 3.5 4.2 3.5 6.1 3.5 6.6 3.5 6.5 3.5 4.8 3.5 3.8 3.5 3.7 3.5 1 3.5-6.3 3.5-7 3.5-5.7 3.5 .9 3.5 2.5 3.5 1.4 3.5-.2 3.5-.6 3.5-.7 3.5-1 3.5 .1 3.5 2.7 3.5 2.2 3.5 1.7 3.5 .9 3.5-1.8 3.5-7 3.5-7.1 3.5-6.1 3.5-4.9 3.5-3.7 3.5-3.1 3.5-2.7 3.5-2.1 3.5-.8 3.5-1.7 3.5-4.1 3.5-5.3 3.5-5.8 3.5-5.9 3.5-5.5 3.5-4.7 3.5-4.1 3.5-3.6 3.5-3.1 3.5-2.6 3.5-2 3.5-1.8 3.5-2.1 3.5-3 3.5-3.4 3.5-2.7 3.5-1.3 3.5 .3 3.5 2.2 3.5 4.9 3.5 8.5 3.5 9.2 3.5 7.6 3.5 7.3 3.5 7.1 3.5 7.4 3.5 10.4 3.5 13.5 3.5 11.6 3.5 7.6 3.5 3.3 3.5-1.8 3.5-4.6 3.5-5.9 3.5-7.9 3.5-8.8 3.5-7.6 3.5-6.3 3.5 9.2 3.5 33.9 3.5 33.2 3.5 38 3.5 8.1 3.5-36.1 3.5-35.2 3.5-22.2 3.5-13.5 3.5 4.4 3.5 9.2 3.5 .7 3.5 .3 3.5 1.6 3.5 2.3 3.5 3.7 3.5 3.3 3.5-5.9 3.5-20.5 3.5-15.7 3.5-9.9 3.5-5.3 3.5-2.7 3.5-1.9 3.5-2 3.5-2 3.5-2 3.5-4.2 3.5-7.6 3.5-8.5 3.5-8.5 3.5-8.6 3.5-8.6 3.5-8.8 3.5-8.6 3.5-8.2 3.5-7 3.5-5.7 3.5-4.4 3.5-3.6 3.5-2.9 3.5-2.3 3.5-2 3.5-1.6 3.5-.9 3.5 1.9 3.5 5.5 3.5 6.6 3.5 5.1 3.5 .1 3.5-4.7 3.5-4.7 3.5-4.5 3.5-3.4 3.5-1.6 3.5 0 3.5 1.9 3.5 3.8 3.5 5.3 3.5 7.6 3.5 8.2 3.5 6.6 3.5 5.4 3.5 3.9 3.5 2.5 3.5 1.5 3.5 1 3.5 .5 3.5 .3 3.5 .1 3.5 0 3.5-.1 3.5-.3 3.5-.3 3.5-.2 3.5-.1 3.5 .5 3.5 .7 3.5 .8 3.5 .8 3.5 .7 3.5 .6 3.5 .5 3.5 .6 3.5 .7 3.5 .9 3.5 1.3 3.5 1.6 3.5 1.7 3.5 1.8 3.5 1.7 3.5 1.3 3.5 .9 3.5 .6 3.5 .6 3.5 1 3.5 1.5 3.5 2.1 3.5 4.2 3.5 7.3 3.5 7.8 3.5 6.6 3.5 6.5 3.5 6.6 3.5 6.6 3.5 6.3 3.5 6.2 3.5 5.2 3.5 4.5 3.5 3.4 3.5 1.3 3.5-.5 3.5-1.4 3.5-1.7 3.5-2.1 3.5-2.4 3.5-2.2 3.5-1.4 3.5-.8 3.5 0 3.5 .7 3.5 1.8 3.5 2.6 3.5 2.6 3.5 2.2 3.5 2.3 3.5 2.2 3.5 2 3.5 1.4 3.5 .8 3.5 .2 3.5-.1 3.5-.4 3.5-.4 3.5-.3 3.5 .2 3.5 .3 3.5 .2 3.5-.2 3.5-.6 3.5-.1 3.5 .5 3.5 1.4 3.5 1.5 3.5 1.3 3.5 .7 3.5-.6 3.5-1.3 3.5-1.7 3.5-1.4 3.5-1.3 3.5-1.1 3.5-.8 3.5 .2 3.5 1.3 3.5 2 3.5 2.1 3.5 1.7 3.5 .7 3.5 .1 3.5-.3 3.5-.3 3.5-.2 3.5 0 3.5 0 3.5 .1 3.5-.2 3.5-.4 3.5-1 3.5-1 3.5-.4 3.5 0 3.5 .3 3.5 .6 3.5 .9 3.5 1.2 3.5 1.4 3.5 1.4 3.5 1.4 3.5 1 3.5 .9 3.5 .7 3.5 .6 3.5 .4 3.5 .2 3.5 0 3.5-.2 3.5 0 3.5 .3 3.5 .6 3.5 .7 3.5 .9 3.5 1 3.5 1.3 3.5 1.3 3.5 1.3 3.5 1 3.5 .9 3.5 .9 3.5 .9 3.5 .9 3.5 .9 3.5 1 3.5 1 3.5 .9 3.5 .7 3.5 .2 3.5-.6 3.5-1.2 3.5-1.2 3.5-1.3 3.5-1.5 3.5-1 3.5-.1 3.5 .5 3.5 1.1 3.5 1.7 3.5 2.5 3.5 3.3 3.5 4.2 3.5 5.5 3.5 4.5 3.5 2.1 3.5 .5 3.5 .1"/><path id="r9" d="M88.9 670.3l3.5-.2 3.5-.2 3.5-.2 3.5-.2 3.5-.2 3.5-.1 3.5-.2 3.5-.1 3.5-.2 3.5-.2 3.5-.2 3.5-.2 3.5-.4 3.5-.3 3.5-.4 3.5-.4 3.5-.4 3.5-.3 3.5-.4 3.5-.4 3.5-.4 3.5-.5 3.5-.4 3.5-.5 3.5-.6 3.5-.6 3.5-.7 3.5-.8 3.5-.9 3.5-.9 3.5-1 3.5-1 3.5-1 3.5-1.1 3.5-1.1 3.5-1.2 3.5-1.1 3.5-1.1 3.5-1 3.5-1.1 3.5-1.1 3.5-1.2 3.5-1.3 3.5-1.6 3.5-1.7 3.5-1.3 3.5-.3 3.5 .5 3.5 1.1 3.5 2.2 3.5 .7 3.5-1.7 3.5-1.9 3.5-1.2 3.5-1 3.5-.7 3.5 0 3.5-.8 3.5-2.6 3.5-3.6 3.5-3.6 3.5-3.6 3.5-3.7 3.5-3.6 3.5-3.5 3.5-3.6 3.5-3.5 3.5-3.6 3.5-3.5 3.5-3.6 3.5-3.6 3.5-3.6 3.5-3.6 3.5-3.4 3.5-3.2 3.5-3.1 3.5-3 3.5-2.7 3.5-2.2 3.5-1.6 3.5-1.6 3.5-2 3.5-2.5 3.5-2.6 3.5-2.4 3.5-2.2 3.5-2.1 3.5-2.1 3.5-2.1 3.5-2 3.5-2.1 3.5-2 3.5-2.2 3.5-2.1 3.5-1.8 3.5-.5 3.5 .8 3.5 1.3 3.5 3 3.5 3.3 3.5-1.5 3.5-4.6 3.5-5.8 3.5-5.4 3.5 .4 3.5 5.2 3.5 4 3.5-5.6 3.5-8.9 3.5-8.2 3.5-7.2 3.5-4.6 3.5-2.3 3.5 .9 3.5 3.6 3.5 6 3.5 5.6 3.5-3.2 3.5-14.4 3.5-14.5 3.5-12.1 3.5-9.3 3.5-7.4 3.5-6.9 3.5-7.2 3.5-7.8 3.5-8 3.5-7.3 3.5-6.2 3.5-5.5 3.5-4.9 3.5-4.6 3.5-4.3 3.5-3.8 3.5-3.4 3.5-3.1 3.5-2.9 3.5-2.9 3.5-2.9 3.5-2.9 3.5-2.5 3.5-1.7 3.5-.7 3.5 .5 3.5 1.7 3.5 3.1 3.5 3.1 3.5 2 3.5 1.1 3.5-.5 3.5-1.9 3.5 .5 3.5 5.2 3.5 6.6 3.5 4.3 3.5 2 3.5 1.2 3.5 1.4 3.5 2.4 3.5 3.6 3.5 3.7 3.5 2.5 3.5 1.5 3.5-1.2 3.5-5.8 3.5-6.1 3.5-3.6 3.5 1.1 3.5 2.6 3.5 3.3 3.5 .4 3.5-3.3 3.5-3.2 3.5-2.6 3.5-.1 3.5 1.4 3.5-.2 3.5-.1 3.5 2.5 3.5 4.6 3.5 4.2 3.5 3.2 3.5 3.7 3.5 7 3.5 8.3 3.5 7.5 3.5 5.3 3.5 3 3.5-2.7 3.5-15.4 3.5-14.1 3.5-7.9 3.5-.7 3.5 2 3.5 4.6 3.5 6.7 3.5 7.1 3.5 7.2 3.5 5.3 3.5 4.1 3.5 4 3.5 1.1 3.5-7.2 3.5-7.8 3.5-6.4 3.5 .9 3.5 2.7 3.5 1.4 3.5-.3 3.5-.7 3.5-.8 3.5-1.3 3.5 .1 3.5 2.9 3.5 2.4 3.5 1.8 3.5 .9 3.5-2.1 3.5-7.9 3.5-8 3.5-6.9 3.5-5.6 3.5-4.2 3.5-3.6 3.5-3.1 3.5-2.4 3.5-1 3.5-2 3.5-4.7 3.5-6.1 3.5-6.6 3.5-6.7 3.5-6.3 3.5-5.4 3.5-4.6 3.5-4.2 3.5-3.6 3.5-3 3.5-2.4 3.5-2.1 3.5-2.5 3.5-3.5 3.5-4 3.5-3.1 3.5-1.6 3.5 .2 3.5 2.4 3.5 5.4 3.5 9.5 3.5 10.3 3.5 8.4 3.5 8.2 3.5 7.9 3.5 8.3 3.5 11.6 3.5 15.1 3.5 13.1 3.5 8.5 3.5 3.6 3.5-2.1 3.5-5.2 3.5-6.8 3.5-9 3.5-10.1 3.5-8.7 3.5-7.1 3.5 10.2 3.5 38.4 3.5 37.5 3.5 43 3.5 9.2 3.5-41.1 3.5-40 3.5-25.3 3.5-15.3 3.5 4.9 3.5 10.3 3.5 .8 3.5 .2 3.5 1.7 3.5 2.5 3.5 4.2 3.5 3.6 3.5-6.8 3.5-23.3 3.5-18 3.5-11.4 3.5-6.2 3.5-3.1 3.5-2.3 3.5-2.4 3.5-2.3 3.5-2.4 3.5-4.9 3.5-8.8 3.5-9.9 3.5-9.7 3.5-10 3.5-9.9 3.5-10.2 3.5-10 3.5-9.5 3.5-8.2 3.5-6.6 3.5-5.1 3.5-4.3 3.5-3.5 3.5-2.8 3.5-2.4 3.5-2 3.5-1.2 3.5 2.1 3.5 6.1 3.5 7.4 3.5 5.6 3.5 0 3.5-5.6 3.5-5.6 3.5-5.5 3.5-4.1 3.5-2 3.5-.2 3.5 1.9 3.5 4.2 3.5 5.9 3.5 8.5 3.5 9.2 3.5 7.4 3.5 6.1 3.5 4.3 3.5 2.6 3.5 1.5 3.5 1 3.5 .5 3.5 .1 3.5-.1 3.5-.2 3.5-.4 3.5-.5 3.5-.5 3.5-.5 3.5-.4 3.5 .3 3.5 .7 3.5 .7 3.5 .7 3.5 .6 3.5 .5 3.5 .4 3.5 .4 3.5 .6 3.5 .9 3.5 1.2 3.5 1.7 3.5 1.8 3.5 1.9 3.5 1.7 3.5 1.3 3.5 .8 3.5 .5 3.5 .5 3.5 .9 3.5 1.5 3.5 2.3 3.5 4.6 3.5 8.3 3.5 9 3.5 7.5 3.5 7.3 3.5 7.6 3.5 7.5 3.5 7.2 3.5 7.1 3.5 5.8 3.5 5.1 3.5 3.8 3.5 1.3 3.5-.8 3.5-1.9 3.5-2.2 3.5-2.7 3.5-3 3.5-2.8 3.5-2 3.5-1.1 3.5-.3 3.5 .6 3.5 1.9 3.5 2.9 3.5 2.7 3.5 2.4 3.5 2.5 3.5 2.3 3.5 2.1 3.5 1.5 3.5 .7 3.5-.1 3.5-.3 3.5-.8 3.5-.8 3.5-.5 3.5-.2 3.5 .1 3.5-.1 3.5-.6 3.5-1 3.5-.6 3.5 .3 3.5 1.3 3.5 1.4 3.5 1.3 3.5 .4 3.5-1.1 3.5-2 3.5-2.4 3.5-2.1 3.5-1.8 3.5-1.9 3.5-1.2 3.5-.3 3.5 1.2 3.5 2 3.5 2.1 3.5 1.6 3.5 .5 3.5-.4 3.5-.8 3.5-.8 3.5-.7 3.5-.5 3.5-.4 3.5-.4 3.5-.6 3.5-1.1 3.5-1.6 3.5-1.7 3.5-1 3.5-.5 3.5-.1 3.5 .2 3.5 .5 3.5 1 3.5 1.1 3.5 1.3 3.5 1 3.5 .8 3.5 .5 3.5 .3 3.5 .1 3.5 0 3.5-.4 3.5-.6 3.5-.8 3.5-.6 3.5-.3 3.5 .1 3.5 .3 3.5 .4 3.5 .6 3.5 .9 3.5 1 3.5 .9 3.5 .6 3.5 .4 3.5 .5 3.5 .4 3.5 .3 3.5 .4 3.5 .4 3.5 .5 3.5 .5 3.5 .1 3.5-.6 3.5-1.5 3.5-2.3 3.5-2.3 3.5-2.6 3.5-2.7 3.5-2.1 3.5-1 3.5-.2 3.5 .5 3.5 1.2 3.5 2.2 3.5 3.2 3.5 4.3 3.5 5.9 3.5 4.7 3.5 1.6 3.5-.3 3.5-.9"/><path id="r10" d="M88.9 670.4l3.5-.2 3.5-.3 3.5-.1 3.5-.2 3.5-.2 3.5-.1 3.5-.1 3.5-.2 3.5-.1 3.5-.2 3.5-.2 3.5-.3 3.5-.3 3.5-.3 3.5-.4 3.5-.4 3.5-.3 3.5-.4 3.5-.3 3.5-.4 3.5-.4 3.5-.4 3.5-.5 3.5-.4 3.5-.6 3.5-.5 3.5-.7 3.5-.8 3.5-.8 3.5-.9 3.5-.9 3.5-1 3.5-1 3.5-1 3.5-1.1 3.5-1.1 3.5-1.1 3.5-1 3.5-1 3.5-1.1 3.5-1 3.5-1.1 3.5-1.3 3.5-1.5 3.5-1.6 3.5-1.2 3.5-.3 3.5 .4 3.5 1.1 3.5 2.1 3.5 .7 3.5-1.7 3.5-1.8 3.5-1.2 3.5-.9 3.5-.6 3.5-.1 3.5-.8 3.5-2.5 3.5-3.5 3.5-3.5 3.5-3.5 3.5-3.7 3.5-3.5 3.5-3.5 3.5-3.5 3.5-3.5 3.5-3.5 3.5-3.6 3.5-3.6 3.5-3.6 3.5-3.6 3.5-3.7 3.5-3.4 3.5-3.3 3.5-3.2 3.5-3 3.5-2.9 3.5-2.3 3.5-1.7 3.5-1.7 3.5-2.1 3.5-2.5 3.5-2.6 3.5-2.4 3.5-2.3 3.5-2.1 3.5-2.2 3.5-2.1 3.5-2.1 3.5-2.1 3.5-2.1 3.5-2.2 3.5-2.1 3.5-2 3.5-.4 3.5 .7 3.5 1.2 3.5 2.9 3.5 3.2 3.5-1.5 3.5-4.6 3.5-6 3.5-5.4 3.5 .4 3.5 5.1 3.5 4 3.5-5.6 3.5-9 3.5-8.1 3.5-7.2 3.5-4.6 3.5-2.3 3.5 .9 3.5 3.6 3.5 6 3.5 5.6 3.5-3.2 3.5-14.4 3.5-14.5 3.5-12.2 3.5-9.2 3.5-7.4 3.5-6.9 3.5-7.2 3.5-7.9 3.5-7.9 3.5-7.4 3.5-6.1 3.5-5.5 3.5-5 3.5-4.5 3.5-4.3 3.5-3.9 3.5-3.4 3.5-3 3.5-2.9 3.5-2.9 3.5-3 3.5-2.8 3.5-2.5 3.5-1.7 3.5-.7 3.5 .5 3.5 1.7 3.5 3 3.5 3.2 3.5 2 3.5 1 3.5-.4 3.5-1.9 3.5 .5 3.5 5.2 3.5 6.6 3.5 4.3 3.5 2 3.5 1.2 3.5 1.4 3.5 2.4 3.5 3.7 3.5 3.6 3.5 2.5 3.5 1.6 3.5-1.3 3.5-5.7 3.5-6.2 3.5-3.6 3.5 1.2 3.5 2.5 3.5 3.3 3.5 .4 3.5-3.2 3.5-3.2 3.5-2.6 3.5-.1 3.5 1.4 3.5-.2 3.5-.2 3.5 2.6 3.5 4.5 3.5 4.3 3.5 3.2 3.5 3.6 3.5 7 3.5 8.4 3.5 7.4 3.5 5.3 3.5 3 3.5-2.6 3.5-15.4 3.5-14.1 3.5-7.9 3.5-.7 3.5 2 3.5 4.6 3.5 6.6 3.5 7.2 3.5 7.1 3.5 5.3 3.5 4.2 3.5 4 3.5 1 3.5-7.1 3.5-7.8 3.5-6.5 3.5 1 3.5 2.7 3.5 1.4 3.5-.3 3.5-.7 3.5-.9 3.5-1.2 3.5 .1 3.5 2.9 3.5 2.4 3.5 1.7 3.5 .9 3.5-2 3.5-8 3.5-7.9 3.5-6.9 3.5-5.6 3.5-4.2 3.5-3.6 3.5-3.2 3.5-2.4 3.5-.9 3.5-2 3.5-4.7 3.5-6.1 3.5-6.6 3.5-6.7 3.5-6.3 3.5-5.4 3.5-4.7 3.5-4.1 3.5-3.6 3.5-3 3.5-2.4 3.5-2.1 3.5-2.6 3.5-3.5 3.5-3.9 3.5-3.2 3.5-1.5 3.5 .2 3.5 2.4 3.5 5.4 3.5 9.5 3.5 10.3 3.5 8.4 3.5 8.1 3.5 8 3.5 8.2 3.5 11.7 3.5 15 3.5 13.1 3.5 8.4 3.5 3.7 3.5-2.1 3.5-5.3 3.5-6.7 3.5-9 3.5-10.1 3.5-8.7 3.5-7.1 3.5 10.2 3.5 38.3 3.5 37.5 3.5 43 3.5 9.1 3.5-41 3.5-39.9 3.5-25.3 3.5-15.3 3.5 4.8 3.5 10.4 3.5 .7 3.5 .3 3.5 1.7 3.5 2.5 3.5 4.1 3.5 3.6 3.5-6.8 3.5-23.3 3.5-18 3.5-11.3 3.5-6.2 3.5-3.2 3.5-2.3 3.5-2.4 3.5-2.3 3.5-2.4 3.5-4.9 3.5-8.8 3.5-9.8 3.5-9.8 3.5-9.9 3.5-10 3.5-10.2 3.5-10 3.5-9.4 3.5-8.2 3.5-6.7 3.5-5.1 3.5-4.3 3.5-3.4 3.5-2.9 3.5-2.3 3.5-2.1 3.5-1.2 3.5 2.1 3.5 6.1 3.5 7.4 3.5 5.6 3.5-.1 3.5-5.6 3.5-5.6 3.5-5.4 3.5-4.2 3.5-2 3.5-.1 3.5 1.9 3.5 4.1 3.5 5.9 3.5 8.5 3.5 9.2 3.5 7.4 3.5 6.1 3.5 4.2 3.5 2.7 3.5 1.5 3.5 .9 3.5 .5 3.5 .1 3.5-.1 3.5-.2 3.5-.4 3.5-.5 3.5-.6 3.5-.5 3.5-.3 3.5 .3 3.5 .6 3.5 .7 3.5 .7 3.5 .6 3.5 .5 3.5 .4 3.5 .4 3.5 .6 3.5 .8 3.5 1.3 3.5 1.6 3.5 1.8 3.5 1.9 3.5 1.7 3.5 1.3 3.5 .8 3.5 .5 3.5 .4 3.5 .9 3.5 1.5 3.5 2.2 3.5 4.7 3.5 8.2 3.5 9 3.5 7.5 3.5 7.3 3.5 7.5 3.5 7.5 3.5 7.2 3.5 7 3.5 5.9 3.5 5 3.5 3.8 3.5 1.3 3.5-.8 3.5-1.9 3.5-2.3 3.5-2.7 3.5-3 3.5-2.8 3.5-2 3.5-1.1 3.5-.4 3.5 .6 3.5 1.9 3.5 2.8 3.5 2.7 3.5 2.4 3.5 2.5 3.5 2.3 3.5 2 3.5 1.5 3.5 .7 3.5-.1 3.5-.4 3.5-.7 3.5-.9 3.5-.6 3.5-.1 3.5 0 3.5-.1 3.5-.7 3.5-1 3.5-.6 3.5 .3 3.5 1.2 3.5 1.5 3.5 1.2 3.5 .3 3.5-1 3.5-2.1 3.5-2.4 3.5-2.1 3.5-1.9 3.5-1.9 3.5-1.3 3.5-.3 3.5 1.2 3.5 2 3.5 2 3.5 1.6 3.5 .4 3.5-.4 3.5-.8 3.5-.9 3.5-.8 3.5-.4 3.5-.5 3.5-.5 3.5-.6 3.5-1.1 3.5-1.7 3.5-1.8 3.5-1 3.5-.5 3.5-.2 3.5 .1 3.5 .5 3.5 .9 3.5 1.2 3.5 1.1 3.5 1 3.5 .8 3.5 .4 3.5 .3 3.5 0 3.5-.1 3.5-.4 3.5-.7 3.5-.8 3.5-.7 3.5-.3 3.5-.1 3.5 .3 3.5 .4 3.5 .5 3.5 .8 3.5 .9 3.5 .8 3.5 .6 3.5 .3 3.5 .4 3.5 .3 3.5 .3 3.5 .3 3.5 .4 3.5 .4 3.5 .3 3.5 .1 3.5-.7 3.5-1.6 3.5-2.4 3.5-2.4 3.5-2.6 3.5-2.8 3.5-2.2 3.5-1.1 3.5-.3 3.5 .4 3.5 1.1 3.5 2.1 3.5 3.1 3.5 4.2 3.5 5.8 3.5 4.5 3.5 1.6 3.5-.4 3.5-1.1"/><path id="r11" d="M88.9 670.3l3.5-.2 3.5-.2 3.5-.2 3.5-.2 3.5-.2 3.5-.1 3.5-.2 3.5-.1 3.5-.2 3.5-.1 3.5-.3 3.5-.2 3.5-.3 3.5-.4 3.5-.4 3.5-.4 3.5-.3 3.5-.4 3.5-.4 3.5-.3 3.5-.5 3.5-.4 3.5-.5 3.5-.5 3.5-.5 3.5-.6 3.5-.7 3.5-.8 3.5-.9 3.5-.9 3.5-1 3.5-1 3.5-1 3.5-1.1 3.5-1.1 3.5-1.1 3.5-1.2 3.5-1 3.5-1.1 3.5-1.1 3.5-1 3.5-1.2 3.5-1.3 3.5-1.6 3.5-1.7 3.5-1.3 3.5-.3 3.5 .5 3.5 1.1 3.5 2.2 3.5 .7 3.5-1.7 3.5-1.9 3.5-1.2 3.5-1 3.5-.6 3.5-.1 3.5-.8 3.5-2.5 3.5-3.6 3.5-3.6 3.5-3.7 3.5-3.6 3.5-3.6 3.5-3.5 3.5-3.6 3.5-3.5 3.5-3.5 3.5-3.6 3.5-3.6 3.5-3.5 3.5-3.7 3.5-3.6 3.5-3.4 3.5-3.2 3.5-3.1 3.5-3 3.5-2.8 3.5-2.2 3.5-1.6 3.5-1.6 3.5-2.1 3.5-2.4 3.5-2.6 3.5-2.4 3.5-2.2 3.5-2.1 3.5-2.1 3.5-2.1 3.5-2.1 3.5-2 3.5-2.1 3.5-2.2 3.5-2.1 3.5-1.9 3.5-.4 3.5 .8 3.5 1.3 3.5 2.9 3.5 3.3 3.5-1.5 3.5-4.6 3.5-5.8 3.5-5.4 3.5 .4 3.5 5.2 3.5 4 3.5-5.7 3.5-8.9 3.5-8.1 3.5-7.2 3.5-4.6 3.5-2.3 3.5 .9 3.5 3.6 3.5 6 3.5 5.6 3.5-3.2 3.5-14.4 3.5-14.5 3.5-12.2 3.5-9.2 3.5-7.4 3.5-6.9 3.5-7.2 3.5-7.9 3.5-8 3.5-7.3 3.5-6.2 3.5-5.4 3.5-5 3.5-4.6 3.5-4.2 3.5-3.9 3.5-3.4 3.5-3.1 3.5-2.9 3.5-2.8 3.5-3 3.5-2.9 3.5-2.4 3.5-1.7 3.5-.7 3.5 .5 3.5 1.7 3.5 3.3 3.5 3.5 3.5 2.4 3.5 1.3 3.5-.1 3.5-1.6 3.5 .8 3.5 5.5 3.5 6.9 3.5 4.5 3.5 2.3 3.5 1.6 3.5 1.6 3.5 2.7 3.5 3.9 3.5 3.9 3.5 2.7 3.5 1.8 3.5-.9 3.5-5.4 3.5-5.7 3.5-3.2 3.5 1.4 3.5 2.8 3.5 3.5 3.5 .7 3.5-2.9 3.5-2.8 3.5-2.2 3.5 .2 3.5 1.7 3.5 .1 3.5 .2 3.5 2.7 3.5 4.7 3.5 4.4 3.5 3.3 3.5 3.8 3.5 7 3.5 8.3 3.5 7.4 3.5 5.3 3.5 3.1 3.5-2.3 3.5-14.4 3.5-13.4 3.5-7.5 3.5-.6 3.5 2 3.5 4.3 3.5 6.4 3.5 6.8 3.5 6.9 3.5 5 3.5 4 3.5 3.9 3.5 1 3.5-6.8 3.5-7.4 3.5-6 3.5 .9 3.5 2.6 3.5 1.4 3.5-.3 3.5-.6 3.5-.8 3.5-1.1 3.5 .1 3.5 2.8 3.5 2.3 3.5 1.7 3.5 .9 3.5-2 3.5-7.5 3.5-7.4 3.5-6.5 3.5-5.3 3.5-4 3.5-3.3 3.5-3 3.5-2.2 3.5-.9 3.5-1.8 3.5-4.4 3.5-5.7 3.5-6.2 3.5-6.3 3.5-5.9 3.5-5.1 3.5-4.4 3.5-3.8 3.5-3.4 3.5-2.8 3.5-2.2 3.5-2 3.5-2.3 3.5-3.2 3.5-3.7 3.5-2.9 3.5-1.4 3.5 .2 3.5 2.3 3.5 5.1 3.5 9 3.5 9.8 3.5 8 3.5 7.6 3.5 7.6 3.5 7.8 3.5 11 3.5 14.3 3.5 12.3 3.5 8 3.5 3.5 3.5-2 3.5-4.9 3.5-6.3 3.5-8.5 3.5-9.4 3.5-8.2 3.5-6.7 3.5 9.7 3.5 36.1 3.5 35.3 3.5 40.5 3.5 8.7 3.5-38.6 3.5-37.6 3.5-23.8 3.5-14.4 3.5 4.7 3.5 9.7 3.5 .7 3.5 .3 3.5 1.6 3.5 2.4 3.5 3.9 3.5 3.5 3.5-6.4 3.5-21.8 3.5-16.9 3.5-10.6 3.5-5.8 3.5-3 3.5-2.1 3.5-2.1 3.5-2.2 3.5-2.2 3.5-4.6 3.5-8.2 3.5-9.2 3.5-9.1 3.5-9.3 3.5-9.2 3.5-9.5 3.5-9.4 3.5-8.8 3.5-7.6 3.5-6.2 3.5-4.8 3.5-3.9 3.5-3.2 3.5-2.6 3.5-2.2 3.5-1.8 3.5-1.1 3.5 2 3.5 5.8 3.5 7 3.5 5.3 3.5 0 3.5-5.2 3.5-5.1 3.5-5 3.5-3.8 3.5-1.8 3.5-.1 3.5 1.9 3.5 3.9 3.5 5.6 3.5 8 3.5 8.7 3.5 7 3.5 5.7 3.5 4.1 3.5 2.5 3.5 1.5 3.5 1 3.5 .4 3.5 .2 3.5 0 3.5-.1 3.5-.3 3.5-.4 3.5-.4 3.5-.4 3.5-.3 3.5 .4 3.5 .6 3.5 .7 3.5 .8 3.5 .6 3.5 .5 3.5 .5 3.5 .4 3.5 .7 3.5 .8 3.5 1.3 3.5 1.5 3.5 1.8 3.5 1.8 3.5 1.7 3.5 1.2 3.5 .9 3.5 .5 3.5 .5 3.5 .9 3.5 1.4 3.5 2.2 3.5 4.4 3.5 7.7 3.5 8.4 3.5 7 3.5 6.8 3.5 7.1 3.5 7 3.5 6.7 3.5 6.6 3.5 5.5 3.5 4.7 3.5 3.6 3.5 1.2 3.5-.7 3.5-1.7 3.5-2 3.5-2.4 3.5-2.8 3.5-2.5 3.5-1.8 3.5-.9 3.5-.3 3.5 .7 3.5 1.8 3.5 2.6 3.5 2.6 3.5 2.3 3.5 2.3 3.5 2.2 3.5 1.9 3.5 1.5 3.5 .6 3.5 0 3.5-.2 3.5-.7 3.5-.7 3.5-.4 3.5-.1 3.5 .1 3.5 0 3.5-.5 3.5-.8 3.5-.5 3.5 .4 3.5 1.2 3.5 1.4 3.5 1.2 3.5 .5 3.5-.9 3.5-1.8 3.5-2.1 3.5-1.8 3.5-1.6 3.5-1.6 3.5-1.1 3.5-.2 3.5 1.2 3.5 1.9 3.5 2 3.5 1.5 3.5 .6 3.5-.3 3.5-.6 3.5-.7 3.5-.6 3.5-.3 3.5-.3 3.5-.3 3.5-.5 3.5-.9 3.5-1.4 3.5-1.5 3.5-.8 3.5-.3 3.5-.1 3.5 .3 3.5 .6 3.5 .9 3.5 1.2 3.5 1.2 3.5 1.1 3.5 .7 3.5 .6 3.5 .4 3.5 .2 3.5 0 3.5-.2 3.5-.5 3.5-.6 3.5-.5 3.5-.2 3.5 .2 3.5 .3 3.5 .5 3.5 .7 3.5 .9 3.5 1 3.5 .8 3.5 .7 3.5 .5 3.5 .5 3.5 .4 3.5 .4 3.5 .5 3.5 .5 3.5 .5 3.5 .5 3.5 .2 3.5-.4 3.5-1.3 3.5-1.9 3.5-2 3.5-2.2 3.5-2.3 3.5-1.8 3.5-.8 3.5-.1 3.5 .6 3.5 1.2 3.5 2.1 3.5 3 3.5 3.9 3.5 5.4 3.5 4.3 3.5 1.6 3.5-.1 3.5-.8"/><path id="r12" d="M88.9 670.2l3.5-.2 3.5-.3 3.5-.2 3.5-.2 3.5-.1 3.5-.2 3.5-.2 3.5-.1 3.5-.2 3.5-.2 3.5-.2 3.5-.3 3.5-.4 3.5-.3 3.5-.5 3.5-.4 3.5-.4 3.5-.4 3.5-.4 3.5-.4 3.5-.4 3.5-.5 3.5-.5 3.5-.5 3.5-.6 3.5-.7 3.5-.7 3.5-.9 3.5-.9 3.5-1 3.5-1.1 3.5-1 3.5-1.2 3.5-1.1 3.5-1.2 3.5-1.3 3.5-1.2 3.5-1.1 3.5-1.2 3.5-1.1 3.5-1.2 3.5-1.2 3.5-1.4 3.5-1.8 3.5-1.8 3.5-1.3 3.5-.4 3.5 .5 3.5 1.3 3.5 2.3 3.5 .8 3.5-1.9 3.5-2 3.5-1.3 3.5-1.1 3.5-.7 3.5 0 3.5-.9 3.5-2.7 3.5-3.7 3.5-3.8 3.5-3.7 3.5-3.8 3.5-3.7 3.5-3.6 3.5-3.6 3.5-3.6 3.5-3.5 3.5-3.6 3.5-3.5 3.5-3.6 3.5-3.6 3.5-3.6 3.5-3.2 3.5-3.1 3.5-3 3.5-2.9 3.5-2.6 3.5-2 3.5-1.4 3.5-1.3 3.5-2 3.5-2.4 3.5-2.5 3.5-2.4 3.5-2.1 3.5-2.1 3.5-2 3.5-2 3.5-2 3.5-2 3.5-2 3.5-2.1 3.5-2 3.5-1.8 3.5-.3 3.5 .9 3.5 1.4 3.5 3 3.5 3.5 3.5-1.4 3.5-4.5 3.5-5.8 3.5-5.2 3.5 .5 3.5 5.3 3.5 3.9 3.5-5.6 3.5-8.9 3.5-8.1 3.5-7.2 3.5-4.6 3.5-2.3 3.5 .9 3.5 3.6 3.5 5.9 3.5 5.7 3.5-3.2 3.5-14.5 3.5-14.4 3.5-12.2 3.5-9.2 3.5-7.4 3.5-7 3.5-7.1 3.5-7.9 3.5-8 3.5-7.3 3.5-6.2 3.5-5.4 3.5-5 3.5-4.6 3.5-4.2 3.5-3.9 3.5-3.4 3.5-3.1 3.5-2.9 3.5-2.9 3.5-2.9 3.5-2.9 3.5-2.5 3.5-1.6 3.5-.7 3.5 .4 3.5 1.7 3.5 2.6 3.5 2.7 3.5 1.6 3.5 .6 3.5-.9 3.5-2.4 3.5 0 3.5 4.8 3.5 6.3 3.5 3.9 3.5 1.6 3.5 .8 3.5 .9 3.5 2.1 3.5 3.3 3.5 3.3 3.5 2.2 3.5 1.2 3.5-1.7 3.5-6.3 3.5-6.8 3.5-4.2 3.5 .8 3.5 2.2 3.5 3 3.5 0 3.5-3.8 3.5-3.7 3.5-3.2 3.5-.5 3.5 1 3.5-.6 3.5-.6 3.5 2.3 3.5 4.3 3.5 4.1 3.5 3 3.5 3.4 3.5 7 3.5 8.5 3.5 7.5 3.5 5.3 3.5 2.9 3.5-3.3 3.5-16.7 3.5-15.1 3.5-8.4 3.5-.9 3.5 2.1 3.5 4.9 3.5 7 3.5 7.6 3.5 7.6 3.5 5.6 3.5 4.4 3.5 4.3 3.5 1 3.5-7.7 3.5-8.4 3.5-7 3.5 1 3.5 2.8 3.5 1.5 3.5-.4 3.5-.8 3.5-.9 3.5-1.4 3.5 0 3.5 3.1 3.5 2.4 3.5 1.9 3.5 .9 3.5-2.3 3.5-8.5 3.5-8.6 3.5-7.5 3.5-6.1 3.5-4.6 3.5-3.9 3.5-3.4 3.5-2.6 3.5-1.1 3.5-2.2 3.5-5.2 3.5-6.6 3.5-7.2 3.5-7.2 3.5-6.9 3.5-5.9 3.5-5.1 3.5-4.5 3.5-4 3.5-3.3 3.5-2.6 3.5-2.4 3.5-2.8 3.5-3.8 3.5-4.4 3.5-3.4 3.5-1.8 3.5 .2 3.5 2.5 3.5 5.8 3.5 10.1 3.5 11.1 3.5 9 3.5 8.7 3.5 8.5 3.5 8.9 3.5 12.5 3.5 16.2 3.5 14.1 3.5 9.1 3.5 3.8 3.5-2.3 3.5-5.7 3.5-7.4 3.5-9.7 3.5-11 3.5-9.4 3.5-7.9 3.5 11.1 3.5 41.4 3.5 40.5 3.5 46.5 3.5 9.9 3.5-44.5 3.5-43.3 3.5-27.5 3.5-16.6 3.5 5.2 3.5 11.1 3.5 .8 3.5 .2 3.5 1.8 3.5 2.6 3.5 4.4 3.5 3.9 3.5-7.4 3.5-25.4 3.5-19.5 3.5-12.4 3.5-6.8 3.5-3.6 3.5-2.5 3.5-2.7 3.5-2.6 3.5-2.6 3.5-5.5 3.5-9.6 3.5-10.7 3.5-10.8 3.5-10.8 3.5-10.9 3.5-11.2 3.5-11 3.5-10.4 3.5-9 3.5-7.3 3.5-5.7 3.5-4.7 3.5-3.9 3.5-3.2 3.5-2.6 3.5-2.4 3.5-1.4 3.5 2.2 3.5 6.6 3.5 7.9 3.5 6 3.5-.3 3.5-6.2 3.5-6.2 3.5-6.1 3.5-4.7 3.5-2.3 3.5-.4 3.5 2 3.5 4.3 3.5 6.4 3.5 9.1 3.5 9.9 3.5 8 3.5 6.5 3.5 4.5 3.5 2.8 3.5 1.5 3.5 .9 3.5 .3 3.5 0 3.5-.2 3.5-.4 3.5-.5 3.5-.7 3.5-.8 3.5-.7 3.5-.5 3.5 .2 3.5 .5 3.5 .6 3.5 .6 3.5 .6 3.5 .3 3.5 .3 3.5 .3 3.5 .5 3.5 .8 3.5 1.3 3.5 1.6 3.5 1.8 3.5 1.9 3.5 1.8 3.5 1.2 3.5 .8 3.5 .4 3.5 .3 3.5 .8 3.5 1.5 3.5 2.3 3.5 5 3.5 8.9 3.5 9.7 3.5 8.2 3.5 7.9 3.5 8.1 3.5 8.1 3.5 7.9 3.5 7.6 3.5 6.3 3.5 5.4 3.5 4 3.5 1.3 3.5-1 3.5-2.3 3.5-2.7 3.5-3.1 3.5-3.6 3.5-3.2 3.5-2.4 3.5-1.4 3.5-.5 3.5 .5 3.5 1.9 3.5 2.9 3.5 2.9 3.5 2.5 3.5 2.4 3.5 2.4 3.5 2.2 3.5 1.4 3.5 .6 3.5-.3 3.5-.6 3.5-1 3.5-1.2 3.5-.8 3.5-.3 3.5-.3 3.5-.4 3.5-.9 3.5-1.4 3.5-.9 3.5 .1 3.5 1.1 3.5 1.3 3.5 1.1 3.5 .2 3.5-1.5 3.5-2.5 3.5-3.1 3.5-2.6 3.5-2.3 3.5-2.4 3.5-1.7 3.5-.6 3.5 .9 3.5 2 3.5 2 3.5 1.4 3.5 .2 3.5-.7 3.5-1.2 3.5-1.4 3.5-1.1 3.5-.9 3.5-.8 3.5-.8 3.5-1.1 3.5-1.6 3.5-2.2 3.5-2.3 3.5-1.5 3.5-1 3.5-.5 3.5-.2 3.5 .2 3.5 .6 3.5 .9 3.5 .9 3.5 .8 3.5 .4 3.5 .2 3.5-.1 3.5-.4 3.5-.5 3.5-.9 3.5-1.2 3.5-1.3 3.5-1.2 3.5-.8 3.5-.5 3.5-.2 3.5 0 3.5 .2 3.5 .5 3.5 .6 3.5 .4 3.5 .1 3.5 0 3.5-.1 3.5-.2 3.5-.1 3.5-.2 3.5-.1 3.5 0 3.5-.2 3.5-.5 3.5-1.3 3.5-2.4 3.5-3.2 3.5-3.3 3.5-3.6 3.5-3.8 3.5-3 3.5-1.9 3.5-1 3.5-.2 3.5 .7 3.5 1.7 3.5 2.9 3.5 4.1 3.5 6 3.5 4.5 3.5 1.1 3.5-1.2 3.5-1.9"/><path id="r13" d="M88.9 670.3l3.5-.3 3.5-.2 3.5-.3 3.5-.1 3.5-.2 3.5-.2 3.5-.1 3.5-.2 3.5-.1 3.5-.2 3.5-.3 3.5-.2 3.5-.4 3.5-.4 3.5-.4 3.5-.4 3.5-.4 3.5-.3 3.5-.4 3.5-.4 3.5-.5 3.5-.5 3.5-.4 3.5-.6 3.5-.5 3.5-.7 3.5-.7 3.5-.8 3.5-1 3.5-1 3.5-1 3.5-1 3.5-1.1 3.5-1.2 3.5-1.2 3.5-1.2 3.5-1.1 3.5-1.2 3.5-1.1 3.5-1.1 3.5-1.2 3.5-1.2 3.5-1.4 3.5-1.7 3.5-1.8 3.5-1.3 3.5-.3 3.5 .5 3.5 1.2 3.5 2.2 3.5 .8 3.5-1.8 3.5-2 3.5-1.3 3.5-1.1 3.5-.6 3.5 0 3.5-.9 3.5-2.6 3.5-3.7 3.5-3.8 3.5-3.7 3.5-3.7 3.5-3.7 3.5-3.6 3.5-3.6 3.5-3.5 3.5-3.6 3.5-3.5 3.5-3.6 3.5-3.6 3.5-3.6 3.5-3.6 3.5-3.2 3.5-3.2 3.5-3 3.5-2.9 3.5-2.6 3.5-2.1 3.5-1.5 3.5-1.3 3.5-2 3.5-2.5 3.5-2.5 3.5-2.4 3.5-2.2 3.5-2 3.5-2.1 3.5-2 3.5-2 3.5-2 3.5-2 3.5-2.1 3.5-2.1 3.5-1.8 3.5-.3 3.5 .8 3.5 1.4 3.5 3 3.5 3.4 3.5-1.4 3.5-4.5 3.5-5.8 3.5-5.3 3.5 .5 3.5 5.2 3.5 4 3.5-5.6 3.5-8.9 3.5-8.1 3.5-7.2 3.5-4.7 3.5-2.3 3.5 .9 3.5 3.7 3.5 5.9 3.5 5.7 3.5-3.2 3.5-14.5 3.5-14.4 3.5-12.2 3.5-9.2 3.5-7.4 3.5-7 3.5-7.2 3.5-7.8 3.5-8 3.5-7.3 3.5-6.2 3.5-5.5 3.5-4.9 3.5-4.6 3.5-4.3 3.5-3.8 3.5-3.4 3.5-3.1 3.5-2.9 3.5-2.9 3.5-2.9 3.5-2.9 3.5-2.5 3.5-1.7 3.5-.7 3.5 .5 3.5 1.7 3.5 3.3 3.5 3.4 3.5 2.3 3.5 1.3 3.5-.2 3.5-1.7 3.5 .8 3.5 5.4 3.5 6.9 3.5 4.4 3.5 2.2 3.5 1.5 3.5 1.6 3.5 2.6 3.5 3.8 3.5 3.9 3.5 2.7 3.5 1.7 3.5-1 3.5-5.4 3.5-5.8 3.5-3.3 3.5 1.3 3.5 2.8 3.5 3.4 3.5 .7 3.5-3 3.5-2.9 3.5-2.3 3.5 .2 3.5 1.6 3.5 0 3.5 .1 3.5 2.7 3.5 4.7 3.5 4.3 3.5 3.3 3.5 3.8 3.5 7 3.5 8.3 3.5 7.4 3.5 5.3 3.5 3.1 3.5-2.4 3.5-14.7 3.5-13.5 3.5-7.5 3.5-.7 3.5 2 3.5 4.4 3.5 6.4 3.5 6.9 3.5 6.9 3.5 5.1 3.5 4 3.5 3.9 3.5 1 3.5-6.8 3.5-7.5 3.5-6.1 3.5 .9 3.5 2.6 3.5 1.4 3.5-.3 3.5-.6 3.5-.8 3.5-1.2 3.5 .1 3.5 2.9 3.5 2.2 3.5 1.8 3.5 .9 3.5-2 3.5-7.6 3.5-7.6 3.5-6.6 3.5-5.3 3.5-4 3.5-3.4 3.5-3 3.5-2.3 3.5-.9 3.5-1.8 3.5-4.6 3.5-5.8 3.5-6.2 3.5-6.4 3.5-6 3.5-5.2 3.5-4.4 3.5-3.9 3.5-3.4 3.5-2.9 3.5-2.2 3.5-2 3.5-2.4 3.5-3.3 3.5-3.8 3.5-2.9 3.5-1.5 3.5 .2 3.5 2.4 3.5 5.2 3.5 9 3.5 9.9 3.5 8.1 3.5 7.7 3.5 7.7 3.5 7.9 3.5 11.1 3.5 14.5 3.5 12.4 3.5 8.1 3.5 3.5 3.5-2 3.5-4.9 3.5-6.5 3.5-8.5 3.5-9.6 3.5-8.3 3.5-6.8 3.5 9.8 3.5 36.5 3.5 35.8 3.5 41 3.5 8.8 3.5-39.1 3.5-38.1 3.5-24.1 3.5-14.6 3.5 4.6 3.5 9.9 3.5 .7 3.5 .3 3.5 1.6 3.5 2.4 3.5 4 3.5 3.4 3.5-6.4 3.5-22.2 3.5-17.1 3.5-10.8 3.5-5.9 3.5-3 3.5-2.2 3.5-2.2 3.5-2.2 3.5-2.2 3.5-4.7 3.5-8.4 3.5-9.3 3.5-9.3 3.5-9.4 3.5-9.4 3.5-9.7 3.5-9.5 3.5-9 3.5-7.7 3.5-6.3 3.5-4.9 3.5-4 3.5-3.2 3.5-2.7 3.5-2.2 3.5-1.9 3.5-1.2 3.5 2 3.5 5.9 3.5 7 3.5 5.4 3.5 0 3.5-5.3 3.5-5.2 3.5-5.2 3.5-3.8 3.5-1.9 3.5-.1 3.5 1.9 3.5 3.9 3.5 5.7 3.5 8.1 3.5 8.7 3.5 7.1 3.5 5.8 3.5 4.1 3.5 2.5 3.5 1.5 3.5 .9 3.5 .5 3.5 .1 3.5-.1 3.5-.1 3.5-.3 3.5-.5 3.5-.5 3.5-.4 3.5-.3 3.5 .3 3.5 .6 3.5 .7 3.5 .7 3.5 .6 3.5 .5 3.5 .4 3.5 .4 3.5 .6 3.5 .9 3.5 1.2 3.5 1.5 3.5 1.8 3.5 1.8 3.5 1.6 3.5 1.3 3.5 .8 3.5 .4 3.5 .5 3.5 .9 3.5 1.4 3.5 2.1 3.5 4.4 3.5 7.8 3.5 8.5 3.5 7.1 3.5 6.9 3.5 7.1 3.5 7 3.5 6.9 3.5 6.6 3.5 5.5 3.5 4.7 3.5 3.6 3.5 1.3 3.5-.8 3.5-1.8 3.5-2.1 3.5-2.5 3.5-2.9 3.5-2.6 3.5-1.9 3.5-1 3.5-.3 3.5 .5 3.5 1.8 3.5 2.7 3.5 2.5 3.5 2.3 3.5 2.2 3.5 2.2 3.5 1.9 3.5 1.4 3.5 .6 3.5-.1 3.5-.3 3.5-.7 3.5-.8 3.5-.5 3.5-.2 3.5 .1 3.5-.2 3.5-.6 3.5-.9 3.5-.5 3.5 .3 3.5 1.1 3.5 1.4 3.5 1.1 3.5 .3 3.5-.9 3.5-2 3.5-2.2 3.5-2 3.5-1.7 3.5-1.8 3.5-1.2 3.5-.2 3.5 1 3.5 1.9 3.5 1.9 3.5 1.4 3.5 .5 3.5-.4 3.5-.8 3.5-.8 3.5-.7 3.5-.5 3.5-.4 3.5-.4 3.5-.6 3.5-1.1 3.5-1.6 3.5-1.6 3.5-.9 3.5-.5 3.5-.2 3.5 .1 3.5 .4 3.5 .9 3.5 1 3.5 1.1 3.5 .9 3.5 .6 3.5 .4 3.5 .3 3.5 0 3.5-.1 3.5-.4 3.5-.7 3.5-.8 3.5-.7 3.5-.3 3.5 0 3.5 .1 3.5 .4 3.5 .4 3.5 .8 3.5 .8 3.5 .7 3.5 .4 3.5 .3 3.5 .3 3.5 .3 3.5 .2 3.5 .2 3.5 .3 3.5 .4 3.5 .2 3.5 0 3.5-.7 3.5-1.5 3.5-2.2 3.5-2.3 3.5-2.5 3.5-2.6 3.5-2.1 3.5-1.1 3.5-.4 3.5 .3 3.5 1 3.5 1.9 3.5 2.8 3.5 3.7 3.5 5.3 3.5 4.1 3.5 1.3 3.5-.4 3.5-1.1"/><path id="r14" d="M88.9 670.4l3.5-.3 3.5-.2 3.5-.2 3.5-.2 3.5-.1 3.5-.2 3.5-.1 3.5-.1 3.5-.2 3.5-.2 3.5-.2 3.5-.2 3.5-.4 3.5-.3 3.5-.4 3.5-.4 3.5-.3 3.5-.4 3.5-.3 3.5-.4 3.5-.4 3.5-.5 3.5-.4 3.5-.5 3.5-.5 3.5-.6 3.5-.7 3.5-.8 3.5-.8 3.5-.9 3.5-1 3.5-.9 3.5-1.1 3.5-1 3.5-1.1 3.5-1.1 3.5-1.1 3.5-1.1 3.5-1 3.5-1 3.5-1.1 3.5-1.1 3.5-1.3 3.5-1.6 3.5-1.6 3.5-1.2 3.5-.4 3.5 .5 3.5 1.1 3.5 2.1 3.5 .7 3.5-1.7 3.5-1.8 3.5-1.2 3.5-1 3.5-.6 3.5 0 3.5-.8 3.5-2.5 3.5-3.6 3.5-3.5 3.5-3.6 3.5-3.6 3.5-3.6 3.5-3.5 3.5-3.5 3.5-3.5 3.5-3.6 3.5-3.5 3.5-3.6 3.5-3.6 3.5-3.7 3.5-3.6 3.5-3.4 3.5-3.2 3.5-3.2 3.5-3.1 3.5-2.8 3.5-2.2 3.5-1.7 3.5-1.7 3.5-2.1 3.5-2.5 3.5-2.5 3.5-2.5 3.5-2.2 3.5-2.1 3.5-2.1 3.5-2.2 3.5-2 3.5-2.1 3.5-2.1 3.5-2.2 3.5-2.1 3.5-1.9 3.5-.5 3.5 .7 3.5 1.3 3.5 2.9 3.5 3.2 3.5-1.5 3.5-4.6 3.5-5.9 3.5-5.4 3.5 .4 3.5 5.1 3.5 4 3.5-5.6 3.5-8.9 3.5-8.1 3.5-7.2 3.5-4.7 3.5-2.3 3.5 .9 3.5 3.6 3.5 6 3.5 5.7 3.5-3.3 3.5-14.4 3.5-14.5 3.5-12.1 3.5-9.3 3.5-7.4 3.5-6.9 3.5-7.2 3.5-7.8 3.5-8 3.5-7.3 3.5-6.2 3.5-5.5 3.5-4.9 3.5-4.6 3.5-4.3 3.5-3.9 3.5-3.4 3.5-3 3.5-2.9 3.5-2.9 3.5-3 3.5-2.8 3.5-2.5 3.5-1.7 3.5-.7 3.5 .5 3.5 1.7 3.5 3.3 3.5 3.3 3.5 2.3 3.5 1.3 3.5-.2 3.5-1.7 3.5 .8 3.5 5.4 3.5 6.8 3.5 4.5 3.5 2.1 3.5 1.5 3.5 1.6 3.5 2.6 3.5 3.8 3.5 3.8 3.5 2.8 3.5 1.7 3.5-1 3.5-5.5 3.5-5.8 3.5-3.3 3.5 1.3 3.5 2.8 3.5 3.4 3.5 .6 3.5-3 3.5-2.9 3.5-2.3 3.5 .1 3.5 1.7 3.5 0 3.5 .1 3.5 2.7 3.5 4.6 3.5 4.3 3.5 3.4 3.5 3.7 3.5 7 3.5 8.3 3.5 7.4 3.5 5.3 3.5 3.1 3.5-2.4 3.5-14.7 3.5-13.6 3.5-7.5 3.5-.7 3.5 2 3.5 4.4 3.5 6.4 3.5 6.9 3.5 7 3.5 5.1 3.5 4 3.5 3.9 3.5 1 3.5-6.9 3.5-7.5 3.5-6.1 3.5 .9 3.5 2.6 3.5 1.4 3.5-.3 3.5-.6 3.5-.8 3.5-1.2 3.5 .1 3.5 2.8 3.5 2.3 3.5 1.7 3.5 1 3.5-2 3.5-7.6 3.5-7.6 3.5-6.6 3.5-5.4 3.5-4 3.5-3.4 3.5-3 3.5-2.3 3.5-.9 3.5-1.9 3.5-4.5 3.5-5.8 3.5-6.3 3.5-6.4 3.5-6.1 3.5-5.1 3.5-4.4 3.5-4 3.5-3.4 3.5-2.9 3.5-2.2 3.5-2 3.5-2.4 3.5-3.4 3.5-3.7 3.5-3 3.5-1.4 3.5 .2 3.5 2.3 3.5 5.2 3.5 9.1 3.5 9.9 3.5 8.1 3.5 7.7 3.5 7.7 3.5 7.9 3.5 11.2 3.5 14.4 3.5 12.5 3.5 8.2 3.5 3.4 3.5-2 3.5-4.9 3.5-6.5 3.5-8.6 3.5-9.6 3.5-8.3 3.5-6.8 3.5 9.8 3.5 36.6 3.5 35.9 3.5 41.1 3.5 8.8 3.5-39.2 3.5-38.2 3.5-24.2 3.5-14.6 3.5 4.6 3.5 9.9 3.5 .7 3.5 .3 3.5 1.6 3.5 2.4 3.5 4 3.5 3.4 3.5-6.4 3.5-22.3 3.5-17.1 3.5-10.9 3.5-5.9 3.5-3 3.5-2.2 3.5-2.2 3.5-2.2 3.5-2.3 3.5-4.7 3.5-8.4 3.5-9.3 3.5-9.3 3.5-9.5 3.5-9.4 3.5-9.7 3.5-9.6 3.5-9 3.5-7.8 3.5-6.3 3.5-4.9 3.5-4 3.5-3.3 3.5-2.7 3.5-2.2 3.5-1.9 3.5-1.1 3.5 1.9 3.5 5.9 3.5 7.1 3.5 5.4 3.5-.1 3.5-5.3 3.5-5.3 3.5-5.1 3.5-3.9 3.5-1.9 3.5-.1 3.5 1.8 3.5 4 3.5 5.7 3.5 8.1 3.5 8.7 3.5 7.1 3.5 5.8 3.5 4.1 3.5 2.5 3.5 1.5 3.5 .9 3.5 .4 3.5 .2 3.5-.1 3.5-.2 3.5-.3 3.5-.5 3.5-.5 3.5-.4 3.5-.4 3.5 .4 3.5 .6 3.5 .7 3.5 .6 3.5 .6 3.5 .5 3.5 .4 3.5 .4 3.5 .6 3.5 .8 3.5 1.2 3.5 1.5 3.5 1.8 3.5 1.8 3.5 1.6 3.5 1.2 3.5 .8 3.5 .5 3.5 .4 3.5 .9 3.5 1.3 3.5 2.2 3.5 4.4 3.5 7.8 3.5 8.5 3.5 7 3.5 7 3.5 7.1 3.5 7 3.5 6.9 3.5 6.6 3.5 5.5 3.5 4.7 3.5 3.6 3.5 1.3 3.5-.9 3.5-1.8 3.5-2.1 3.5-2.6 3.5-2.9 3.5-2.7 3.5-1.8 3.5-1.1 3.5-.3 3.5 .5 3.5 1.8 3.5 2.6 3.5 2.5 3.5 2.3 3.5 2.2 3.5 2.2 3.5 1.9 3.5 1.3 3.5 .6 3.5-.1 3.5-.4 3.5-.7 3.5-.8 3.5-.6 3.5-.2 3.5 0 3.5-.1 3.5-.7 3.5-.9 3.5-.6 3.5 .2 3.5 1.2 3.5 1.3 3.5 1.1 3.5 .3 3.5-1 3.5-2 3.5-2.3 3.5-2 3.5-1.8 3.5-1.8 3.5-1.3 3.5-.3 3.5 1 3.5 1.9 3.5 1.9 3.5 1.4 3.5 .3 3.5-.4 3.5-.8 3.5-.9 3.5-.7 3.5-.5 3.5-.5 3.5-.5 3.5-.7 3.5-1.1 3.5-1.6 3.5-1.7 3.5-1 3.5-.6 3.5-.2 3.5 0 3.5 .4 3.5 .8 3.5 1 3.5 1 3.5 .9 3.5 .5 3.5 .4 3.5 .1 3.5 0 3.5-.2 3.5-.5 3.5-.7 3.5-.9 3.5-.7 3.5-.4 3.5-.2 3.5 .1 3.5 .3 3.5 .4 3.5 .6 3.5 .8 3.5 .6 3.5 .4 3.5 .2 3.5 .2 3.5 .2 3.5 .1 3.5 .1 3.5 .2 3.5 .3 3.5 .2 3.5-.2 3.5-.7 3.5-1.7 3.5-2.3 3.5-2.4 3.5-2.6 3.5-2.7 3.5-2.2 3.5-1.2 3.5-.5 3.5 .2 3.5 .8 3.5 1.8 3.5 2.7 3.5 3.6 3.5 5.2 3.5 4 3.5 1.2 3.5-.6 3.5-1.2"/><path id="r15" d="M88.9 670.4l3.5-.3 3.5-.2 3.5-.2 3.5-.2 3.5-.1 3.5-.1 3.5-.2 3.5-.1 3.5-.2 3.5-.2 3.5-.2 3.5-.2 3.5-.3 3.5-.4 3.5-.4 3.5-.3 3.5-.4 3.5-.3 3.5-.4 3.5-.4 3.5-.4 3.5-.4 3.5-.5 3.5-.4 3.5-.6 3.5-.6 3.5-.6 3.5-.8 3.5-.9 3.5-.9 3.5-.9 3.5-1 3.5-1 3.5-1 3.5-1.1 3.5-1.1 3.5-1.1 3.5-1.1 3.5-1 3.5-1 3.5-1.1 3.5-1.1 3.5-1.3 3.5-1.5 3.5-1.7 3.5-1.2 3.5-.3 3.5 .5 3.5 1.1 3.5 2 3.5 .8 3.5-1.7 3.5-1.8 3.5-1.2 3.5-1 3.5-.6 3.5 0 3.5-.8 3.5-2.6 3.5-3.5 3.5-3.5 3.5-3.6 3.5-3.6 3.5-3.6 3.5-3.5 3.5-3.5 3.5-3.5 3.5-3.5 3.5-3.6 3.5-3.6 3.5-3.6 3.5-3.6 3.5-3.7 3.5-3.4 3.5-3.2 3.5-3.2 3.5-3.1 3.5-2.8 3.5-2.3 3.5-1.7 3.5-1.6 3.5-2.1 3.5-2.5 3.5-2.6 3.5-2.4 3.5-2.3 3.5-2.1 3.5-2.1 3.5-2.1 3.5-2.1 3.5-2.1 3.5-2.1 3.5-2.2 3.5-2.1 3.5-2 3.5-.4 3.5 .7 3.5 1.2 3.5 2.9 3.5 3.3 3.5-1.6 3.5-4.6 3.5-5.9 3.5-5.4 3.5 .4 3.5 5.1 3.5 4 3.5-5.6 3.5-8.9 3.5-8.2 3.5-7.2 3.5-4.6 3.5-2.3 3.5 .9 3.5 3.6 3.5 6 3.5 5.6 3.5-3.2 3.5-14.4 3.5-14.5 3.5-12.2 3.5-9.2 3.5-7.4 3.5-6.9 3.5-7.2 3.5-7.9 3.5-7.9 3.5-7.4 3.5-6.2 3.5-5.4 3.5-5 3.5-4.6 3.5-4.2 3.5-3.9 3.5-3.4 3.5-3.1 3.5-2.9 3.5-2.8 3.5-3 3.5-2.9 3.5-2.4 3.5-1.7 3.5-.7 3.5 .5 3.5 1.7 3.5 2.8 3.5 3 3.5 1.8 3.5 .8 3.5-.6 3.5-2.1 3.5 .3 3.5 5.1 3.5 6.5 3.5 4.1 3.5 1.8 3.5 1.1 3.5 1.1 3.5 2.3 3.5 3.5 3.5 3.5 3.5 2.4 3.5 1.4 3.5-1.4 3.5-6 3.5-6.4 3.5-3.9 3.5 1 3.5 2.5 3.5 3.1 3.5 .3 3.5-3.5 3.5-3.5 3.5-2.8 3.5-.3 3.5 1.3 3.5-.4 3.5-.3 3.5 2.4 3.5 4.5 3.5 4.1 3.5 3.2 3.5 3.5 3.5 7 3.5 8.4 3.5 7.5 3.5 5.3 3.5 2.9 3.5-2.9 3.5-15.9 3.5-14.5 3.5-8.1 3.5-.8 3.5 2.1 3.5 4.6 3.5 6.8 3.5 7.4 3.5 7.3 3.5 5.4 3.5 4.2 3.5 4.2 3.5 1 3.5-7.4 3.5-8 3.5-6.7 3.5 1 3.5 2.7 3.5 1.4 3.5-.3 3.5-.8 3.5-.9 3.5-1.3 3.5 .1 3.5 3 3.5 2.4 3.5 1.7 3.5 1 3.5-2.2 3.5-8.2 3.5-8.2 3.5-7.1 3.5-5.8 3.5-4.4 3.5-3.7 3.5-3.3 3.5-2.5 3.5-1 3.5-2.1 3.5-4.9 3.5-6.3 3.5-6.9 3.5-6.9 3.5-6.5 3.5-5.6 3.5-4.9 3.5-4.3 3.5-3.8 3.5-3.1 3.5-2.5 3.5-2.2 3.5-2.7 3.5-3.6 3.5-4.1 3.5-3.3 3.5-1.6 3.5 .1 3.5 2.4 3.5 5.6 3.5 9.7 3.5 10.6 3.5 8.7 3.5 8.3 3.5 8.2 3.5 8.5 3.5 12 3.5 15.5 3.5 13.5 3.5 8.7 3.5 3.7 3.5-2.2 3.5-5.4 3.5-7.1 3.5-9.3 3.5-10.5 3.5-9 3.5-7.4 3.5 10.6 3.5 39.5 3.5 38.7 3.5 44.4 3.5 9.5 3.5-42.5 3.5-41.3 3.5-26.2 3.5-15.9 3.5 5 3.5 10.6 3.5 .8 3.5 .2 3.5 1.7 3.5 2.6 3.5 4.2 3.5 3.7 3.5-7.1 3.5-24.1 3.5-18.7 3.5-11.8 3.5-6.4 3.5-3.4 3.5-2.4 3.5-2.5 3.5-2.5 3.5-2.5 3.5-5.1 3.5-9.2 3.5-10.2 3.5-10.2 3.5-10.3 3.5-10.4 3.5-10.6 3.5-10.4 3.5-9.9 3.5-8.5 3.5-7 3.5-5.4 3.5-4.4 3.5-3.7 3.5-3 3.5-2.5 3.5-2.2 3.5-1.3 3.5 2.1 3.5 6.3 3.5 7.5 3.5 5.8 3.5-.2 3.5-5.9 3.5-5.9 3.5-5.7 3.5-4.4 3.5-2.2 3.5-.3 3.5 2 3.5 4.1 3.5 6.1 3.5 8.7 3.5 9.5 3.5 7.6 3.5 6.2 3.5 4.3 3.5 2.6 3.5 1.5 3.5 .9 3.5 .4 3.5 0 3.5-.2 3.5-.3 3.5-.5 3.5-.7 3.5-.6 3.5-.6 3.5-.5 3.5 .2 3.5 .5 3.5 .7 3.5 .6 3.5 .5 3.5 .4 3.5 .3 3.5 .3 3.5 .5 3.5 .8 3.5 1.2 3.5 1.5 3.5 1.8 3.5 1.9 3.5 1.6 3.5 1.2 3.5 .8 3.5 .3 3.5 .4 3.5 .8 3.5 1.4 3.5 2.2 3.5 4.7 3.5 8.5 3.5 9.2 3.5 7.7 3.5 7.5 3.5 7.7 3.5 7.6 3.5 7.5 3.5 7.1 3.5 6 3.5 5.1 3.5 3.8 3.5 1.3 3.5-1.1 3.5-2.1 3.5-2.5 3.5-2.9 3.5-3.4 3.5-3.1 3.5-2.2 3.5-1.3 3.5-.5 3.5 .5 3.5 1.7 3.5 2.8 3.5 2.7 3.5 2.3 3.5 2.4 3.5 2.2 3.5 2 3.5 1.4 3.5 .5 3.5-.3 3.5-.5 3.5-1 3.5-1.1 3.5-.8 3.5-.3 3.5-.2 3.5-.4 3.5-.9 3.5-1.2 3.5-.9 3.5 .1 3.5 1 3.5 1.3 3.5 1 3.5 .1 3.5-1.3 3.5-2.4 3.5-2.9 3.5-2.4 3.5-2.3 3.5-2.2 3.5-1.6 3.5-.6 3.5 .9 3.5 1.9 3.5 1.9 3.5 1.3 3.5 .1 3.5-.6 3.5-1.2 3.5-1.3 3.5-1.1 3.5-.8 3.5-.7 3.5-.9 3.5-1 3.5-1.5 3.5-2.1 3.5-2.2 3.5-1.4 3.5-.9 3.5-.5 3.5-.2 3.5 .1 3.5 .6 3.5 .8 3.5 .8 3.5 .7 3.5 .4 3.5 .1 3.5-.2 3.5-.3 3.5-.6 3.5-.8 3.5-1.2 3.5-1.3 3.5-1.1 3.5-.8 3.5-.5 3.5-.2 3.5-.1 3.5 .1 3.5 .4 3.5 .5 3.5 .3 3.5 .1 3.5-.1 3.5-.2 3.5-.2 3.5-.2 3.5-.2 3.5-.2 3.5-.1 3.5-.2 3.5-.5 3.5-1.4 3.5-2.2 3.5-3.1 3.5-3.2 3.5-3.4 3.5-3.5 3.5-3 3.5-1.8 3.5-1 3.5-.3 3.5 .5 3.5 1.6 3.5 2.5 3.5 3.7 3.5 5.4 3.5 4.1 3.5 .9 3.5-1.2 3.5-1.9"/><path id="r16" d="M88.9 670.4l3.5-.2 3.5-.2 3.5-.2 3.5-.2 3.5-.1 3.5-.2 3.5-.1 3.5-.2 3.5-.1 3.5-.2 3.5-.2 3.5-.2 3.5-.3 3.5-.4 3.5-.3 3.5-.4 3.5-.3 3.5-.4 3.5-.3 3.5-.4 3.5-.4 3.5-.4 3.5-.4 3.5-.5 3.5-.5 3.5-.6 3.5-.6 3.5-.8 3.5-.8 3.5-.9 3.5-.9 3.5-.9 3.5-1 3.5-1 3.5-1.1 3.5-1 3.5-1.1 3.5-1 3.5-1 3.5-1 3.5-1 3.5-1.1 3.5-1.2 3.5-1.6 3.5-1.5 3.5-1.2 3.5-.3 3.5 .4 3.5 1.1 3.5 2 3.5 .7 3.5-1.6 3.5-1.8 3.5-1.1 3.5-1 3.5-.6 3.5 0 3.5-.8 3.5-2.5 3.5-3.4 3.5-3.5 3.5-3.5 3.5-3.6 3.5-3.5 3.5-3.5 3.5-3.5 3.5-3.5 3.5-3.5 3.5-3.6 3.5-3.5 3.5-3.6 3.5-3.7 3.5-3.7 3.5-3.4 3.5-3.3 3.5-3.3 3.5-3.1 3.5-2.9 3.5-2.3 3.5-1.8 3.5-1.8 3.5-2.1 3.5-2.5 3.5-2.6 3.5-2.5 3.5-2.2 3.5-2.2 3.5-2.2 3.5-2.1 3.5-2.1 3.5-2.1 3.5-2.2 3.5-2.2 3.5-2.1 3.5-2 3.5-.5 3.5 .7 3.5 1.2 3.5 2.8 3.5 3.2 3.5-1.6 3.5-4.6 3.5-6 3.5-5.4 3.5 .3 3.5 5.1 3.5 4 3.5-5.6 3.5-9 3.5-8.1 3.5-7.2 3.5-4.6 3.5-2.3 3.5 .9 3.5 3.6 3.5 6 3.5 5.6 3.5-3.2 3.5-14.4 3.5-14.5 3.5-12.2 3.5-9.2 3.5-7.4 3.5-6.9 3.5-7.2 3.5-7.9 3.5-8 3.5-7.3 3.5-6.2 3.5-5.4 3.5-5 3.5-4.6 3.5-4.2 3.5-3.9 3.5-3.4 3.5-3.1 3.5-2.9 3.5-2.9 3.5-2.9 3.5-2.9 3.5-2.5 3.5-1.6 3.5-.8 3.5 .5 3.5 1.7 3.5 3.7 3.5 3.8 3.5 2.6 3.5 1.6 3.5 .2 3.5-1.2 3.5 1.1 3.5 5.7 3.5 7.2 3.5 4.7 3.5 2.6 3.5 1.8 3.5 1.8 3.5 3 3.5 4.1 3.5 4.1 3.5 3 3.5 2 3.5-.6 3.5-5 3.5-5.3 3.5-2.9 3.5 1.7 3.5 3 3.5 3.7 3.5 1 3.5-2.5 3.5-2.5 3.5-1.9 3.5 .5 3.5 1.9 3.5 .4 3.5 .5 3.5 2.9 3.5 4.8 3.5 4.5 3.5 3.5 3.5 3.9 3.5 7 3.5 8.2 3.5 7.3 3.5 5.4 3.5 3.2 3.5-2 3.5-13.6 3.5-12.7 3.5-7.1 3.5-.5 3.5 1.9 3.5 4.2 3.5 6.1 3.5 6.5 3.5 6.5 3.5 4.9 3.5 3.8 3.5 3.7 3.5 1 3.5-6.4 3.5-7 3.5-5.8 3.5 1 3.5 2.5 3.5 1.3 3.5-.2 3.5-.6 3.5-.7 3.5-1 3.5 .1 3.5 2.7 3.5 2.2 3.5 1.6 3.5 .9 3.5-1.8 3.5-7.1 3.5-7 3.5-6.2 3.5-5 3.5-3.7 3.5-3.1 3.5-2.8 3.5-2 3.5-.8 3.5-1.7 3.5-4.2 3.5-5.4 3.5-5.9 3.5-5.9 3.5-5.5 3.5-4.8 3.5-4.1 3.5-3.6 3.5-3.1 3.5-2.7 3.5-2 3.5-1.8 3.5-2.2 3.5-3 3.5-3.5 3.5-2.7 3.5-1.3 3.5 .3 3.5 2.2 3.5 4.9 3.5 8.5 3.5 9.3 3.5 7.5 3.5 7.3 3.5 7.2 3.5 7.4 3.5 10.4 3.5 13.5 3.5 11.6 3.5 7.6 3.5 3.3 3.5-1.8 3.5-4.6 3.5-6 3.5-7.9 3.5-8.9 3.5-7.7 3.5-6.3 3.5 9.2 3.5 34 3.5 33.3 3.5 38.2 3.5 8.1 3.5-36.3 3.5-35.4 3.5-22.4 3.5-13.5 3.5 4.3 3.5 9.3 3.5 .7 3.5 .2 3.5 1.6 3.5 2.2 3.5 3.7 3.5 3.3 3.5-6 3.5-20.5 3.5-15.9 3.5-9.9 3.5-5.5 3.5-2.7 3.5-2 3.5-2 3.5-2 3.5-2 3.5-4.3 3.5-7.7 3.5-8.6 3.5-8.6 3.5-8.7 3.5-8.6 3.5-8.9 3.5-8.8 3.5-8.2 3.5-7.2 3.5-5.7 3.5-4.5 3.5-3.6 3.5-3 3.5-2.4 3.5-2 3.5-1.7 3.5-1 3.5 1.9 3.5 5.5 3.5 6.6 3.5 5 3.5 .1 3.5-4.8 3.5-4.8 3.5-4.7 3.5-3.4 3.5-1.7 3.5 0 3.5 1.8 3.5 3.7 3.5 5.3 3.5 7.6 3.5 8.1 3.5 6.6 3.5 5.4 3.5 3.8 3.5 2.4 3.5 1.4 3.5 1 3.5 .4 3.5 .2 3.5 .1 3.5-.1 3.5-.2 3.5-.4 3.5-.4 3.5-.3 3.5-.2 3.5 .4 3.5 .6 3.5 .7 3.5 .7 3.5 .6 3.5 .5 3.5 .5 3.5 .4 3.5 .6 3.5 .9 3.5 1.1 3.5 1.5 3.5 1.7 3.5 1.7 3.5 1.6 3.5 1.2 3.5 .8 3.5 .5 3.5 .4 3.5 .9 3.5 1.3 3.5 2 3.5 4.1 3.5 7.2 3.5 7.8 3.5 6.5 3.5 6.3 3.5 6.5 3.5 6.5 3.5 6.3 3.5 6 3.5 5.1 3.5 4.4 3.5 3.3 3.5 1.1 3.5-.6 3.5-1.6 3.5-1.9 3.5-2.2 3.5-2.6 3.5-2.4 3.5-1.6 3.5-.9 3.5-.3 3.5 .6 3.5 1.6 3.5 2.5 3.5 2.3 3.5 2.1 3.5 2.1 3.5 2 3.5 1.8 3.5 1.3 3.5 .5 3.5 0 3.5-.3 3.5-.6 3.5-.7 3.5-.4 3.5-.2 3.5 .1 3.5 0 3.5-.5 3.5-.7 3.5-.5 3.5 .4 3.5 1 3.5 1.3 3.5 1.1 3.5 .4 3.5-.8 3.5-1.7 3.5-2 3.5-1.7 3.5-1.5 3.5-1.5 3.5-1 3.5-.2 3.5 1 3.5 1.7 3.5 1.8 3.5 1.4 3.5 .4 3.5-.3 3.5-.6 3.5-.7 3.5-.6 3.5-.3 3.5-.3 3.5-.4 3.5-.5 3.5-.8 3.5-1.4 3.5-1.4 3.5-.8 3.5-.4 3.5-.1 3.5 .1 3.5 .5 3.5 .8 3.5 .9 3.5 1 3.5 .9 3.5 .6 3.5 .5 3.5 .2 3.5 .1 3.5-.1 3.5-.3 3.5-.6 3.5-.6 3.5-.6 3.5-.2 3.5 0 3.5 .2 3.5 .3 3.5 .5 3.5 .7 3.5 .7 3.5 .7 3.5 .4 3.5 .3 3.5 .3 3.5 .3 3.5 .2 3.5 .3 3.5 .2 3.5 .4 3.5 .3 3.5 0 3.5-.6 3.5-1.3 3.5-1.9 3.5-2 3.5-2.2 3.5-2.2 3.5-1.8 3.5-.9 3.5-.3 3.5 .3 3.5 .9 3.5 1.6 3.5 2.5 3.5 3.3 3.5 4.6 3.5 3.7 3.5 1.1 3.5-.3 3.5-1"/><path id="r17" d="M88.9 670.3l3.5-.3 3.5-.2 3.5-.2 3.5-.2 3.5-.1 3.5-.2 3.5-.1 3.5-.2 3.5-.2 3.5-.1 3.5-.3 3.5-.2 3.5-.4 3.5-.3 3.5-.4 3.5-.4 3.5-.4 3.5-.4 3.5-.3 3.5-.4 3.5-.5 3.5-.4 3.5-.5 3.5-.5 3.5-.5 3.5-.7 3.5-.7 3.5-.8 3.5-.9 3.5-.9 3.5-1 3.5-1.1 3.5-1 3.5-1.1 3.5-1.2 3.5-1.1 3.5-1.2 3.5-1.1 3.5-1.1 3.5-1 3.5-1.2 3.5-1.1 3.5-1.4 3.5-1.6 3.5-1.8 3.5-1.2 3.5-.4 3.5 .5 3.5 1.2 3.5 2.2 3.5 .7 3.5-1.7 3.5-1.9 3.5-1.3 3.5-1 3.5-.7 3.5 0 3.5-.8 3.5-2.6 3.5-3.7 3.5-3.6 3.5-3.7 3.5-3.7 3.5-3.6 3.5-3.6 3.5-3.5 3.5-3.6 3.5-3.5 3.5-3.6 3.5-3.5 3.5-3.6 3.5-3.6 3.5-3.7 3.5-3.3 3.5-3.1 3.5-3.2 3.5-2.9 3.5-2.7 3.5-2.2 3.5-1.5 3.5-1.5 3.5-2.1 3.5-2.4 3.5-2.6 3.5-2.4 3.5-2.2 3.5-2.1 3.5-2 3.5-2.1 3.5-2 3.5-2.1 3.5-2 3.5-2.1 3.5-2.1 3.5-1.9 3.5-.4 3.5 .8 3.5 1.3 3.5 3 3.5 3.3 3.5-1.4 3.5-4.6 3.5-5.8 3.5-5.4 3.5 .5 3.5 5.2 3.5 4 3.5-5.6 3.5-9 3.5-8.1 3.5-7.2 3.5-4.6 3.5-2.3 3.5 .9 3.5 3.6 3.5 6 3.5 5.6 3.5-3.2 3.5-14.4 3.5-14.5 3.5-12.2 3.5-9.2 3.5-7.4 3.5-7 3.5-7.1 3.5-7.9 3.5-8 3.5-7.3 3.5-6.2 3.5-5.4 3.5-5 3.5-4.6 3.5-4.3 3.5-3.8 3.5-3.4 3.5-3.1 3.5-2.9 3.5-2.9 3.5-2.9 3.5-2.9 3.5-2.5 3.5-1.7 3.5-.7 3.5 .5 3.5 1.7 3.5 3.7 3.5 3.8 3.5 2.6 3.5 1.7 3.5 .2 3.5-1.3 3.5 1.1 3.5 5.8 3.5 7.1 3.5 4.8 3.5 2.5 3.5 1.9 3.5 1.8 3.5 3 3.5 4.1 3.5 4.1 3.5 3 3.5 2.1 3.5-.7 3.5-4.9 3.5-5.3 3.5-2.9 3.5 1.7 3.5 3 3.5 3.7 3.5 1 3.5-2.5 3.5-2.4 3.5-1.9 3.5 .5 3.5 1.9 3.5 .4 3.5 .5 3.5 2.9 3.5 4.8 3.5 4.5 3.5 3.5 3.5 3.9 3.5 7 3.5 8.2 3.5 7.3 3.5 5.4 3.5 3.2 3.5-2 3.5-13.5 3.5-12.7 3.5-7.1 3.5-.6 3.5 1.9 3.5 4.2 3.5 6.1 3.5 6.6 3.5 6.5 3.5 4.8 3.5 3.8 3.5 3.7 3.5 1 3.5-6.4 3.5-7 3.5-5.7 3.5 .9 3.5 2.5 3.5 1.3 3.5-.2 3.5-.6 3.5-.6 3.5-1.1 3.5 .1 3.5 2.7 3.5 2.2 3.5 1.7 3.5 .9 3.5-1.9 3.5-7 3.5-7.1 3.5-6.1 3.5-5 3.5-3.7 3.5-3.1 3.5-2.8 3.5-2 3.5-.8 3.5-1.7 3.5-4.2 3.5-5.4 3.5-5.8 3.5-5.9 3.5-5.6 3.5-4.7 3.5-4.1 3.5-3.6 3.5-3.1 3.5-2.7 3.5-2 3.5-1.8 3.5-2.2 3.5-3 3.5-3.4 3.5-2.7 3.5-1.3 3.5 .2 3.5 2.2 3.5 4.9 3.5 8.5 3.5 9.2 3.5 7.6 3.5 7.3 3.5 7.1 3.5 7.4 3.5 10.4 3.5 13.4 3.5 11.7 3.5 7.5 3.5 3.3 3.5-1.8 3.5-4.6 3.5-6 3.5-7.9 3.5-8.9 3.5-7.6 3.5-6.3 3.5 9.1 3.5 34 3.5 33.2 3.5 38.1 3.5 8.1 3.5-36.2 3.5-35.3 3.5-22.4 3.5-13.5 3.5 4.4 3.5 9.2 3.5 .7 3.5 .2 3.5 1.6 3.5 2.2 3.5 3.7 3.5 3.2 3.5-5.9 3.5-20.5 3.5-15.8 3.5-10 3.5-5.4 3.5-2.7 3.5-2 3.5-2 3.5-2 3.5-2.1 3.5-4.3 3.5-7.6 3.5-8.6 3.5-8.5 3.5-8.7 3.5-8.7 3.5-8.8 3.5-8.8 3.5-8.2 3.5-7.1 3.5-5.8 3.5-4.4 3.5-3.7 3.5-2.9 3.5-2.4 3.5-2 3.5-1.8 3.5-.9 3.5 1.8 3.5 5.5 3.5 6.6 3.5 5 3.5 .1 3.5-4.8 3.5-4.8 3.5-4.6 3.5-3.5 3.5-1.6 3.5-.1 3.5 1.8 3.5 3.7 3.5 5.3 3.5 7.5 3.5 8.1 3.5 6.6 3.5 5.4 3.5 3.8 3.5 2.3 3.5 1.5 3.5 .9 3.5 .5 3.5 .2 3.5 0 3.5-.1 3.5-.2 3.5-.4 3.5-.4 3.5-.3 3.5-.2 3.5 .4 3.5 .6 3.5 .7 3.5 .6 3.5 .7 3.5 .5 3.5 .4 3.5 .4 3.5 .6 3.5 .9 3.5 1.1 3.5 1.5 3.5 1.7 3.5 1.6 3.5 1.6 3.5 1.2 3.5 .7 3.5 .5 3.5 .5 3.5 .8 3.5 1.4 3.5 2 3.5 4 3.5 7.2 3.5 7.7 3.5 6.5 3.5 6.3 3.5 6.5 3.5 6.4 3.5 6.3 3.5 6 3.5 5 3.5 4.3 3.5 3.3 3.5 1.2 3.5-.7 3.5-1.6 3.5-1.9 3.5-2.3 3.5-2.5 3.5-2.4 3.5-1.6 3.5-1 3.5-.2 3.5 .5 3.5 1.6 3.5 2.4 3.5 2.3 3.5 2.1 3.5 2.1 3.5 1.9 3.5 1.8 3.5 1.3 3.5 .5 3.5-.1 3.5-.2 3.5-.7 3.5-.7 3.5-.5 3.5-.1 3.5 .1 3.5-.1 3.5-.5 3.5-.8 3.5-.4 3.5 .2 3.5 1.1 3.5 1.3 3.5 1 3.5 .4 3.5-.9 3.5-1.7 3.5-2 3.5-1.7 3.5-1.6 3.5-1.5 3.5-1 3.5-.2 3.5 .9 3.5 1.7 3.5 1.8 3.5 1.3 3.5 .4 3.5-.3 3.5-.7 3.5-.7 3.5-.6 3.5-.4 3.5-.4 3.5-.4 3.5-.5 3.5-.9 3.5-1.4 3.5-1.4 3.5-.9 3.5-.4 3.5-.2 3.5 .2 3.5 .4 3.5 .7 3.5 .9 3.5 1 3.5 .8 3.5 .6 3.5 .3 3.5 .2 3.5 0 3.5-.1 3.5-.4 3.5-.6 3.5-.7 3.5-.6 3.5-.3 3.5 0 3.5 .1 3.5 .3 3.5 .4 3.5 .6 3.5 .7 3.5 .6 3.5 .3 3.5 .3 3.5 .2 3.5 .2 3.5 .2 3.5 .1 3.5 .2 3.5 .3 3.5 .2 3.5-.1 3.5-.6 3.5-1.4 3.5-2 3.5-2 3.5-2.3 3.5-2.3 3.5-1.9 3.5-1 3.5-.3 3.5 .2 3.5 .7 3.5 1.6 3.5 2.4 3.5 3.2 3.5 4.5 3.5 3.5 3.5 1.1 3.5-.5 3.5-1"/><path id="r18" d="M88.9 670.4l3.5-.3 3.5-.2 3.5-.2 3.5-.1 3.5-.2 3.5-.1 3.5-.2 3.5-.1 3.5-.2 3.5-.1 3.5-.2 3.5-.3 3.5-.3 3.5-.3 3.5-.4 3.5-.4 3.5-.3 3.5-.4 3.5-.3 3.5-.4 3.5-.4 3.5-.4 3.5-.5 3.5-.4 3.5-.5 3.5-.6 3.5-.7 3.5-.7 3.5-.9 3.5-.9 3.5-.9 3.5-1 3.5-1 3.5-1 3.5-1.1 3.5-1 3.5-1.1 3.5-1 3.5-1.1 3.5-1 3.5-1 3.5-1.1 3.5-1.3 3.5-1.5 3.5-1.6 3.5-1.2 3.5-.3 3.5 .4 3.5 1.1 3.5 2.1 3.5 .7 3.5-1.7 3.5-1.8 3.5-1.1 3.5-1 3.5-.6 3.5 0 3.5-.8 3.5-2.5 3.5-3.5 3.5-3.5 3.5-3.6 3.5-3.6 3.5-3.5 3.5-3.5 3.5-3.5 3.5-3.5 3.5-3.5 3.5-3.6 3.5-3.6 3.5-3.6 3.5-3.7 3.5-3.6 3.5-3.4 3.5-3.3 3.5-3.2 3.5-3.1 3.5-2.9 3.5-2.3 3.5-1.7 3.5-1.7 3.5-2.2 3.5-2.4 3.5-2.6 3.5-2.5 3.5-2.2 3.5-2.2 3.5-2.1 3.5-2.1 3.5-2.2 3.5-2.1 3.5-2.1 3.5-2.2 3.5-2.1 3.5-2 3.5-.5 3.5 .8 3.5 1.2 3.5 2.8 3.5 3.2 3.5-1.5 3.5-4.6 3.5-6 3.5-5.4 3.5 .4 3.5 5.1 3.5 4 3.5-5.7 3.5-8.9 3.5-8.1 3.5-7.2 3.5-4.6 3.5-2.3 3.5 .9 3.5 3.6 3.5 5.9 3.5 5.7 3.5-3.2 3.5-14.5 3.5-14.4 3.5-12.2 3.5-9.2 3.5-7.4 3.5-7 3.5-7.2 3.5-7.8 3.5-8 3.5-7.3 3.5-6.2 3.5-5.5 3.5-4.9 3.5-4.6 3.5-4.3 3.5-3.9 3.5-3.4 3.5-3 3.5-2.9 3.5-2.9 3.5-3 3.5-2.8 3.5-2.5 3.5-1.7 3.5-.7 3.5 .5 3.5 1.7 3.5 2.7 3.5 2.8 3.5 1.8 3.5 .7 3.5-.8 3.5-2.2 3.5 .2 3.5 4.9 3.5 6.4 3.5 4 3.5 1.7 3.5 1 3.5 1 3.5 2.2 3.5 3.4 3.5 3.5 3.5 2.3 3.5 1.2 3.5-1.5 3.5-6.2 3.5-6.5 3.5-4 3.5 .9 3.5 2.3 3.5 3.1 3.5 .1 3.5-3.6 3.5-3.6 3.5-3 3.5-.4 3.5 1.2 3.5-.5 3.5-.5 3.5 2.4 3.5 4.4 3.5 4.1 3.5 3.1 3.5 3.5 3.5 7 3.5 8.4 3.5 7.5 3.5 5.3 3.5 2.9 3.5-3.1 3.5-16.3 3.5-14.7 3.5-8.3 3.5-.8 3.5 2.1 3.5 4.7 3.5 6.9 3.5 7.5 3.5 7.4 3.5 5.5 3.5 4.3 3.5 4.2 3.5 1 3.5-7.5 3.5-8.3 3.5-6.8 3.5 1 3.5 2.8 3.5 1.4 3.5-.3 3.5-.8 3.5-.9 3.5-1.4 3.5 0 3.5 3.1 3.5 2.4 3.5 1.8 3.5 .9 3.5-2.2 3.5-8.4 3.5-8.4 3.5-7.3 3.5-5.9 3.5-4.5 3.5-3.8 3.5-3.4 3.5-2.5 3.5-1.1 3.5-2.1 3.5-5.1 3.5-6.4 3.5-7 3.5-7.1 3.5-6.7 3.5-5.7 3.5-5 3.5-4.4 3.5-3.9 3.5-3.2 3.5-2.5 3.5-2.4 3.5-2.7 3.5-3.7 3.5-4.3 3.5-3.3 3.5-1.7 3.5 .1 3.5 2.5 3.5 5.6 3.5 9.9 3.5 10.8 3.5 8.8 3.5 8.5 3.5 8.4 3.5 8.6 3.5 12.2 3.5 15.9 3.5 13.7 3.5 8.8 3.5 3.8 3.5-2.3 3.5-5.5 3.5-7.2 3.5-9.6 3.5-10.7 3.5-9.2 3.5-7.6 3.5 10.8 3.5 40.3 3.5 39.5 3.5 45.4 3.5 9.6 3.5-43.3 3.5-42.3 3.5-26.8 3.5-16.3 3.5 5.1 3.5 10.9 3.5 .7 3.5 .2 3.5 1.7 3.5 2.6 3.5 4.3 3.5 3.8 3.5-7.3 3.5-24.7 3.5-19.1 3.5-12.1 3.5-6.6 3.5-3.4 3.5-2.5 3.5-2.6 3.5-2.6 3.5-2.6 3.5-5.3 3.5-9.4 3.5-10.4 3.5-10.5 3.5-10.6 3.5-10.6 3.5-10.9 3.5-10.7 3.5-10.1 3.5-8.8 3.5-7.1 3.5-5.6 3.5-4.6 3.5-3.8 3.5-3.1 3.5-2.6 3.5-2.3 3.5-1.4 3.5 2.1 3.5 6.4 3.5 7.7 3.5 5.8 3.5-.2 3.5-6.1 3.5-6.1 3.5-5.9 3.5-4.5 3.5-2.3 3.5-.4 3.5 2 3.5 4.2 3.5 6.1 3.5 8.9 3.5 9.6 3.5 7.7 3.5 6.3 3.5 4.4 3.5 2.7 3.5 1.4 3.5 .9 3.5 .3 3.5 0 3.5-.3 3.5-.3 3.5-.6 3.5-.7 3.5-.8 3.5-.7 3.5-.5 3.5 .1 3.5 .5 3.5 .6 3.5 .5 3.5 .5 3.5 .3 3.5 .3 3.5 .3 3.5 .4 3.5 .7 3.5 1.2 3.5 1.5 3.5 1.8 3.5 1.8 3.5 1.6 3.5 1.2 3.5 .7 3.5 .3 3.5 .3 3.5 .7 3.5 1.4 3.5 2.2 3.5 4.8 3.5 8.6 3.5 9.3 3.5 7.8 3.5 7.7 3.5 7.8 3.5 7.8 3.5 7.5 3.5 7.3 3.5 6.1 3.5 5.1 3.5 3.9 3.5 1.2 3.5-1.2 3.5-2.3 3.5-2.6 3.5-3.1 3.5-3.6 3.5-3.2 3.5-2.4 3.5-1.4 3.5-.7 3.5 .4 3.5 1.8 3.5 2.8 3.5 2.6 3.5 2.3 3.5 2.3 3.5 2.2 3.5 2 3.5 1.3 3.5 .4 3.5-.4 3.5-.7 3.5-1.1 3.5-1.2 3.5-1 3.5-.4 3.5-.4 3.5-.5 3.5-1 3.5-1.4 3.5-1 3.5-.1 3.5 .9 3.5 1.2 3.5 .9 3.5 0 3.5-1.5 3.5-2.7 3.5-3 3.5-2.7 3.5-2.5 3.5-2.4 3.5-1.8 3.5-.8 3.5 .8 3.5 1.7 3.5 1.8 3.5 1.2 3.5 0 3.5-.9 3.5-1.4 3.5-1.5 3.5-1.2 3.5-1.1 3.5-.9 3.5-1.1 3.5-1.2 3.5-1.7 3.5-2.4 3.5-2.5 3.5-1.6 3.5-1.2 3.5-.7 3.5-.5 3.5 0 3.5 .4 3.5 .6 3.5 .6 3.5 .5 3.5 .2 3.5-.2 3.5-.4 3.5-.6 3.5-.8 3.5-1.1 3.5-1.4 3.5-1.6 3.5-1.5 3.5-1.1 3.5-.7 3.5-.5 3.5-.3 3.5-.2 3.5 .1 3.5 .2 3.5 .1 3.5-.3 3.5-.4 3.5-.4 3.5-.5 3.5-.5 3.5-.6 3.5-.5 3.5-.4 3.5-.6 3.5-.9 3.5-1.7 3.5-2.7 3.5-3.5 3.5-3.6 3.5-3.9 3.5-4.1 3.5-3.4 3.5-2.3 3.5-1.4 3.5-.7 3.5 .2 3.5 1.1 3.5 2.3 3.5 3.4 3.5 5.2 3.5 3.8 3.5 .5 3.5-1.7 3.5-2.4"/><path id="r19" d="M88.9 670.3l3.5-.3 3.5-.2 3.5-.3 3.5-.1 3.5-.2 3.5-.1 3.5-.2 3.5-.2 3.5-.1 3.5-.2 3.5-.2 3.5-.3 3.5-.4 3.5-.3 3.5-.4 3.5-.4 3.5-.4 3.5-.4 3.5-.4 3.5-.4 3.5-.4 3.5-.5 3.5-.5 3.5-.5 3.5-.6 3.5-.6 3.5-.7 3.5-.9 3.5-.9 3.5-.9 3.5-1.1 3.5-1 3.5-1.1 3.5-1.1 3.5-1.2 3.5-1.2 3.5-1.2 3.5-1.1 3.5-1.1 3.5-1.1 3.5-1.1 3.5-1.2 3.5-1.4 3.5-1.7 3.5-1.8 3.5-1.3 3.5-.3 3.5 .5 3.5 1.2 3.5 2.2 3.5 .8 3.5-1.8 3.5-2 3.5-1.3 3.5-1 3.5-.7 3.5 0 3.5-.9 3.5-2.6 3.5-3.7 3.5-3.7 3.5-3.7 3.5-3.7 3.5-3.7 3.5-3.5 3.5-3.6 3.5-3.6 3.5-3.5 3.5-3.6 3.5-3.6 3.5-3.5 3.5-3.7 3.5-3.5 3.5-3.3 3.5-3.2 3.5-3 3.5-3 3.5-2.6 3.5-2.1 3.5-1.5 3.5-1.4 3.5-2 3.5-2.5 3.5-2.5 3.5-2.4 3.5-2.2 3.5-2 3.5-2.1 3.5-2 3.5-2.1 3.5-2 3.5-2 3.5-2.1 3.5-2 3.5-1.9 3.5-.4 3.5 .9 3.5 1.4 3.5 2.9 3.5 3.4 3.5-1.4 3.5-4.5 3.5-5.9 3.5-5.3 3.5 .5 3.5 5.3 3.5 3.9 3.5-5.6 3.5-8.9 3.5-8.1 3.5-7.2 3.5-4.7 3.5-2.3 3.5 .9 3.5 3.7 3.5 5.9 3.5 5.7 3.5-3.2 3.5-14.5 3.5-14.4 3.5-12.2 3.5-9.3 3.5-7.4 3.5-6.9 3.5-7.2 3.5-7.8 3.5-8 3.5-7.3 3.5-6.2 3.5-5.5 3.5-4.9 3.5-4.6 3.5-4.3 3.5-3.9 3.5-3.4 3.5-3.1 3.5-2.9 3.5-2.8 3.5-3 3.5-2.9 3.5-2.4 3.5-1.7 3.5-.7 3.5 .5 3.5 1.7 3.5 2.8 3.5 3 3.5 1.9 3.5 .9 3.5-.6 3.5-2 3.5 .3 3.5 5.1 3.5 6.5 3.5 4.1 3.5 1.9 3.5 1.1 3.5 1.2 3.5 2.3 3.5 3.5 3.5 3.6 3.5 2.4 3.5 1.4 3.5-1.4 3.5-5.9 3.5-6.4 3.5-3.8 3.5 1.1 3.5 2.4 3.5 3.2 3.5 .3 3.5-3.5 3.5-3.4 3.5-2.7 3.5-.3 3.5 1.3 3.5-.3 3.5-.3 3.5 2.4 3.5 4.5 3.5 4.2 3.5 3.1 3.5 3.6 3.5 7 3.5 8.4 3.5 7.4 3.5 5.3 3.5 3 3.5-2.9 3.5-15.8 3.5-14.4 3.5-8.1 3.5-.7 3.5 2 3.5 4.6 3.5 6.8 3.5 7.3 3.5 7.3 3.5 5.4 3.5 4.2 3.5 4.1 3.5 1 3.5-7.4 3.5-8 3.5-6.6 3.5 1 3.5 2.7 3.5 1.4 3.5-.3 3.5-.8 3.5-.9 3.5-1.3 3.5 .1 3.5 3 3.5 2.3 3.5 1.8 3.5 .9 3.5-2.1 3.5-8.2 3.5-8.1 3.5-7.1 3.5-5.8 3.5-4.4 3.5-3.6 3.5-3.3 3.5-2.5 3.5-1 3.5-2.1 3.5-4.9 3.5-6.2 3.5-6.8 3.5-6.9 3.5-6.5 3.5-5.6 3.5-4.8 3.5-4.2 3.5-3.8 3.5-3.1 3.5-2.5 3.5-2.2 3.5-2.6 3.5-3.7 3.5-4.1 3.5-3.2 3.5-1.6 3.5 .1 3.5 2.4 3.5 5.5 3.5 9.7 3.5 10.5 3.5 8.6 3.5 8.3 3.5 8.1 3.5 8.4 3.5 11.9 3.5 15.5 3.5 13.3 3.5 8.6 3.5 3.7 3.5-2.2 3.5-5.4 3.5-7 3.5-9.2 3.5-10.4 3.5-9 3.5-7.4 3.5 10.5 3.5 39.3 3.5 38.4 3.5 44.1 3.5 9.3 3.5-42.1 3.5-41.1 3.5-26 3.5-15.8 3.5 5 3.5 10.6 3.5 .7 3.5 .2 3.5 1.7 3.5 2.5 3.5 4.2 3.5 3.6 3.5-7 3.5-24 3.5-18.5 3.5-11.7 3.5-6.5 3.5-3.3 3.5-2.4 3.5-2.5 3.5-2.5 3.5-2.5 3.5-5.1 3.5-9.1 3.5-10.2 3.5-10.1 3.5-10.2 3.5-10.3 3.5-10.6 3.5-10.4 3.5-9.8 3.5-8.4 3.5-7 3.5-5.3 3.5-4.5 3.5-3.6 3.5-3 3.5-2.5 3.5-2.2 3.5-1.3 3.5 2 3.5 6.2 3.5 7.5 3.5 5.7 3.5-.2 3.5-5.9 3.5-5.8 3.5-5.7 3.5-4.4 3.5-2.2 3.5-.3 3.5 1.9 3.5 4.1 3.5 6 3.5 8.6 3.5 9.4 3.5 7.5 3.5 6.1 3.5 4.3 3.5 2.6 3.5 1.5 3.5 .8 3.5 .3 3.5 0 3.5-.2 3.5-.3 3.5-.5 3.5-.7 3.5-.7 3.5-.6 3.5-.6 3.5 .2 3.5 .5 3.5 .6 3.5 .6 3.5 .5 3.5 .3 3.5 .3 3.5 .3 3.5 .4 3.5 .7 3.5 1.2 3.5 1.5 3.5 1.7 3.5 1.8 3.5 1.6 3.5 1.2 3.5 .6 3.5 .4 3.5 .3 3.5 .7 3.5 1.3 3.5 2.2 3.5 4.6 3.5 8.4 3.5 9 3.5 7.6 3.5 7.4 3.5 7.5 3.5 7.6 3.5 7.3 3.5 7 3.5 5.9 3.5 5 3.5 3.7 3.5 1.2 3.5-1.1 3.5-2.2 3.5-2.5 3.5-3 3.5-3.4 3.5-3.2 3.5-2.2 3.5-1.4 3.5-.6 3.5 .4 3.5 1.7 3.5 2.7 3.5 2.5 3.5 2.3 3.5 2.2 3.5 2.2 3.5 1.8 3.5 1.3 3.5 .4 3.5-.4 3.5-.6 3.5-1.1 3.5-1.1 3.5-.9 3.5-.5 3.5-.2 3.5-.5 3.5-1 3.5-1.3 3.5-1 3.5 0 3.5 .9 3.5 1.1 3.5 .9 3.5 0 3.5-1.4 3.5-2.5 3.5-2.9 3.5-2.6 3.5-2.3 3.5-2.3 3.5-1.8 3.5-.7 3.5 .8 3.5 1.6 3.5 1.8 3.5 1.1 3.5 .1 3.5-.9 3.5-1.3 3.5-1.4 3.5-1.2 3.5-.9 3.5-1 3.5-.9 3.5-1.2 3.5-1.6 3.5-2.3 3.5-2.3 3.5-1.6 3.5-1.1 3.5-.7 3.5-.4 3.5 0 3.5 .3 3.5 .6 3.5 .7 3.5 .5 3.5 .1 3.5-.1 3.5-.4 3.5-.5 3.5-.8 3.5-1 3.5-1.4 3.5-1.5 3.5-1.4 3.5-1 3.5-.7 3.5-.5 3.5-.3 3.5-.2 3.5 .1 3.5 .3 3.5 0 3.5-.2 3.5-.4 3.5-.4 3.5-.5 3.5-.5 3.5-.5 3.5-.5 3.5-.4 3.5-.5 3.5-.8 3.5-1.7 3.5-2.5 3.5-3.4 3.5-3.5 3.5-3.7 3.5-3.9 3.5-3.2 3.5-2.2 3.5-1.3 3.5-.7 3.5 .2 3.5 1.1 3.5 2.1 3.5 3.3 3.5 4.9 3.5 3.7 3.5 .4 3.5-1.6 3.5-2.3"/><path id="r20" d="M88.9 670.2l3.5-.3 3.5-.2 3.5-.2 3.5-.2 3.5-.2 3.5-.1 3.5-.2 3.5-.2 3.5-.1 3.5-.2 3.5-.3 3.5-.2 3.5-.4 3.5-.4 3.5-.4 3.5-.4 3.5-.4 3.5-.4 3.5-.4 3.5-.4 3.5-.5 3.5-.4 3.5-.5 3.5-.6 3.5-.6 3.5-.6 3.5-.8 3.5-.8 3.5-1 3.5-1 3.5-1 3.5-1.1 3.5-1.1 3.5-1.2 3.5-1.2 3.5-1.2 3.5-1.2 3.5-1.2 3.5-1.1 3.5-1.2 3.5-1.2 3.5-1.2 3.5-1.4 3.5-1.8 3.5-1.8 3.5-1.3 3.5-.4 3.5 .5 3.5 1.3 3.5 2.3 3.5 .8 3.5-1.9 3.5-2 3.5-1.3 3.5-1.1 3.5-.7 3.5 0 3.5-.9 3.5-2.7 3.5-3.7 3.5-3.8 3.5-3.8 3.5-3.7 3.5-3.7 3.5-3.6 3.5-3.6 3.5-3.6 3.5-3.6 3.5-3.5 3.5-3.6 3.5-3.5 3.5-3.7 3.5-3.5 3.5-3.3 3.5-3.1 3.5-3 3.5-2.8 3.5-2.6 3.5-2 3.5-1.4 3.5-1.3 3.5-2 3.5-2.4 3.5-2.5 3.5-2.4 3.5-2.2 3.5-2 3.5-2 3.5-2.1 3.5-2 3.5-1.9 3.5-2 3.5-2.1 3.5-2 3.5-1.8 3.5-.3 3.5 .9 3.5 1.4 3.5 3 3.5 3.4 3.5-1.4 3.5-4.4 3.5-5.8 3.5-5.3 3.5 .6 3.5 5.2 3.5 4 3.5-5.6 3.5-8.9 3.5-8.1 3.5-7.2 3.5-4.7 3.5-2.3 3.5 .9 3.5 3.6 3.5 6 3.5 5.6 3.5-3.2 3.5-14.4 3.5-14.5 3.5-12.2 3.5-9.2 3.5-7.4 3.5-6.9 3.5-7.2 3.5-7.9 3.5-7.9 3.5-7.4 3.5-6.2 3.5-5.4 3.5-5 3.5-4.6 3.5-4.2 3.5-3.9 3.5-3.4 3.5-3.1 3.5-2.9 3.5-2.9 3.5-2.9 3.5-2.9 3.5-2.5 3.5-1.7 3.5-.7 3.5 .5 3.5 1.7 3.5 3.2 3.5 3.3 3.5 2.1 3.5 1.2 3.5-.3 3.5-1.8 3.5 .6 3.5 5.4 3.5 6.7 3.5 4.4 3.5 2.1 3.5 1.3 3.5 1.5 3.5 2.5 3.5 3.8 3.5 3.7 3.5 2.6 3.5 1.7 3.5-1.1 3.5-5.6 3.5-6 3.5-3.5 3.5 1.3 3.5 2.7 3.5 3.3 3.5 .5 3.5-3.1 3.5-3 3.5-2.4 3.5 0 3.5 1.5 3.5-.1 3.5 0 3.5 2.6 3.5 4.6 3.5 4.3 3.5 3.3 3.5 3.7 3.5 7 3.5 8.3 3.5 7.4 3.5 5.3 3.5 3 3.5-2.5 3.5-15 3.5-13.8 3.5-7.7 3.5-.7 3.5 2 3.5 4.5 3.5 6.5 3.5 7 3.5 7 3.5 5.2 3.5 4 3.5 4 3.5 1 3.5-7 3.5-7.6 3.5-6.3 3.5 .9 3.5 2.6 3.5 1.4 3.5-.3 3.5-.7 3.5-.8 3.5-1.2 3.5 .1 3.5 2.9 3.5 2.3 3.5 1.7 3.5 .9 3.5-2 3.5-7.8 3.5-7.8 3.5-6.7 3.5-5.5 3.5-4.1 3.5-3.5 3.5-3.1 3.5-2.3 3.5-1 3.5-1.9 3.5-4.6 3.5-6 3.5-6.4 3.5-6.6 3.5-6.1 3.5-5.3 3.5-4.5 3.5-4.1 3.5-3.5 3.5-3 3.5-2.3 3.5-2 3.5-2.5 3.5-3.4 3.5-3.9 3.5-3.1 3.5-1.5 3.5 .2 3.5 2.4 3.5 5.2 3.5 9.3 3.5 10 3.5 8.2 3.5 7.9 3.5 7.8 3.5 8.1 3.5 11.3 3.5 14.7 3.5 12.7 3.5 8.3 3.5 3.5 3.5-2.1 3.5-5.1 3.5-6.6 3.5-8.8 3.5-9.8 3.5-8.5 3.5-7 3.5 10 3.5 37.3 3.5 36.6 3.5 41.9 3.5 8.9 3.5-40 3.5-39 3.5-24.7 3.5-15 3.5 4.7 3.5 10.1 3.5 .7 3.5 .2 3.5 1.7 3.5 2.4 3.5 4 3.5 3.5 3.5-6.7 3.5-22.7 3.5-17.6 3.5-11.1 3.5-6 3.5-3.2 3.5-2.2 3.5-2.3 3.5-2.4 3.5-2.3 3.5-4.8 3.5-8.6 3.5-9.6 3.5-9.6 3.5-9.7 3.5-9.7 3.5-9.9 3.5-9.8 3.5-9.3 3.5-8 3.5-6.5 3.5-5 3.5-4.2 3.5-3.4 3.5-2.8 3.5-2.4 3.5-2 3.5-1.2 3.5 2 3.5 5.9 3.5 7.2 3.5 5.4 3.5-.1 3.5-5.5 3.5-5.5 3.5-5.3 3.5-4.1 3.5-2 3.5-.2 3.5 1.9 3.5 3.9 3.5 5.8 3.5 8.1 3.5 8.9 3.5 7.2 3.5 5.8 3.5 4.1 3.5 2.5 3.5 1.4 3.5 .9 3.5 .4 3.5 0 3.5-.1 3.5-.3 3.5-.4 3.5-.6 3.5-.6 3.5-.5 3.5-.5 3.5 .3 3.5 .5 3.5 .6 3.5 .6 3.5 .5 3.5 .4 3.5 .3 3.5 .3 3.5 .5 3.5 .7 3.5 1.2 3.5 1.4 3.5 1.7 3.5 1.7 3.5 1.6 3.5 1.2 3.5 .6 3.5 .4 3.5 .3 3.5 .8 3.5 1.3 3.5 2.1 3.5 4.4 3.5 7.9 3.5 8.5 3.5 7.1 3.5 7 3.5 7.2 3.5 7.1 3.5 6.9 3.5 6.6 3.5 5.5 3.5 4.8 3.5 3.5 3.5 1.1 3.5-.9 3.5-2.1 3.5-2.3 3.5-2.8 3.5-3.1 3.5-2.9 3.5-2 3.5-1.3 3.5-.5 3.5 .4 3.5 1.6 3.5 2.6 3.5 2.4 3.5 2.1 3.5 2.2 3.5 2 3.5 1.8 3.5 1.2 3.5 .4 3.5-.3 3.5-.5 3.5-1 3.5-1 3.5-.8 3.5-.4 3.5-.2 3.5-.4 3.5-.8 3.5-1.2 3.5-.8 3.5 0 3.5 .9 3.5 1.1 3.5 .9 3.5 .1 3.5-1.3 3.5-2.3 3.5-2.6 3.5-2.3 3.5-2.1 3.5-2.1 3.5-1.6 3.5-.5 3.5 .7 3.5 1.6 3.5 1.7 3.5 1.1 3.5 .1 3.5-.7 3.5-1.1 3.5-1.3 3.5-1 3.5-.9 3.5-.7 3.5-.9 3.5-1 3.5-1.4 3.5-2.1 3.5-2.1 3.5-1.4 3.5-.9 3.5-.6 3.5-.3 3.5 0 3.5 .4 3.5 .7 3.5 .6 3.5 .5 3.5 .2 3.5 0 3.5-.3 3.5-.4 3.5-.6 3.5-1 3.5-1.2 3.5-1.3 3.5-1.2 3.5-.9 3.5-.6 3.5-.3 3.5-.2 3.5-.1 3.5 .2 3.5 .2 3.5 .1 3.5-.1 3.5-.3 3.5-.3 3.5-.4 3.5-.3 3.5-.5 3.5-.3 3.5-.3 3.5-.4 3.5-.8 3.5-1.4 3.5-2.3 3.5-3 3.5-3.1 3.5-3.3 3.5-3.5 3.5-3 3.5-1.9 3.5-1.1 3.5-.5 3.5 .2 3.5 1.1 3.5 2 3.5 3.1 3.5 4.5 3.5 3.4 3.5 .5 3.5-1.4 3.5-2"/><path id="r21" d="M88.9 670.4l3.5-.2 3.5-.3 3.5-.1 3.5-.2 3.5-.2 3.5-.1 3.5-.1 3.5-.2 3.5-.1 3.5-.2 3.5-.2 3.5-.3 3.5-.2 3.5-.4 3.5-.4 3.5-.3 3.5-.4 3.5-.3 3.5-.4 3.5-.3 3.5-.4 3.5-.4 3.5-.5 3.5-.4 3.5-.5 3.5-.6 3.5-.7 3.5-.7 3.5-.9 3.5-.8 3.5-1 3.5-.9 3.5-1 3.5-1 3.5-1.1 3.5-1 3.5-1.1 3.5-1 3.5-1 3.5-1 3.5-1 3.5-1.1 3.5-1.3 3.5-1.5 3.5-1.6 3.5-1.2 3.5-.3 3.5 .5 3.5 1.1 3.5 2 3.5 .7 3.5-1.7 3.5-1.7 3.5-1.2 3.5-.9 3.5-.6 3.5-.1 3.5-.8 3.5-2.4 3.5-3.5 3.5-3.5 3.5-3.5 3.5-3.6 3.5-3.5 3.5-3.5 3.5-3.5 3.5-3.5 3.5-3.5 3.5-3.6 3.5-3.6 3.5-3.6 3.5-3.6 3.5-3.7 3.5-3.4 3.5-3.3 3.5-3.3 3.5-3.1 3.5-2.9 3.5-2.3 3.5-1.8 3.5-1.7 3.5-2.2 3.5-2.5 3.5-2.6 3.5-2.4 3.5-2.3 3.5-2.1 3.5-2.2 3.5-2.1 3.5-2.1 3.5-2.2 3.5-2.1 3.5-2.2 3.5-2.2 3.5-1.9 3.5-.5 3.5 .7 3.5 1.2 3.5 2.8 3.5 3.2 3.5-1.6 3.5-4.6 3.5-6 3.5-5.4 3.5 .3 3.5 5.1 3.5 4 3.5-5.6 3.5-8.9 3.5-8.2 3.5-7.2 3.5-4.6 3.5-2.3 3.5 .9 3.5 3.6 3.5 6 3.5 5.6 3.5-3.2 3.5-14.4 3.5-14.5 3.5-12.2 3.5-9.2 3.5-7.4 3.5-6.9 3.5-7.2 3.5-7.9 3.5-8 3.5-7.3 3.5-6.2 3.5-5.4 3.5-5 3.5-4.6 3.5-4.3 3.5-3.8 3.5-3.4 3.5-3.1 3.5-2.9 3.5-2.9 3.5-2.9 3.5-2.9 3.5-2.5 3.5-1.7 3.5-.7 3.5 .5 3.5 1.7 3.5 3 3.5 3 3.5 2 3.5 .9 3.5-.5 3.5-1.9 3.5 .4 3.5 5.1 3.5 6.6 3.5 4.2 3.5 1.9 3.5 1.2 3.5 1.2 3.5 2.4 3.5 3.6 3.5 3.6 3.5 2.5 3.5 1.5 3.5-1.3 3.5-5.9 3.5-6.2 3.5-3.8 3.5 1.1 3.5 2.5 3.5 3.3 3.5 .3 3.5-3.3 3.5-3.3 3.5-2.7 3.5-.2 3.5 1.4 3.5-.3 3.5-.2 3.5 2.5 3.5 4.5 3.5 4.2 3.5 3.1 3.5 3.7 3.5 6.9 3.5 8.4 3.5 7.4 3.5 5.3 3.5 3 3.5-2.8 3.5-15.5 3.5-14.3 3.5-8 3.5-.7 3.5 2 3.5 4.6 3.5 6.7 3.5 7.2 3.5 7.2 3.5 5.4 3.5 4.1 3.5 4.1 3.5 1 3.5-7.3 3.5-7.9 3.5-6.5 3.5 1 3.5 2.6 3.5 1.4 3.5-.3 3.5-.7 3.5-.9 3.5-1.3 3.5 .1 3.5 2.9 3.5 2.4 3.5 1.7 3.5 1 3.5-2.2 3.5-8 3.5-8.1 3.5-7 3.5-5.7 3.5-4.3 3.5-3.6 3.5-3.2 3.5-2.5 3.5-1 3.5-2 3.5-4.8 3.5-6.2 3.5-6.7 3.5-6.8 3.5-6.4 3.5-5.5 3.5-4.7 3.5-4.2 3.5-3.7 3.5-3.1 3.5-2.4 3.5-2.2 3.5-2.6 3.5-3.6 3.5-4 3.5-3.2 3.5-1.6 3.5 .1 3.5 2.4 3.5 5.5 3.5 9.5 3.5 10.4 3.5 8.5 3.5 8.1 3.5 8.1 3.5 8.3 3.5 11.7 3.5 15.3 3.5 13.1 3.5 8.5 3.5 3.7 3.5-2.2 3.5-5.3 3.5-6.9 3.5-9.1 3.5-10.3 3.5-8.8 3.5-7.3 3.5 10.3 3.5 38.8 3.5 37.9 3.5 43.5 3.5 9.2 3.5-41.6 3.5-40.5 3.5-25.6 3.5-15.6 3.5 4.9 3.5 10.4 3.5 .7 3.5 .2 3.5 1.7 3.5 2.5 3.5 4.1 3.5 3.6 3.5-6.9 3.5-23.7 3.5-18.2 3.5-11.6 3.5-6.4 3.5-3.2 3.5-2.4 3.5-2.5 3.5-2.4 3.5-2.5 3.5-5 3.5-9 3.5-10 3.5-10 3.5-10.1 3.5-10.2 3.5-10.4 3.5-10.2 3.5-9.6 3.5-8.4 3.5-6.8 3.5-5.3 3.5-4.4 3.5-3.6 3.5-2.9 3.5-2.5 3.5-2.2 3.5-1.3 3.5 2 3.5 6.2 3.5 7.3 3.5 5.7 3.5-.2 3.5-5.8 3.5-5.8 3.5-5.6 3.5-4.3 3.5-2.1 3.5-.3 3.5 1.8 3.5 4.1 3.5 5.9 3.5 8.5 3.5 9.2 3.5 7.4 3.5 6.1 3.5 4.2 3.5 2.5 3.5 1.4 3.5 .9 3.5 .3 3.5 0 3.5-.2 3.5-.3 3.5-.6 3.5-.6 3.5-.7 3.5-.6 3.5-.5 3.5 .1 3.5 .5 3.5 .6 3.5 .5 3.5 .5 3.5 .4 3.5 .2 3.5 .3 3.5 .4 3.5 .7 3.5 1.1 3.5 1.5 3.5 1.7 3.5 1.8 3.5 1.5 3.5 1.2 3.5 .6 3.5 .3 3.5 .3 3.5 .8 3.5 1.2 3.5 2.2 3.5 4.5 3.5 8.2 3.5 8.9 3.5 7.4 3.5 7.2 3.5 7.5 3.5 7.4 3.5 7.1 3.5 6.9 3.5 5.8 3.5 4.8 3.5 3.7 3.5 1.1 3.5-1.1 3.5-2.2 3.5-2.5 3.5-2.9 3.5-3.4 3.5-3.1 3.5-2.2 3.5-1.4 3.5-.6 3.5 .3 3.5 1.7 3.5 2.6 3.5 2.5 3.5 2.1 3.5 2.2 3.5 2.1 3.5 1.8 3.5 1.2 3.5 .4 3.5-.4 3.5-.7 3.5-1.1 3.5-1.1 3.5-.9 3.5-.5 3.5-.3 3.5-.5 3.5-1 3.5-1.4 3.5-.9 3.5-.1 3.5 .8 3.5 1.1 3.5 .9 3.5-.1 3.5-1.4 3.5-2.5 3.5-2.9 3.5-2.6 3.5-2.3 3.5-2.3 3.5-1.8 3.5-.7 3.5 .7 3.5 1.6 3.5 1.6 3.5 1.1 3.5 0 3.5-.9 3.5-1.3 3.5-1.4 3.5-1.3 3.5-1 3.5-.9 3.5-1.1 3.5-1.2 3.5-1.6 3.5-2.3 3.5-2.4 3.5-1.6 3.5-1.1 3.5-.8 3.5-.4 3.5-.1 3.5 .3 3.5 .5 3.5 .5 3.5 .4 3.5 .1 3.5-.2 3.5-.4 3.5-.7 3.5-.8 3.5-1.1 3.5-1.5 3.5-1.5 3.5-1.5 3.5-1.1 3.5-.8 3.5-.5 3.5-.4 3.5-.3 3.5 0 3.5 .2 3.5-.1 3.5-.3 3.5-.5 3.5-.5 3.5-.6 3.5-.6 3.5-.6 3.5-.6 3.5-.5 3.5-.7 3.5-1 3.5-1.7 3.5-2.6 3.5-3.4 3.5-3.6 3.5-3.7 3.5-4 3.5-3.3 3.5-2.3 3.5-1.4 3.5-.8 3.5 0 3.5 .9 3.5 1.9 3.5 3 3.5 4.7 3.5 3.4 3.5 .3 3.5-1.8 3.5-2.4"/><path id="r22" d="M88.9 670.4l3.5-.2 3.5-.2 3.5-.2 3.5-.1 3.5-.2 3.5-.1 3.5-.2 3.5-.1 3.5-.1 3.5-.2 3.5-.2 3.5-.3 3.5-.2 3.5-.4 3.5-.3 3.5-.4 3.5-.3 3.5-.3 3.5-.4 3.5-.3 3.5-.4 3.5-.4 3.5-.5 3.5-.4 3.5-.5 3.5-.6 3.5-.6 3.5-.7 3.5-.8 3.5-.9 3.5-.9 3.5-.9 3.5-.9 3.5-1 3.5-1.1 3.5-1 3.5-1 3.5-1 3.5-1 3.5-.9 3.5-1 3.5-1.1 3.5-1.2 3.5-1.5 3.5-1.5 3.5-1.2 3.5-.3 3.5 .5 3.5 1 3.5 2 3.5 .7 3.5-1.6 3.5-1.7 3.5-1.2 3.5-.9 3.5-.6 3.5 0 3.5-.8 3.5-2.4 3.5-3.4 3.5-3.5 3.5-3.4 3.5-3.6 3.5-3.4 3.5-3.5 3.5-3.5 3.5-3.5 3.5-3.5 3.5-3.5 3.5-3.6 3.5-3.6 3.5-3.7 3.5-3.7 3.5-3.5 3.5-3.3 3.5-3.3 3.5-3.2 3.5-2.9 3.5-2.4 3.5-1.9 3.5-1.8 3.5-2.2 3.5-2.5 3.5-2.6 3.5-2.5 3.5-2.3 3.5-2.2 3.5-2.1 3.5-2.2 3.5-2.2 3.5-2.1 3.5-2.2 3.5-2.2 3.5-2.2 3.5-2 3.5-.5 3.5 .6 3.5 1.2 3.5 2.7 3.5 3.2 3.5-1.6 3.5-4.6 3.5-6 3.5-5.5 3.5 .3 3.5 5 3.5 4 3.5-5.6 3.5-8.9 3.5-8.2 3.5-7.2 3.5-4.6 3.5-2.3 3.5 .9 3.5 3.6 3.5 6 3.5 5.6 3.5-3.2 3.5-14.4 3.5-14.5 3.5-12.2 3.5-9.2 3.5-7.4 3.5-7 3.5-7.1 3.5-7.9 3.5-8 3.5-7.3 3.5-6.2 3.5-5.4 3.5-5 3.5-4.6 3.5-4.3 3.5-3.8 3.5-3.5 3.5-3 3.5-2.9 3.5-2.9 3.5-3 3.5-2.8 3.5-2.5 3.5-1.7 3.5-.7 3.5 .5 3.5 1.7 3.5 3.1 3.5 3.1 3.5 2.1 3.5 1.1 3.5-.4 3.5-1.9 3.5 .5 3.5 5.3 3.5 6.6 3.5 4.3 3.5 2.1 3.5 1.2 3.5 1.4 3.5 2.5 3.5 3.7 3.5 3.6 3.5 2.6 3.5 1.5 3.5-1.1 3.5-5.8 3.5-6 3.5-3.6 3.5 1.2 3.5 2.6 3.5 3.3 3.5 .4 3.5-3.2 3.5-3.2 3.5-2.5 3.5-.1 3.5 1.5 3.5-.2 3.5-.1 3.5 2.5 3.5 4.6 3.5 4.2 3.5 3.3 3.5 3.6 3.5 7 3.5 8.4 3.5 7.4 3.5 5.3 3.5 3 3.5-2.6 3.5-15.3 3.5-14 3.5-7.8 3.5-.8 3.5 2 3.5 4.6 3.5 6.6 3.5 7.1 3.5 7.1 3.5 5.2 3.5 4.1 3.5 4 3.5 1 3.5-7.1 3.5-7.7 3.5-6.5 3.5 1 3.5 2.6 3.5 1.4 3.5-.3 3.5-.7 3.5-.8 3.5-1.3 3.5 .1 3.5 2.9 3.5 2.3 3.5 1.7 3.5 1 3.5-2.1 3.5-7.9 3.5-7.9 3.5-6.8 3.5-5.6 3.5-4.2 3.5-3.6 3.5-3.1 3.5-2.4 3.5-1 3.5-2 3.5-4.7 3.5-6 3.5-6.6 3.5-6.7 3.5-6.2 3.5-5.4 3.5-4.6 3.5-4.1 3.5-3.7 3.5-3 3.5-2.3 3.5-2.2 3.5-2.5 3.5-3.5 3.5-3.9 3.5-3.2 3.5-1.5 3.5 .1 3.5 2.4 3.5 5.4 3.5 9.3 3.5 10.2 3.5 8.4 3.5 8 3.5 7.9 3.5 8.1 3.5 11.5 3.5 15 3.5 12.9 3.5 8.3 3.5 3.6 3.5-2.1 3.5-5.2 3.5-6.7 3.5-9 3.5-10 3.5-8.7 3.5-7.1 3.5 10.1 3.5 38 3.5 37.1 3.5 42.6 3.5 9.1 3.5-40.7 3.5-39.7 3.5-25.1 3.5-15.3 3.5 4.8 3.5 10.2 3.5 .7 3.5 .2 3.5 1.7 3.5 2.4 3.5 4.1 3.5 3.5 3.5-6.8 3.5-23.1 3.5-17.9 3.5-11.3 3.5-6.2 3.5-3.2 3.5-2.3 3.5-2.4 3.5-2.4 3.5-2.4 3.5-4.9 3.5-8.8 3.5-9.8 3.5-9.7 3.5-9.9 3.5-9.9 3.5-10.2 3.5-10 3.5-9.4 3.5-8.2 3.5-6.6 3.5-5.2 3.5-4.3 3.5-3.5 3.5-2.8 3.5-2.5 3.5-2.1 3.5-1.2 3.5 2 3.5 6 3.5 7.2 3.5 5.5 3.5-.1 3.5-5.7 3.5-5.6 3.5-5.5 3.5-4.1 3.5-2.1 3.5-.3 3.5 1.9 3.5 4 3.5 5.8 3.5 8.3 3.5 9 3.5 7.3 3.5 5.9 3.5 4.1 3.5 2.5 3.5 1.4 3.5 .9 3.5 .3 3.5 0 3.5-.2 3.5-.3 3.5-.5 3.5-.6 3.5-.7 3.5-.6 3.5-.4 3.5 .2 3.5 .4 3.5 .6 3.5 .6 3.5 .5 3.5 .3 3.5 .2 3.5 .3 3.5 .5 3.5 .7 3.5 1.1 3.5 1.5 3.5 1.6 3.5 1.7 3.5 1.6 3.5 1.1 3.5 .6 3.5 .4 3.5 .3 3.5 .7 3.5 1.2 3.5 2.1 3.5 4.5 3.5 8 3.5 8.6 3.5 7.3 3.5 7 3.5 7.3 3.5 7.2 3.5 7 3.5 6.7 3.5 5.6 3.5 4.8 3.5 3.5 3.5 1.1 3.5-1 3.5-2.2 3.5-2.4 3.5-2.9 3.5-3.2 3.5-3.1 3.5-2.1 3.5-1.4 3.5-.6 3.5 .4 3.5 1.6 3.5 2.5 3.5 2.4 3.5 2.2 3.5 2.1 3.5 2 3.5 1.8 3.5 1.1 3.5 .4 3.5-.4 3.5-.6 3.5-1.1 3.5-1.1 3.5-.9 3.5-.5 3.5-.3 3.5-.4 3.5-1 3.5-1.3 3.5-1 3.5 0 3.5 .8 3.5 1.1 3.5 .8 3.5 0 3.5-1.4 3.5-2.5 3.5-2.8 3.5-2.5 3.5-2.2 3.5-2.3 3.5-1.7 3.5-.7 3.5 .7 3.5 1.6 3.5 1.6 3.5 1 3.5 0 3.5-.8 3.5-1.3 3.5-1.4 3.5-1.2 3.5-1 3.5-.9 3.5-1 3.5-1.2 3.5-1.6 3.5-2.3 3.5-2.2 3.5-1.6 3.5-1.1 3.5-.7 3.5-.5 3.5-.1 3.5 .3 3.5 .5 3.5 .5 3.5 .4 3.5 0 3.5-.2 3.5-.4 3.5-.6 3.5-.8 3.5-1.1 3.5-1.4 3.5-1.6 3.5-1.4 3.5-1 3.5-.8 3.5-.6 3.5-.4 3.5-.3 3.5 .1 3.5 0 3.5 0 3.5-.4 3.5-.4 3.5-.6 3.5-.6 3.5-.6 3.5-.6 3.5-.6 3.5-.5 3.5-.7 3.5-.9 3.5-1.7 3.5-2.6 3.5-3.3 3.5-3.5 3.5-3.6 3.5-3.9 3.5-3.2 3.5-2.3 3.5-1.4 3.5-.8 3.5-.1 3.5 .9 3.5 1.9 3.5 2.8 3.5 4.5 3.5 3.2 3.5 .2 3.5-1.7 3.5-2.4"/><path id="r23" d="M88.9 670.3l3.5-.3 3.5-.2 3.5-.2 3.5-.2 3.5-.1 3.5-.2 3.5-.1 3.5-.2 3.5-.1 3.5-.2 3.5-.2 3.5-.3 3.5-.3 3.5-.4 3.5-.4 3.5-.4 3.5-.4 3.5-.3 3.5-.4 3.5-.4 3.5-.4 3.5-.5 3.5-.4 3.5-.5 3.5-.6 3.5-.6 3.5-.7 3.5-.8 3.5-.9 3.5-.9 3.5-1 3.5-1 3.5-1.1 3.5-1.1 3.5-1.1 3.5-1.2 3.5-1.1 3.5-1.1 3.5-1.1 3.5-1 3.5-1.1 3.5-1.2 3.5-1.3 3.5-1.7 3.5-1.7 3.5-1.2 3.5-.4 3.5 .5 3.5 1.2 3.5 2.1 3.5 .8 3.5-1.8 3.5-1.9 3.5-1.2 3.5-1 3.5-.7 3.5 0 3.5-.8 3.5-2.6 3.5-3.6 3.5-3.7 3.5-3.6 3.5-3.7 3.5-3.6 3.5-3.5 3.5-3.6 3.5-3.5 3.5-3.6 3.5-3.5 3.5-3.6 3.5-3.6 3.5-3.6 3.5-3.7 3.5-3.3 3.5-3.2 3.5-3.1 3.5-3 3.5-2.7 3.5-2.2 3.5-1.6 3.5-1.5 3.5-2 3.5-2.5 3.5-2.6 3.5-2.4 3.5-2.2 3.5-2.1 3.5-2.1 3.5-2.1 3.5-2 3.5-2 3.5-2.1 3.5-2.1 3.5-2.1 3.5-1.9 3.5-.4 3.5 .8 3.5 1.3 3.5 2.9 3.5 3.3 3.5-1.5 3.5-4.5 3.5-5.9 3.5-5.3 3.5 .4 3.5 5.2 3.5 4 3.5-5.6 3.5-9 3.5-8.1 3.5-7.2 3.5-4.6 3.5-2.3 3.5 .9 3.5 3.6 3.5 6 3.5 5.6 3.5-3.2 3.5-14.5 3.5-14.4 3.5-12.2 3.5-9.2 3.5-7.4 3.5-7 3.5-7.2 3.5-7.8 3.5-8 3.5-7.3 3.5-6.2 3.5-5.5 3.5-4.9 3.5-4.6 3.5-4.3 3.5-3.9 3.5-3.4 3.5-3.1 3.5-2.8 3.5-2.9 3.5-3 3.5-2.9 3.5-2.4 3.5-1.7 3.5-.7 3.5 .4 3.5 1.7 3.5 3.1 3.5 3.2 3.5 2.2 3.5 1 3.5-.4 3.5-1.8 3.5 .6 3.5 5.2 3.5 6.7 3.5 4.3 3.5 2.1 3.5 1.3 3.5 1.4 3.5 2.5 3.5 3.7 3.5 3.6 3.5 2.6 3.5 1.6 3.5-1.2 3.5-5.7 3.5-6 3.5-3.6 3.5 1.2 3.5 2.6 3.5 3.4 3.5 .4 3.5-3.2 3.5-3.1 3.5-2.5 3.5-.1 3.5 1.5 3.5-.1 3.5-.1 3.5 2.6 3.5 4.5 3.5 4.3 3.5 3.2 3.5 3.7 3.5 7 3.5 8.3 3.5 7.4 3.5 5.3 3.5 3 3.5-2.6 3.5-15.2 3.5-13.9 3.5-7.8 3.5-.7 3.5 2 3.5 4.5 3.5 6.6 3.5 7 3.5 7.1 3.5 5.2 3.5 4.1 3.5 4 3.5 1 3.5-7.1 3.5-7.7 3.5-6.4 3.5 1 3.5 2.6 3.5 1.4 3.5-.3 3.5-.7 3.5-.8 3.5-1.3 3.5 .1 3.5 2.9 3.5 2.3 3.5 1.7 3.5 .9 3.5-2.1 3.5-7.8 3.5-7.9 3.5-6.8 3.5-5.6 3.5-4.1 3.5-3.6 3.5-3.1 3.5-2.4 3.5-1 3.5-1.9 3.5-4.7 3.5-6.1 3.5-6.5 3.5-6.6 3.5-6.3 3.5-5.3 3.5-4.6 3.5-4.1 3.5-3.6 3.5-3 3.5-2.4 3.5-2.1 3.5-2.5 3.5-3.5 3.5-3.9 3.5-3.1 3.5-1.5 3.5 .1 3.5 2.4 3.5 5.3 3.5 9.3 3.5 10.2 3.5 8.3 3.5 8 3.5 7.8 3.5 8.1 3.5 11.5 3.5 14.9 3.5 12.8 3.5 8.4 3.5 3.5 3.5-2.1 3.5-5.2 3.5-6.7 3.5-8.9 3.5-10 3.5-8.6 3.5-7.1 3.5 10.1 3.5 37.8 3.5 37 3.5 42.4 3.5 9 3.5-40.6 3.5-39.5 3.5-25 3.5-15.1 3.5 4.7 3.5 10.2 3.5 .7 3.5 .2 3.5 1.6 3.5 2.5 3.5 4 3.5 3.5 3.5-6.7 3.5-23.1 3.5-17.8 3.5-11.2 3.5-6.2 3.5-3.2 3.5-2.3 3.5-2.4 3.5-2.4 3.5-2.3 3.5-5 3.5-8.7 3.5-9.7 3.5-9.8 3.5-9.8 3.5-9.9 3.5-10.1 3.5-9.9 3.5-9.4 3.5-8.2 3.5-6.6 3.5-5.1 3.5-4.3 3.5-3.5 3.5-2.8 3.5-2.4 3.5-2.1 3.5-1.3 3.5 2 3.5 6 3.5 7.2 3.5 5.5 3.5-.2 3.5-5.6 3.5-5.6 3.5-5.4 3.5-4.2 3.5-2 3.5-.3 3.5 1.8 3.5 4 3.5 5.8 3.5 8.2 3.5 9 3.5 7.2 3.5 5.9 3.5 4.1 3.5 2.5 3.5 1.4 3.5 .8 3.5 .4 3.5 0 3.5-.2 3.5-.3 3.5-.5 3.5-.7 3.5-.6 3.5-.6 3.5-.5 3.5 .2 3.5 .5 3.5 .5 3.5 .6 3.5 .5 3.5 .3 3.5 .2 3.5 .3 3.5 .5 3.5 .7 3.5 1 3.5 1.5 3.5 1.6 3.5 1.7 3.5 1.5 3.5 1.2 3.5 .6 3.5 .3 3.5 .3 3.5 .7 3.5 1.3 3.5 2 3.5 4.4 3.5 8 3.5 8.6 3.5 7.2 3.5 7 3.5 7.2 3.5 7.1 3.5 7 3.5 6.7 3.5 5.5 3.5 4.7 3.5 3.5 3.5 1.1 3.5-1 3.5-2.2 3.5-2.4 3.5-2.9 3.5-3.2 3.5-3.1 3.5-2.1 3.5-1.4 3.5-.6 3.5 .4 3.5 1.5 3.5 2.5 3.5 2.4 3.5 2.1 3.5 2.1 3.5 2 3.5 1.7 3.5 1.2 3.5 .3 3.5-.4 3.5-.7 3.5-1 3.5-1.2 3.5-.9 3.5-.5 3.5-.3 3.5-.5 3.5-1 3.5-1.3 3.5-.9 3.5-.1 3.5 .8 3.5 1 3.5 .8 3.5 0 3.5-1.5 3.5-2.4 3.5-2.8 3.5-2.5 3.5-2.3 3.5-2.3 3.5-1.7 3.5-.7 3.5 .7 3.5 1.5 3.5 1.5 3.5 1 3.5 0 3.5-.9 3.5-1.3 3.5-1.4 3.5-1.2 3.5-1.1 3.5-.9 3.5-1 3.5-1.2 3.5-1.7 3.5-2.2 3.5-2.3 3.5-1.6 3.5-1.1 3.5-.8 3.5-.5 3.5-.2 3.5 .3 3.5 .4 3.5 .5 3.5 .3 3.5 0 3.5-.2 3.5-.5 3.5-.7 3.5-.8 3.5-1.2 3.5-1.4 3.5-1.6 3.5-1.4 3.5-1.2 3.5-.8 3.5-.6 3.5-.4 3.5-.4 3.5 0 3.5 0 3.5-.1 3.5-.4 3.5-.6 3.5-.6 3.5-.6 3.5-.7 3.5-.7 3.5-.6 3.5-.6 3.5-.7 3.5-1.1 3.5-1.7 3.5-2.7 3.5-3.4 3.5-3.5 3.5-3.7 3.5-3.8 3.5-3.4 3.5-2.3 3.5-1.5 3.5-.8 3.5-.2 3.5 .8 3.5 1.7 3.5 2.8 3.5 4.3 3.5 3.1 3.5 .1 3.5-1.8 3.5-2.5"/><path id="r24" d="M88.9 669.7l3.5-.4 3.5-.3 3.5-.3 3.5-.2 3.5-.2 3.5-.3 3.5-.2 3.5-.2 3.5-.2 3.5-.3 3.5-.3 3.5-.4 3.5-.4 3.5-.6 3.5-.5 3.5-.6 3.5-.5 3.5-.5 3.5-.5 3.5-.6 3.5-.6 3.5-.7 3.5-.6 3.5-.7 3.5-.8 3.5-.9 3.5-1 3.5-1.1 3.5-1.3 3.5-1.3 3.5-1.4 3.5-1.5 3.5-1.5 3.5-1.5 3.5-1.6 3.5-1.7 3.5-1.6 3.5-1.5 3.5-1.5 3.5-1.6 3.5-1.5 3.5-1.7 3.5-1.9 3.5-2.3 3.5-2.4 3.5-1.8 3.5-.5 3.5 .7 3.5 1.6 3.5 3.1 3.5 1.1 3.5-2.5 3.5-2.7 3.5-1.8 3.5-1.5 3.5-.8 3.5-.1 3.5-1.1 3.5-3.2 3.5-4.5 3.5-4.5 3.5-4.3 3.5-4.4 3.5-4.1 3.5-4 3.5-3.8 3.5-3.8 3.5-3.6 3.5-3.6 3.5-3.5 3.5-3.5 3.5-3.4 3.5-3.3 3.5-2.8 3.5-2.6 3.5-2.4 3.5-2.1 3.5-1.8 3.5-1.1 3.5-.3 3.5-.3 3.5-1.5 3.5-2.2 3.5-2.3 3.5-2.1 3.5-1.9 3.5-1.8 3.5-1.7 3.5-1.7 3.5-1.6 3.5-1.6 3.5-1.7 3.5-1.6 3.5-1.7 3.5-1.3 3.5 .1 3.5 1.5 3.5 1.9 3.5 3.7 3.5 3.9 3.5-.9 3.5-4 3.5-5.4 3.5-4.8 3.5 1.1 3.5 5.8 3.5 4 3.5-5.7 3.5-8.9 3.5-8.1 3.5-7.2 3.5-4.6 3.5-2.3 3.5 .9 3.5 3.6 3.5 5.9 3.5 5.7 3.5-3.2 3.5-14.5 3.5-14.4 3.5-12.2 3.5-9.3 3.5-7.4 3.5-6.9 3.5-7.2 3.5-7.8 3.5-8 3.5-7.3 3.5-6.2 3.5-5.5 3.5-5 3.5-4.6 3.5-4.2 3.5-3.9 3.5-3.4 3.5-3.1 3.5-2.9 3.5-2.9 3.5-2.9 3.5-2.9 3.5-2.5 3.5-1.7 3.5-.7 3.5 .5 3.5 1.7 3.5 3 3.5 3.1 3.5 2 3.5 .9 3.5-.5 3.5-1.9 3.5 .4 3.5 5.2 3.5 6.6 3.5 4.2 3.5 1.9 3.5 1.2 3.5 1.3 3.5 2.4 3.5 3.6 3.5 3.6 3.5 2.5 3.5 1.5 3.5-1.3 3.5-5.8 3.5-6.2 3.5-3.7 3.5 1.1 3.5 2.5 3.5 3.2 3.5 .4 3.5-3.3 3.5-3.3 3.5-2.7 3.5-.1 3.5 1.4 3.5-.3 3.5-.2 3.5 2.5 3.5 4.5 3.5 4.2 3.5 3.2 3.5 3.6 3.5 7 3.5 8.4 3.5 7.4 3.5 5.3 3.5 3 3.5-2.8 3.5-15.5 3.5-14.2 3.5-8 3.5-.7 3.5 2 3.5 4.6 3.5 6.7 3.5 7.2 3.5 7.1 3.5 5.4 3.5 4.1 3.5 4 3.5 1.1 3.5-7.3 3.5-7.9 3.5-6.5 3.5 1 3.5 2.7 3.5 1.4 3.5-.4 3.5-.7 3.5-.9 3.5-1.2 3.5 0 3.5 2.9 3.5 2.4 3.5 1.7 3.5 .9 3.5-2.1 3.5-8 3.5-8 3.5-7 3.5-5.7 3.5-4.3 3.5-3.6 3.5-3.2 3.5-2.4 3.5-1 3.5-2.1 3.5-4.8 3.5-6.1 3.5-6.7 3.5-6.8 3.5-6.4 3.5-5.4 3.5-4.8 3.5-4.1 3.5-3.8 3.5-3 3.5-2.4 3.5-2.2 3.5-2.6 3.5-3.6 3.5-4 3.5-3.2 3.5-1.6 3.5 .1 3.5 2.4 3.5 5.5 3.5 9.5 3.5 10.3 3.5 8.5 3.5 8.1 3.5 8 3.5 8.3 3.5 11.7 3.5 15.1 3.5 13.1 3.5 8.5 3.5 3.6 3.5-2.1 3.5-5.3 3.5-6.9 3.5-9.1 3.5-10.2 3.5-8.8 3.5-7.3 3.5 10.3 3.5 38.6 3.5 37.7 3.5 43.3 3.5 9.2 3.5-41.4 3.5-40.4 3.5-25.5 3.5-15.6 3.5 4.9 3.5 10.4 3.5 .7 3.5 .2 3.5 1.6 3.5 2.5 3.5 4.1 3.5 3.6 3.5-7 3.5-23.5 3.5-18.2 3.5-11.6 3.5-6.3 3.5-3.3 3.5-2.3 3.5-2.5 3.5-2.4 3.5-2.5 3.5-5.1 3.5-8.9 3.5-10 3.5-9.9 3.5-10.1 3.5-10.1 3.5-10.4 3.5-10.2 3.5-9.6 3.5-8.4 3.5-6.8 3.5-5.2 3.5-4.4 3.5-3.6 3.5-3 3.5-2.5 3.5-2.1 3.5-1.3 3.5 1.9 3.5 6.2 3.5 7.3 3.5 5.5 3.5-.1 3.5-5.8 3.5-5.8 3.5-5.6 3.5-4.3 3.5-2.1 3.5-.3 3.5 1.8 3.5 4 3.5 5.9 3.5 8.4 3.5 9.2 3.5 7.3 3.5 6 3.5 4.2 3.5 2.5 3.5 1.4 3.5 .8 3.5 .3 3.5 0 3.5-.2 3.5-.4 3.5-.5 3.5-.7 3.5-.7 3.5-.7 3.5-.5 3.5 .1 3.5 .5 3.5 .5 3.5 .6 3.5 .4 3.5 .3 3.5 .2 3.5 .3 3.5 .4 3.5 .7 3.5 1 3.5 1.5 3.5 1.6 3.5 1.7 3.5 1.5 3.5 1.1 3.5 .6 3.5 .3 3.5 .3 3.5 .7 3.5 1.2 3.5 2.1 3.5 4.5 3.5 8.1 3.5 8.8 3.5 7.3 3.5 7.2 3.5 7.3 3.5 7.3 3.5 7.1 3.5 6.8 3.5 5.7 3.5 4.8 3.5 3.6 3.5 1 3.5-1.1 3.5-2.2 3.5-2.6 3.5-3 3.5-3.4 3.5-3.1 3.5-2.3 3.5-1.4 3.5-.7 3.5 .3 3.5 1.6 3.5 2.5 3.5 2.4 3.5 2.1 3.5 2.1 3.5 2 3.5 1.7 3.5 1.2 3.5 .3 3.5-.5 3.5-.7 3.5-1.2 3.5-1.2 3.5-1 3.5-.6 3.5-.4 3.5-.5 3.5-1.1 3.5-1.4 3.5-1.1 3.5-.1 3.5 .7 3.5 1 3.5 .8 3.5-.1 3.5-1.6 3.5-2.6 3.5-2.9 3.5-2.7 3.5-2.4 3.5-2.4 3.5-1.8 3.5-.9 3.5 .6 3.5 1.5 3.5 1.5 3.5 1 3.5-.1 3.5-1 3.5-1.5 3.5-1.5 3.5-1.4 3.5-1.1 3.5-1.1 3.5-1.1 3.5-1.3 3.5-1.8 3.5-2.4 3.5-2.5 3.5-1.7 3.5-1.3 3.5-.9 3.5-.6 3.5-.2 3.5 .1 3.5 .4 3.5 .4 3.5 .2 3.5-.1 3.5-.4 3.5-.5 3.5-.8 3.5-1 3.5-1.3 3.5-1.6 3.5-1.8 3.5-1.6 3.5-1.3 3.5-.9 3.5-.8 3.5-.6 3.5-.4 3.5-.2 3.5-.1 3.5-.3 3.5-.5 3.5-.7 3.5-.7 3.5-.8 3.5-.9 3.5-.8 3.5-.8 3.5-.8 3.5-.8 3.5-1.3 3.5-1.9 3.5-2.9 3.5-3.7 3.5-3.7 3.5-4 3.5-4.2 3.5-3.6 3.5-2.5 3.5-1.8 3.5-1 3.5-.3 3.5 .6 3.5 1.6 3.5 2.7 3.5 4.3 3.5 3 3.5 0 3.5-2.1 3.5-2.7"/><path id="r25" d="M88.9 670.3l3.5-.3 3.5-.2 3.5-.2 3.5-.2 3.5-.1 3.5-.2 3.5-.1 3.5-.2 3.5-.1 3.5-.2 3.5-.2 3.5-.3 3.5-.3 3.5-.4 3.5-.4 3.5-.4 3.5-.3 3.5-.4 3.5-.4 3.5-.4 3.5-.4 3.5-.4 3.5-.5 3.5-.5 3.5-.6 3.5-.6 3.5-.7 3.5-.8 3.5-.9 3.5-.9 3.5-1 3.5-1 3.5-1 3.5-1.1 3.5-1.2 3.5-1.1 3.5-1.1 3.5-1.1 3.5-1.1 3.5-1.1 3.5-1.1 3.5-1.1 3.5-1.4 3.5-1.6 3.5-1.7 3.5-1.3 3.5-.3 3.5 .5 3.5 1.1 3.5 2.2 3.5 .7 3.5-1.7 3.5-1.9 3.5-1.2 3.5-1.1 3.5-.6 3.5 0 3.5-.9 3.5-2.5 3.5-3.6 3.5-3.7 3.5-3.6 3.5-3.7 3.5-3.6 3.5-3.5 3.5-3.6 3.5-3.5 3.5-3.5 3.5-3.6 3.5-3.6 3.5-3.6 3.5-3.6 3.5-3.6 3.5-3.4 3.5-3.2 3.5-3.1 3.5-3 3.5-2.7 3.5-2.2 3.5-1.6 3.5-1.5 3.5-2.1 3.5-2.5 3.5-2.5 3.5-2.4 3.5-2.2 3.5-2.1 3.5-2.1 3.5-2.1 3.5-2.1 3.5-2 3.5-2.1 3.5-2.1 3.5-2.1 3.5-1.9 3.5-.4 3.5 .8 3.5 1.3 3.5 2.9 3.5 3.3 3.5-1.5 3.5-4.5 3.5-5.9 3.5-5.3 3.5 .4 3.5 5.2 3.5 3.9 3.5-5.6 3.5-8.9 3.5-8.1 3.5-7.2 3.5-4.7 3.5-2.3 3.5 .9 3.5 3.7 3.5 5.9 3.5 5.7 3.5-3.3 3.5-14.4 3.5-14.5 3.5-12.1 3.5-9.3 3.5-7.4 3.5-6.9 3.5-7.2 3.5-7.9 3.5-7.9 3.5-7.4 3.5-6.2 3.5-5.4 3.5-5 3.5-4.6 3.5-4.2 3.5-3.9 3.5-3.4 3.5-3.1 3.5-2.9 3.5-2.9 3.5-2.9 3.5-2.9 3.5-2.5 3.5-1.7 3.5-.7 3.5 .5 3.5 1.7 3.5 3.3 3.5 3.5 3.5 2.4 3.5 1.3 3.5-.2 3.5-1.5 3.5 .8 3.5 5.5 3.5 6.8 3.5 4.5 3.5 2.3 3.5 1.5 3.5 1.6 3.5 2.8 3.5 3.8 3.5 3.9 3.5 2.8 3.5 1.7 3.5-.9 3.5-5.4 3.5-5.7 3.5-3.2 3.5 1.4 3.5 2.8 3.5 3.5 3.5 .6 3.5-2.8 3.5-2.9 3.5-2.2 3.5 .2 3.5 1.7 3.5 0 3.5 .2 3.5 2.7 3.5 4.7 3.5 4.3 3.5 3.4 3.5 3.8 3.5 7 3.5 8.2 3.5 7.4 3.5 5.3 3.5 3.1 3.5-2.3 3.5-14.5 3.5-13.4 3.5-7.4 3.5-.7 3.5 1.9 3.5 4.4 3.5 6.4 3.5 6.8 3.5 6.8 3.5 5.1 3.5 3.9 3.5 3.9 3.5 1 3.5-6.8 3.5-7.4 3.5-6.1 3.5 .9 3.5 2.6 3.5 1.3 3.5-.2 3.5-.7 3.5-.7 3.5-1.2 3.5 .1 3.5 2.8 3.5 2.2 3.5 1.7 3.5 .9 3.5-2 3.5-7.5 3.5-7.5 3.5-6.5 3.5-5.3 3.5-4 3.5-3.4 3.5-2.9 3.5-2.3 3.5-.9 3.5-1.8 3.5-4.5 3.5-5.8 3.5-6.2 3.5-6.3 3.5-5.9 3.5-5.1 3.5-4.4 3.5-3.9 3.5-3.4 3.5-2.9 3.5-2.2 3.5-2 3.5-2.3 3.5-3.3 3.5-3.7 3.5-3 3.5-1.4 3.5 .2 3.5 2.3 3.5 5.1 3.5 8.9 3.5 9.8 3.5 7.9 3.5 7.7 3.5 7.5 3.5 7.8 3.5 11 3.5 14.2 3.5 12.3 3.5 8 3.5 3.4 3.5-2 3.5-5 3.5-6.3 3.5-8.5 3.5-9.5 3.5-8.2 3.5-6.8 3.5 9.7 3.5 36 3.5 35.3 3.5 40.5 3.5 8.6 3.5-38.6 3.5-37.7 3.5-23.8 3.5-14.5 3.5 4.6 3.5 9.7 3.5 .7 3.5 .2 3.5 1.6 3.5 2.3 3.5 3.9 3.5 3.3 3.5-6.4 3.5-21.9 3.5-16.9 3.5-10.8 3.5-5.8 3.5-3 3.5-2.2 3.5-2.2 3.5-2.3 3.5-2.2 3.5-4.7 3.5-8.3 3.5-9.2 3.5-9.2 3.5-9.4 3.5-9.3 3.5-9.6 3.5-9.5 3.5-8.9 3.5-7.7 3.5-6.2 3.5-4.9 3.5-4 3.5-3.3 3.5-2.7 3.5-2.2 3.5-2 3.5-1.2 3.5 1.9 3.5 5.8 3.5 6.9 3.5 5.2 3.5-.1 3.5-5.3 3.5-5.2 3.5-5.1 3.5-3.9 3.5-1.9 3.5-.2 3.5 1.8 3.5 3.7 3.5 5.6 3.5 7.9 3.5 8.5 3.5 6.9 3.5 5.6 3.5 4 3.5 2.4 3.5 1.3 3.5 .9 3.5 .3 3.5 0 3.5-.1 3.5-.2 3.5-.5 3.5-.5 3.5-.6 3.5-.5 3.5-.4 3.5 .2 3.5 .5 3.5 .5 3.5 .6 3.5 .5 3.5 .3 3.5 .3 3.5 .3 3.5 .5 3.5 .7 3.5 1 3.5 1.4 3.5 1.6 3.5 1.6 3.5 1.5 3.5 1.1 3.5 .6 3.5 .3 3.5 .3 3.5 .7 3.5 1.3 3.5 1.9 3.5 4.2 3.5 7.5 3.5 8.2 3.5 6.8 3.5 6.6 3.5 6.8 3.5 6.8 3.5 6.5 3.5 6.3 3.5 5.2 3.5 4.5 3.5 3.3 3.5 1.1 3.5-1 3.5-2 3.5-2.3 3.5-2.7 3.5-3 3.5-2.9 3.5-2 3.5-1.3 3.5-.5 3.5 .3 3.5 1.5 3.5 2.4 3.5 2.2 3.5 2 3.5 1.9 3.5 1.9 3.5 1.7 3.5 1 3.5 .4 3.5-.4 3.5-.6 3.5-1 3.5-1.1 3.5-.9 3.5-.4 3.5-.3 3.5-.4 3.5-.9 3.5-1.2 3.5-.9 3.5-.1 3.5 .8 3.5 1 3.5 .7 3.5 0 3.5-1.3 3.5-2.3 3.5-2.6 3.5-2.3 3.5-2.1 3.5-2.1 3.5-1.6 3.5-.7 3.5 .6 3.5 1.5 3.5 1.4 3.5 1 3.5-.1 3.5-.8 3.5-1.2 3.5-1.3 3.5-1.2 3.5-.9 3.5-.9 3.5-.9 3.5-1.1 3.5-1.6 3.5-2.1 3.5-2.1 3.5-1.5 3.5-1 3.5-.8 3.5-.4 3.5-.2 3.5 .2 3.5 .4 3.5 .5 3.5 .3 3.5 0 3.5-.3 3.5-.4 3.5-.7 3.5-.8 3.5-1.1 3.5-1.3 3.5-1.5 3.5-1.4 3.5-1 3.5-.8 3.5-.6 3.5-.5 3.5-.3 3.5-.1 3.5 0 3.5-.2 3.5-.4 3.5-.5 3.5-.6 3.5-.6 3.5-.7 3.5-.7 3.5-.6 3.5-.6 3.5-.7 3.5-1 3.5-1.7 3.5-2.5 3.5-3.2 3.5-3.3 3.5-3.4 3.5-3.7 3.5-3.1 3.5-2.2 3.5-1.4 3.5-.9 3.5-.2 3.5 .6 3.5 1.6 3.5 2.4 3.5 3.9 3.5 2.8 3.5 0 3.5-1.7 3.5-2.4"/><path id="r26" d="M88.9 669.7l3.5-.3 3.5-.4 3.5-.2 3.5-.3 3.5-.2 3.5-.2 3.5-.2 3.5-.3 3.5-.2 3.5-.2 3.5-.3 3.5-.4 3.5-.5 3.5-.5 3.5-.5 3.5-.6 3.5-.5 3.5-.5 3.5-.5 3.5-.6 3.5-.6 3.5-.6 3.5-.7 3.5-.7 3.5-.7 3.5-.9 3.5-1 3.5-1.1 3.5-1.3 3.5-1.3 3.5-1.4 3.5-1.4 3.5-1.5 3.5-1.5 3.5-1.6 3.5-1.6 3.5-1.6 3.5-1.5 3.5-1.5 3.5-1.5 3.5-1.6 3.5-1.6 3.5-1.9 3.5-2.3 3.5-2.4 3.5-1.8 3.5-.4 3.5 .7 3.5 1.6 3.5 3 3.5 1.1 3.5-2.5 3.5-2.7 3.5-1.7 3.5-1.4 3.5-.9 3.5-.1 3.5-1.1 3.5-3.1 3.5-4.5 3.5-4.4 3.5-4.4 3.5-4.3 3.5-4.1 3.5-3.9 3.5-3.9 3.5-3.7 3.5-3.7 3.5-3.6 3.5-3.5 3.5-3.4 3.5-3.4 3.5-3.3 3.5-2.9 3.5-2.6 3.5-2.4 3.5-2.2 3.5-1.8 3.5-1.2 3.5-.4 3.5-.3 3.5-1.5 3.5-2.2 3.5-2.3 3.5-2.2 3.5-1.9 3.5-1.7 3.5-1.8 3.5-1.7 3.5-1.7 3.5-1.6 3.5-1.6 3.5-1.7 3.5-1.7 3.5-1.4 3.5 .2 3.5 1.4 3.5 1.9 3.5 3.6 3.5 4 3.5-1 3.5-4.1 3.5-5.3 3.5-4.8 3.5 1 3.5 5.8 3.5 3.9 3.5-5.6 3.5-8.9 3.5-8.1 3.5-7.2 3.5-4.7 3.5-2.3 3.5 .9 3.5 3.6 3.5 6 3.5 5.6 3.5-3.2 3.5-14.4 3.5-14.5 3.5-12.2 3.5-9.2 3.5-7.4 3.5-6.9 3.5-7.2 3.5-7.9 3.5-8 3.5-7.3 3.5-6.2 3.5-5.4 3.5-5 3.5-4.6 3.5-4.3 3.5-3.8 3.5-3.4 3.5-3.1 3.5-2.9 3.5-2.9 3.5-3 3.5-2.8 3.5-2.5 3.5-1.7 3.5-.7 3.5 .5 3.5 1.7 3.5 3.1 3.5 3.3 3.5 2.2 3.5 1.1 3.5-.3 3.5-1.8 3.5 .6 3.5 5.4 3.5 6.7 3.5 4.3 3.5 2.1 3.5 1.4 3.5 1.4 3.5 2.6 3.5 3.7 3.5 3.8 3.5 2.6 3.5 1.6 3.5-1.1 3.5-5.6 3.5-6 3.5-3.5 3.5 1.3 3.5 2.7 3.5 3.3 3.5 .5 3.5-3.1 3.5-3 3.5-2.5 3.5 0 3.5 1.6 3.5-.2 3.5 0 3.5 2.7 3.5 4.5 3.5 4.3 3.5 3.3 3.5 3.7 3.5 7 3.5 8.3 3.5 7.4 3.5 5.3 3.5 3 3.5-2.5 3.5-15 3.5-13.9 3.5-7.7 3.5-.7 3.5 2 3.5 4.5 3.5 6.5 3.5 7 3.5 7 3.5 5.2 3.5 4.1 3.5 3.9 3.5 1 3.5-7 3.5-7.7 3.5-6.3 3.5 1 3.5 2.6 3.5 1.4 3.5-.3 3.5-.7 3.5-.8 3.5-1.3 3.5 .1 3.5 2.8 3.5 2.4 3.5 1.7 3.5 .9 3.5-2.1 3.5-7.8 3.5-7.7 3.5-6.8 3.5-5.5 3.5-4.1 3.5-3.5 3.5-3.1 3.5-2.4 3.5-.9 3.5-2 3.5-4.6 3.5-6 3.5-6.4 3.5-6.6 3.5-6.1 3.5-5.3 3.5-4.6 3.5-4 3.5-3.6 3.5-3 3.5-2.3 3.5-2.1 3.5-2.4 3.5-3.5 3.5-3.9 3.5-3 3.5-1.6 3.5 .2 3.5 2.3 3.5 5.3 3.5 9.2 3.5 10.1 3.5 8.2 3.5 7.9 3.5 7.7 3.5 8.1 3.5 11.3 3.5 14.7 3.5 12.7 3.5 8.2 3.5 3.6 3.5-2.1 3.5-5.2 3.5-6.6 3.5-8.8 3.5-9.9 3.5-8.5 3.5-7 3.5 10 3.5 37.3 3.5 36.5 3.5 42 3.5 8.8 3.5-40 3.5-39 3.5-24.8 3.5-15 3.5 4.7 3.5 10.1 3.5 .7 3.5 .2 3.5 1.6 3.5 2.4 3.5 3.9 3.5 3.5 3.5-6.7 3.5-22.7 3.5-17.6 3.5-11.1 3.5-6.1 3.5-3.2 3.5-2.3 3.5-2.3 3.5-2.4 3.5-2.4 3.5-4.8 3.5-8.7 3.5-9.6 3.5-9.6 3.5-9.7 3.5-9.8 3.5-10 3.5-9.8 3.5-9.3 3.5-8 3.5-6.6 3.5-5 3.5-4.3 3.5-3.4 3.5-2.8 3.5-2.4 3.5-2.1 3.5-1.2 3.5 1.9 3.5 5.9 3.5 7.1 3.5 5.4 3.5-.1 3.5-5.6 3.5-5.5 3.5-5.4 3.5-4.1 3.5-2 3.5-.3 3.5 1.8 3.5 3.9 3.5 5.7 3.5 8.1 3.5 8.9 3.5 7.1 3.5 5.8 3.5 4 3.5 2.5 3.5 1.4 3.5 .8 3.5 .3 3.5 0 3.5-.2 3.5-.3 3.5-.5 3.5-.7 3.5-.6 3.5-.7 3.5-.4 3.5 .1 3.5 .5 3.5 .5 3.5 .5 3.5 .5 3.5 .3 3.5 .2 3.5 .3 3.5 .4 3.5 .7 3.5 1 3.5 1.4 3.5 1.6 3.5 1.7 3.5 1.4 3.5 1.1 3.5 .6 3.5 .3 3.5 .2 3.5 .7 3.5 1.2 3.5 2 3.5 4.3 3.5 7.8 3.5 8.5 3.5 7 3.5 6.9 3.5 7 3.5 7.1 3.5 6.8 3.5 6.5 3.5 5.4 3.5 4.6 3.5 3.5 3.5 1 3.5-1.1 3.5-2.1 3.5-2.5 3.5-2.9 3.5-3.2 3.5-3 3.5-2.2 3.5-1.4 3.5-.7 3.5 .3 3.5 1.5 3.5 2.4 3.5 2.3 3.5 2 3.5 2 3.5 1.9 3.5 1.7 3.5 1 3.5 .3 3.5-.5 3.5-.7 3.5-1.1 3.5-1.2 3.5-.9 3.5-.6 3.5-.4 3.5-.5 3.5-1 3.5-1.4 3.5-1 3.5-.2 3.5 .7 3.5 1 3.5 .7 3.5-.1 3.5-1.5 3.5-2.5 3.5-2.8 3.5-2.6 3.5-2.3 3.5-2.3 3.5-1.8 3.5-.8 3.5 .6 3.5 1.4 3.5 1.4 3.5 .9 3.5-.1 3.5-1 3.5-1.4 3.5-1.5 3.5-1.3 3.5-1.1 3.5-1.1 3.5-1.1 3.5-1.3 3.5-1.7 3.5-2.3 3.5-2.4 3.5-1.7 3.5-1.2 3.5-.9 3.5-.6 3.5-.3 3.5 .1 3.5 .3 3.5 .3 3.5 .2 3.5-.1 3.5-.4 3.5-.6 3.5-.8 3.5-1 3.5-1.3 3.5-1.6 3.5-1.7 3.5-1.6 3.5-1.2 3.5-1 3.5-.8 3.5-.6 3.5-.5 3.5-.3 3.5-.1 3.5-.3 3.5-.6 3.5-.7 3.5-.8 3.5-.9 3.5-.8 3.5-.9 3.5-.9 3.5-.8 3.5-.9 3.5-1.2 3.5-2 3.5-2.8 3.5-3.6 3.5-3.6 3.5-3.9 3.5-4.1 3.5-3.5 3.5-2.5 3.5-1.7 3.5-1.1 3.5-.5 3.5 .5 3.5 1.4 3.5 2.4 3.5 4 3.5 2.7 3.5-.2 3.5-2 3.5-2.8"/><path id="r27" d="M88.9 670.4l3.5-.3 3.5-.2 3.5-.2 3.5-.1 3.5-.2 3.5-.1 3.5-.2 3.5-.1 3.5-.2 3.5-.1 3.5-.2 3.5-.3 3.5-.3 3.5-.3 3.5-.4 3.5-.4 3.5-.3 3.5-.4 3.5-.3 3.5-.4 3.5-.4 3.5-.4 3.5-.4 3.5-.5 3.5-.5 3.5-.6 3.5-.7 3.5-.7 3.5-.8 3.5-.9 3.5-1 3.5-.9 3.5-1 3.5-1 3.5-1.1 3.5-1.1 3.5-1 3.5-1 3.5-1.1 3.5-1 3.5-1 3.5-1.1 3.5-1.2 3.5-1.6 3.5-1.6 3.5-1.2 3.5-.3 3.5 .5 3.5 1.1 3.5 2 3.5 .7 3.5-1.6 3.5-1.8 3.5-1.2 3.5-1 3.5-.5 3.5-.1 3.5-.8 3.5-2.5 3.5-3.4 3.5-3.6 3.5-3.5 3.5-3.6 3.5-3.5 3.5-3.5 3.5-3.5 3.5-3.5 3.5-3.5 3.5-3.6 3.5-3.6 3.5-3.5 3.5-3.7 3.5-3.7 3.5-3.4 3.5-3.3 3.5-3.2 3.5-3.1 3.5-2.9 3.5-2.3 3.5-1.8 3.5-1.7 3.5-2.2 3.5-2.5 3.5-2.6 3.5-2.4 3.5-2.3 3.5-2.1 3.5-2.2 3.5-2.1 3.5-2.1 3.5-2.1 3.5-2.2 3.5-2.2 3.5-2.1 3.5-2 3.5-.5 3.5 .7 3.5 1.2 3.5 2.9 3.5 3.2 3.5-1.6 3.5-4.6 3.5-6 3.5-5.4 3.5 .3 3.5 5.1 3.5 4 3.5-5.6 3.5-8.9 3.5-8.1 3.5-7.3 3.5-4.6 3.5-2.3 3.5 .9 3.5 3.6 3.5 6 3.5 5.6 3.5-3.2 3.5-14.4 3.5-14.5 3.5-12.2 3.5-9.2 3.5-7.4 3.5-7 3.5-7.1 3.5-7.9 3.5-8 3.5-7.3 3.5-6.2 3.5-5.5 3.5-4.9 3.5-4.6 3.5-4.3 3.5-3.9 3.5-3.4 3.5-3 3.5-2.9 3.5-2.9 3.5-3 3.5-2.9 3.5-2.5 3.5-1.6 3.5-.7 3.5 .4 3.5 1.7 3.5 3.2 3.5 3.2 3.5 2.1 3.5 1.1 3.5-.4 3.5-1.8 3.5 .6 3.5 5.3 3.5 6.7 3.5 4.3 3.5 2.1 3.5 1.3 3.5 1.4 3.5 2.5 3.5 3.7 3.5 3.7 3.5 2.6 3.5 1.6 3.5-1.2 3.5-5.6 3.5-6.1 3.5-3.5 3.5 1.2 3.5 2.6 3.5 3.4 3.5 .5 3.5-3.2 3.5-3.1 3.5-2.5 3.5 0 3.5 1.4 3.5-.1 3.5-.1 3.5 2.6 3.5 4.6 3.5 4.3 3.5 3.2 3.5 3.7 3.5 7 3.5 8.3 3.5 7.4 3.5 5.3 3.5 3 3.5-2.6 3.5-15.1 3.5-13.9 3.5-7.8 3.5-.7 3.5 2 3.5 4.5 3.5 6.5 3.5 7.1 3.5 7 3.5 5.2 3.5 4.1 3.5 4 3.5 1 3.5-7.1 3.5-7.7 3.5-6.4 3.5 1 3.5 2.6 3.5 1.4 3.5-.3 3.5-.7 3.5-.8 3.5-1.3 3.5 .1 3.5 2.8 3.5 2.4 3.5 1.7 3.5 .9 3.5-2.1 3.5-7.8 3.5-7.8 3.5-6.9 3.5-5.5 3.5-4.2 3.5-3.5 3.5-3.1 3.5-2.4 3.5-1 3.5-1.9 3.5-4.7 3.5-6 3.5-6.6 3.5-6.6 3.5-6.2 3.5-5.3 3.5-4.6 3.5-4.1 3.5-3.6 3.5-3 3.5-2.3 3.5-2.2 3.5-2.5 3.5-3.4 3.5-4 3.5-3.1 3.5-1.5 3.5 .1 3.5 2.4 3.5 5.3 3.5 9.3 3.5 10.1 3.5 8.3 3.5 7.9 3.5 7.8 3.5 8.1 3.5 11.4 3.5 14.8 3.5 12.8 3.5 8.3 3.5 3.5 3.5-2.1 3.5-5.1 3.5-6.7 3.5-8.9 3.5-10 3.5-8.5 3.5-7.1 3.5 10 3.5 37.6 3.5 36.9 3.5 42.2 3.5 9 3.5-40.4 3.5-39.4 3.5-24.9 3.5-15.1 3.5 4.7 3.5 10.1 3.5 .7 3.5 .2 3.5 1.6 3.5 2.4 3.5 4 3.5 3.5 3.5-6.8 3.5-22.9 3.5-17.7 3.5-11.3 3.5-6.2 3.5-3.1 3.5-2.4 3.5-2.3 3.5-2.4 3.5-2.4 3.5-4.9 3.5-8.8 3.5-9.7 3.5-9.7 3.5-9.8 3.5-9.8 3.5-10.1 3.5-10 3.5-9.3 3.5-8.1 3.5-6.6 3.5-5.2 3.5-4.3 3.5-3.4 3.5-2.9 3.5-2.4 3.5-2.1 3.5-1.3 3.5 1.9 3.5 6 3.5 7.1 3.5 5.5 3.5-.2 3.5-5.6 3.5-5.6 3.5-5.5 3.5-4.1 3.5-2.1 3.5-.3 3.5 1.8 3.5 3.9 3.5 5.8 3.5 8.1 3.5 9 3.5 7.1 3.5 5.8 3.5 4.1 3.5 2.4 3.5 1.4 3.5 .8 3.5 .3 3.5 0 3.5-.2 3.5-.4 3.5-.5 3.5-.7 3.5-.7 3.5-.6 3.5-.5 3.5 .2 3.5 .4 3.5 .5 3.5 .5 3.5 .5 3.5 .2 3.5 .2 3.5 .3 3.5 .4 3.5 .6 3.5 1.1 3.5 1.4 3.5 1.6 3.5 1.6 3.5 1.4 3.5 1.1 3.5 .6 3.5 .3 3.5 .2 3.5 .6 3.5 1.2 3.5 2 3.5 4.3 3.5 7.9 3.5 8.5 3.5 7.1 3.5 6.9 3.5 7.1 3.5 7.1 3.5 6.8 3.5 6.6 3.5 5.5 3.5 4.6 3.5 3.4 3.5 1 3.5-1.1 3.5-2.2 3.5-2.5 3.5-2.9 3.5-3.3 3.5-3.1 3.5-2.2 3.5-1.5 3.5-.7 3.5 .3 3.5 1.5 3.5 2.4 3.5 2.3 3.5 2 3.5 1.9 3.5 1.9 3.5 1.7 3.5 1 3.5 .2 3.5-.5 3.5-.7 3.5-1.2 3.5-1.2 3.5-1 3.5-.6 3.5-.4 3.5-.6 3.5-1.1 3.5-1.4 3.5-1.1 3.5-.2 3.5 .7 3.5 .9 3.5 .6 3.5-.1 3.5-1.6 3.5-2.5 3.5-2.9 3.5-2.6 3.5-2.4 3.5-2.4 3.5-1.9 3.5-.8 3.5 .5 3.5 1.3 3.5 1.4 3.5 .9 3.5-.2 3.5-1 3.5-1.5 3.5-1.6 3.5-1.4 3.5-1.1 3.5-1.2 3.5-1.1 3.5-1.4 3.5-1.8 3.5-2.5 3.5-2.4 3.5-1.8 3.5-1.3 3.5-1 3.5-.6 3.5-.4 3.5 0 3.5 .3 3.5 .2 3.5 .2 3.5-.3 3.5-.4 3.5-.7 3.5-.9 3.5-1.1 3.5-1.3 3.5-1.7 3.5-1.8 3.5-1.7 3.5-1.4 3.5-1.1 3.5-.8 3.5-.8 3.5-.5 3.5-.4 3.5-.2 3.5-.4 3.5-.7 3.5-.8 3.5-.9 3.5-1 3.5-.9 3.5-1 3.5-1 3.5-.9 3.5-1 3.5-1.4 3.5-2.1 3.5-3 3.5-3.7 3.5-3.8 3.5-4 3.5-4.3 3.5-3.6 3.5-2.7 3.5-1.9 3.5-1.2 3.5-.6 3.5 .4 3.5 1.3 3.5 2.3 3.5 3.9 3.5 2.6 3.5-.3 3.5-2.2 3.5-3"/><path id="r28" d="M88.9 670.3l3.5-.2 3.5-.3 3.5-.2 3.5-.1 3.5-.2 3.5-.1 3.5-.2 3.5-.1 3.5-.2 3.5-.2 3.5-.2 3.5-.3 3.5-.3 3.5-.3 3.5-.4 3.5-.4 3.5-.4 3.5-.3 3.5-.4 3.5-.4 3.5-.4 3.5-.4 3.5-.5 3.5-.5 3.5-.5 3.5-.6 3.5-.7 3.5-.8 3.5-.9 3.5-.9 3.5-1 3.5-.9 3.5-1.1 3.5-1.1 3.5-1.1 3.5-1.1 3.5-1.1 3.5-1.1 3.5-1 3.5-1.1 3.5-1 3.5-1.2 3.5-1.3 3.5-1.6 3.5-1.7 3.5-1.2 3.5-.3 3.5 .4 3.5 1.2 3.5 2.1 3.5 .7 3.5-1.7 3.5-1.9 3.5-1.2 3.5-1 3.5-.6 3.5 0 3.5-.9 3.5-2.5 3.5-3.6 3.5-3.6 3.5-3.6 3.5-3.6 3.5-3.6 3.5-3.5 3.5-3.6 3.5-3.5 3.5-3.5 3.5-3.6 3.5-3.6 3.5-3.5 3.5-3.7 3.5-3.6 3.5-3.4 3.5-3.2 3.5-3.2 3.5-3 3.5-2.8 3.5-2.2 3.5-1.7 3.5-1.5 3.5-2.1 3.5-2.5 3.5-2.6 3.5-2.4 3.5-2.2 3.5-2.1 3.5-2.2 3.5-2.1 3.5-2 3.5-2.1 3.5-2.1 3.5-2.1 3.5-2.1 3.5-2 3.5-.4 3.5 .8 3.5 1.2 3.5 2.9 3.5 3.3 3.5-1.5 3.5-4.5 3.5-6 3.5-5.3 3.5 .4 3.5 5.1 3.5 4 3.5-5.6 3.5-8.9 3.5-8.2 3.5-7.2 3.5-4.6 3.5-2.3 3.5 .9 3.5 3.6 3.5 6 3.5 5.6 3.5-3.2 3.5-14.4 3.5-14.5 3.5-12.2 3.5-9.2 3.5-7.4 3.5-7 3.5-7.2 3.5-7.8 3.5-8 3.5-7.3 3.5-6.2 3.5-5.5 3.5-4.9 3.5-4.6 3.5-4.3 3.5-3.9 3.5-3.4 3.5-3.1 3.5-2.9 3.5-2.9 3.5-2.9 3.5-2.9 3.5-2.5 3.5-1.7 3.5-.7 3.5 .5 3.5 1.7 3.5 3.1 3.5 3.2 3.5 2.1 3.5 1.1 3.5-.4 3.5-1.8 3.5 .5 3.5 5.3 3.5 6.6 3.5 4.3 3.5 2.1 3.5 1.3 3.5 1.3 3.5 2.5 3.5 3.7 3.5 3.7 3.5 2.6 3.5 1.5 3.5-1.1 3.5-5.7 3.5-6.1 3.5-3.6 3.5 1.3 3.5 2.6 3.5 3.3 3.5 .4 3.5-3.2 3.5-3.1 3.5-2.5 3.5-.1 3.5 1.5 3.5-.2 3.5-.1 3.5 2.6 3.5 4.5 3.5 4.3 3.5 3.2 3.5 3.7 3.5 7 3.5 8.3 3.5 7.4 3.5 5.3 3.5 3 3.5-2.6 3.5-15.2 3.5-14 3.5-7.8 3.5-.7 3.5 2 3.5 4.5 3.5 6.6 3.5 7 3.5 7.1 3.5 5.3 3.5 4 3.5 4 3.5 1 3.5-7.1 3.5-7.7 3.5-6.4 3.5 1 3.5 2.6 3.5 1.3 3.5-.3 3.5-.7 3.5-.8 3.5-1.3 3.5 .1 3.5 2.9 3.5 2.3 3.5 1.7 3.5 .9 3.5-2.1 3.5-7.8 3.5-7.9 3.5-6.8 3.5-5.6 3.5-4.2 3.5-3.6 3.5-3.1 3.5-2.4 3.5-1 3.5-2 3.5-4.7 3.5-6 3.5-6.6 3.5-6.6 3.5-6.3 3.5-5.3 3.5-4.6 3.5-4.1 3.5-3.7 3.5-3 3.5-2.3 3.5-2.2 3.5-2.5 3.5-3.5 3.5-3.9 3.5-3.2 3.5-1.5 3.5 .1 3.5 2.4 3.5 5.3 3.5 9.3 3.5 10.2 3.5 8.3 3.5 7.9 3.5 7.9 3.5 8.1 3.5 11.5 3.5 14.8 3.5 12.9 3.5 8.3 3.5 3.6 3.5-2.2 3.5-5.2 3.5-6.7 3.5-8.9 3.5-10 3.5-8.7 3.5-7.1 3.5 10.1 3.5 37.8 3.5 37 3.5 42.4 3.5 9 3.5-40.6 3.5-39.5 3.5-25.1 3.5-15.2 3.5 4.8 3.5 10.1 3.5 .7 3.5 .2 3.5 1.6 3.5 2.4 3.5 4 3.5 3.5 3.5-6.7 3.5-23.1 3.5-17.8 3.5-11.3 3.5-6.2 3.5-3.3 3.5-2.3 3.5-2.4 3.5-2.4 3.5-2.4 3.5-5 3.5-8.7 3.5-9.8 3.5-9.8 3.5-9.8 3.5-9.9 3.5-10.2 3.5-10 3.5-9.4 3.5-8.2 3.5-6.6 3.5-5.2 3.5-4.3 3.5-3.5 3.5-2.9 3.5-2.4 3.5-2.2 3.5-1.2 3.5 1.9 3.5 6 3.5 7.1 3.5 5.5 3.5-.2 3.5-5.7 3.5-5.6 3.5-5.5 3.5-4.2 3.5-2.1 3.5-.3 3.5 1.8 3.5 3.9 3.5 5.8 3.5 8.2 3.5 8.9 3.5 7.2 3.5 5.9 3.5 4 3.5 2.5 3.5 1.3 3.5 .8 3.5 .3 3.5 0 3.5-.3 3.5-.3 3.5-.6 3.5-.7 3.5-.7 3.5-.6 3.5-.6 3.5 .2 3.5 .4 3.5 .5 3.5 .5 3.5 .4 3.5 .3 3.5 .2 3.5 .2 3.5 .4 3.5 .6 3.5 1 3.5 1.4 3.5 1.6 3.5 1.6 3.5 1.5 3.5 1 3.5 .6 3.5 .2 3.5 .3 3.5 .6 3.5 1.2 3.5 1.9 3.5 4.4 3.5 7.9 3.5 8.5 3.5 7.1 3.5 6.9 3.5 7.2 3.5 7.1 3.5 6.8 3.5 6.6 3.5 5.5 3.5 4.6 3.5 3.4 3.5 1 3.5-1.1 3.5-2.3 3.5-2.5 3.5-3 3.5-3.3 3.5-3.2 3.5-2.2 3.5-1.5 3.5-.7 3.5 .2 3.5 1.5 3.5 2.4 3.5 2.3 3.5 1.9 3.5 2 3.5 1.9 3.5 1.6 3.5 1 3.5 .2 3.5-.5 3.5-.8 3.5-1.2 3.5-1.3 3.5-1 3.5-.7 3.5-.4 3.5-.7 3.5-1.1 3.5-1.5 3.5-1.1 3.5-.2 3.5 .6 3.5 .9 3.5 .6 3.5-.1 3.5-1.7 3.5-2.6 3.5-3 3.5-2.6 3.5-2.5 3.5-2.4 3.5-1.9 3.5-.9 3.5 .4 3.5 1.3 3.5 1.4 3.5 .8 3.5-.2 3.5-1.1 3.5-1.5 3.5-1.7 3.5-1.4 3.5-1.2 3.5-1.2 3.5-1.3 3.5-1.4 3.5-1.9 3.5-2.5 3.5-2.5 3.5-1.8 3.5-1.4 3.5-1.1 3.5-.7 3.5-.4 3.5 0 3.5 .1 3.5 .2 3.5 .1 3.5-.3 3.5-.5 3.5-.8 3.5-.9 3.5-1.2 3.5-1.4 3.5-1.8 3.5-1.9 3.5-1.8 3.5-1.4 3.5-1.2 3.5-.9 3.5-.8 3.5-.7 3.5-.4 3.5-.3 3.5-.5 3.5-.8 3.5-.9 3.5-1 3.5-1 3.5-1.1 3.5-1.1 3.5-1.1 3.5-1 3.5-1.1 3.5-1.5 3.5-2.2 3.5-3.1 3.5-3.8 3.5-4 3.5-4.1 3.5-4.4 3.5-3.8 3.5-2.8 3.5-2 3.5-1.4 3.5-.6 3.5 .2 3.5 1.2 3.5 2.2 3.5 3.8 3.5 2.6 3.5-.5 3.5-2.4 3.5-3"/><path id="r29" d="M88.9 670l3.5-.3 3.5-.3 3.5-.3 3.5-.2 3.5-.2 3.5-.1 3.5-.2 3.5-.2 3.5-.2 3.5-.2 3.5-.3 3.5-.3 3.5-.4 3.5-.4 3.5-.5 3.5-.5 3.5-.4 3.5-.5 3.5-.4 3.5-.5 3.5-.5 3.5-.6 3.5-.5 3.5-.6 3.5-.7 3.5-.7 3.5-.9 3.5-1 3.5-1.1 3.5-1.1 3.5-1.2 3.5-1.2 3.5-1.3 3.5-1.3 3.5-1.4 3.5-1.4 3.5-1.3 3.5-1.4 3.5-1.3 3.5-1.3 3.5-1.3 3.5-1.4 3.5-1.6 3.5-2 3.5-2.1 3.5-1.5 3.5-.4 3.5 .6 3.5 1.4 3.5 2.6 3.5 .9 3.5-2.1 3.5-2.3 3.5-1.5 3.5-1.3 3.5-.7 3.5-.1 3.5-.9 3.5-2.9 3.5-4.1 3.5-4 3.5-4 3.5-4 3.5-3.9 3.5-3.8 3.5-3.7 3.5-3.6 3.5-3.6 3.5-3.6 3.5-3.6 3.5-3.4 3.5-3.6 3.5-3.4 3.5-3.1 3.5-2.9 3.5-2.8 3.5-2.5 3.5-2.3 3.5-1.6 3.5-1 3.5-.9 3.5-1.7 3.5-2.4 3.5-2.4 3.5-2.3 3.5-2 3.5-2 3.5-1.9 3.5-1.9 3.5-1.8 3.5-1.9 3.5-1.8 3.5-1.9 3.5-1.9 3.5-1.6 3.5-.1 3.5 1.1 3.5 1.6 3.5 3.3 3.5 3.6 3.5-1.2 3.5-4.2 3.5-5.7 3.5-5 3.5 .7 3.5 5.5 3.5 4 3.5-5.6 3.5-9 3.5-8.1 3.5-7.2 3.5-4.6 3.5-2.3 3.5 .9 3.5 3.6 3.5 5.9 3.5 5.7 3.5-3.2 3.5-14.5 3.5-14.4 3.5-12.2 3.5-9.3 3.5-7.4 3.5-6.9 3.5-7.2 3.5-7.9 3.5-7.9 3.5-7.4 3.5-6.2 3.5-5.4 3.5-5 3.5-4.6 3.5-4.2 3.5-3.9 3.5-3.4 3.5-3.1 3.5-2.9 3.5-2.9 3.5-2.9 3.5-2.9 3.5-2.5 3.5-1.7 3.5-.7 3.5 .5 3.5 1.7 3.5 3.5 3.5 3.6 3.5 2.6 3.5 1.5 3.5 0 3.5-1.3 3.5 .9 3.5 5.7 3.5 7 3.5 4.6 3.5 2.5 3.5 1.7 3.5 1.7 3.5 2.9 3.5 4 3.5 4 3.5 2.9 3.5 1.9 3.5-.8 3.5-5.1 3.5-5.5 3.5-3 3.5 1.6 3.5 2.9 3.5 3.6 3.5 .8 3.5-2.6 3.5-2.6 3.5-2.1 3.5 .4 3.5 1.8 3.5 .3 3.5 .3 3.5 2.9 3.5 4.7 3.5 4.4 3.5 3.5 3.5 3.8 3.5 7 3.5 8.2 3.5 7.3 3.5 5.3 3.5 3.2 3.5-2.1 3.5-14 3.5-13 3.5-7.2 3.5-.6 3.5 1.9 3.5 4.2 3.5 6.3 3.5 6.6 3.5 6.6 3.5 5 3.5 3.8 3.5 3.8 3.5 .9 3.5-6.5 3.5-7.2 3.5-5.9 3.5 .9 3.5 2.5 3.5 1.4 3.5-.3 3.5-.6 3.5-.7 3.5-1.1 3.5 .1 3.5 2.7 3.5 2.2 3.5 1.6 3.5 .9 3.5-1.9 3.5-7.2 3.5-7.3 3.5-6.3 3.5-5.1 3.5-3.9 3.5-3.2 3.5-2.9 3.5-2.1 3.5-.9 3.5-1.8 3.5-4.3 3.5-5.5 3.5-6 3.5-6.1 3.5-5.8 3.5-4.9 3.5-4.2 3.5-3.7 3.5-3.3 3.5-2.7 3.5-2.1 3.5-2 3.5-2.2 3.5-3.2 3.5-3.6 3.5-2.8 3.5-1.3 3.5 .1 3.5 2.3 3.5 4.9 3.5 8.7 3.5 9.4 3.5 7.7 3.5 7.4 3.5 7.3 3.5 7.5 3.5 10.7 3.5 13.7 3.5 11.9 3.5 7.7 3.5 3.3 3.5-1.9 3.5-4.8 3.5-6.1 3.5-8.2 3.5-9.2 3.5-7.9 3.5-6.5 3.5 9.3 3.5 34.8 3.5 34.1 3.5 39 3.5 8.3 3.5-37.3 3.5-36.3 3.5-23 3.5-13.9 3.5 4.4 3.5 9.4 3.5 .6 3.5 .3 3.5 1.5 3.5 2.2 3.5 3.7 3.5 3.3 3.5-6.2 3.5-21.1 3.5-16.3 3.5-10.3 3.5-5.7 3.5-2.9 3.5-2.1 3.5-2.1 3.5-2.2 3.5-2.1 3.5-4.5 3.5-8 3.5-8.9 3.5-8.9 3.5-9 3.5-9 3.5-9.2 3.5-9.1 3.5-8.5 3.5-7.4 3.5-6 3.5-4.7 3.5-3.9 3.5-3.1 3.5-2.6 3.5-2.2 3.5-1.8 3.5-1.2 3.5 1.9 3.5 5.5 3.5 6.6 3.5 5.1 3.5-.1 3.5-5 3.5-5.1 3.5-4.9 3.5-3.7 3.5-1.8 3.5-.2 3.5 1.8 3.5 3.6 3.5 5.4 3.5 7.5 3.5 8.3 3.5 6.6 3.5 5.4 3.5 3.8 3.5 2.3 3.5 1.3 3.5 .8 3.5 .3 3.5 .1 3.5-.1 3.5-.3 3.5-.4 3.5-.5 3.5-.6 3.5-.5 3.5-.4 3.5 .2 3.5 .5 3.5 .5 3.5 .6 3.5 .4 3.5 .4 3.5 .2 3.5 .3 3.5 .4 3.5 .7 3.5 1 3.5 1.3 3.5 1.5 3.5 1.6 3.5 1.4 3.5 1 3.5 .6 3.5 .3 3.5 .3 3.5 .6 3.5 1.1 3.5 1.9 3.5 4 3.5 7.1 3.5 7.8 3.5 6.5 3.5 6.3 3.5 6.4 3.5 6.5 3.5 6.2 3.5 6 3.5 4.9 3.5 4.2 3.5 3.2 3.5 .9 3.5-1 3.5-1.9 3.5-2.2 3.5-2.6 3.5-3 3.5-2.7 3.5-2 3.5-1.3 3.5-.6 3.5 .3 3.5 1.4 3.5 2.1 3.5 2.1 3.5 1.8 3.5 1.8 3.5 1.8 3.5 1.5 3.5 .9 3.5 .3 3.5-.5 3.5-.6 3.5-1.1 3.5-1.1 3.5-.8 3.5-.6 3.5-.3 3.5-.5 3.5-.9 3.5-1.2 3.5-.9 3.5-.1 3.5 .6 3.5 .9 3.5 .6 3.5-.1 3.5-1.3 3.5-2.3 3.5-2.5 3.5-2.3 3.5-2.1 3.5-2.1 3.5-1.6 3.5-.7 3.5 .5 3.5 1.2 3.5 1.3 3.5 .8 3.5-.1 3.5-.9 3.5-1.3 3.5-1.4 3.5-1.2 3.5-1 3.5-.9 3.5-1.1 3.5-1.2 3.5-1.5 3.5-2.2 3.5-2.1 3.5-1.6 3.5-1.1 3.5-.8 3.5-.6 3.5-.3 3.5 0 3.5 .3 3.5 .2 3.5 .1 3.5-.2 3.5-.4 3.5-.6 3.5-.7 3.5-1 3.5-1.2 3.5-1.5 3.5-1.6 3.5-1.5 3.5-1.2 3.5-.9 3.5-.8 3.5-.6 3.5-.6 3.5-.3 3.5-.2 3.5-.4 3.5-.6 3.5-.7 3.5-.8 3.5-.9 3.5-.9 3.5-.9 3.5-.9 3.5-.8 3.5-.9 3.5-1.3 3.5-1.8 3.5-2.7 3.5-3.3 3.5-3.3 3.5-3.6 3.5-3.7 3.5-3.3 3.5-2.4 3.5-1.7 3.5-1.1 3.5-.5 3.5 .2 3.5 1.1 3.5 1.9 3.5 3.3 3.5 2.2 3.5-.4 3.5-2 3.5-2.6"/><path id="r30" d="M88.9 670.4l3.5-.2 3.5-.2 3.5-.2 3.5-.1 3.5-.2 3.5-.1 3.5-.1 3.5-.2 3.5-.1 3.5-.2 3.5-.2 3.5-.2 3.5-.3 3.5-.3 3.5-.4 3.5-.3 3.5-.3 3.5-.4 3.5-.3 3.5-.3 3.5-.4 3.5-.4 3.5-.4 3.5-.5 3.5-.4 3.5-.6 3.5-.6 3.5-.7 3.5-.8 3.5-.8 3.5-.9 3.5-.9 3.5-.9 3.5-1 3.5-1 3.5-1 3.5-1 3.5-1 3.5-.9 3.5-1 3.5-1 3.5-1 3.5-1.2 3.5-1.4 3.5-1.5 3.5-1.1 3.5-.3 3.5 .4 3.5 1 3.5 1.9 3.5 .7 3.5-1.6 3.5-1.6 3.5-1.1 3.5-1 3.5-.5 3.5 0 3.5-.8 3.5-2.4 3.5-3.4 3.5-3.4 3.5-3.4 3.5-3.5 3.5-3.5 3.5-3.4 3.5-3.5 3.5-3.5 3.5-3.5 3.5-3.5 3.5-3.6 3.5-3.6 3.5-3.8 3.5-3.7 3.5-3.4 3.5-3.4 3.5-3.3 3.5-3.2 3.5-3 3.5-2.5 3.5-1.9 3.5-1.9 3.5-2.2 3.5-2.6 3.5-2.6 3.5-2.5 3.5-2.3 3.5-2.2 3.5-2.2 3.5-2.2 3.5-2.1 3.5-2.2 3.5-2.2 3.5-2.2 3.5-2.3 3.5-2 3.5-.6 3.5 .7 3.5 1.1 3.5 2.7 3.5 3.1 3.5-1.6 3.5-4.7 3.5-6 3.5-5.5 3.5 .3 3.5 5 3.5 4 3.5-5.7 3.5-8.9 3.5-8.1 3.5-7.2 3.5-4.7 3.5-2.3 3.5 .9 3.5 3.6 3.5 6 3.5 5.6 3.5-3.2 3.5-14.4 3.5-14.5 3.5-12.2 3.5-9.2 3.5-7.4 3.5-6.9 3.5-7.2 3.5-7.9 3.5-8 3.5-7.3 3.5-6.2 3.5-5.5 3.5-4.9 3.5-4.6 3.5-4.3 3.5-3.9 3.5-3.4 3.5-3.1 3.5-2.9 3.5-2.8 3.5-3 3.5-2.9 3.5-2.5 3.5-1.7 3.5-.7 3.5 .5 3.5 1.7 3.5 3.2 3.5 3.2 3.5 2.1 3.5 1.1 3.5-.3 3.5-1.8 3.5 .6 3.5 5.3 3.5 6.7 3.5 4.3 3.5 2.1 3.5 1.4 3.5 1.4 3.5 2.5 3.5 3.7 3.5 3.7 3.5 2.6 3.5 1.6 3.5-1.1 3.5-5.6 3.5-6 3.5-3.5 3.5 1.2 3.5 2.6 3.5 3.4 3.5 .5 3.5-3.2 3.5-3 3.5-2.5 3.5-.1 3.5 1.6 3.5-.2 3.5 0 3.5 2.6 3.5 4.6 3.5 4.2 3.5 3.3 3.5 3.7 3.5 6.9 3.5 8.3 3.5 7.4 3.5 5.3 3.5 3.1 3.5-2.6 3.5-15.1 3.5-13.9 3.5-7.7 3.5-.7 3.5 2 3.5 4.4 3.5 6.6 3.5 7 3.5 7 3.5 5.2 3.5 4.1 3.5 3.9 3.5 1 3.5-7 3.5-7.7 3.5-6.4 3.5 1 3.5 2.6 3.5 1.4 3.5-.3 3.5-.8 3.5-.8 3.5-1.2 3.5 .1 3.5 2.8 3.5 2.3 3.5 1.7 3.5 .9 3.5-2.1 3.5-7.8 3.5-7.8 3.5-6.8 3.5-5.5 3.5-4.2 3.5-3.5 3.5-3.1 3.5-2.4 3.5-.9 3.5-2 3.5-4.7 3.5-6 3.5-6.5 3.5-6.6 3.5-6.2 3.5-5.3 3.5-4.6 3.5-4 3.5-3.6 3.5-3 3.5-2.4 3.5-2.1 3.5-2.5 3.5-3.5 3.5-3.9 3.5-3.1 3.5-1.5 3.5 .1 3.5 2.4 3.5 5.2 3.5 9.3 3.5 10 3.5 8.3 3.5 7.9 3.5 7.7 3.5 8.1 3.5 11.4 3.5 14.7 3.5 12.7 3.5 8.3 3.5 3.5 3.5-2.1 3.5-5.2 3.5-6.7 3.5-8.8 3.5-10 3.5-8.5 3.5-7.1 3.5 10 3.5 37.5 3.5 36.7 3.5 42 3.5 8.9 3.5-40.2 3.5-39.2 3.5-24.9 3.5-15.1 3.5 4.7 3.5 10.1 3.5 .7 3.5 .1 3.5 1.6 3.5 2.4 3.5 4 3.5 3.4 3.5-6.7 3.5-22.9 3.5-17.7 3.5-11.2 3.5-6.1 3.5-3.2 3.5-2.3 3.5-2.4 3.5-2.4 3.5-2.4 3.5-5 3.5-8.7 3.5-9.6 3.5-9.7 3.5-9.8 3.5-9.8 3.5-10.1 3.5-9.9 3.5-9.4 3.5-8.1 3.5-6.6 3.5-5.1 3.5-4.3 3.5-3.5 3.5-2.9 3.5-2.4 3.5-2.1 3.5-1.3 3.5 1.9 3.5 5.9 3.5 7.1 3.5 5.3 3.5-.1 3.5-5.7 3.5-5.6 3.5-5.4 3.5-4.2 3.5-2.1 3.5-.3 3.5 1.8 3.5 3.8 3.5 5.7 3.5 8.1 3.5 8.9 3.5 7.1 3.5 5.7 3.5 4.1 3.5 2.3 3.5 1.4 3.5 .7 3.5 .3 3.5-.1 3.5-.2 3.5-.4 3.5-.6 3.5-.7 3.5-.7 3.5-.7 3.5-.5 3.5 .1 3.5 .4 3.5 .4 3.5 .5 3.5 .4 3.5 .2 3.5 .2 3.5 .2 3.5 .3 3.5 .6 3.5 1 3.5 1.3 3.5 1.6 3.5 1.5 3.5 1.4 3.5 1 3.5 .5 3.5 .2 3.5 .2 3.5 .6 3.5 1.1 3.5 1.9 3.5 4.3 3.5 7.7 3.5 8.4 3.5 7 3.5 6.8 3.5 7 3.5 7 3.5 6.7 3.5 6.5 3.5 5.4 3.5 4.5 3.5 3.3 3.5 1 3.5-1.2 3.5-2.3 3.5-2.6 3.5-3 3.5-3.4 3.5-3.1 3.5-2.3 3.5-1.6 3.5-.7 3.5 .1 3.5 1.4 3.5 2.3 3.5 2.2 3.5 1.9 3.5 1.8 3.5 1.8 3.5 1.5 3.5 1 3.5 .1 3.5-.6 3.5-.9 3.5-1.3 3.5-1.3 3.5-1.1 3.5-.7 3.5-.6 3.5-.7 3.5-1.2 3.5-1.5 3.5-1.2 3.5-.4 3.5 .6 3.5 .8 3.5 .5 3.5-.3 3.5-1.7 3.5-2.7 3.5-3.1 3.5-2.7 3.5-2.5 3.5-2.6 3.5-2 3.5-1 3.5 .4 3.5 1.1 3.5 1.3 3.5 .7 3.5-.4 3.5-1.2 3.5-1.7 3.5-1.7 3.5-1.6 3.5-1.3 3.5-1.3 3.5-1.4 3.5-1.6 3.5-2 3.5-2.6 3.5-2.6 3.5-2 3.5-1.5 3.5-1.2 3.5-.9 3.5-.6 3.5-.2 3.5 0 3.5 0 3.5-.1 3.5-.5 3.5-.7 3.5-.9 3.5-1.1 3.5-1.4 3.5-1.6 3.5-2 3.5-2 3.5-2 3.5-1.6 3.5-1.4 3.5-1.2 3.5-1 3.5-.9 3.5-.6 3.5-.6 3.5-.7 3.5-1 3.5-1.1 3.5-1.3 3.5-1.2 3.5-1.4 3.5-1.3 3.5-1.3 3.5-1.3 3.5-1.4 3.5-1.7 3.5-2.5 3.5-3.3 3.5-4.1 3.5-4.2 3.5-4.4 3.5-4.7 3.5-4 3.5-3.1 3.5-2.3 3.5-1.7 3.5-1 3.5-.1 3.5 .9 3.5 1.8 3.5 3.3 3.5 2.2 3.5-.8 3.5-2.8 3.5-3.4"/><path id="r31" d="M88.9 670.4l3.5-.3 3.5-.2 3.5-.1 3.5-.2 3.5-.1 3.5-.2 3.5-.1 3.5-.2 3.5-.1 3.5-.2 3.5-.2 3.5-.2 3.5-.3 3.5-.4 3.5-.3 3.5-.4 3.5-.3 3.5-.4 3.5-.3 3.5-.4 3.5-.3 3.5-.5 3.5-.4 3.5-.5 3.5-.4 3.5-.6 3.5-.7 3.5-.7 3.5-.8 3.5-.9 3.5-.9 3.5-.9 3.5-1 3.5-1 3.5-1 3.5-1.1 3.5-1 3.5-1 3.5-1 3.5-1 3.5-1 3.5-1.1 3.5-1.2 3.5-1.5 3.5-1.5 3.5-1.2 3.5-.3 3.5 .4 3.5 1.1 3.5 2 3.5 .7 3.5-1.6 3.5-1.8 3.5-1.1 3.5-1 3.5-.5 3.5-.1 3.5-.8 3.5-2.4 3.5-3.5 3.5-3.4 3.5-3.5 3.5-3.6 3.5-3.5 3.5-3.4 3.5-3.5 3.5-3.5 3.5-3.5 3.5-3.6 3.5-3.6 3.5-3.6 3.5-3.7 3.5-3.7 3.5-3.4 3.5-3.3 3.5-3.3 3.5-3.2 3.5-2.9 3.5-2.4 3.5-1.8 3.5-1.8 3.5-2.1 3.5-2.6 3.5-2.6 3.5-2.4 3.5-2.3 3.5-2.2 3.5-2.1 3.5-2.2 3.5-2.1 3.5-2.2 3.5-2.1 3.5-2.2 3.5-2.2 3.5-2 3.5-.6 3.5 .7 3.5 1.2 3.5 2.8 3.5 3.1 3.5-1.5 3.5-4.7 3.5-6 3.5-5.4 3.5 .3 3.5 5 3.5 4 3.5-5.6 3.5-8.9 3.5-8.2 3.5-7.2 3.5-4.6 3.5-2.3 3.5 .9 3.5 3.6 3.5 6 3.5 5.6 3.5-3.2 3.5-14.4 3.5-14.5 3.5-12.2 3.5-9.2 3.5-7.4 3.5-7 3.5-7.2 3.5-7.8 3.5-8 3.5-7.3 3.5-6.2 3.5-5.5 3.5-5 3.5-4.6 3.5-4.2 3.5-3.9 3.5-3.4 3.5-3.1 3.5-2.9 3.5-2.9 3.5-3 3.5-2.8 3.5-2.5 3.5-1.7 3.5-.7 3.5 .5 3.5 1.6 3.5 2.7 3.5 2.8 3.5 1.7 3.5 .6 3.5-.8 3.5-2.3 3.5 .1 3.5 4.9 3.5 6.3 3.5 4 3.5 1.6 3.5 1 3.5 1 3.5 2.1 3.5 3.4 3.5 3.3 3.5 2.3 3.5 1.2 3.5-1.6 3.5-6.2 3.5-6.7 3.5-4 3.5 .8 3.5 2.3 3.5 3 3.5 .1 3.5-3.7 3.5-3.7 3.5-3 3.5-.5 3.5 1.1 3.5-.6 3.5-.5 3.5 2.3 3.5 4.4 3.5 4.1 3.5 3 3.5 3.5 3.5 7 3.5 8.4 3.5 7.5 3.5 5.3 3.5 2.8 3.5-3.1 3.5-16.5 3.5-14.9 3.5-8.3 3.5-.8 3.5 2 3.5 4.8 3.5 6.9 3.5 7.5 3.5 7.5 3.5 5.5 3.5 4.3 3.5 4.2 3.5 1 3.5-7.6 3.5-8.3 3.5-6.9 3.5 1 3.5 2.7 3.5 1.4 3.5-.4 3.5-.8 3.5-.9 3.5-1.4 3.5 0 3.5 3 3.5 2.4 3.5 1.8 3.5 .9 3.5-2.2 3.5-8.5 3.5-8.5 3.5-7.4 3.5-6 3.5-4.5 3.5-3.9 3.5-3.4 3.5-2.7 3.5-1.1 3.5-2.1 3.5-5.2 3.5-6.5 3.5-7.1 3.5-7.2 3.5-6.7 3.5-5.9 3.5-5 3.5-4.5 3.5-3.9 3.5-3.4 3.5-2.5 3.5-2.4 3.5-2.8 3.5-3.8 3.5-4.3 3.5-3.5 3.5-1.7 3.5 0 3.5 2.5 3.5 5.6 3.5 10 3.5 10.8 3.5 8.9 3.5 8.5 3.5 8.4 3.5 8.6 3.5 12.3 3.5 16 3.5 13.7 3.5 8.9 3.5 3.8 3.5-2.3 3.5-5.7 3.5-7.3 3.5-9.7 3.5-10.8 3.5-9.4 3.5-7.7 3.5 10.8 3.5 40.7 3.5 39.8 3.5 45.7 3.5 9.6 3.5-43.8 3.5-42.7 3.5-27.1 3.5-16.5 3.5 5.1 3.5 10.9 3.5 .7 3.5 .1 3.5 1.7 3.5 2.5 3.5 4.3 3.5 3.7 3.5-7.4 3.5-25 3.5-19.3 3.5-12.3 3.5-6.8 3.5-3.5 3.5-2.6 3.5-2.7 3.5-2.7 3.5-2.7 3.5-5.4 3.5-9.6 3.5-10.7 3.5-10.6 3.5-10.8 3.5-10.8 3.5-11.1 3.5-10.9 3.5-10.3 3.5-8.9 3.5-7.4 3.5-5.7 3.5-4.7 3.5-3.9 3.5-3.3 3.5-2.7 3.5-2.4 3.5-1.6 3.5 2 3.5 6.4 3.5 7.6 3.5 5.8 3.5-.3 3.5-6.3 3.5-6.3 3.5-6.1 3.5-4.7 3.5-2.4 3.5-.5 3.5 1.8 3.5 4.1 3.5 6.1 3.5 8.8 3.5 9.6 3.5 7.6 3.5 6.2 3.5 4.3 3.5 2.5 3.5 1.4 3.5 .7 3.5 .1 3.5-.2 3.5-.4 3.5-.5 3.5-.8 3.5-.9 3.5-.9 3.5-.9 3.5-.7 3.5 0 3.5 .3 3.5 .4 3.5 .4 3.5 .3 3.5 .1 3.5 0 3.5 .1 3.5 .3 3.5 .5 3.5 .9 3.5 1.4 3.5 1.6 3.5 1.6 3.5 1.4 3.5 1 3.5 .4 3.5 .1 3.5 .1 3.5 .5 3.5 1.1 3.5 2 3.5 4.6 3.5 8.4 3.5 9.2 3.5 7.6 3.5 7.5 3.5 7.6 3.5 7.6 3.5 7.4 3.5 7.1 3.5 5.8 3.5 4.9 3.5 3.6 3.5 .9 3.5-1.4 3.5-2.7 3.5-2.9 3.5-3.5 3.5-3.9 3.5-3.7 3.5-2.7 3.5-1.8 3.5-1 3.5 .1 3.5 1.4 3.5 2.4 3.5 2.3 3.5 2 3.5 1.9 3.5 1.9 3.5 1.5 3.5 1 3.5 0 3.5-.9 3.5-1 3.5-1.6 3.5-1.7 3.5-1.3 3.5-1 3.5-.8 3.5-.9 3.5-1.6 3.5-1.9 3.5-1.5 3.5-.6 3.5 .5 3.5 .6 3.5 .4 3.5-.5 3.5-2.1 3.5-3.2 3.5-3.6 3.5-3.3 3.5-3.1 3.5-3 3.5-2.5 3.5-1.3 3.5 .1 3.5 1.2 3.5 1.2 3.5 .5 3.5-.6 3.5-1.6 3.5-2.1 3.5-2.1 3.5-2 3.5-1.8 3.5-1.7 3.5-1.8 3.5-1.9 3.5-2.5 3.5-3.2 3.5-3.3 3.5-2.4 3.5-2 3.5-1.6 3.5-1.2 3.5-.9 3.5-.5 3.5-.2 3.5-.3 3.5-.3 3.5-.8 3.5-1.1 3.5-1.3 3.5-1.5 3.5-1.8 3.5-2.1 3.5-2.5 3.5-2.6 3.5-2.5 3.5-2.2 3.5-1.8 3.5-1.6 3.5-1.4 3.5-1.3 3.5-1 3.5-1 3.5-1.1 3.5-1.4 3.5-1.6 3.5-1.7 3.5-1.8 3.5-1.8 3.5-1.8 3.5-1.8 3.5-1.8 3.5-1.9 3.5-2.3 3.5-3.1 3.5-4.2 3.5-5 3.5-5.1 3.5-5.5 3.5-5.6 3.5-5 3.5-3.9 3.5-3 3.5-2.3 3.5-1.5 3.5-.4 3.5 .6 3.5 1.7 3.5 3.5 3.5 2.1 3.5-1.3 3.5-3.5 3.5-4.4"/><path id="r32" d="M88.9 669.8l3.5-.4 3.5-.3 3.5-.2 3.5-.3 3.5-.2 3.5-.2 3.5-.2 3.5-.2 3.5-.2 3.5-.3 3.5-.3 3.5-.3 3.5-.4 3.5-.5 3.5-.6 3.5-.5 3.5-.5 3.5-.5 3.5-.5 3.5-.5 3.5-.6 3.5-.6 3.5-.6 3.5-.7 3.5-.7 3.5-.8 3.5-1 3.5-1 3.5-1.2 3.5-1.3 3.5-1.3 3.5-1.4 3.5-1.4 3.5-1.5 3.5-1.5 3.5-1.5 3.5-1.5 3.5-1.5 3.5-1.4 3.5-1.5 3.5-1.4 3.5-1.6 3.5-1.8 3.5-2.2 3.5-2.3 3.5-1.7 3.5-.4 3.5 .7 3.5 1.5 3.5 2.9 3.5 1 3.5-2.4 3.5-2.5 3.5-1.7 3.5-1.4 3.5-.8 3.5 0 3.5-1.1 3.5-3 3.5-4.4 3.5-4.3 3.5-4.2 3.5-4.2 3.5-4.1 3.5-3.9 3.5-3.7 3.5-3.8 3.5-3.6 3.5-3.6 3.5-3.5 3.5-3.5 3.5-3.4 3.5-3.4 3.5-2.9 3.5-2.7 3.5-2.6 3.5-2.3 3.5-2 3.5-1.2 3.5-.6 3.5-.5 3.5-1.6 3.5-2.3 3.5-2.4 3.5-2.1 3.5-2 3.5-1.8 3.5-1.8 3.5-1.8 3.5-1.7 3.5-1.7 3.5-1.7 3.5-1.8 3.5-1.7 3.5-1.5 3.5 .1 3.5 1.3 3.5 1.8 3.5 3.5 3.5 3.8 3.5-1 3.5-4.1 3.5-5.5 3.5-4.9 3.5 1 3.5 5.6 3.5 4 3.5-5.6 3.5-9 3.5-8.1 3.5-7.2 3.5-4.6 3.5-2.3 3.5 .9 3.5 3.6 3.5 5.9 3.5 5.7 3.5-3.2 3.5-14.5 3.5-14.5 3.5-12.2 3.5-9.2 3.5-7.4 3.5-6.9 3.5-7.2 3.5-7.9 3.5-8 3.5-7.3 3.5-6.2 3.5-5.5 3.5-4.9 3.5-4.6 3.5-4.3 3.5-3.9 3.5-3.4 3.5-3.1 3.5-2.9 3.5-2.8 3.5-3 3.5-2.9 3.5-2.5 3.5-1.7 3.5-.7 3.5 .5 3.5 1.7 3.5 3.5 3.5 3.6 3.5 2.5 3.5 1.4 3.5 0 3.5-1.4 3.5 1 3.5 5.6 3.5 7 3.5 4.6 3.5 2.4 3.5 1.6 3.5 1.7 3.5 2.9 3.5 3.9 3.5 4 3.5 2.9 3.5 1.8 3.5-.7 3.5-5.2 3.5-5.6 3.5-3.1 3.5 1.6 3.5 2.9 3.5 3.5 3.5 .8 3.5-2.7 3.5-2.6 3.5-2.1 3.5 .3 3.5 1.8 3.5 .2 3.5 .3 3.5 2.8 3.5 4.7 3.5 4.4 3.5 3.5 3.5 3.8 3.5 7 3.5 8.2 3.5 7.3 3.5 5.3 3.5 3.2 3.5-2.2 3.5-14.1 3.5-13 3.5-7.3 3.5-.7 3.5 1.9 3.5 4.3 3.5 6.2 3.5 6.7 3.5 6.7 3.5 4.9 3.5 3.9 3.5 3.8 3.5 .9 3.5-6.6 3.5-7.2 3.5-6 3.5 1 3.5 2.5 3.5 1.3 3.5-.3 3.5-.6 3.5-.8 3.5-1.1 3.5 .1 3.5 2.7 3.5 2.2 3.5 1.7 3.5 .8 3.5-1.9 3.5-7.3 3.5-7.3 3.5-6.4 3.5-5.2 3.5-3.8 3.5-3.3 3.5-2.9 3.5-2.2 3.5-.9 3.5-1.8 3.5-4.3 3.5-5.6 3.5-6.1 3.5-6.2 3.5-5.8 3.5-4.9 3.5-4.3 3.5-3.8 3.5-3.3 3.5-2.8 3.5-2.1 3.5-1.9 3.5-2.3 3.5-3.2 3.5-3.7 3.5-2.8 3.5-1.4 3.5 .1 3.5 2.3 3.5 4.9 3.5 8.7 3.5 9.5 3.5 7.7 3.5 7.5 3.5 7.3 3.5 7.6 3.5 10.6 3.5 13.9 3.5 11.9 3.5 7.8 3.5 3.3 3.5-2 3.5-4.8 3.5-6.2 3.5-8.3 3.5-9.3 3.5-7.9 3.5-6.6 3.5 9.3 3.5 35.1 3.5 34.3 3.5 39.3 3.5 8.3 3.5-37.6 3.5-36.6 3.5-23.2 3.5-14.1 3.5 4.5 3.5 9.4 3.5 .6 3.5 .2 3.5 1.5 3.5 2.2 3.5 3.7 3.5 3.3 3.5-6.3 3.5-21.3 3.5-16.5 3.5-10.4 3.5-5.7 3.5-3 3.5-2.1 3.5-2.2 3.5-2.2 3.5-2.2 3.5-4.6 3.5-8.1 3.5-9 3.5-9 3.5-9.1 3.5-9.1 3.5-9.3 3.5-9.2 3.5-8.7 3.5-7.5 3.5-6.1 3.5-4.8 3.5-3.9 3.5-3.2 3.5-2.7 3.5-2.2 3.5-1.9 3.5-1.2 3.5 1.8 3.5 5.5 3.5 6.6 3.5 5.1 3.5-.1 3.5-5.2 3.5-5.1 3.5-5 3.5-3.8 3.5-1.9 3.5-.3 3.5 1.7 3.5 3.7 3.5 5.3 3.5 7.5 3.5 8.3 3.5 6.6 3.5 5.4 3.5 3.7 3.5 2.3 3.5 1.3 3.5 .7 3.5 .3 3.5-.1 3.5-.2 3.5-.3 3.5-.5 3.5-.6 3.5-.6 3.5-.6 3.5-.5 3.5 .2 3.5 .3 3.5 .5 3.5 .5 3.5 .3 3.5 .3 3.5 .2 3.5 .2 3.5 .3 3.5 .6 3.5 .9 3.5 1.2 3.5 1.5 3.5 1.4 3.5 1.3 3.5 1 3.5 .5 3.5 .2 3.5 .1 3.5 .6 3.5 1 3.5 1.8 3.5 3.9 3.5 7.1 3.5 7.7 3.5 6.4 3.5 6.3 3.5 6.4 3.5 6.4 3.5 6.1 3.5 6 3.5 4.9 3.5 4.1 3.5 3 3.5 .9 3.5-1.2 3.5-2.1 3.5-2.3 3.5-2.8 3.5-3.2 3.5-2.9 3.5-2.1 3.5-1.5 3.5-.7 3.5 .1 3.5 1.3 3.5 2 3.5 2 3.5 1.6 3.5 1.7 3.5 1.6 3.5 1.3 3.5 .8 3.5 .1 3.5-.7 3.5-.8 3.5-1.2 3.5-1.3 3.5-1.1 3.5-.7 3.5-.5 3.5-.7 3.5-1.1 3.5-1.5 3.5-1.1 3.5-.4 3.5 .5 3.5 .6 3.5 .5 3.5-.4 3.5-1.5 3.5-2.5 3.5-2.9 3.5-2.5 3.5-2.4 3.5-2.4 3.5-1.8 3.5-1 3.5 .2 3.5 1 3.5 1 3.5 .6 3.5-.4 3.5-1.2 3.5-1.6 3.5-1.7 3.5-1.5 3.5-1.3 3.5-1.3 3.5-1.3 3.5-1.5 3.5-1.9 3.5-2.5 3.5-2.5 3.5-1.9 3.5-1.5 3.5-1.2 3.5-1 3.5-.6 3.5-.3 3.5-.2 3.5-.1 3.5-.3 3.5-.5 3.5-.8 3.5-1 3.5-1.2 3.5-1.4 3.5-1.6 3.5-1.9 3.5-2.1 3.5-1.9 3.5-1.7 3.5-1.4 3.5-1.3 3.5-1.1 3.5-1 3.5-.8 3.5-.7 3.5-.9 3.5-1.1 3.5-1.3 3.5-1.3 3.5-1.4 3.5-1.4 3.5-1.5 3.5-1.4 3.5-1.4 3.5-1.6 3.5-1.8 3.5-2.4 3.5-3.3 3.5-4 3.5-4 3.5-4.3 3.5-4.4 3.5-3.9 3.5-3.1 3.5-2.4 3.5-1.8 3.5-1.3 3.5-.4 3.5 .4 3.5 1.2 3.5 2.6 3.5 1.5 3.5-1.1 3.5-2.9 3.5-3.4"/><path id="r33" d="M88.9 669.7l3.5-.3 3.5-.3 3.5-.3 3.5-.3 3.5-.2 3.5-.2 3.5-.2 3.5-.2 3.5-.2 3.5-.3 3.5-.3 3.5-.4 3.5-.4 3.5-.5 3.5-.5 3.5-.6 3.5-.5 3.5-.5 3.5-.5 3.5-.5 3.5-.6 3.5-.7 3.5-.6 3.5-.7 3.5-.7 3.5-.9 3.5-1 3.5-1.1 3.5-1.2 3.5-1.3 3.5-1.3 3.5-1.4 3.5-1.5 3.5-1.5 3.5-1.5 3.5-1.6 3.5-1.6 3.5-1.5 3.5-1.5 3.5-1.4 3.5-1.5 3.5-1.6 3.5-1.9 3.5-2.2 3.5-2.4 3.5-1.7 3.5-.5 3.5 .7 3.5 1.6 3.5 2.9 3.5 1.1 3.5-2.4 3.5-2.6 3.5-1.8 3.5-1.4 3.5-.8 3.5-.1 3.5-1.1 3.5-3.1 3.5-4.4 3.5-4.4 3.5-4.3 3.5-4.2 3.5-4.1 3.5-3.9 3.5-3.8 3.5-3.8 3.5-3.6 3.5-3.6 3.5-3.5 3.5-3.5 3.5-3.4 3.5-3.3 3.5-2.9 3.5-2.7 3.5-2.5 3.5-2.2 3.5-1.9 3.5-1.2 3.5-.5 3.5-.4 3.5-1.5 3.5-2.3 3.5-2.3 3.5-2.2 3.5-1.9 3.5-1.8 3.5-1.8 3.5-1.7 3.5-1.7 3.5-1.7 3.5-1.6 3.5-1.8 3.5-1.6 3.5-1.5 3.5 .1 3.5 1.4 3.5 1.9 3.5 3.5 3.5 3.9 3.5-1 3.5-4.1 3.5-5.4 3.5-4.8 3.5 1 3.5 5.7 3.5 4 3.5-5.7 3.5-8.9 3.5-8.1 3.5-7.2 3.5-4.7 3.5-2.3 3.5 .9 3.5 3.6 3.5 6 3.5 5.6 3.5-3.2 3.5-14.4 3.5-14.5 3.5-12.2 3.5-9.2 3.5-7.4 3.5-7 3.5-7.2 3.5-7.8 3.5-8 3.5-7.3 3.5-6.2 3.5-5.5 3.5-5 3.5-4.6 3.5-4.2 3.5-3.9 3.5-3.4 3.5-3.1 3.5-2.9 3.5-2.9 3.5-3 3.5-2.8 3.5-2.5 3.5-1.7 3.5-.7 3.5 .4 3.5 1.7 3.5 2.9 3.5 2.9 3.5 1.9 3.5 .8 3.5-.7 3.5-2.1 3.5 .3 3.5 5 3.5 6.5 3.5 4.1 3.5 1.8 3.5 1.1 3.5 1.1 3.5 2.3 3.5 3.5 3.5 3.5 3.5 2.4 3.5 1.3 3.5-1.4 3.5-6 3.5-6.4 3.5-3.9 3.5 1 3.5 2.4 3.5 3.1 3.5 .3 3.5-3.5 3.5-3.5 3.5-2.8 3.5-.3 3.5 1.2 3.5-.4 3.5-.3 3.5 2.4 3.5 4.4 3.5 4.2 3.5 3.1 3.5 3.5 3.5 7 3.5 8.4 3.5 7.4 3.5 5.3 3.5 2.9 3.5-2.9 3.5-16 3.5-14.5 3.5-8.1 3.5-.8 3.5 2 3.5 4.6 3.5 6.9 3.5 7.2 3.5 7.4 3.5 5.4 3.5 4.1 3.5 4.2 3.5 .9 3.5-7.4 3.5-8 3.5-6.7 3.5 .9 3.5 2.7 3.5 1.4 3.5-.4 3.5-.8 3.5-.8 3.5-1.4 3.5 0 3.5 3 3.5 2.4 3.5 1.7 3.5 .9 3.5-2.2 3.5-8.3 3.5-8.2 3.5-7.1 3.5-5.9 3.5-4.4 3.5-3.8 3.5-3.3 3.5-2.5 3.5-1.1 3.5-2.1 3.5-5 3.5-6.3 3.5-6.9 3.5-7 3.5-6.5 3.5-5.7 3.5-4.9 3.5-4.3 3.5-3.8 3.5-3.2 3.5-2.5 3.5-2.3 3.5-2.7 3.5-3.7 3.5-4.2 3.5-3.3 3.5-1.7 3.5 .1 3.5 2.4 3.5 5.5 3.5 9.6 3.5 10.6 3.5 8.6 3.5 8.3 3.5 8.1 3.5 8.4 3.5 12 3.5 15.4 3.5 13.4 3.5 8.7 3.5 3.6 3.5-2.2 3.5-5.5 3.5-7.1 3.5-9.4 3.5-10.6 3.5-9 3.5-7.5 3.5 10.5 3.5 39.4 3.5 38.7 3.5 44.3 3.5 9.4 3.5-42.5 3.5-41.5 3.5-26.3 3.5-15.9 3.5 4.9 3.5 10.5 3.5 .7 3.5 .1 3.5 1.6 3.5 2.5 3.5 4.1 3.5 3.6 3.5-7.1 3.5-24.3 3.5-18.7 3.5-11.9 3.5-6.6 3.5-3.4 3.5-2.6 3.5-2.6 3.5-2.6 3.5-2.6 3.5-5.2 3.5-9.3 3.5-10.4 3.5-10.3 3.5-10.4 3.5-10.5 3.5-10.7 3.5-10.6 3.5-10 3.5-8.6 3.5-7.1 3.5-5.6 3.5-4.6 3.5-3.8 3.5-3.1 3.5-2.7 3.5-2.3 3.5-1.5 3.5 2 3.5 6.1 3.5 7.4 3.5 5.6 3.5-.3 3.5-6.1 3.5-6 3.5-6 3.5-4.5 3.5-2.3 3.5-.5 3.5 1.7 3.5 4 3.5 5.9 3.5 8.5 3.5 9.3 3.5 7.4 3.5 6 3.5 4.1 3.5 2.5 3.5 1.2 3.5 .7 3.5 .2 3.5-.2 3.5-.4 3.5-.6 3.5-.7 3.5-.9 3.5-.9 3.5-.8 3.5-.8 3.5 0 3.5 .3 3.5 .4 3.5 .3 3.5 .3 3.5 .1 3.5 0 3.5 .1 3.5 .2 3.5 .5 3.5 .9 3.5 1.2 3.5 1.5 3.5 1.6 3.5 1.3 3.5 .9 3.5 .4 3.5 .1 3.5 0 3.5 .5 3.5 1 3.5 1.9 3.5 4.4 3.5 8.1 3.5 8.8 3.5 7.3 3.5 7.1 3.5 7.4 3.5 7.2 3.5 7.1 3.5 6.7 3.5 5.6 3.5 4.7 3.5 3.4 3.5 .8 3.5-1.5 3.5-2.6 3.5-2.9 3.5-3.4 3.5-3.8 3.5-3.6 3.5-2.6 3.5-1.9 3.5-1 3.5 0 3.5 1.3 3.5 2.2 3.5 2.2 3.5 1.8 3.5 1.8 3.5 1.7 3.5 1.4 3.5 .8 3.5-.1 3.5-.9 3.5-1.1 3.5-1.6 3.5-1.7 3.5-1.4 3.5-1 3.5-.8 3.5-1.1 3.5-1.5 3.5-2 3.5-1.5 3.5-.7 3.5 .4 3.5 .5 3.5 .3 3.5-.6 3.5-2.2 3.5-3.1 3.5-3.7 3.5-3.2 3.5-3.1 3.5-3 3.5-2.5 3.5-1.4 3.5 0 3.5 1 3.5 1 3.5 .4 3.5-.8 3.5-1.6 3.5-2.1 3.5-2.3 3.5-2 3.5-1.9 3.5-1.8 3.5-1.8 3.5-2.1 3.5-2.5 3.5-3.3 3.5-3.2 3.5-2.6 3.5-2 3.5-1.7 3.5-1.4 3.5-1.1 3.5-.6 3.5-.5 3.5-.4 3.5-.6 3.5-.9 3.5-1.2 3.5-1.5 3.5-1.7 3.5-2 3.5-2.2 3.5-2.6 3.5-2.8 3.5-2.6 3.5-2.3 3.5-2 3.5-1.8 3.5-1.6 3.5-1.5 3.5-1.3 3.5-1.1 3.5-1.4 3.5-1.6 3.5-1.9 3.5-1.9 3.5-2 3.5-2 3.5-2.1 3.5-2.1 3.5-2 3.5-2.1 3.5-2.6 3.5-3.3 3.5-4.3 3.5-5.1 3.5-5.3 3.5-5.6 3.5-5.7 3.5-5.2 3.5-4.1 3.5-3.2 3.5-2.6 3.5-1.9 3.5-.8 3.5 .1 3.5 1.2 3.5 2.9 3.5 1.5 3.5-1.7 3.5-3.8 3.5-4.6"/></defs><g id="haze1" fill="none" stroke-width="0.9" stroke="#ffa500" stroke-opacity="0.16"><use href="#o0" transform="matrix(1 0 0 0.973 0 18.3)" vector-effect="non-scaling-stroke" stroke="#8a9a4a"/><use href="#o0" transform="matrix(1 0 0 0.982 0 12.2)" vector-effect="non-scaling-stroke"/><use href="#o0" transform="matrix(1 0 0 0.977 0 15.2)" vector-effect="non-scaling-stroke"/><use href="#o1" transform="matrix(1 0 0 0.995 0 3.6)" vector-effect="non-scaling-stroke"/><use href="#o1" transform="matrix(1 0 0 0.932 0 45.8)" vector-effect="non-scaling-stroke" stroke="#8a9a4a"/><use href="#o1" transform="matrix(1 0 0 0.948 0 34.9)" vector-effect="non-scaling-stroke"/><use href="#o2" transform="matrix(1 0 0 0.994 0 4.0)" vector-effect="non-scaling-stroke"/><use href="#o2" transform="matrix(1 0 0 1.044 0 -29.3)" vector-effect="non-scaling-stroke"/><use href="#o2" transform="matrix(1 0 0 1.027 0 -17.8)" vector-effect="non-scaling-stroke" stroke="#8a9a4a"/><use href="#o3" transform="matrix(1 0 0 1.029 0 -19.6)" vector-effect="non-scaling-stroke"/><use href="#o3" transform="matrix(1 0 0 0.979 0 14.4)" vector-effect="non-scaling-stroke"/><use href="#o3" transform="matrix(1 0 0 0.995 0 3.5)" vector-effect="non-scaling-stroke"/><use href="#o4" transform="matrix(1 0 0 0.915 0 57.3)" vector-effect="non-scaling-stroke" stroke="#8a9a4a"/><use href="#o4" transform="matrix(1 0 0 0.960 0 27.1)" vector-effect="non-scaling-stroke"/><use href="#o4" transform="matrix(1 0 0 0.957 0 28.8)" vector-effect="non-scaling-stroke"/><use href="#o5" transform="matrix(1 0 0 1.011 0 -7.6)" vector-effect="non-scaling-stroke"/><use href="#o5" transform="matrix(1 0 0 1.027 0 -18.3)" vector-effect="non-scaling-stroke" stroke="#8a9a4a"/><use href="#o5" transform="matrix(1 0 0 0.976 0 15.8)" vector-effect="non-scaling-stroke"/><use href="#o6" transform="matrix(1 0 0 0.975 0 16.6)" vector-effect="non-scaling-stroke"/><use href="#o6" transform="matrix(1 0 0 0.935 0 43.6)" vector-effect="non-scaling-stroke"/><use href="#o6" transform="matrix(1 0 0 0.995 0 3.6)" vector-effect="non-scaling-stroke" stroke="#8a9a4a"/><use href="#o7" transform="matrix(1 0 0 1.010 0 -7.0)" vector-effect="non-scaling-stroke"/><use href="#o7" transform="matrix(1 0 0 1.019 0 -12.6)" vector-effect="non-scaling-stroke"/><use href="#o7" transform="matrix(1 0 0 0.967 0 22.1)" vector-effect="non-scaling-stroke"/><use href="#o8" transform="matrix(1 0 0 1.084 0 -56.1)" vector-effect="non-scaling-stroke" stroke="#8a9a4a"/><use href="#o8" transform="matrix(1 0 0 1.050 0 -33.7)" vector-effect="non-scaling-stroke"/><use href="#o8" transform="matrix(1 0 0 0.996 0 2.7)" vector-effect="non-scaling-stroke"/><use href="#o9" transform="matrix(1 0 0 0.978 0 14.9)" vector-effect="non-scaling-stroke"/><use href="#o9" transform="matrix(1 0 0 0.986 0 9.1)" vector-effect="non-scaling-stroke" stroke="#8a9a4a"/><use href="#o9" transform="matrix(1 0 0 1.006 0 -4.3)" vector-effect="non-scaling-stroke"/><use href="#o10" transform="matrix(1 0 0 0.999 0 0.5)" vector-effect="non-scaling-stroke"/><use href="#o10" transform="matrix(1 0 0 1.020 0 -13.6)" vector-effect="non-scaling-stroke"/><use href="#o10" transform="matrix(1 0 0 1.032 0 -21.7)" vector-effect="non-scaling-stroke" stroke="#8a9a4a"/><use href="#o11" transform="matrix(1 0 0 1.057 0 -38.5)" vector-effect="non-scaling-stroke"/><use href="#o11" transform="matrix(1 0 0 1.048 0 -32.4)" vector-effect="non-scaling-stroke"/><use href="#o11" transform="matrix(1 0 0 0.995 0 3.1)" vector-effect="non-scaling-stroke"/><use href="#o12" transform="matrix(1 0 0 1.016 0 -11.0)" vector-effect="non-scaling-stroke" stroke="#8a9a4a"/><use href="#o12" transform="matrix(1 0 0 0.984 0 10.9)" vector-effect="non-scaling-stroke"/><use href="#o12" transform="matrix(1 0 0 0.975 0 16.6)" vector-effect="non-scaling-stroke"/><use href="#o13" transform="matrix(1 0 0 1.080 0 -53.9)" vector-effect="non-scaling-stroke"/><use href="#o13" transform="matrix(1 0 0 0.981 0 13.0)" vector-effect="non-scaling-stroke" stroke="#8a9a4a"/><use href="#o13" transform="matrix(1 0 0 1.084 0 -56.2)" vector-effect="non-scaling-stroke"/><use href="#o14" transform="matrix(1 0 0 0.985 0 9.8)" vector-effect="non-scaling-stroke"/><use href="#o14" transform="matrix(1 0 0 1.011 0 -7.1)" vector-effect="non-scaling-stroke"/><use href="#o14" transform="matrix(1 0 0 1.046 0 -30.7)" vector-effect="non-scaling-stroke" stroke="#8a9a4a"/><use href="#o15" transform="matrix(1 0 0 1.001 0 -0.7)" vector-effect="non-scaling-stroke"/><use href="#o15" transform="matrix(1 0 0 1.017 0 -11.1)" vector-effect="non-scaling-stroke"/><use href="#o15" transform="matrix(1 0 0 0.990 0 6.8)" vector-effect="non-scaling-stroke"/><use href="#o16" transform="matrix(1 0 0 0.980 0 13.4)" vector-effect="non-scaling-stroke" stroke="#8a9a4a"/><use href="#o16" transform="matrix(1 0 0 0.993 0 4.7)" vector-effect="non-scaling-stroke"/><use href="#o16" transform="matrix(1 0 0 0.973 0 18.3)" vector-effect="non-scaling-stroke"/><use href="#o17" transform="matrix(1 0 0 1.069 0 -46.0)" vector-effect="non-scaling-stroke"/><use href="#o17" transform="matrix(1 0 0 0.993 0 4.7)" vector-effect="non-scaling-stroke" stroke="#8a9a4a"/><use href="#o17" transform="matrix(1 0 0 1.072 0 -48.6)" vector-effect="non-scaling-stroke"/><use href="#o18" transform="matrix(1 0 0 0.887 0 75.8)" vector-effect="non-scaling-stroke"/><use href="#o18" transform="matrix(1 0 0 1.001 0 -0.5)" vector-effect="non-scaling-stroke"/><use href="#o18" transform="matrix(1 0 0 1.024 0 -15.9)" vector-effect="non-scaling-stroke" stroke="#8a9a4a"/><use href="#o19" transform="matrix(1 0 0 0.988 0 8.3)" vector-effect="non-scaling-stroke"/><use href="#o19" transform="matrix(1 0 0 1.046 0 -30.9)" vector-effect="non-scaling-stroke"/><use href="#o19" transform="matrix(1 0 0 1.027 0 -18.0)" vector-effect="non-scaling-stroke"/><use href="#o20" transform="matrix(1 0 0 0.988 0 7.7)" vector-effect="non-scaling-stroke" stroke="#8a9a4a"/><use href="#o20" transform="matrix(1 0 0 1.018 0 -12.3)" vector-effect="non-scaling-stroke"/><use href="#o20" transform="matrix(1 0 0 1.011 0 -7.1)" vector-effect="non-scaling-stroke"/><use href="#o21" transform="matrix(1 0 0 1.013 0 -8.4)" vector-effect="non-scaling-stroke"/><use href="#o21" transform="matrix(1 0 0 0.982 0 12.4)" vector-effect="non-scaling-stroke" stroke="#8a9a4a"/><use href="#o21" transform="matrix(1 0 0 1.006 0 -3.8)" vector-effect="non-scaling-stroke"/><use href="#o22" transform="matrix(1 0 0 0.946 0 36.4)" vector-effect="non-scaling-stroke"/><use href="#o22" transform="matrix(1 0 0 0.992 0 5.6)" vector-effect="non-scaling-stroke"/><use href="#o22" transform="matrix(1 0 0 1.103 0 -69.3)" vector-effect="non-scaling-stroke" stroke="#8a9a4a"/><use href="#o23" transform="matrix(1 0 0 1.045 0 -30.1)" vector-effect="non-scaling-stroke"/><use href="#o23" transform="matrix(1 0 0 1.027 0 -18.1)" vector-effect="non-scaling-stroke"/><use href="#o23" transform="matrix(1 0 0 1.046 0 -31.1)" vector-effect="non-scaling-stroke"/><use href="#o24" transform="matrix(1 0 0 1.079 0 -53.1)" vector-effect="non-scaling-stroke" stroke="#8a9a4a"/><use href="#o24" transform="matrix(1 0 0 1.025 0 -16.7)" vector-effect="non-scaling-stroke"/><use href="#o24" transform="matrix(1 0 0 1.045 0 -30.2)" vector-effect="non-scaling-stroke"/><use href="#o25" transform="matrix(1 0 0 1.007 0 -4.7)" vector-effect="non-scaling-stroke"/><use href="#o25" transform="matrix(1 0 0 1.072 0 -48.5)" vector-effect="non-scaling-stroke" stroke="#8a9a4a"/><use href="#o25" transform="matrix(1 0 0 0.901 0 66.6)" vector-effect="non-scaling-stroke"/><use href="#o26" transform="matrix(1 0 0 0.976 0 16.1)" vector-effect="non-scaling-stroke"/><use href="#o26" transform="matrix(1 0 0 1.011 0 -7.5)" vector-effect="non-scaling-stroke"/><use href="#o26" transform="matrix(1 0 0 0.962 0 25.7)" vector-effect="non-scaling-stroke" stroke="#8a9a4a"/><use href="#o27" transform="matrix(1 0 0 0.993 0 4.4)" vector-effect="non-scaling-stroke"/><use href="#o27" transform="matrix(1 0 0 0.973 0 18.0)" vector-effect="non-scaling-stroke"/><use href="#o27" transform="matrix(1 0 0 0.973 0 18.5)" vector-effect="non-scaling-stroke"/><use href="#o28" transform="matrix(1 0 0 1.114 0 -76.5)" vector-effect="non-scaling-stroke" stroke="#8a9a4a"/><use href="#o28" transform="matrix(1 0 0 1.026 0 -17.7)" vector-effect="non-scaling-stroke"/><use href="#o28" transform="matrix(1 0 0 0.998 0 1.5)" vector-effect="non-scaling-stroke"/><use href="#o29" transform="matrix(1 0 0 1.055 0 -37.1)" vector-effect="non-scaling-stroke"/><use href="#o29" transform="matrix(1 0 0 0.990 0 6.7)" vector-effect="non-scaling-stroke" stroke="#8a9a4a"/><use href="#o29" transform="matrix(1 0 0 1.037 0 -25.0)" vector-effect="non-scaling-stroke"/><use href="#o30" transform="matrix(1 0 0 1.015 0 -9.9)" vector-effect="non-scaling-stroke"/><use href="#o30" transform="matrix(1 0 0 1.068 0 -45.9)" vector-effect="non-scaling-stroke"/><use href="#o30" transform="matrix(1 0 0 0.940 0 40.1)" vector-effect="non-scaling-stroke" stroke="#8a9a4a"/><use href="#o31" transform="matrix(1 0 0 1.032 0 -21.6)" vector-effect="non-scaling-stroke"/><use href="#o31" transform="matrix(1 0 0 1.005 0 -3.4)" vector-effect="non-scaling-stroke"/><use href="#o31" transform="matrix(1 0 0 0.951 0 32.7)" vector-effect="non-scaling-stroke"/><use href="#o32" transform="matrix(1 0 0 1.045 0 -30.1)" vector-effect="non-scaling-stroke" stroke="#8a9a4a"/><use href="#o32" transform="matrix(1 0 0 0.963 0 24.6)" vector-effect="non-scaling-stroke"/><use href="#o32" transform="matrix(1 0 0 1.068 0 -45.7)" vector-effect="non-scaling-stroke"/><use href="#o33" transform="matrix(1 0 0 1.022 0 -14.5)" vector-effect="non-scaling-stroke"/><use href="#o33" transform="matrix(1 0 0 1.029 0 -19.6)" vector-effect="non-scaling-stroke" stroke="#8a9a4a"/><use href="#o33" transform="matrix(1 0 0 1.003 0 -2.3)" vector-effect="non-scaling-stroke"/></g><path d="M88.9 670.3L89.9 670.2L91.2 670.1L92.7 670.0L94.7 669.9L97.1 669.8L100.0 669.6L101.5 669.5L103.1 669.5L105.0 669.4L106.9 669.3L109.0 669.2L111.1 669.1L113.3 669.0L115.5 668.9L117.7 668.8L119.8 668.7L121.9 668.6L123.9 668.5L125.8 668.4L127.5 668.3L129.7 668.1L131.7 668.0L133.7 667.8L135.5 667.6L137.2 667.4L138.9 667.3L140.6 667.1L142.3 666.9L144.0 666.7L145.8 666.5L147.6 666.3L149.5 666.1L151.3 665.9L153.1 665.8L155.0 665.6L156.8 665.4L158.6 665.2L160.4 665.0L162.3 664.7L164.1 664.5L165.9 664.3L167.8 664.0L169.6 663.8L171.4 663.5L173.2 663.2L175.1 663.0L176.9 662.7L178.7 662.4L180.6 662.0L182.4 661.7L184.2 661.3L186.1 660.9L187.9 660.5L189.7 660.1L191.6 659.7L193.4 659.2L195.2 658.8L197.0 658.3L198.9 657.8L200.7 657.3L202.5 656.8L204.4 656.3L206.2 655.7L208.0 655.2L209.8 654.6L211.7 654.1L213.5 653.5L215.3 652.9L217.2 652.4L219.0 651.8L220.9 651.2L222.7 650.7L224.7 650.1L226.6 649.6L228.5 649.0L230.4 648.5L232.2 647.9L234.0 647.4L235.7 646.8L237.3 646.3L239.4 645.5L241.5 644.6L243.4 643.7L245.2 642.8L246.9 642.1L248.5 641.4L250.1 641.0L252.2 640.7L254.1 640.8L255.9 641.0L257.6 641.4L259.2 641.8L261.1 642.6L263.0 643.7L264.7 644.8L266.5 645.2L268.3 644.9L270.1 644.0L271.9 642.9L273.9 642.0L275.6 641.4L277.4 640.9L279.3 640.3L281.1 639.8L283.0 639.4L284.8 639.2L286.7 639.1L288.5 639.0L290.4 638.7L292.2 638.0L294.0 636.8L295.8 635.2L297.7 633.4L299.5 631.5L301.3 629.7L303.1 627.9L305.0 626.1L306.8 624.2L308.7 622.3L310.5 620.5L312.3 618.7L314.1 616.9L316.0 615.0L317.8 613.2L319.6 611.4L321.4 609.6L323.3 607.7L325.1 605.9L327.0 604.0L328.8 602.2L330.6 600.4L332.4 598.6L334.3 596.7L336.1 594.9L337.9 593.1L339.6 591.3L341.3 589.6L343.0 587.8L344.9 585.9L347.1 583.9L348.7 582.5L350.6 580.9L352.5 579.2L354.6 577.4L356.7 575.7L358.7 574.2L360.6 572.7L362.4 571.5L364.6 570.3L366.6 569.4L368.5 568.7L370.3 568.1L372.2 567.4L374.1 566.5L376.1 565.3L378.0 563.9L380.0 562.5L382.0 561.0L383.9 559.5L385.9 558.2L387.9 557.0L389.8 555.8L391.8 554.6L393.7 553.5L395.6 552.3L397.6 551.2L399.6 550.1L401.5 549.0L403.5 547.8L405.5 546.7L407.4 545.7L409.4 544.6L411.5 543.5L413.6 542.3L415.8 541.1L417.9 540.1L419.7 539.2L421.2 538.5L423.3 537.9L425.0 538.3L426.7 538.6L428.8 539.0L430.9 539.6L432.9 540.5L434.7 542.1L436.3 544.2L438.0 546.0L439.6 546.7L441.2 546.0L442.8 544.4L444.4 542.3L446.0 540.0L447.8 537.3L449.7 534.0L451.5 531.1L453.2 529.2L454.9 528.8L456.4 529.9L458.0 531.5L459.7 534.4L461.6 537.8L463.7 538.3L465.2 536.1L466.9 532.3L468.7 527.8L470.4 523.3L472.0 519.5L473.6 515.8L475.1 512.5L476.5 509.5L478.0 507.0L479.6 504.7L481.3 502.8L482.9 501.4L484.6 500.7L486.2 500.8L487.7 501.7L489.3 503.1L491.0 505.0L492.6 507.3L494.4 510.4L496.2 513.6L497.8 516.2L499.2 517.4L501.3 514.7L503.0 508.0L504.3 502.1L505.8 495.0L507.6 488.1L509.0 484.3L510.6 480.5L512.3 476.8L514.1 473.0L516.0 469.3L517.6 466.4L519.2 463.7L520.9 461.1L522.7 458.2L524.5 454.7L526.4 450.5L528.1 446.0L529.7 440.8L531.4 435.0L533.2 429.1L535.1 423.3L537.0 417.8L539.0 413.0L540.7 409.7L542.4 406.6L544.2 403.7L546.0 400.9L547.9 398.3L549.8 395.8L551.7 393.5L553.6 391.2L555.4 389.0L557.2 386.9L559.1 385.0L561.0 383.1L562.8 381.4L564.7 379.8L566.5 378.3L568.3 376.8L570.0 375.4L571.7 374.0L573.8 372.2L575.8 370.5L577.7 368.9L579.6 367.4L581.4 366.0L583.1 364.9L584.8 364.0L587.0 363.2L589.0 362.7L590.8 362.7L592.7 362.9L594.6 363.5L596.6 364.6L598.6 366.1L600.6 367.9L602.6 369.7L604.4 371.0L606.4 372.2L608.3 373.1L610.1 373.7L612.0 374.0L613.7 373.6L615.3 372.6L617.1 371.5L618.9 371.0L620.7 371.5L622.6 373.6L624.6 376.8L626.5 380.5L628.5 384.0L630.5 386.5L632.5 387.8L634.4 388.3L636.4 388.4L638.3 388.6L640.0 389.3L641.9 390.8L643.7 392.7L645.3 394.8L647.0 397.0L648.6 399.6L650.2 402.4L651.8 404.9L653.6 406.3L655.2 406.3L657.0 405.5L658.9 404.2L660.6 402.7L662.1 401.2L664.0 398.3L665.5 395.0L667.0 392.0L668.6 389.4L670.3 387.1L672.3 385.9L673.8 386.1L675.5 386.8L677.3 387.9L679.1 389.1L680.8 390.1L682.8 391.4L684.8 392.9L686.7 394.0L688.4 394.4L690.1 393.3L691.6 391.2L693.0 389.0L694.5 386.8L696.0 384.5L697.8 383.3L699.5 383.9L701.4 385.4L703.4 386.9L705.4 387.6L707.4 386.9L709.5 385.4L711.4 383.9L713.1 383.3L715.2 385.3L717.0 389.0L718.4 392.1L719.9 395.5L721.6 397.8L723.1 397.9L724.9 397.0L726.6 396.3L728.4 396.9L730.1 399.5L731.8 403.2L733.5 407.5L735.2 411.4L736.9 415.1L738.6 418.8L740.3 422.2L742.0 425.0L743.8 427.2L745.6 429.0L747.4 430.1L748.8 430.1L750.6 426.3L752.0 420.0L753.7 412.3L755.5 404.6L757.3 398.6L759.0 394.0L760.4 390.8L762.3 389.3L763.8 389.4L765.5 390.0L767.3 391.1L769.1 392.7L770.8 395.0L772.5 397.9L774.2 401.2L775.9 404.6L777.6 408.5L779.4 412.8L781.1 416.8L782.7 419.9L784.6 421.9L786.3 422.5L787.8 423.3L789.5 425.5L791.0 428.0L792.9 431.4L794.6 433.5L795.9 431.6L797.0 428.0L798.2 424.2L799.7 419.9L801.2 416.2L802.9 412.2L804.8 409.7L806.3 409.7L808.0 410.9L809.7 412.3L811.6 413.1L813.2 413.1L815.0 412.9L816.7 412.5L818.5 412.0L820.1 411.4L822.0 410.5L823.7 409.4L825.4 408.2L826.9 407.1L828.7 405.3L830.2 403.5L832.0 402.9L833.5 403.9L835.1 405.8L836.8 408.0L838.8 409.7L840.3 410.6L842.1 411.6L843.9 412.5L845.7 413.1L847.5 413.4L849.0 413.1L850.9 411.7L852.6 409.4L854.2 406.4L855.8 402.9L857.5 398.6L859.1 393.5L860.8 388.5L862.6 384.2L864.2 381.6L865.8 379.4L867.5 377.5L869.3 375.8L871.1 374.0L872.7 372.5L874.4 371.0L876.2 369.5L878.0 368.1L879.7 366.8L881.3 365.5L883.1 364.3L884.7 363.5L886.3 362.6L888.0 361.1L889.8 358.7L891.5 355.7L893.3 352.0L895.2 347.9L897.1 343.5L899.1 339.1L900.9 335.0L902.7 330.9L904.4 326.7L906.2 322.5L907.9 318.5L909.7 314.7L911.4 311.5L913.1 308.9L914.9 306.7L916.6 304.9L918.3 303.2L920.1 301.5L921.8 299.7L923.6 297.7L925.4 295.7L927.2 293.8L929.0 291.8L930.7 289.9L932.3 288.0L934.5 285.1L936.5 282.1L938.3 279.5L940.1 277.5L942.3 276.2L944.2 275.7L946.0 275.5L947.6 274.8L949.0 274.2L950.6 274.9L952.1 276.5L953.7 278.7L955.4 281.7L957.1 285.3L958.7 289.9L960.3 295.5L961.9 301.2L963.6 306.3L965.5 310.7L967.6 314.8L969.6 318.5L971.5 321.9L973.3 324.6L974.9 326.7L976.5 329.0L978.0 332.4L979.8 339.2L981.4 347.4L983.2 355.9L984.8 362.6L986.4 369.8L988.1 376.5L989.8 382.0L991.4 386.3L993.1 389.7L994.7 391.9L996.3 392.5L997.9 391.1L999.5 388.1L1001.1 384.0L1002.8 379.4L1004.7 374.1L1006.8 367.8L1008.8 361.5L1010.7 355.9L1012.4 351.2L1014.1 347.0L1015.6 343.2L1017.0 340.0L1018.5 336.0L1019.8 332.9L1021.1 332.4L1023.1 336.1L1025.1 348.0L1026.6 363.9L1028.1 384.4L1029.6 405.2L1031.7 437.2L1033.5 465.3L1034.6 482.0L1035.4 492.0L1035.9 497.6L1036.4 499.0L1036.9 497.6L1037.6 492.0L1038.6 482.0L1040.1 465.3L1041.4 447.2L1043.0 425.4L1044.6 405.2L1046.2 387.9L1047.8 372.2L1049.2 360.1L1050.7 350.8L1052.0 347.5L1053.2 347.3L1054.5 350.0L1055.9 355.4L1057.7 361.1L1059.3 363.6L1061.2 365.5L1063.0 366.4L1064.7 365.2L1066.4 362.9L1068.2 362.4L1069.8 364.4L1071.5 367.7L1073.1 371.3L1074.7 374.2L1076.6 376.9L1078.4 378.8L1079.9 379.4L1081.6 377.0L1083.0 372.0L1084.0 365.8L1085.2 355.9L1086.7 344.5L1088.6 330.9L1090.4 319.3L1092.0 311.6L1093.6 305.8L1095.6 301.0L1097.2 298.3L1099.2 296.0L1101.2 294.0L1103.2 292.2L1104.8 290.6L1106.8 288.4L1108.3 286.8L1110.0 285.5L1111.7 285.3L1113.5 285.8L1115.4 285.7L1117.2 283.8L1118.8 280.0L1120.4 274.8L1122.1 268.3L1124.0 260.5L1125.5 254.3L1127.1 247.3L1128.9 239.7L1130.7 231.8L1132.5 223.9L1134.2 216.3L1135.9 208.8L1137.7 201.0L1139.4 193.3L1141.1 185.8L1142.8 178.6L1144.4 172.0L1146.2 164.6L1147.8 157.7L1149.5 151.4L1151.1 145.9L1152.9 141.4L1154.5 138.7L1156.2 137.1L1158.0 136.0L1159.8 135.2L1161.5 134.3L1163.1 132.9L1164.9 130.7L1166.7 128.2L1168.4 125.7L1170.0 123.2L1171.6 121.0L1173.5 118.3L1175.3 115.7L1177.0 113.6L1178.4 112.5L1180.1 113.7L1181.5 118.0L1183.1 125.5L1185.2 134.6L1186.7 140.0L1188.4 146.2L1190.2 151.2L1192.0 153.3L1193.7 151.4L1195.3 146.7L1197.0 140.6L1198.8 134.6L1200.5 129.6L1202.3 123.9L1204.1 118.2L1205.8 113.0L1207.3 109.1L1209.2 105.6L1210.7 104.3L1212.0 103.5L1213.7 102.4L1215.2 102.3L1216.8 103.0L1218.5 105.0L1219.7 107.0L1221.1 109.8L1222.7 114.2L1224.2 119.0L1225.9 125.0L1227.7 131.5L1229.5 138.0L1231.2 144.8L1232.9 152.1L1234.6 159.2L1236.3 165.2L1238.0 170.1L1239.6 174.2L1241.3 177.6L1243.1 180.5L1244.6 182.3L1246.2 183.7L1247.9 184.7L1249.7 185.5L1251.6 186.3L1253.4 187.0L1255.3 187.7L1257.2 188.3L1259.3 188.7L1261.4 189.0L1263.5 189.0L1265.4 188.7L1267.3 188.1L1269.2 187.4L1271.2 186.6L1273.2 185.7L1275.2 185.0L1277.1 184.5L1279.0 184.2L1281.1 183.9L1283.1 183.8L1285.0 183.7L1286.9 183.7L1288.6 183.6L1290.0 183.6L1291.9 183.5L1293.0 183.5L1295.2 184.1L1296.6 184.5L1298.3 185.0L1300.1 185.6L1302.1 186.3L1304.2 187.0L1306.3 187.9L1308.3 188.8L1310.3 189.8L1312.2 191.0L1314.1 192.2L1316.0 193.7L1317.9 195.1L1319.8 196.7L1321.7 198.2L1323.6 199.7L1325.5 201.2L1327.4 202.7L1329.3 204.3L1331.2 205.9L1333.1 207.4L1335.0 209.0L1336.9 210.4L1338.8 211.6L1340.7 212.6L1342.7 213.3L1344.7 213.9L1346.8 214.2L1348.9 214.4L1350.9 214.6L1352.8 214.8L1354.5 215.0L1355.9 215.3L1358.4 216.3L1359.7 217.4L1361.0 219.0L1362.4 220.7L1363.7 222.9L1365.4 227.8L1367.1 234.0L1369.0 241.8L1370.9 250.7L1372.9 260.0L1374.8 269.9L1376.7 280.7L1378.6 291.6L1380.5 301.7L1382.4 310.9L1384.3 319.5L1386.2 327.8L1388.1 335.9L1390.0 343.7L1391.9 351.1L1393.8 358.4L1395.7 366.2L1397.7 375.0L1399.7 384.4L1401.6 393.3L1403.3 400.4L1405.0 406.5L1406.3 410.2L1407.5 413.0L1409.2 416.1L1410.9 417.4L1412.7 416.9L1414.5 415.0L1415.6 413.5L1416.8 411.4L1418.5 408.0L1420.0 404.8L1421.8 400.7L1423.7 396.4L1425.8 392.3L1427.9 389.0L1429.7 386.9L1431.6 385.1L1433.5 383.7L1435.4 382.5L1437.4 381.8L1439.3 381.4L1441.2 381.6L1443.0 382.4L1444.8 383.5L1446.6 384.8L1448.6 386.1L1450.7 387.1L1452.4 387.7L1454.3 388.5L1456.3 389.2L1458.3 389.8L1460.3 390.4L1462.3 390.8L1464.2 391.0L1465.9 390.9L1468.1 390.3L1470.2 389.3L1472.2 387.9L1474.1 386.4L1475.8 384.8L1477.3 383.3L1479.6 380.3L1481.2 377.2L1483.0 374.0L1484.7 371.4L1486.4 368.7L1488.2 366.2L1489.8 364.5L1491.6 363.7L1493.2 364.0L1495.0 364.5L1496.5 365.0L1498.0 365.7L1499.7 366.3L1501.6 366.4L1503.3 365.8L1505.2 364.6L1507.2 363.4L1509.3 362.5L1511.4 362.5L1513.3 363.5L1515.2 365.2L1517.2 367.3L1519.2 369.4L1521.2 371.2L1523.2 372.3L1525.1 372.7L1527.0 372.7L1528.8 372.4L1530.7 371.8L1532.7 371.1L1534.9 370.3L1536.7 369.5L1538.6 368.4L1540.6 367.2L1542.6 365.9L1544.7 364.7L1546.7 363.6L1548.7 362.9L1550.6 362.5L1552.7 362.6L1554.7 363.1L1556.7 363.9L1558.6 364.9L1560.5 366.0L1562.5 367.2L1564.4 368.4L1566.3 369.7L1568.3 371.4L1570.2 373.2L1572.1 374.9L1574.0 376.4L1576.0 377.6L1578.1 378.2L1580.0 378.1L1581.9 377.6L1583.8 376.6L1585.8 375.5L1587.8 374.3L1589.8 373.3L1591.8 372.6L1593.8 372.3L1595.7 372.5L1597.6 373.1L1599.5 374.0L1601.4 375.0L1603.3 376.0L1605.3 377.0L1607.4 377.8L1609.5 378.2L1611.3 378.3L1613.2 378.1L1615.2 377.8L1617.2 377.4L1619.3 377.0L1621.4 376.5L1623.4 376.2L1625.4 376.0L1627.3 376.0L1629.1 376.2L1631.2 376.9L1633.3 378.0L1635.3 379.4L1637.2 380.8L1639.1 382.4L1641.0 383.8L1642.9 385.1L1644.8 386.0L1646.8 386.6L1648.8 386.9L1650.9 387.0L1652.9 387.0L1654.9 387.0L1656.8 387.1L1658.7 387.4L1660.5 388.0L1662.7 389.4L1664.7 391.3L1666.6 393.4L1668.5 395.4L1670.4 397.0L1672.3 397.8L1674.2 397.5L1676.1 396.3L1678.0 394.7L1679.9 393.1L1681.9 392.0L1684.1 391.9L1685.9 392.6L1687.8 393.7L1689.7 395.2L1691.7 396.9L1693.7 398.8L1695.8 400.6L1697.8 402.3L1699.8 403.7L1701.7 404.9L1703.6 406.0L1705.5 407.1L1707.4 408.1L1709.3 409.1L1711.3 410.0L1713.4 410.8L1715.5 411.6L1717.3 412.2L1719.2 412.7L1721.1 413.2L1723.1 413.6L1725.1 414.0L1727.1 414.4L1729.1 414.7L1731.1 415.0L1733.1 415.3L1735.1 415.5L1737.1 415.7L1739.2 415.9L1741.3 416.0L1743.5 416.1L1745.6 416.1L1747.7 416.2L1749.7 416.1L1751.5 416.0L1753.2 415.8L1754.7 415.5L1757.1 414.6L1758.9 413.3L1760.3 411.8L1761.6 410.3L1763.0 409.0L1765.0 407.4L1766.9 405.9L1768.7 404.5L1770.4 403.7L1772.4 403.4L1774.2 403.9L1776.0 405.0L1777.4 406.0L1778.7 407.2L1780.2 408.9L1782.2 411.6L1783.9 414.3L1785.9 417.6L1788.0 421.3L1790.2 425.1L1792.2 428.5L1794.0 431.2L1796.2 434.3L1798.2 436.6L1800.0 438.2L1801.8 439.0L1803.8 438.7L1805.9 437.5L1807.7 436.0L1809.0 435.0" fill="none" stroke="#808000" stroke-opacity="0.8" stroke-width="6.25" stroke-linejoin="round"/><path d="M88.9 670.3L89.9 670.2L91.2 670.1L92.7 670.0L94.7 669.9L97.1 669.8L100.0 669.6L101.5 669.5L103.1 669.5L105.0 669.4L106.9 669.3L109.0 669.2L111.1 669.1L113.3 669.0L115.5 668.9L117.7 668.8L119.8 668.7L121.9 668.6L123.9 668.5L125.8 668.4L127.5 668.3L129.7 668.1L131.7 668.0L133.7 667.8L135.5 667.6L137.2 667.4L138.9 667.3L140.6 667.1L142.3 666.9L144.0 666.7L145.8 666.5L147.6 666.3L149.5 666.1L151.3 665.9L153.1 665.8L155.0 665.6L156.8 665.4L158.6 665.2L160.4 665.0L162.3 664.7L164.1 664.5L165.9 664.3L167.8 664.0L169.6 663.8L171.4 663.5L173.2 663.3L175.1 663.0L176.9 662.7L178.7 662.4L180.6 662.1L182.4 661.7L184.2 661.3L186.1 660.9L187.9 660.5L189.7 660.0L191.6 659.5L193.4 659.0L195.2 658.5L197.0 658.0L198.9 657.5L200.7 657.0L202.5 656.5L204.4 655.9L206.2 655.4L208.0 654.8L209.8 654.2L211.7 653.6L213.5 653.0L215.3 652.5L217.2 651.9L219.0 651.3L220.9 650.7L222.7 650.2L224.7 649.6L226.6 649.0L228.5 648.4L230.4 647.9L232.2 647.3L234.0 646.7L235.7 646.2L237.3 645.6L239.4 644.8L241.5 643.9L243.4 642.9L245.2 642.1L246.9 641.3L248.5 640.6L250.1 640.2L252.2 639.9L254.1 639.9L255.9 640.2L257.6 640.6L259.2 641.0L261.1 641.9L263.0 643.1L264.7 644.1L266.5 644.6L268.3 644.2L270.1 643.2L271.9 642.0L273.9 641.0L275.6 640.4L277.4 639.7L279.3 639.2L281.1 638.6L283.0 638.2L284.8 638.0L286.7 638.0L288.5 637.9L290.4 637.7L292.2 637.0L294.0 635.8L295.8 634.2L297.7 632.3L299.5 630.4L301.3 628.5L303.1 626.7L305.0 624.8L306.8 622.8L308.7 620.9L310.5 619.0L312.3 617.1L314.1 615.3L316.0 613.5L317.8 611.6L319.6 609.8L321.4 607.9L323.3 606.1L325.1 604.2L327.0 602.4L328.8 600.5L330.6 598.6L332.4 596.8L334.3 594.9L336.1 593.1L337.9 591.2L339.6 589.4L341.3 587.6L343.0 585.8L344.9 583.9L347.1 581.8L348.7 580.3L350.6 578.6L352.5 576.8L354.6 574.9L356.7 573.1L358.7 571.4L360.6 569.8L362.4 568.5L364.6 567.1L366.6 566.0L368.5 565.2L370.3 564.4L372.2 563.5L374.1 562.5L376.1 561.2L378.0 559.9L380.0 558.4L382.0 557.0L383.9 555.5L385.9 554.2L387.9 552.9L389.8 551.7L391.8 550.5L393.7 549.3L395.6 548.2L397.6 547.0L399.6 545.8L401.5 544.7L403.5 543.5L405.5 542.3L407.4 541.2L409.4 540.0L411.5 538.8L413.6 537.4L415.8 536.1L417.9 534.9L419.7 533.8L421.2 533.0L423.3 532.2L425.0 532.5L426.7 532.8L428.8 533.3L430.9 534.1L432.9 535.0L434.7 536.5L436.3 538.6L438.0 540.3L439.6 541.0L441.2 540.4L442.8 538.8L444.4 536.8L446.0 534.5L447.8 531.6L449.7 528.2L451.5 525.0L453.2 523.0L454.9 522.6L456.4 523.8L458.0 525.5L459.7 528.6L461.6 532.2L463.7 533.0L465.2 530.9L466.9 527.2L468.7 522.7L470.4 518.2L472.0 514.5L473.6 510.8L475.1 507.5L476.5 504.5L478.0 502.0L479.6 499.8L481.3 498.0L482.9 496.6L484.6 496.0L486.2 496.1L487.7 496.8L489.3 498.1L491.0 500.0L492.6 502.4L494.4 505.6L496.2 508.9L497.8 511.6L499.2 513.0L501.3 511.1L503.0 505.0L504.4 499.3L505.9 492.3L507.6 485.0L509.1 479.5L510.6 473.8L512.4 467.9L514.5 462.0L516.1 458.1L517.9 454.2L519.9 450.3L521.9 446.3L523.9 442.2L526.0 438.0L527.7 434.2L529.5 430.2L531.3 426.0L533.1 421.9L535.0 417.8L537.0 413.9L539.0 410.1L540.7 407.3L542.4 404.5L544.2 401.8L546.1 399.2L547.9 396.6L549.8 394.1L551.7 391.7L553.6 389.5L555.4 387.3L557.2 385.3L559.1 383.4L561.0 381.6L562.8 379.9L564.7 378.3L566.5 376.8L568.3 375.3L570.0 373.9L571.7 372.5L573.8 370.8L575.8 369.0L577.7 367.4L579.6 366.0L581.4 364.6L583.1 363.5L584.8 362.7L587.0 361.9L589.0 361.6L590.8 361.6L592.7 362.0L594.6 362.7L596.6 363.9L598.6 365.7L600.6 367.6L602.6 369.5L604.4 370.9L606.4 372.1L608.3 372.8L610.1 373.3L612.0 373.5L613.7 373.1L615.3 372.2L617.1 371.2L618.9 370.8L620.7 371.5L622.5 373.7L624.4 377.0L626.3 380.8L628.3 384.5L630.5 387.3L632.2 388.7L634.1 389.7L636.1 390.6L638.0 391.3L640.0 392.0L641.9 392.8L643.6 393.8L645.8 395.7L647.8 397.8L649.8 400.0L651.6 402.0L653.4 403.6L655.2 404.9L656.9 405.9L658.6 406.7L660.2 407.1L661.6 406.9L663.6 405.1L665.3 402.1L667.0 399.0L668.4 396.6L669.9 394.0L671.4 391.8L673.0 390.5L674.7 390.5L676.5 391.4L678.3 392.8L680.0 394.0L681.6 395.3L683.1 396.9L684.5 398.2L686.1 398.7L687.8 398.0L689.5 396.4L691.3 394.6L693.0 393.0L694.6 391.7L696.1 390.5L697.7 389.5L699.2 388.9L700.7 389.0L702.3 389.7L703.8 390.5L705.5 391.0L707.3 390.9L709.2 390.5L711.1 390.3L713.1 391.0L714.7 392.4L716.4 394.4L718.2 396.8L719.9 399.1L721.6 401.2L723.3 403.0L725.1 404.6L726.9 406.1L728.5 407.8L730.0 409.7L731.9 413.4L733.5 417.4L735.2 421.6L736.8 425.1L738.5 428.8L740.3 432.4L742.0 435.2L743.8 437.4L745.6 439.2L747.4 440.2L748.8 440.3L750.6 437.0L752.0 431.0L753.7 423.0L755.5 414.8L757.3 408.7L759.0 404.0L760.4 400.9L762.3 399.5L763.8 399.6L765.5 400.2L767.3 401.3L769.1 402.9L770.8 405.2L772.5 408.2L774.2 411.5L775.9 414.8L777.6 418.2L779.3 421.8L781.0 425.3L782.7 428.4L784.4 431.0L786.2 433.2L787.9 435.1L789.5 436.9L791.4 439.2L793.2 441.0L794.6 442.0L796.0 441.2L797.0 439.0L798.1 436.9L799.7 433.5L801.2 430.3L803.0 426.2L804.9 422.4L806.5 419.9L808.1 419.4L809.5 420.7L811.0 422.0L812.6 423.1L814.4 424.3L816.7 425.0L818.2 425.0L819.9 424.8L821.7 424.4L823.6 424.0L825.3 423.6L826.9 423.3L828.8 422.7L830.5 422.0L832.1 421.5L833.7 421.6L835.3 422.5L836.9 423.9L838.6 425.4L840.5 426.7L842.0 427.5L843.8 428.4L845.6 429.2L847.4 429.7L849.2 429.8L850.7 429.2L852.6 426.8L854.2 423.1L855.8 418.9L857.5 414.8L859.0 411.7L860.6 408.6L862.3 405.4L864.1 402.4L866.0 399.5L867.8 397.2L869.8 395.0L872.0 392.8L874.1 390.8L876.1 389.1L877.9 387.6L879.8 386.4L881.6 385.9L883.3 385.5L884.9 385.0L886.4 384.0L888.1 382.3L889.5 380.3L891.0 377.8L893.1 374.2L894.6 371.5L896.4 368.3L898.2 364.7L900.2 360.9L902.2 357.2L904.2 353.8L906.1 350.7L908.0 348.0L909.8 345.5L911.7 343.1L913.6 340.9L915.5 338.8L917.3 336.8L919.2 335.0L921.1 333.4L923.0 332.0L925.0 330.7L926.9 329.6L928.8 328.4L930.6 327.2L932.3 325.9L934.2 324.1L936.1 322.2L937.8 320.2L939.5 318.3L941.1 316.6L942.7 315.4L944.9 314.2L946.9 313.6L948.8 313.6L950.6 314.1L952.3 315.2L953.9 316.8L955.5 319.0L957.1 321.9L958.7 325.7L960.3 330.4L961.9 335.4L963.6 340.2L965.5 344.8L967.5 349.4L969.5 353.9L971.5 358.5L973.5 363.0L975.6 367.5L977.5 372.0L979.3 376.8L981.2 383.7L982.9 390.8L984.5 397.7L986.2 404.4L987.9 410.8L989.8 416.0L991.3 419.2L992.8 422.0L994.5 423.7L996.3 424.0L998.0 422.8L999.9 420.6L1001.8 417.7L1003.7 414.3L1005.5 410.8L1007.6 405.9L1009.7 400.2L1011.6 394.6L1013.3 389.9L1015.2 385.3L1016.7 381.8L1018.0 379.0L1019.7 375.5L1021.1 374.2L1022.1 375.8L1023.0 381.0L1023.9 390.7L1025.1 405.2L1026.4 418.4L1028.0 433.8L1029.6 450.3L1031.2 469.2L1032.8 489.2L1034.1 504.4L1035.3 514.4L1036.2 516.4L1037.1 513.6L1038.0 506.0L1038.9 495.7L1040.1 480.3L1041.4 464.4L1043.0 445.6L1044.6 429.2L1046.2 416.9L1047.8 406.9L1049.2 399.2L1050.7 392.5L1052.0 390.0L1053.2 390.7L1054.5 394.0L1055.8 400.0L1057.7 405.6L1059.4 406.6L1061.4 406.7L1063.6 406.6L1065.6 406.9L1067.5 407.7L1069.2 408.7L1071.0 409.8L1072.8 411.2L1074.7 413.2L1076.6 415.8L1078.4 417.9L1079.9 418.6L1081.9 416.0L1083.5 409.0L1085.2 396.5L1087.4 382.0L1088.9 375.2L1090.5 368.2L1092.5 361.7L1094.8 356.4L1096.4 354.0L1098.2 352.1L1100.1 350.5L1102.1 349.1L1104.1 347.8L1105.9 346.6L1107.6 345.4L1109.7 343.9L1111.6 342.7L1113.4 341.6L1115.1 340.2L1116.7 338.1L1118.6 334.5L1120.3 330.1L1122.1 325.1L1124.0 319.8L1125.6 315.4L1127.3 310.8L1129.0 305.8L1131.0 300.4L1133.2 294.2L1134.8 289.7L1136.6 284.6L1138.4 279.2L1140.4 273.6L1142.4 268.0L1144.3 262.8L1146.1 258.0L1147.8 253.9L1149.8 249.5L1151.7 245.9L1153.4 242.9L1155.1 240.3L1156.9 238.0L1158.8 235.6L1160.6 233.6L1162.5 231.7L1164.4 230.0L1166.3 228.4L1168.2 227.0L1170.0 225.8L1171.6 224.8L1173.6 223.6L1175.3 222.6L1176.9 222.1L1178.5 222.2L1180.1 223.1L1181.9 225.2L1183.7 228.5L1185.4 232.2L1187.1 235.7L1188.6 238.4L1190.5 241.4L1192.0 243.3L1193.7 243.5L1195.2 242.1L1196.9 239.5L1198.6 236.3L1200.5 233.3L1202.1 230.9L1203.8 228.2L1205.5 225.5L1207.3 223.2L1209.0 221.4L1210.7 220.2L1212.4 219.4L1214.2 219.0L1215.9 219.1L1217.6 219.7L1219.3 220.8L1221.0 222.4L1222.7 224.5L1224.4 227.0L1226.1 229.9L1227.8 233.4L1229.5 237.7L1231.2 242.1L1232.9 246.5L1234.6 250.3L1236.3 253.6L1237.9 256.6L1239.6 259.4L1241.3 261.8L1243.1 263.9L1244.7 265.3L1246.2 266.4L1247.9 267.3L1249.6 268.0L1251.4 268.5L1253.3 269.0L1255.1 269.3L1256.9 269.4L1258.9 269.5L1260.9 269.4L1262.9 269.3L1264.9 269.2L1266.9 269.0L1268.9 268.8L1271.0 268.4L1273.1 268.1L1275.1 267.6L1277.1 267.2L1278.9 266.9L1280.5 266.6L1282.5 266.2L1283.9 265.9L1285.4 265.7L1287.6 265.7L1289.1 265.8L1290.7 266.0L1292.5 266.2L1294.5 266.5L1296.5 266.8L1298.5 267.1L1300.7 267.3L1302.8 267.6L1304.5 267.8L1306.3 267.9L1308.2 268.0L1310.1 268.1L1312.0 268.2L1314.0 268.3L1315.9 268.5L1317.9 268.8L1319.8 269.1L1321.7 269.5L1323.6 270.1L1325.6 270.7L1327.5 271.5L1329.5 272.4L1331.4 273.3L1333.4 274.2L1335.3 275.1L1337.1 275.9L1339.0 276.5L1340.7 277.1L1342.8 277.6L1344.9 277.9L1346.9 278.1L1348.9 278.2L1350.8 278.3L1352.6 278.4L1354.3 278.6L1355.9 279.0L1358.2 279.7L1360.2 280.5L1362.0 281.4L1363.7 282.8L1365.4 284.7L1367.4 288.2L1369.3 292.6L1371.1 297.3L1372.9 301.7L1374.7 305.5L1376.6 309.2L1378.5 312.9L1380.5 316.9L1382.3 320.5L1384.3 324.5L1386.2 328.5L1388.2 332.4L1390.0 335.9L1392.0 339.7L1393.8 343.1L1395.6 346.3L1397.6 349.2L1399.3 351.6L1401.2 354.0L1403.1 356.1L1405.0 357.7L1407.1 358.6L1408.9 358.6L1410.7 358.1L1412.6 357.1L1414.5 355.9L1416.5 354.4L1418.5 353.0L1420.3 351.6L1422.2 349.9L1424.1 348.1L1426.1 346.2L1428.0 344.4L1429.9 342.8L1431.7 341.6L1433.7 340.5L1435.6 339.7L1437.5 339.1L1439.4 338.8L1441.2 338.7L1443.1 338.9L1445.0 339.4L1446.8 340.3L1448.6 341.5L1450.4 342.8L1452.4 344.1L1454.5 345.4L1456.3 346.4L1458.1 347.4L1460.1 348.5L1462.2 349.6L1464.2 350.7L1466.2 351.6L1468.0 352.4L1469.7 353.0L1471.7 353.4L1473.4 353.6L1475.1 353.6L1476.6 353.4L1478.3 353.0L1480.0 352.7L1481.9 352.2L1483.8 351.6L1485.8 350.9L1487.8 350.1L1489.8 349.4L1491.8 348.8L1493.8 348.4L1495.7 348.1L1497.7 347.8L1499.6 347.5L1501.5 347.2L1503.5 346.8L1505.4 346.2L1507.3 345.4L1509.1 344.6L1511.1 343.8L1513.1 343.2L1515.3 342.9L1517.1 342.9L1519.0 343.2L1521.0 343.7L1523.0 344.2L1525.1 344.7L1527.1 345.0L1529.1 345.1L1531.0 344.8L1533.1 344.0L1535.1 342.8L1537.1 341.3L1539.0 339.7L1540.9 338.0L1542.9 336.4L1544.8 335.0L1546.7 333.7L1548.7 332.3L1550.6 330.9L1552.5 329.6L1554.4 328.5L1556.4 327.7L1558.5 327.2L1560.4 327.2L1562.3 327.6L1564.2 328.2L1566.2 329.0L1568.2 329.8L1570.2 330.5L1572.2 331.0L1574.2 331.1L1576.2 330.8L1578.1 330.3L1580.1 329.6L1582.1 328.8L1584.0 327.8L1586.0 326.9L1587.9 326.0L1589.9 325.2L1591.9 324.5L1593.9 323.8L1596.0 323.1L1598.0 322.4L1600.0 321.7L1601.9 320.9L1603.8 320.1L1605.6 319.3L1607.8 318.1L1609.8 316.7L1611.6 315.3L1613.5 313.9L1615.4 312.6L1617.4 311.5L1619.2 310.7L1621.1 310.0L1622.9 309.3L1624.8 308.7L1626.8 308.2L1628.9 307.8L1631.1 307.5L1632.9 307.3L1634.8 307.3L1636.8 307.3L1638.8 307.4L1640.9 307.5L1642.9 307.6L1644.9 307.7L1646.9 307.6L1648.8 307.5L1650.9 307.2L1652.9 306.9L1654.8 306.5L1656.8 306.0L1658.7 305.5L1660.6 304.9L1662.6 304.3L1664.5 303.6L1666.5 302.8L1668.5 301.8L1670.5 300.8L1672.5 299.7L1674.5 298.6L1676.4 297.6L1678.3 296.6L1680.2 295.8L1682.3 295.0L1684.3 294.3L1686.2 293.8L1688.1 293.2L1690.0 292.8L1692.0 292.3L1693.9 291.9L1695.8 291.5L1697.6 291.3L1699.5 291.1L1701.3 290.9L1703.2 290.7L1705.3 290.4L1707.6 289.9L1709.3 289.5L1711.2 289.0L1713.2 288.4L1715.2 287.8L1717.3 287.2L1719.4 286.5L1721.5 285.9L1723.5 285.2L1725.5 284.6L1727.3 284.0L1729.5 283.3L1731.6 282.7L1733.7 282.0L1735.7 281.4L1737.6 280.7L1739.5 280.0L1741.3 279.1L1743.0 278.1L1745.2 276.5L1747.2 274.7L1749.1 272.7L1750.9 270.6L1752.8 268.4L1754.7 266.3L1756.7 264.0L1758.6 261.6L1760.6 259.1L1762.6 256.7L1764.5 254.5L1766.5 252.6L1768.5 251.1L1770.5 249.8L1772.5 248.7L1774.5 247.8L1776.4 247.1L1778.3 246.7L1780.4 246.5L1782.4 246.7L1784.3 247.1L1786.2 247.8L1788.1 248.7L1790.0 250.1L1792.0 252.2L1793.9 254.2L1795.9 255.8L1797.9 256.5L1799.8 256.0L1801.9 254.8L1804.1 253.1L1806.1 251.3L1807.8 249.7L1809.0 248.7" fill="none" stroke="#ff4500" stroke-opacity="0.8" stroke-width="6.25" stroke-dasharray="23.1 10" stroke-linejoin="round"/><g id="haze2" fill="none" stroke-width="0.9" stroke="#ffa500" stroke-opacity="0.24" stroke-dasharray="3.85 1.66"><use href="#r0" transform="matrix(1 0 0 1.038 0 -25.5)" vector-effect="non-scaling-stroke" stroke-dashoffset="1.8"/><use href="#r0" transform="matrix(1 0 0 0.922 0 52.6)" vector-effect="non-scaling-stroke" stroke-dashoffset="4.8"/><use href="#r0" transform="matrix(1 0 0 1.003 0 -2.1)" vector-effect="non-scaling-stroke" stroke-dashoffset="5.4"/><use href="#r1" transform="matrix(1 0 0 0.974 0 17.7)" vector-effect="non-scaling-stroke" stroke-dashoffset="2.8"/><use href="#r1" transform="matrix(1 0 0 1.012 0 -8.0)" vector-effect="non-scaling-stroke" stroke-dashoffset="5.5"/><use href="#r1" transform="matrix(1 0 0 0.998 0 1.3)" vector-effect="non-scaling-stroke" stroke-dashoffset="1.7"/><use href="#r2" transform="matrix(1 0 0 1.026 0 -17.4)" vector-effect="non-scaling-stroke" stroke-dashoffset="0.4"/><use href="#r2" transform="matrix(1 0 0 0.965 0 23.6)" vector-effect="non-scaling-stroke" stroke-dashoffset="3.3"/><use href="#r2" transform="matrix(1 0 0 1.077 0 -51.9)" vector-effect="non-scaling-stroke" stroke-dashoffset="0.2"/><use href="#r3" transform="matrix(1 0 0 1.097 0 -65.3)" vector-effect="non-scaling-stroke" stroke-dashoffset="1.1"/><use href="#r3" transform="matrix(1 0 0 0.991 0 5.9)" vector-effect="non-scaling-stroke" stroke-dashoffset="2.2"/><use href="#r3" transform="matrix(1 0 0 0.999 0 0.4)" vector-effect="non-scaling-stroke" stroke-dashoffset="3.4"/><use href="#r4" transform="matrix(1 0 0 1.012 0 -8.1)" vector-effect="non-scaling-stroke" stroke-dashoffset="0.9"/><use href="#r4" transform="matrix(1 0 0 1.053 0 -35.7)" vector-effect="non-scaling-stroke" stroke-dashoffset="0.2"/><use href="#r4" transform="matrix(1 0 0 1.080 0 -53.5)" vector-effect="non-scaling-stroke" stroke-dashoffset="4.8"/><use href="#r5" transform="matrix(1 0 0 0.949 0 34.0)" vector-effect="non-scaling-stroke" stroke-dashoffset="1.7"/><use href="#r5" transform="matrix(1 0 0 0.974 0 17.4)" vector-effect="non-scaling-stroke" stroke-dashoffset="5.3"/><use href="#r5" transform="matrix(1 0 0 0.955 0 30.0)" vector-effect="non-scaling-stroke" stroke-dashoffset="4.9"/><use href="#r6" transform="matrix(1 0 0 0.953 0 31.4)" vector-effect="non-scaling-stroke" stroke-dashoffset="2.1"/><use href="#r6" transform="matrix(1 0 0 0.931 0 46.2)" vector-effect="non-scaling-stroke" stroke-dashoffset="2.5"/><use href="#r6" transform="matrix(1 0 0 1.015 0 -10.2)" vector-effect="non-scaling-stroke" stroke-dashoffset="2.9"/><use href="#r7" transform="matrix(1 0 0 0.951 0 32.7)" vector-effect="non-scaling-stroke" stroke-dashoffset="3.5"/><use href="#r7" transform="matrix(1 0 0 1.063 0 -42.4)" vector-effect="non-scaling-stroke" stroke-dashoffset="3.3"/><use href="#r7" transform="matrix(1 0 0 1.038 0 -25.6)" vector-effect="non-scaling-stroke" stroke-dashoffset="3.1"/><use href="#r8" transform="matrix(1 0 0 0.957 0 29.0)" vector-effect="non-scaling-stroke" stroke-dashoffset="3.4"/><use href="#r8" transform="matrix(1 0 0 0.957 0 29.1)" vector-effect="non-scaling-stroke" stroke-dashoffset="5.2"/><use href="#r8" transform="matrix(1 0 0 0.974 0 17.3)" vector-effect="non-scaling-stroke" stroke-dashoffset="2.8"/><use href="#r9" transform="matrix(1 0 0 1.059 0 -39.5)" vector-effect="non-scaling-stroke" stroke-dashoffset="2.4"/><use href="#r9" transform="matrix(1 0 0 0.964 0 24.0)" vector-effect="non-scaling-stroke" stroke-dashoffset="4.0"/><use href="#r9" transform="matrix(1 0 0 0.937 0 42.1)" vector-effect="non-scaling-stroke" stroke-dashoffset="1.3"/><use href="#r10" transform="matrix(1 0 0 0.998 0 1.4)" vector-effect="non-scaling-stroke" stroke-dashoffset="1.7"/><use href="#r10" transform="matrix(1 0 0 1.016 0 -10.5)" vector-effect="non-scaling-stroke" stroke-dashoffset="5.4"/><use href="#r10" transform="matrix(1 0 0 0.972 0 18.5)" vector-effect="non-scaling-stroke" stroke-dashoffset="2.9"/><use href="#r11" transform="matrix(1 0 0 1.068 0 -45.7)" vector-effect="non-scaling-stroke" stroke-dashoffset="3.0"/><use href="#r11" transform="matrix(1 0 0 1.010 0 -6.8)" vector-effect="non-scaling-stroke" stroke-dashoffset="0.1"/><use href="#r11" transform="matrix(1 0 0 1.019 0 -12.8)" vector-effect="non-scaling-stroke" stroke-dashoffset="2.3"/><use href="#r12" transform="matrix(1 0 0 0.964 0 24.1)" vector-effect="non-scaling-stroke" stroke-dashoffset="3.2"/><use href="#r12" transform="matrix(1 0 0 0.998 0 1.1)" vector-effect="non-scaling-stroke" stroke-dashoffset="0.1"/><use href="#r12" transform="matrix(1 0 0 0.993 0 4.4)" vector-effect="non-scaling-stroke" stroke-dashoffset="3.4"/><use href="#r13" transform="matrix(1 0 0 0.905 0 64.1)" vector-effect="non-scaling-stroke" stroke-dashoffset="3.5"/><use href="#r13" transform="matrix(1 0 0 1.012 0 -8.1)" vector-effect="non-scaling-stroke" stroke-dashoffset="0.3"/><use href="#r13" transform="matrix(1 0 0 0.925 0 50.6)" vector-effect="non-scaling-stroke" stroke-dashoffset="3.5"/><use href="#r14" transform="matrix(1 0 0 0.999 0 0.8)" vector-effect="non-scaling-stroke" stroke-dashoffset="2.6"/><use href="#r14" transform="matrix(1 0 0 0.938 0 41.6)" vector-effect="non-scaling-stroke" stroke-dashoffset="3.7"/><use href="#r14" transform="matrix(1 0 0 1.085 0 -57.0)" vector-effect="non-scaling-stroke" stroke-dashoffset="1.9"/><use href="#r15" transform="matrix(1 0 0 1.014 0 -9.2)" vector-effect="non-scaling-stroke" stroke-dashoffset="3.9"/><use href="#r15" transform="matrix(1 0 0 1.036 0 -24.3)" vector-effect="non-scaling-stroke" stroke-dashoffset="4.1"/><use href="#r15" transform="matrix(1 0 0 1.039 0 -25.9)" vector-effect="non-scaling-stroke" stroke-dashoffset="0.1"/><use href="#r16" transform="matrix(1 0 0 0.944 0 37.4)" vector-effect="non-scaling-stroke" stroke-dashoffset="0.3"/><use href="#r16" transform="matrix(1 0 0 0.904 0 64.4)" vector-effect="non-scaling-stroke" stroke-dashoffset="3.7"/><use href="#r16" transform="matrix(1 0 0 0.986 0 9.3)" vector-effect="non-scaling-stroke" stroke-dashoffset="5.3"/><use href="#r17" transform="matrix(1 0 0 1.038 0 -25.3)" vector-effect="non-scaling-stroke" stroke-dashoffset="1.4"/><use href="#r17" transform="matrix(1 0 0 1.004 0 -2.6)" vector-effect="non-scaling-stroke" stroke-dashoffset="2.5"/><use href="#r17" transform="matrix(1 0 0 1.033 0 -22.2)" vector-effect="non-scaling-stroke" stroke-dashoffset="3.3"/><use href="#r18" transform="matrix(1 0 0 1.039 0 -26.4)" vector-effect="non-scaling-stroke" stroke-dashoffset="1.8"/><use href="#r18" transform="matrix(1 0 0 0.937 0 42.1)" vector-effect="non-scaling-stroke" stroke-dashoffset="2.0"/><use href="#r18" transform="matrix(1 0 0 1.012 0 -8.1)" vector-effect="non-scaling-stroke" stroke-dashoffset="1.7"/><use href="#r19" transform="matrix(1 0 0 1.083 0 -55.5)" vector-effect="non-scaling-stroke" stroke-dashoffset="2.0"/><use href="#r19" transform="matrix(1 0 0 0.976 0 16.1)" vector-effect="non-scaling-stroke" stroke-dashoffset="3.3"/><use href="#r19" transform="matrix(1 0 0 0.915 0 57.2)" vector-effect="non-scaling-stroke" stroke-dashoffset="1.7"/><use href="#r20" transform="matrix(1 0 0 0.990 0 6.5)" vector-effect="non-scaling-stroke" stroke-dashoffset="2.1"/><use href="#r20" transform="matrix(1 0 0 0.980 0 13.1)" vector-effect="non-scaling-stroke" stroke-dashoffset="4.2"/><use href="#r20" transform="matrix(1 0 0 1.018 0 -11.8)" vector-effect="non-scaling-stroke" stroke-dashoffset="0.1"/><use href="#r21" transform="matrix(1 0 0 0.963 0 25.2)" vector-effect="non-scaling-stroke" stroke-dashoffset="3.1"/><use href="#r21" transform="matrix(1 0 0 1.004 0 -2.6)" vector-effect="non-scaling-stroke" stroke-dashoffset="4.0"/><use href="#r21" transform="matrix(1 0 0 0.907 0 62.6)" vector-effect="non-scaling-stroke" stroke-dashoffset="1.7"/><use href="#r22" transform="matrix(1 0 0 1.036 0 -24.1)" vector-effect="non-scaling-stroke" stroke-dashoffset="1.2"/><use href="#r22" transform="matrix(1 0 0 1.067 0 -44.8)" vector-effect="non-scaling-stroke" stroke-dashoffset="4.4"/><use href="#r22" transform="matrix(1 0 0 1.055 0 -36.6)" vector-effect="non-scaling-stroke" stroke-dashoffset="1.3"/><use href="#r23" transform="matrix(1 0 0 0.936 0 42.7)" vector-effect="non-scaling-stroke" stroke-dashoffset="1.0"/><use href="#r23" transform="matrix(1 0 0 1.013 0 -9.0)" vector-effect="non-scaling-stroke" stroke-dashoffset="2.4"/><use href="#r23" transform="matrix(1 0 0 0.875 0 84.2)" vector-effect="non-scaling-stroke" stroke-dashoffset="3.8"/><use href="#r24" transform="matrix(1 0 0 1.012 0 -8.0)" vector-effect="non-scaling-stroke" stroke-dashoffset="0.6"/><use href="#r24" transform="matrix(1 0 0 0.997 0 1.8)" vector-effect="non-scaling-stroke" stroke-dashoffset="1.8"/><use href="#r24" transform="matrix(1 0 0 0.958 0 28.1)" vector-effect="non-scaling-stroke" stroke-dashoffset="1.8"/><use href="#r25" transform="matrix(1 0 0 1.014 0 -9.7)" vector-effect="non-scaling-stroke" stroke-dashoffset="4.6"/><use href="#r25" transform="matrix(1 0 0 1.006 0 -3.9)" vector-effect="non-scaling-stroke" stroke-dashoffset="2.4"/><use href="#r25" transform="matrix(1 0 0 1.039 0 -26.5)" vector-effect="non-scaling-stroke" stroke-dashoffset="4.7"/><use href="#r26" transform="matrix(1 0 0 1.005 0 -3.6)" vector-effect="non-scaling-stroke" stroke-dashoffset="0.9"/><use href="#r26" transform="matrix(1 0 0 1.010 0 -6.6)" vector-effect="non-scaling-stroke" stroke-dashoffset="1.9"/><use href="#r26" transform="matrix(1 0 0 0.918 0 54.9)" vector-effect="non-scaling-stroke" stroke-dashoffset="3.6"/><use href="#r27" transform="matrix(1 0 0 0.951 0 32.7)" vector-effect="non-scaling-stroke" stroke-dashoffset="4.9"/><use href="#r27" transform="matrix(1 0 0 0.980 0 13.4)" vector-effect="non-scaling-stroke" stroke-dashoffset="2.5"/><use href="#r27" transform="matrix(1 0 0 1.012 0 -8.4)" vector-effect="non-scaling-stroke" stroke-dashoffset="1.2"/><use href="#r28" transform="matrix(1 0 0 1.000 0 0.2)" vector-effect="non-scaling-stroke" stroke-dashoffset="0.7"/><use href="#r28" transform="matrix(1 0 0 1.063 0 -42.3)" vector-effect="non-scaling-stroke" stroke-dashoffset="2.9"/><use href="#r28" transform="matrix(1 0 0 0.963 0 24.5)" vector-effect="non-scaling-stroke" stroke-dashoffset="1.0"/><use href="#r29" transform="matrix(1 0 0 0.990 0 6.8)" vector-effect="non-scaling-stroke" stroke-dashoffset="4.4"/><use href="#r29" transform="matrix(1 0 0 1.011 0 -7.2)" vector-effect="non-scaling-stroke" stroke-dashoffset="4.6"/><use href="#r29" transform="matrix(1 0 0 0.990 0 6.5)" vector-effect="non-scaling-stroke" stroke-dashoffset="1.0"/><use href="#r30" transform="matrix(1 0 0 1.021 0 -14.0)" vector-effect="non-scaling-stroke" stroke-dashoffset="1.5"/><use href="#r30" transform="matrix(1 0 0 0.976 0 16.1)" vector-effect="non-scaling-stroke" stroke-dashoffset="4.4"/><use href="#r30" transform="matrix(1 0 0 1.060 0 -40.1)" vector-effect="non-scaling-stroke" stroke-dashoffset="3.5"/><use href="#r31" transform="matrix(1 0 0 0.987 0 9.0)" vector-effect="non-scaling-stroke" stroke-dashoffset="4.4"/><use href="#r31" transform="matrix(1 0 0 1.047 0 -31.5)" vector-effect="non-scaling-stroke" stroke-dashoffset="1.9"/><use href="#r31" transform="matrix(1 0 0 0.999 0 0.9)" vector-effect="non-scaling-stroke" stroke-dashoffset="0.7"/><use href="#r32" transform="matrix(1 0 0 1.063 0 -42.1)" vector-effect="non-scaling-stroke" stroke-dashoffset="1.6"/><use href="#r32" transform="matrix(1 0 0 0.941 0 39.4)" vector-effect="non-scaling-stroke" stroke-dashoffset="4.4"/><use href="#r32" transform="matrix(1 0 0 1.022 0 -14.6)" vector-effect="non-scaling-stroke" stroke-dashoffset="1.5"/><use href="#r33" transform="matrix(1 0 0 0.982 0 12.2)" vector-effect="non-scaling-stroke" stroke-dashoffset="1.9"/><use href="#r33" transform="matrix(1 0 0 1.010 0 -6.5)" vector-effect="non-scaling-stroke" stroke-dashoffset="2.3"/><use href="#r33" transform="matrix(1 0 0 1.050 0 -33.7)" vector-effect="non-scaling-stroke" stroke-dashoffset="2.3"/></g><g id="blue-pts" opacity="0.5" fill="#1e90ff" stroke="#000" stroke-width="2.08"><circle cx="118.3" cy="634.3" r="6.77"/><circle cx="137.2" cy="640.3" r="6.77"/><circle cx="151.6" cy="641.8" r="6.77"/><circle cx="158.9" cy="560.7" r="6.77"/><circle cx="165.7" cy="582.3" r="6.77"/><circle cx="172.7" cy="629.5" r="6.77"/><circle cx="182.7" cy="639.9" r="6.77"/><circle cx="190.2" cy="654.8" r="6.77"/><circle cx="202.5" cy="639.9" r="6.77"/><circle cx="209.4" cy="662.3" r="6.77"/><circle cx="217.1" cy="667.2" r="6.77"/><circle cx="227.5" cy="674.5" r="6.77"/><circle cx="237.3" cy="657.1" r="6.77"/><circle cx="244.6" cy="643.4" r="6.77"/><circle cx="250.1" cy="638.8" r="6.77"/><circle cx="255.6" cy="665.9" r="6.77"/><circle cx="308.9" cy="593.6" r="6.77"/><circle cx="313.6" cy="585.2" r="6.77"/><circle cx="320.5" cy="596.0" r="6.77"/><circle cx="325.9" cy="647.1" r="6.77"/><circle cx="332.2" cy="636.0" r="6.77"/><circle cx="338.4" cy="592.2" r="6.77"/><circle cx="343.1" cy="562.8" r="6.77"/><circle cx="349.4" cy="554.6" r="6.77"/><circle cx="351.3" cy="574.1" r="6.77"/><circle cx="359.5" cy="542.4" r="6.77"/><circle cx="365.2" cy="544.7" r="6.77"/><circle cx="514.8" cy="295.9" r="6.77"/><circle cx="530.6" cy="284.4" r="6.77"/><circle cx="546.9" cy="361.8" r="6.77"/><circle cx="563.4" cy="390.5" r="6.77"/><circle cx="579.9" cy="348.7" r="6.77"/><circle cx="596.2" cy="345.4" r="6.77"/><circle cx="612.5" cy="378.4" r="6.77"/><circle cx="629.5" cy="356.9" r="6.77"/><circle cx="645.6" cy="342.2" r="6.77"/><circle cx="661.6" cy="409.2" r="6.77"/><circle cx="677.3" cy="426.1" r="6.77"/><circle cx="693.9" cy="456.5" r="6.77"/></g><g id="navy-pts" fill="#000086" stroke="#000" stroke-width="2.1"><rect x="460.9" y="310.2" width="17.2" height="17.2"/><rect x="550.4" y="362.5" width="17.2" height="17.2"/><rect x="610.1" y="393.6" width="17.2" height="17.2"/><rect x="1204.3" y="341.5" width="17.2" height="17.2"/><rect x="1313.7" y="252.6" width="17.2" height="17.2"/><rect x="1612.7" y="367.6" width="17.2" height="17.2"/></g><path d="M1620.4 146.0V258.5" stroke="#ff4500" stroke-width="3.1" fill="none"/><path d="M1614.2 146.0H1626.7M1614.2 258.5H1626.7" stroke="#ff4500" stroke-width="2.08" fill="none"/><path d="M1561.2 202.3H1680.2" stroke="#ff4500" stroke-width="3.1" fill="none"/><path d="M1561.2 196.1V208.6M1680.2 196.1V208.6" stroke="#ff4500" stroke-width="2.08" fill="none"/><polygon points="1620.40,186.90 1623.86,197.54 1635.05,197.54 1625.99,204.12 1629.45,214.76 1620.40,208.18 1611.35,214.76 1614.81,204.12 1605.75,197.54 1616.94,197.54" fill="#ff4500" stroke="#000" stroke-width="2.2" stroke-linejoin="round"/></g><rect x="88.9" y="0.9" width="1720.1" height="670.8000000000001" fill="none" stroke="#000" stroke-width="1.9"/><path d="M127.20 671.7v7.6M323.46 671.7v7.6M518.92 671.7v7.6M714.39 671.7v7.6M909.85 671.7v7.6M1105.32 671.7v7.6M1300.78 671.7v7.6M1496.25 671.7v7.6M1691.71 671.7v7.6M88.9 671.70h-7.6M88.9 574.55h-7.6M88.9 477.40h-7.6M88.9 380.25h-7.6M88.9 283.10h-7.6M88.9 185.95h-7.6M88.9 88.80h-7.6" stroke="#000" stroke-width="1.9" fill="none"/><g font-family="DejaVu Serif, Liberation Serif, serif" font-size="35.4px" fill="#000"><g font-size="36.4px"><text x="128.0" y="714.8" text-anchor="middle">1.0</text><text x="323.5" y="714.8" text-anchor="middle">1.5</text><text x="518.9" y="714.8" text-anchor="middle">2.0</text><text x="714.4" y="714.8" text-anchor="middle">2.5</text><text x="909.9" y="714.8" text-anchor="middle">3.0</text><text x="1105.3" y="714.8" text-anchor="middle">3.5</text><text x="1300.8" y="714.8" text-anchor="middle">4.0</text><text x="1496.2" y="714.8" text-anchor="middle">4.5</text><text x="1691.7" y="714.8" text-anchor="middle">5.0</text><text x="73.6" y="685.6" text-anchor="end">0</text><text x="73.6" y="588.5" text-anchor="end">1</text><text x="73.6" y="491.3" text-anchor="end">2</text><text x="73.6" y="394.1" text-anchor="end">3</text><text x="73.6" y="297.0" text-anchor="end">4</text><text x="73.6" y="199.9" text-anchor="end">5</text><text x="73.6" y="102.7" text-anchor="end">6</text></g><text x="947.4" y="756.6" text-anchor="middle" letter-spacing="-0.25">Wavelength [<tspan font-family="DejaVu Sans, Liberation Sans, sans-serif" font-style="italic">μ</tspan>m]</text><text transform="translate(33.1 337.1) rotate(-90)" text-anchor="middle" letter-spacing="-0.45">Flux [<tspan font-family="DejaVu Sans, Liberation Sans, sans-serif">×10</tspan><tspan font-family="DejaVu Sans, Liberation Sans, sans-serif" font-size="24.8px" dy="-12.6">−17</tspan><tspan dy="12.6"> W/m</tspan><tspan font-family="DejaVu Sans, Liberation Sans, sans-serif" font-size="24.8px" dy="-12.6">2</tspan><tspan dy="12.6">/</tspan><tspan font-family="DejaVu Sans, Liberation Sans, sans-serif" font-style="italic">μ</tspan>m]</text></g><path d="M506.5 567.4H577.7" stroke="#808000" stroke-opacity="0.8" stroke-width="6.6" fill="none"/><path d="M509.8 620.6H533.7M544.1 620.6H568" stroke="#ff4500" stroke-opacity="0.8" stroke-width="6.6" fill="none"/><g font-family="DejaVu Serif, Liberation Serif, serif" font-size="33.3px" fill="#000" letter-spacing="-0.47"><text x="599.3" y="578.3">T<tspan font-family="DejaVu Sans, Liberation Sans, sans-serif" font-size="23.3px" dy="4.4">eff</tspan><tspan dy="-4.4" dx="1.5">=1000 K, log </tspan><tspan font-family="DejaVu Sans, Liberation Sans, sans-serif" font-style="italic">g</tspan>=3.0, M/H=0.1, R=2.6 R<tspan font-family="DejaVu Sans, Liberation Sans, sans-serif" font-size="23.3px" dy="4.4">J</tspan></text><text x="599.3" y="631.1">T<tspan font-family="DejaVu Sans, Liberation Sans, sans-serif" font-size="23.3px" dy="4.4">eff</tspan><tspan dy="-4.4" dx="1.5">=1089 K, log </tspan><tspan font-family="DejaVu Sans, Liberation Sans, sans-serif" font-style="italic">g</tspan>=3.0, M/H=-0.3, R=2.1 R<tspan font-family="DejaVu Sans, Liberation Sans, sans-serif" font-size="23.3px" dy="4.4">J</tspan><tspan dy="-4.4">, </tspan><tspan dx="2.9">T</tspan><tspan font-family="DejaVu Sans, Liberation Sans, sans-serif" font-size="23.3px" dy="4.4">disk</tspan><tspan dy="-4.4">=245 K, R</tspan><tspan font-family="DejaVu Sans, Liberation Sans, sans-serif" font-size="23.3px" dy="4.4">disk</tspan><tspan dy="-4.4"> = 210 R</tspan><tspan font-family="DejaVu Sans, Liberation Sans, sans-serif" font-size="23.3px" dy="4.4">J</tspan></text></g></svg></body></html>
